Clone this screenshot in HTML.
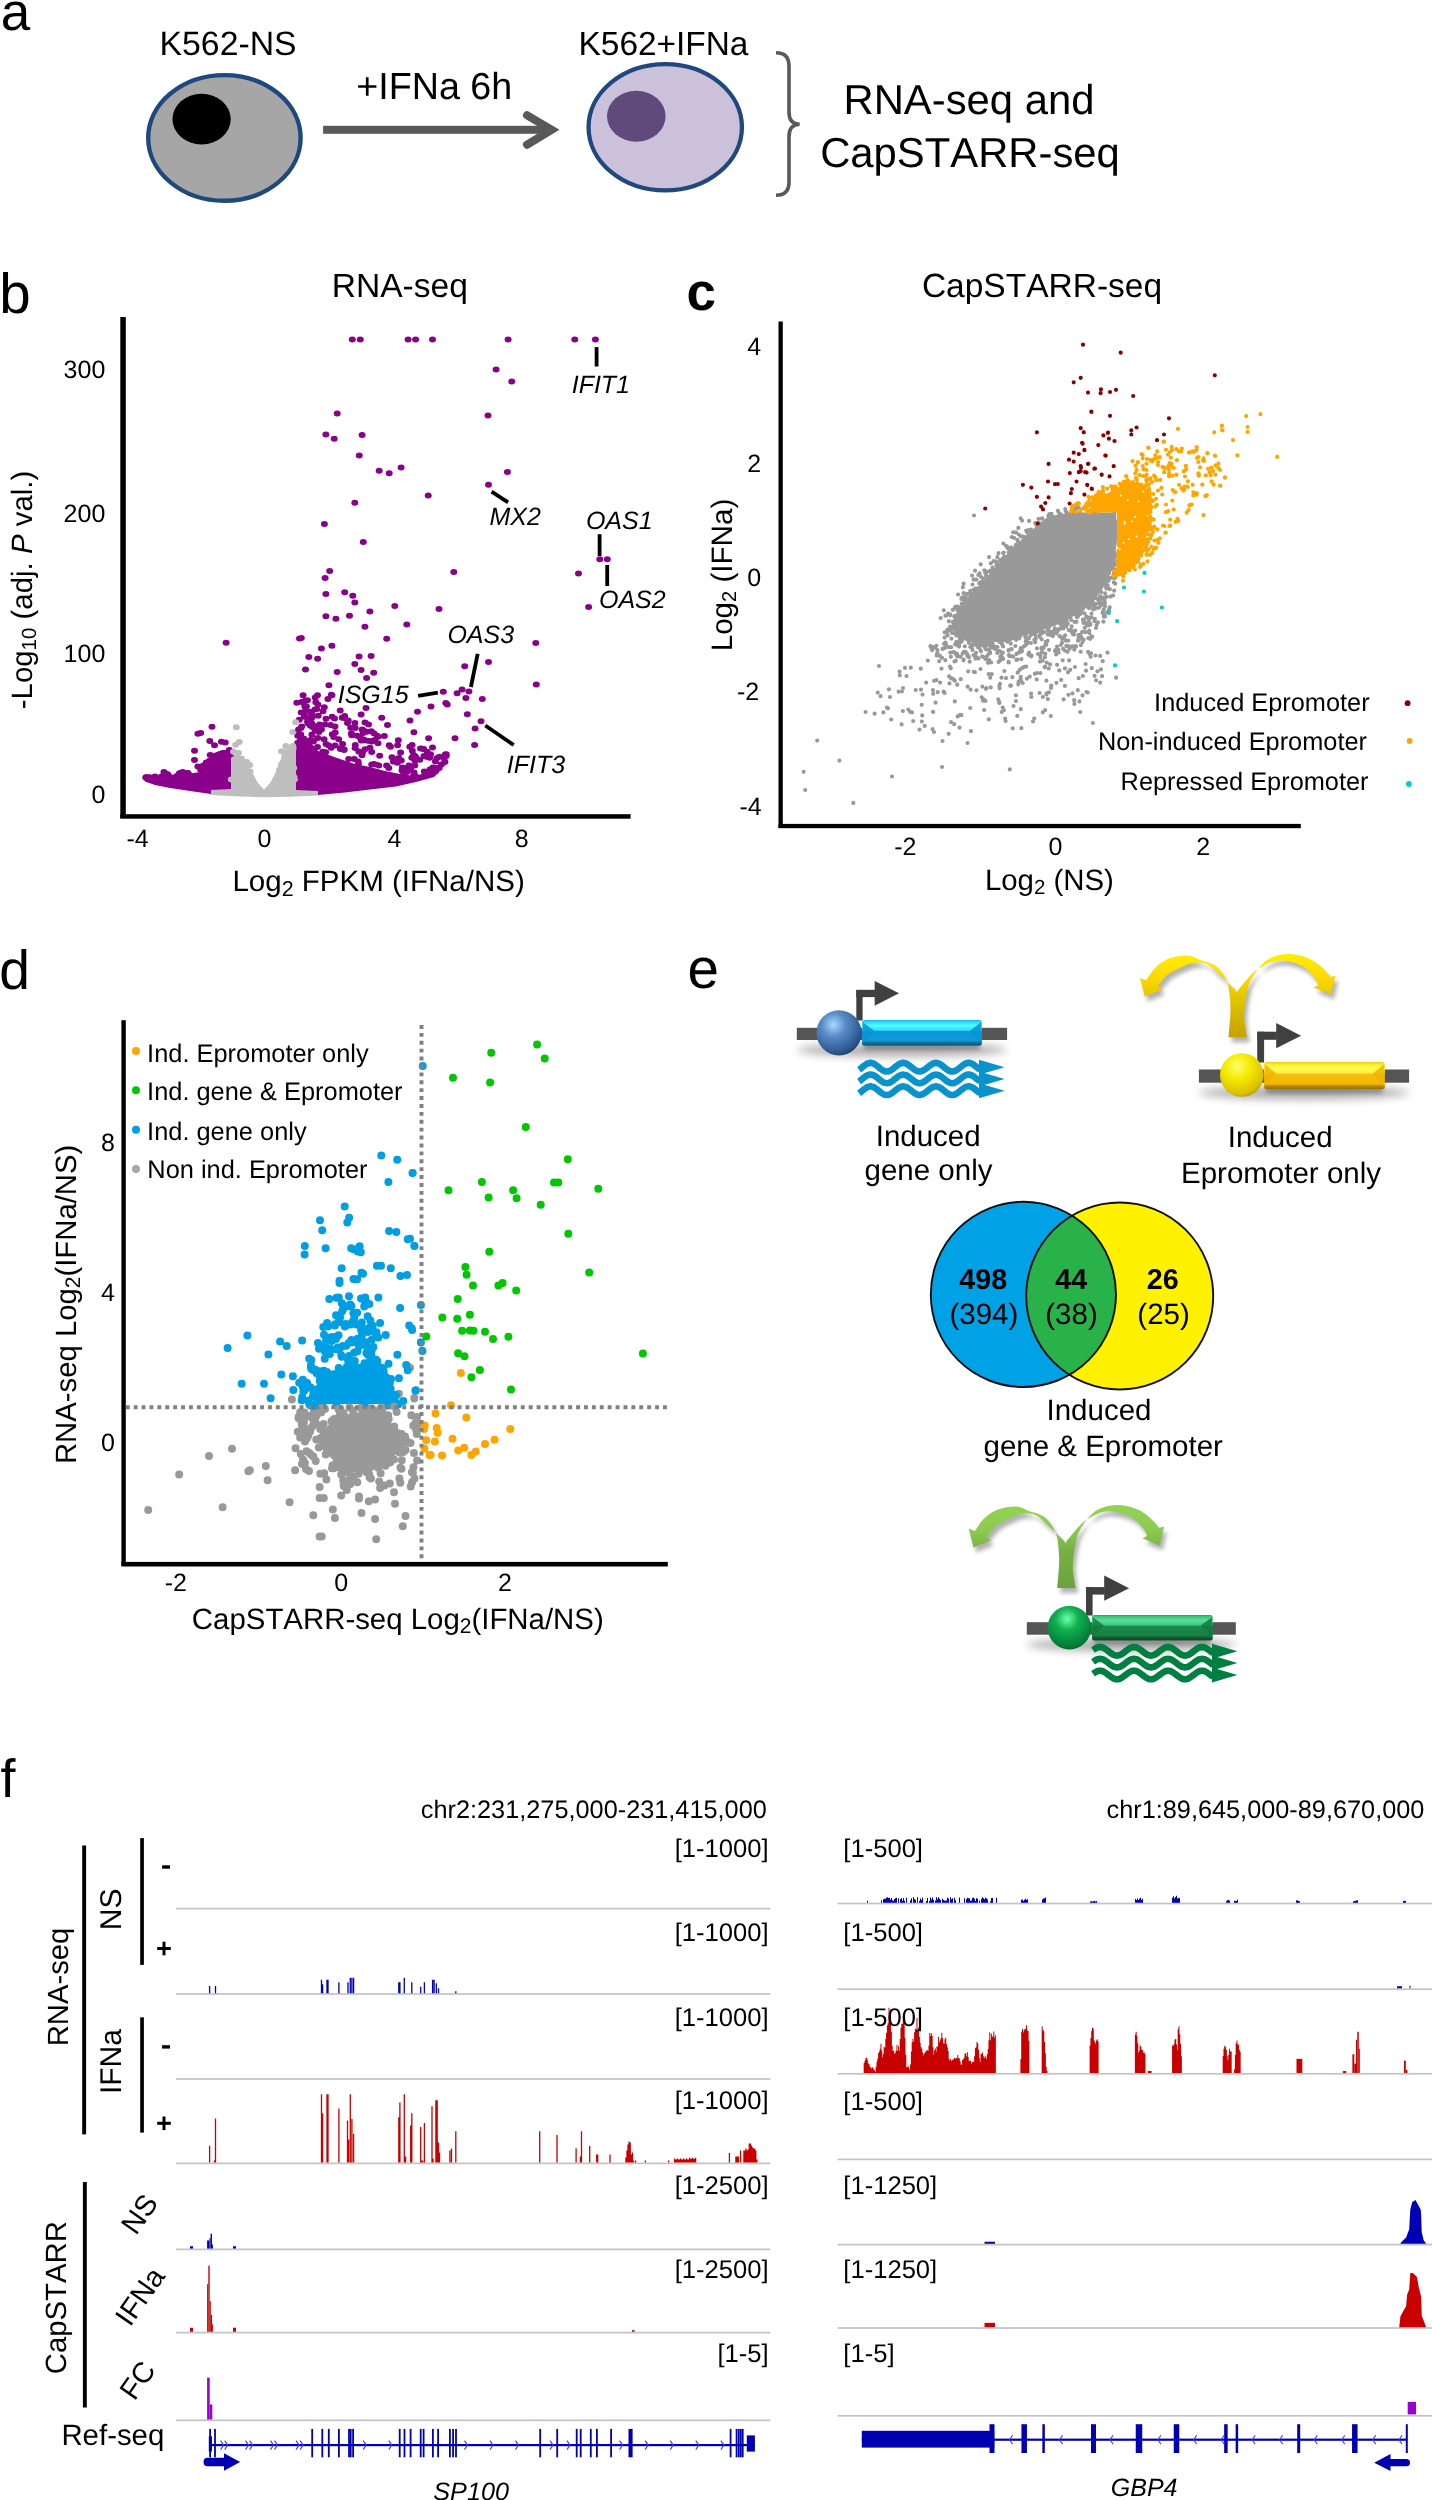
<!DOCTYPE html>
<html><head><meta charset="utf-8"><title>Figure</title>
<style>
html,body{margin:0;padding:0;background:#fff;}
svg{will-change:transform;}
body{width:1432px;height:2500px;overflow:hidden;}
svg{display:block;font-family:"Liberation Sans", sans-serif;}
text{font-kerning:none;text-rendering:geometricPrecision;}
</style></head><body>
<svg width="1432" height="2500" viewBox="0 0 1432 2500">
<rect width="1432" height="2500" fill="#fff"/>
<text x="0.7" y="30.0" font-size="53">a</text>
<text x="159.5" y="54.9" font-size="33.8">K562-NS</text>
<text x="356.2" y="98.6" font-size="37.7">+IFNa 6h</text>
<text x="578.6" y="54.5" font-size="33.4">K562+IFNa</text>
<text x="843.5" y="114.1" font-size="41.8">RNA-seq and</text>
<text x="820.2" y="166.6" font-size="41.8">CapSTARR-seq</text>
<ellipse cx="224.4" cy="137.95" rx="76.2" ry="62.85" fill="#A6A6A6" stroke="#1F497D" stroke-width="4.4"/>
<ellipse cx="201.6" cy="119.1" rx="29.15" ry="25.4" fill="#000"/>
<ellipse cx="665.25" cy="127.25" rx="76.7" ry="63.2" fill="#CCC1DA" stroke="#1F497D" stroke-width="4.3"/>
<ellipse cx="636.3" cy="116.25" rx="29.3" ry="25.45" fill="#604A7B"/>
<rect x="323.10" y="125.80" width="226.00" height="8.00" fill="#595959"/>
<polyline points="527,115.3 551.7,129.8 527,144.7" fill="none" stroke="#595959" stroke-width="8" stroke-linecap="round" stroke-linejoin="miter" stroke-miterlimit="10"/>
<path d="M776 52.8 Q789 52.8 789 66 L789 112 Q789 124.3 799.7 124.3 Q789 124.3 789 137 L789 182 Q789 195.3 776 195.3" fill="none" stroke="#595959" stroke-width="3.6"/>
<text x="-0.7" y="312.8" font-size="56.5">b</text>
<text x="331.7" y="296.5" font-size="33.6">RNA-seq</text>
<rect x="120.30" y="317.00" width="5.50" height="501.00" fill="#000"/>
<rect x="120.30" y="814.20" width="510.30" height="4.50" fill="#000"/>
<text x="105.3" y="377.5" font-size="25" text-anchor="end">300</text>
<text x="105.3" y="521.6" font-size="25" text-anchor="end">200</text>
<text x="105.3" y="662.2" font-size="25" text-anchor="end">100</text>
<text x="105.3" y="802.8" font-size="25" text-anchor="end">0</text>
<text x="137.6" y="847.0" font-size="25" text-anchor="middle">-4</text>
<text x="264.4" y="847.0" font-size="25" text-anchor="middle">0</text>
<text x="394.5" y="847.0" font-size="25" text-anchor="middle">4</text>
<text x="521.8" y="847.0" font-size="25" text-anchor="middle">8</text>
<text x="378.6" y="891.4" font-size="29.5" text-anchor="middle" id="bxl">Log<tspan font-size="21.5" dy="4.1">2</tspan><tspan dy="-4.1"> FPKM (IFNa/NS)</tspan></text>
<text x="32.2" y="590.0" font-size="29.4" text-anchor="middle" transform="rotate(-90 32.2 590.0)" id="byl">-Log<tspan font-size="20.5" dy="4.2">10</tspan><tspan dy="-4.2"> (adj. </tspan><tspan font-style="italic">P</tspan> val.)</text>
<polygon points="143.0,778.0 150.0,777.5 160.0,777.0 175.0,775.5 190.0,773.5 200.0,772.0 208.0,769.5 213.0,766.0 214.0,753.0 222.0,750.0 232.0,750.0 232.0,793.0 211.0,794.0 190.0,791.0 170.0,788.0 155.0,785.0 145.0,781.5" fill="#8B008B"/>
<polygon points="296.0,795.0 296.0,742.0 299.0,735.0 306.0,736.0 312.0,744.0 318.0,751.0 326.0,754.0 340.0,759.0 355.0,764.0 370.0,767.0 385.0,771.0 400.0,774.0 415.0,776.0 425.0,773.0 433.0,768.0 440.0,771.0 434.0,777.0 416.0,782.0 396.0,786.5 370.0,789.5 345.0,792.5 318.0,795.0" fill="#8B008B"/>
<polygon points="211.0,790.0 231.0,789.0 231.0,757.0 236.0,754.0 242.0,757.0 247.0,764.0 252.0,772.0 258.0,783.0 264.0,789.5 270.0,783.0 276.0,772.0 279.0,764.0 282.0,756.0 287.0,748.0 293.0,745.0 296.0,748.0 296.0,790.0 318.0,791.0 318.0,795.5 290.0,796.8 264.0,797.2 240.0,796.5 211.0,795.0" fill="#BEBEBE"/>
<path fill="#8B008B" d="M151.5 776.5a3.5 3.0 0 1 0 7.0 0a3.5 3.0 0 1 0 -7.0 0zM207.5 755.2a3.5 3.0 0 1 0 7.0 0a3.5 3.0 0 1 0 -7.0 0zM213.9 761.6a3.5 3.0 0 1 0 7.0 0a3.5 3.0 0 1 0 -7.0 0zM179.1 772.0a3.5 3.0 0 1 0 7.0 0a3.5 3.0 0 1 0 -7.0 0zM223.1 759.7a3.5 3.0 0 1 0 7.0 0a3.5 3.0 0 1 0 -7.0 0zM214.0 766.0a3.5 3.0 0 1 0 7.0 0a3.5 3.0 0 1 0 -7.0 0zM203.7 771.6a3.5 3.0 0 1 0 7.0 0a3.5 3.0 0 1 0 -7.0 0zM222.8 761.2a3.5 3.0 0 1 0 7.0 0a3.5 3.0 0 1 0 -7.0 0zM210.5 760.9a3.5 3.0 0 1 0 7.0 0a3.5 3.0 0 1 0 -7.0 0zM202.1 770.3a3.5 3.0 0 1 0 7.0 0a3.5 3.0 0 1 0 -7.0 0zM184.7 774.0a3.5 3.0 0 1 0 7.0 0a3.5 3.0 0 1 0 -7.0 0zM208.1 765.4a3.5 3.0 0 1 0 7.0 0a3.5 3.0 0 1 0 -7.0 0zM216.1 754.4a3.5 3.0 0 1 0 7.0 0a3.5 3.0 0 1 0 -7.0 0zM211.5 764.7a3.5 3.0 0 1 0 7.0 0a3.5 3.0 0 1 0 -7.0 0zM144.5 777.3a3.5 3.0 0 1 0 7.0 0a3.5 3.0 0 1 0 -7.0 0zM162.2 776.3a3.5 3.0 0 1 0 7.0 0a3.5 3.0 0 1 0 -7.0 0zM206.7 755.0a3.5 3.0 0 1 0 7.0 0a3.5 3.0 0 1 0 -7.0 0zM202.8 762.4a3.5 3.0 0 1 0 7.0 0a3.5 3.0 0 1 0 -7.0 0zM149.2 778.4a3.5 3.0 0 1 0 7.0 0a3.5 3.0 0 1 0 -7.0 0zM199.9 765.6a3.5 3.0 0 1 0 7.0 0a3.5 3.0 0 1 0 -7.0 0zM210.5 764.6a3.5 3.0 0 1 0 7.0 0a3.5 3.0 0 1 0 -7.0 0zM166.8 776.9a3.5 3.0 0 1 0 7.0 0a3.5 3.0 0 1 0 -7.0 0zM205.7 761.0a3.5 3.0 0 1 0 7.0 0a3.5 3.0 0 1 0 -7.0 0zM202.2 764.3a3.5 3.0 0 1 0 7.0 0a3.5 3.0 0 1 0 -7.0 0zM168.5 777.4a3.5 3.0 0 1 0 7.0 0a3.5 3.0 0 1 0 -7.0 0zM222.5 758.4a3.5 3.0 0 1 0 7.0 0a3.5 3.0 0 1 0 -7.0 0zM160.4 772.1a3.5 3.0 0 1 0 7.0 0a3.5 3.0 0 1 0 -7.0 0zM220.6 753.7a3.5 3.0 0 1 0 7.0 0a3.5 3.0 0 1 0 -7.0 0zM207.1 767.6a3.5 3.0 0 1 0 7.0 0a3.5 3.0 0 1 0 -7.0 0zM214.4 759.3a3.5 3.0 0 1 0 7.0 0a3.5 3.0 0 1 0 -7.0 0zM146.0 777.2a3.5 3.0 0 1 0 7.0 0a3.5 3.0 0 1 0 -7.0 0zM209.1 759.6a3.5 3.0 0 1 0 7.0 0a3.5 3.0 0 1 0 -7.0 0zM221.8 762.5a3.5 3.0 0 1 0 7.0 0a3.5 3.0 0 1 0 -7.0 0zM164.2 774.3a3.5 3.0 0 1 0 7.0 0a3.5 3.0 0 1 0 -7.0 0zM149.7 777.9a3.5 3.0 0 1 0 7.0 0a3.5 3.0 0 1 0 -7.0 0zM161.0 772.8a3.5 3.0 0 1 0 7.0 0a3.5 3.0 0 1 0 -7.0 0zM148.7 778.8a3.5 3.0 0 1 0 7.0 0a3.5 3.0 0 1 0 -7.0 0zM220.4 756.6a3.5 3.0 0 1 0 7.0 0a3.5 3.0 0 1 0 -7.0 0zM226.9 756.6a3.5 3.0 0 1 0 7.0 0a3.5 3.0 0 1 0 -7.0 0zM225.8 750.0a3.5 3.0 0 1 0 7.0 0a3.5 3.0 0 1 0 -7.0 0z"/>
<path fill="#8B008B" d="M301.3 706.5a3.5 3.0 0 1 0 7.0 0a3.5 3.0 0 1 0 -7.0 0zM422.8 756.7a3.5 3.0 0 1 0 7.0 0a3.5 3.0 0 1 0 -7.0 0zM387.0 746.7a3.5 3.0 0 1 0 7.0 0a3.5 3.0 0 1 0 -7.0 0zM359.7 730.3a3.5 3.0 0 1 0 7.0 0a3.5 3.0 0 1 0 -7.0 0zM298.1 702.1a3.5 3.0 0 1 0 7.0 0a3.5 3.0 0 1 0 -7.0 0zM365.0 724.5a3.5 3.0 0 1 0 7.0 0a3.5 3.0 0 1 0 -7.0 0zM374.5 743.2a3.5 3.0 0 1 0 7.0 0a3.5 3.0 0 1 0 -7.0 0zM431.9 761.4a3.5 3.0 0 1 0 7.0 0a3.5 3.0 0 1 0 -7.0 0zM407.1 769.8a3.5 3.0 0 1 0 7.0 0a3.5 3.0 0 1 0 -7.0 0zM411.5 760.8a3.5 3.0 0 1 0 7.0 0a3.5 3.0 0 1 0 -7.0 0zM410.1 755.1a3.5 3.0 0 1 0 7.0 0a3.5 3.0 0 1 0 -7.0 0zM364.5 740.8a3.5 3.0 0 1 0 7.0 0a3.5 3.0 0 1 0 -7.0 0zM370.6 764.0a3.5 3.0 0 1 0 7.0 0a3.5 3.0 0 1 0 -7.0 0zM327.1 725.0a3.5 3.0 0 1 0 7.0 0a3.5 3.0 0 1 0 -7.0 0zM441.8 754.4a3.5 3.0 0 1 0 7.0 0a3.5 3.0 0 1 0 -7.0 0zM371.2 739.9a3.5 3.0 0 1 0 7.0 0a3.5 3.0 0 1 0 -7.0 0zM394.1 745.3a3.5 3.0 0 1 0 7.0 0a3.5 3.0 0 1 0 -7.0 0zM341.1 716.0a3.5 3.0 0 1 0 7.0 0a3.5 3.0 0 1 0 -7.0 0zM420.5 755.9a3.5 3.0 0 1 0 7.0 0a3.5 3.0 0 1 0 -7.0 0zM309.1 740.2a3.5 3.0 0 1 0 7.0 0a3.5 3.0 0 1 0 -7.0 0zM358.5 755.2a3.5 3.0 0 1 0 7.0 0a3.5 3.0 0 1 0 -7.0 0zM297.5 727.9a3.5 3.0 0 1 0 7.0 0a3.5 3.0 0 1 0 -7.0 0zM319.3 751.8a3.5 3.0 0 1 0 7.0 0a3.5 3.0 0 1 0 -7.0 0zM295.8 719.7a3.5 3.0 0 1 0 7.0 0a3.5 3.0 0 1 0 -7.0 0zM321.2 753.2a3.5 3.0 0 1 0 7.0 0a3.5 3.0 0 1 0 -7.0 0zM298.2 726.5a3.5 3.0 0 1 0 7.0 0a3.5 3.0 0 1 0 -7.0 0zM388.5 757.2a3.5 3.0 0 1 0 7.0 0a3.5 3.0 0 1 0 -7.0 0zM310.1 726.0a3.5 3.0 0 1 0 7.0 0a3.5 3.0 0 1 0 -7.0 0zM297.3 734.5a3.5 3.0 0 1 0 7.0 0a3.5 3.0 0 1 0 -7.0 0zM412.0 757.0a3.5 3.0 0 1 0 7.0 0a3.5 3.0 0 1 0 -7.0 0zM433.2 758.2a3.5 3.0 0 1 0 7.0 0a3.5 3.0 0 1 0 -7.0 0zM427.0 754.3a3.5 3.0 0 1 0 7.0 0a3.5 3.0 0 1 0 -7.0 0zM308.4 734.5a3.5 3.0 0 1 0 7.0 0a3.5 3.0 0 1 0 -7.0 0zM295.3 743.0a3.5 3.0 0 1 0 7.0 0a3.5 3.0 0 1 0 -7.0 0zM314.4 704.4a3.5 3.0 0 1 0 7.0 0a3.5 3.0 0 1 0 -7.0 0zM297.7 712.4a3.5 3.0 0 1 0 7.0 0a3.5 3.0 0 1 0 -7.0 0zM307.5 748.9a3.5 3.0 0 1 0 7.0 0a3.5 3.0 0 1 0 -7.0 0zM328.8 734.2a3.5 3.0 0 1 0 7.0 0a3.5 3.0 0 1 0 -7.0 0zM331.6 745.5a3.5 3.0 0 1 0 7.0 0a3.5 3.0 0 1 0 -7.0 0zM389.9 761.6a3.5 3.0 0 1 0 7.0 0a3.5 3.0 0 1 0 -7.0 0zM358.5 740.5a3.5 3.0 0 1 0 7.0 0a3.5 3.0 0 1 0 -7.0 0zM293.3 702.7a3.5 3.0 0 1 0 7.0 0a3.5 3.0 0 1 0 -7.0 0zM308.1 714.0a3.5 3.0 0 1 0 7.0 0a3.5 3.0 0 1 0 -7.0 0zM328.6 716.7a3.5 3.0 0 1 0 7.0 0a3.5 3.0 0 1 0 -7.0 0zM373.7 735.8a3.5 3.0 0 1 0 7.0 0a3.5 3.0 0 1 0 -7.0 0zM340.8 749.4a3.5 3.0 0 1 0 7.0 0a3.5 3.0 0 1 0 -7.0 0zM442.7 756.1a3.5 3.0 0 1 0 7.0 0a3.5 3.0 0 1 0 -7.0 0zM360.2 739.4a3.5 3.0 0 1 0 7.0 0a3.5 3.0 0 1 0 -7.0 0zM357.7 740.4a3.5 3.0 0 1 0 7.0 0a3.5 3.0 0 1 0 -7.0 0zM320.8 707.2a3.5 3.0 0 1 0 7.0 0a3.5 3.0 0 1 0 -7.0 0zM308.3 723.6a3.5 3.0 0 1 0 7.0 0a3.5 3.0 0 1 0 -7.0 0zM423.6 751.8a3.5 3.0 0 1 0 7.0 0a3.5 3.0 0 1 0 -7.0 0zM295.0 734.8a3.5 3.0 0 1 0 7.0 0a3.5 3.0 0 1 0 -7.0 0zM356.6 737.4a3.5 3.0 0 1 0 7.0 0a3.5 3.0 0 1 0 -7.0 0zM325.0 745.3a3.5 3.0 0 1 0 7.0 0a3.5 3.0 0 1 0 -7.0 0zM304.0 721.9a3.5 3.0 0 1 0 7.0 0a3.5 3.0 0 1 0 -7.0 0zM322.5 744.0a3.5 3.0 0 1 0 7.0 0a3.5 3.0 0 1 0 -7.0 0zM353.6 735.7a3.5 3.0 0 1 0 7.0 0a3.5 3.0 0 1 0 -7.0 0zM311.5 709.4a3.5 3.0 0 1 0 7.0 0a3.5 3.0 0 1 0 -7.0 0zM395.3 759.8a3.5 3.0 0 1 0 7.0 0a3.5 3.0 0 1 0 -7.0 0zM348.3 735.2a3.5 3.0 0 1 0 7.0 0a3.5 3.0 0 1 0 -7.0 0zM374.6 736.8a3.5 3.0 0 1 0 7.0 0a3.5 3.0 0 1 0 -7.0 0zM441.4 761.9a3.5 3.0 0 1 0 7.0 0a3.5 3.0 0 1 0 -7.0 0zM437.9 764.4a3.5 3.0 0 1 0 7.0 0a3.5 3.0 0 1 0 -7.0 0zM338.8 717.8a3.5 3.0 0 1 0 7.0 0a3.5 3.0 0 1 0 -7.0 0zM359.2 752.3a3.5 3.0 0 1 0 7.0 0a3.5 3.0 0 1 0 -7.0 0zM315.4 732.1a3.5 3.0 0 1 0 7.0 0a3.5 3.0 0 1 0 -7.0 0zM302.9 706.6a3.5 3.0 0 1 0 7.0 0a3.5 3.0 0 1 0 -7.0 0zM338.7 717.8a3.5 3.0 0 1 0 7.0 0a3.5 3.0 0 1 0 -7.0 0zM397.1 752.4a3.5 3.0 0 1 0 7.0 0a3.5 3.0 0 1 0 -7.0 0zM361.0 740.3a3.5 3.0 0 1 0 7.0 0a3.5 3.0 0 1 0 -7.0 0zM310.0 741.6a3.5 3.0 0 1 0 7.0 0a3.5 3.0 0 1 0 -7.0 0zM440.7 758.2a3.5 3.0 0 1 0 7.0 0a3.5 3.0 0 1 0 -7.0 0zM307.5 739.8a3.5 3.0 0 1 0 7.0 0a3.5 3.0 0 1 0 -7.0 0zM385.3 767.9a3.5 3.0 0 1 0 7.0 0a3.5 3.0 0 1 0 -7.0 0zM320.6 739.3a3.5 3.0 0 1 0 7.0 0a3.5 3.0 0 1 0 -7.0 0zM367.8 731.2a3.5 3.0 0 1 0 7.0 0a3.5 3.0 0 1 0 -7.0 0zM403.3 772.1a3.5 3.0 0 1 0 7.0 0a3.5 3.0 0 1 0 -7.0 0zM408.8 750.7a3.5 3.0 0 1 0 7.0 0a3.5 3.0 0 1 0 -7.0 0zM411.3 765.6a3.5 3.0 0 1 0 7.0 0a3.5 3.0 0 1 0 -7.0 0zM327.6 747.8a3.5 3.0 0 1 0 7.0 0a3.5 3.0 0 1 0 -7.0 0zM355.3 751.4a3.5 3.0 0 1 0 7.0 0a3.5 3.0 0 1 0 -7.0 0zM294.3 735.8a3.5 3.0 0 1 0 7.0 0a3.5 3.0 0 1 0 -7.0 0zM403.5 768.0a3.5 3.0 0 1 0 7.0 0a3.5 3.0 0 1 0 -7.0 0zM393.9 762.8a3.5 3.0 0 1 0 7.0 0a3.5 3.0 0 1 0 -7.0 0zM406.3 746.7a3.5 3.0 0 1 0 7.0 0a3.5 3.0 0 1 0 -7.0 0zM433.7 768.1a3.5 3.0 0 1 0 7.0 0a3.5 3.0 0 1 0 -7.0 0zM408.6 745.1a3.5 3.0 0 1 0 7.0 0a3.5 3.0 0 1 0 -7.0 0zM314.0 747.1a3.5 3.0 0 1 0 7.0 0a3.5 3.0 0 1 0 -7.0 0zM380.8 736.0a3.5 3.0 0 1 0 7.0 0a3.5 3.0 0 1 0 -7.0 0zM303.9 700.2a3.5 3.0 0 1 0 7.0 0a3.5 3.0 0 1 0 -7.0 0zM368.2 764.5a3.5 3.0 0 1 0 7.0 0a3.5 3.0 0 1 0 -7.0 0zM395.2 758.1a3.5 3.0 0 1 0 7.0 0a3.5 3.0 0 1 0 -7.0 0zM368.2 752.0a3.5 3.0 0 1 0 7.0 0a3.5 3.0 0 1 0 -7.0 0zM344.7 720.6a3.5 3.0 0 1 0 7.0 0a3.5 3.0 0 1 0 -7.0 0zM397.8 760.6a3.5 3.0 0 1 0 7.0 0a3.5 3.0 0 1 0 -7.0 0zM317.9 729.4a3.5 3.0 0 1 0 7.0 0a3.5 3.0 0 1 0 -7.0 0zM294.1 742.9a3.5 3.0 0 1 0 7.0 0a3.5 3.0 0 1 0 -7.0 0zM340.6 750.0a3.5 3.0 0 1 0 7.0 0a3.5 3.0 0 1 0 -7.0 0zM368.0 741.5a3.5 3.0 0 1 0 7.0 0a3.5 3.0 0 1 0 -7.0 0zM393.3 761.3a3.5 3.0 0 1 0 7.0 0a3.5 3.0 0 1 0 -7.0 0zM375.3 765.5a3.5 3.0 0 1 0 7.0 0a3.5 3.0 0 1 0 -7.0 0zM417.0 748.4a3.5 3.0 0 1 0 7.0 0a3.5 3.0 0 1 0 -7.0 0zM340.6 717.9a3.5 3.0 0 1 0 7.0 0a3.5 3.0 0 1 0 -7.0 0zM351.7 728.1a3.5 3.0 0 1 0 7.0 0a3.5 3.0 0 1 0 -7.0 0zM361.5 722.5a3.5 3.0 0 1 0 7.0 0a3.5 3.0 0 1 0 -7.0 0zM432.1 771.0a3.5 3.0 0 1 0 7.0 0a3.5 3.0 0 1 0 -7.0 0zM361.5 749.3a3.5 3.0 0 1 0 7.0 0a3.5 3.0 0 1 0 -7.0 0zM308.0 718.3a3.5 3.0 0 1 0 7.0 0a3.5 3.0 0 1 0 -7.0 0zM322.1 752.2a3.5 3.0 0 1 0 7.0 0a3.5 3.0 0 1 0 -7.0 0zM350.8 727.4a3.5 3.0 0 1 0 7.0 0a3.5 3.0 0 1 0 -7.0 0zM418.6 748.7a3.5 3.0 0 1 0 7.0 0a3.5 3.0 0 1 0 -7.0 0zM354.9 763.4a3.5 3.0 0 1 0 7.0 0a3.5 3.0 0 1 0 -7.0 0zM400.1 773.1a3.5 3.0 0 1 0 7.0 0a3.5 3.0 0 1 0 -7.0 0zM408.3 757.8a3.5 3.0 0 1 0 7.0 0a3.5 3.0 0 1 0 -7.0 0zM428.1 772.0a3.5 3.0 0 1 0 7.0 0a3.5 3.0 0 1 0 -7.0 0zM410.1 775.4a3.5 3.0 0 1 0 7.0 0a3.5 3.0 0 1 0 -7.0 0zM338.0 747.9a3.5 3.0 0 1 0 7.0 0a3.5 3.0 0 1 0 -7.0 0zM312.3 702.2a3.5 3.0 0 1 0 7.0 0a3.5 3.0 0 1 0 -7.0 0zM347.2 727.7a3.5 3.0 0 1 0 7.0 0a3.5 3.0 0 1 0 -7.0 0zM435.7 768.0a3.5 3.0 0 1 0 7.0 0a3.5 3.0 0 1 0 -7.0 0zM336.9 749.1a3.5 3.0 0 1 0 7.0 0a3.5 3.0 0 1 0 -7.0 0zM316.0 724.4a3.5 3.0 0 1 0 7.0 0a3.5 3.0 0 1 0 -7.0 0zM314.7 715.7a3.5 3.0 0 1 0 7.0 0a3.5 3.0 0 1 0 -7.0 0zM331.7 732.4a3.5 3.0 0 1 0 7.0 0a3.5 3.0 0 1 0 -7.0 0zM331.5 726.4a3.5 3.0 0 1 0 7.0 0a3.5 3.0 0 1 0 -7.0 0zM331.0 718.5a3.5 3.0 0 1 0 7.0 0a3.5 3.0 0 1 0 -7.0 0zM350.7 759.1a3.5 3.0 0 1 0 7.0 0a3.5 3.0 0 1 0 -7.0 0zM302.1 711.1a3.5 3.0 0 1 0 7.0 0a3.5 3.0 0 1 0 -7.0 0zM374.1 765.1a3.5 3.0 0 1 0 7.0 0a3.5 3.0 0 1 0 -7.0 0zM345.2 759.1a3.5 3.0 0 1 0 7.0 0a3.5 3.0 0 1 0 -7.0 0zM366.4 747.7a3.5 3.0 0 1 0 7.0 0a3.5 3.0 0 1 0 -7.0 0zM385.7 745.3a3.5 3.0 0 1 0 7.0 0a3.5 3.0 0 1 0 -7.0 0zM363.4 731.7a3.5 3.0 0 1 0 7.0 0a3.5 3.0 0 1 0 -7.0 0zM398.5 770.5a3.5 3.0 0 1 0 7.0 0a3.5 3.0 0 1 0 -7.0 0zM304.6 723.5a3.5 3.0 0 1 0 7.0 0a3.5 3.0 0 1 0 -7.0 0zM309.0 727.0a3.5 3.0 0 1 0 7.0 0a3.5 3.0 0 1 0 -7.0 0zM319.5 711.3a3.5 3.0 0 1 0 7.0 0a3.5 3.0 0 1 0 -7.0 0zM330.2 737.1a3.5 3.0 0 1 0 7.0 0a3.5 3.0 0 1 0 -7.0 0zM398.9 767.4a3.5 3.0 0 1 0 7.0 0a3.5 3.0 0 1 0 -7.0 0zM314.3 737.9a3.5 3.0 0 1 0 7.0 0a3.5 3.0 0 1 0 -7.0 0zM313.1 709.0a3.5 3.0 0 1 0 7.0 0a3.5 3.0 0 1 0 -7.0 0zM309.4 716.3a3.5 3.0 0 1 0 7.0 0a3.5 3.0 0 1 0 -7.0 0zM300.8 716.6a3.5 3.0 0 1 0 7.0 0a3.5 3.0 0 1 0 -7.0 0zM351.6 747.9a3.5 3.0 0 1 0 7.0 0a3.5 3.0 0 1 0 -7.0 0zM426.4 769.6a3.5 3.0 0 1 0 7.0 0a3.5 3.0 0 1 0 -7.0 0zM351.4 722.9a3.5 3.0 0 1 0 7.0 0a3.5 3.0 0 1 0 -7.0 0zM359.7 732.9a3.5 3.0 0 1 0 7.0 0a3.5 3.0 0 1 0 -7.0 0zM354.6 761.4a3.5 3.0 0 1 0 7.0 0a3.5 3.0 0 1 0 -7.0 0zM411.9 776.0a3.5 3.0 0 1 0 7.0 0a3.5 3.0 0 1 0 -7.0 0z"/>
<path fill="#BEBEBE" d="M233.4 770.0a3.5 3.0 0 1 0 7.0 0a3.5 3.0 0 1 0 -7.0 0zM236.7 771.9a3.5 3.0 0 1 0 7.0 0a3.5 3.0 0 1 0 -7.0 0zM227.8 779.6a3.5 3.0 0 1 0 7.0 0a3.5 3.0 0 1 0 -7.0 0zM234.0 759.7a3.5 3.0 0 1 0 7.0 0a3.5 3.0 0 1 0 -7.0 0zM243.4 780.6a3.5 3.0 0 1 0 7.0 0a3.5 3.0 0 1 0 -7.0 0zM240.6 776.5a3.5 3.0 0 1 0 7.0 0a3.5 3.0 0 1 0 -7.0 0zM246.5 771.5a3.5 3.0 0 1 0 7.0 0a3.5 3.0 0 1 0 -7.0 0zM235.0 753.0a3.5 3.0 0 1 0 7.0 0a3.5 3.0 0 1 0 -7.0 0zM245.5 781.0a3.5 3.0 0 1 0 7.0 0a3.5 3.0 0 1 0 -7.0 0zM237.4 778.4a3.5 3.0 0 1 0 7.0 0a3.5 3.0 0 1 0 -7.0 0zM230.9 759.2a3.5 3.0 0 1 0 7.0 0a3.5 3.0 0 1 0 -7.0 0zM243.2 761.9a3.5 3.0 0 1 0 7.0 0a3.5 3.0 0 1 0 -7.0 0z"/>
<path fill="#BEBEBE" d="M278.0 751.2a3.5 3.0 0 1 0 7.0 0a3.5 3.0 0 1 0 -7.0 0zM290.5 777.0a3.5 3.0 0 1 0 7.0 0a3.5 3.0 0 1 0 -7.0 0zM286.9 753.9a3.5 3.0 0 1 0 7.0 0a3.5 3.0 0 1 0 -7.0 0zM281.4 756.1a3.5 3.0 0 1 0 7.0 0a3.5 3.0 0 1 0 -7.0 0zM273.6 782.1a3.5 3.0 0 1 0 7.0 0a3.5 3.0 0 1 0 -7.0 0zM288.4 777.3a3.5 3.0 0 1 0 7.0 0a3.5 3.0 0 1 0 -7.0 0zM287.7 752.7a3.5 3.0 0 1 0 7.0 0a3.5 3.0 0 1 0 -7.0 0zM275.9 770.1a3.5 3.0 0 1 0 7.0 0a3.5 3.0 0 1 0 -7.0 0zM286.1 779.2a3.5 3.0 0 1 0 7.0 0a3.5 3.0 0 1 0 -7.0 0zM289.6 748.5a3.5 3.0 0 1 0 7.0 0a3.5 3.0 0 1 0 -7.0 0zM283.0 771.9a3.5 3.0 0 1 0 7.0 0a3.5 3.0 0 1 0 -7.0 0zM280.6 752.1a3.5 3.0 0 1 0 7.0 0a3.5 3.0 0 1 0 -7.0 0zM290.9 779.6a3.5 3.0 0 1 0 7.0 0a3.5 3.0 0 1 0 -7.0 0zM281.6 757.0a3.5 3.0 0 1 0 7.0 0a3.5 3.0 0 1 0 -7.0 0zM290.3 767.9a3.5 3.0 0 1 0 7.0 0a3.5 3.0 0 1 0 -7.0 0z"/>
<path fill="#BEBEBE" d="M232.8 727.2a3.5 3.0 0 1 0 7.0 0a3.5 3.0 0 1 0 -7.0 0zM235.7 741.9a3.5 3.0 0 1 0 7.0 0a3.5 3.0 0 1 0 -7.0 0zM232.2 744.7a3.5 3.0 0 1 0 7.0 0a3.5 3.0 0 1 0 -7.0 0zM230.1 751.7a3.5 3.0 0 1 0 7.0 0a3.5 3.0 0 1 0 -7.0 0zM235.1 758.7a3.5 3.0 0 1 0 7.0 0a3.5 3.0 0 1 0 -7.0 0zM238.0 758.7a3.5 3.0 0 1 0 7.0 0a3.5 3.0 0 1 0 -7.0 0zM246.2 765.0a3.5 3.0 0 1 0 7.0 0a3.5 3.0 0 1 0 -7.0 0zM292.1 722.3a3.5 3.0 0 1 0 7.0 0a3.5 3.0 0 1 0 -7.0 0zM289.3 732.1a3.5 3.0 0 1 0 7.0 0a3.5 3.0 0 1 0 -7.0 0zM282.3 746.1a3.5 3.0 0 1 0 7.0 0a3.5 3.0 0 1 0 -7.0 0zM289.3 746.1a3.5 3.0 0 1 0 7.0 0a3.5 3.0 0 1 0 -7.0 0zM285.1 753.1a3.5 3.0 0 1 0 7.0 0a3.5 3.0 0 1 0 -7.0 0zM278.1 764.3a3.5 3.0 0 1 0 7.0 0a3.5 3.0 0 1 0 -7.0 0zM276.7 772.7a3.5 3.0 0 1 0 7.0 0a3.5 3.0 0 1 0 -7.0 0z"/>
<path fill="#8B008B" d="M142.4 777.5a3.5 3.0 0 1 0 7.0 0a3.5 3.0 0 1 0 -7.0 0zM153.5 778.5a3.5 3.0 0 1 0 7.0 0a3.5 3.0 0 1 0 -7.0 0zM158.0 776.5a3.5 3.0 0 1 0 7.0 0a3.5 3.0 0 1 0 -7.0 0zM165.0 780.5a3.5 3.0 0 1 0 7.0 0a3.5 3.0 0 1 0 -7.0 0zM173.4 776.1a3.5 3.0 0 1 0 7.0 0a3.5 3.0 0 1 0 -7.0 0zM176.2 773.3a3.5 3.0 0 1 0 7.0 0a3.5 3.0 0 1 0 -7.0 0zM184.6 773.3a3.5 3.0 0 1 0 7.0 0a3.5 3.0 0 1 0 -7.0 0zM191.5 776.0a3.5 3.0 0 1 0 7.0 0a3.5 3.0 0 1 0 -7.0 0zM197.1 769.8a3.5 3.0 0 1 0 7.0 0a3.5 3.0 0 1 0 -7.0 0zM204.1 768.4a3.5 3.0 0 1 0 7.0 0a3.5 3.0 0 1 0 -7.0 0z"/>
<path fill="#8B008B" d="M348.8 339.6a3.5 3.0 0 1 0 7.0 0a3.5 3.0 0 1 0 -7.0 0zM356.8 339.6a3.5 3.0 0 1 0 7.0 0a3.5 3.0 0 1 0 -7.0 0zM404.6 339.6a3.5 3.0 0 1 0 7.0 0a3.5 3.0 0 1 0 -7.0 0zM412.1 339.6a3.5 3.0 0 1 0 7.0 0a3.5 3.0 0 1 0 -7.0 0zM429.0 339.6a3.5 3.0 0 1 0 7.0 0a3.5 3.0 0 1 0 -7.0 0zM504.6 339.6a3.5 3.0 0 1 0 7.0 0a3.5 3.0 0 1 0 -7.0 0zM571.3 339.6a3.5 3.0 0 1 0 7.0 0a3.5 3.0 0 1 0 -7.0 0zM591.9 339.6a3.5 3.0 0 1 0 7.0 0a3.5 3.0 0 1 0 -7.0 0zM492.6 369.5a3.5 3.0 0 1 0 7.0 0a3.5 3.0 0 1 0 -7.0 0zM508.2 381.6a3.5 3.0 0 1 0 7.0 0a3.5 3.0 0 1 0 -7.0 0zM333.7 413.5a3.5 3.0 0 1 0 7.0 0a3.5 3.0 0 1 0 -7.0 0zM484.5 415.5a3.5 3.0 0 1 0 7.0 0a3.5 3.0 0 1 0 -7.0 0zM322.4 434.4a3.5 3.0 0 1 0 7.0 0a3.5 3.0 0 1 0 -7.0 0zM330.7 438.7a3.5 3.0 0 1 0 7.0 0a3.5 3.0 0 1 0 -7.0 0zM358.6 434.9a3.5 3.0 0 1 0 7.0 0a3.5 3.0 0 1 0 -7.0 0zM355.8 455.5a3.5 3.0 0 1 0 7.0 0a3.5 3.0 0 1 0 -7.0 0zM375.7 470.8a3.5 3.0 0 1 0 7.0 0a3.5 3.0 0 1 0 -7.0 0zM385.7 473.3a3.5 3.0 0 1 0 7.0 0a3.5 3.0 0 1 0 -7.0 0zM397.6 467.6a3.5 3.0 0 1 0 7.0 0a3.5 3.0 0 1 0 -7.0 0zM503.9 472.1a3.5 3.0 0 1 0 7.0 0a3.5 3.0 0 1 0 -7.0 0zM485.0 484.7a3.5 3.0 0 1 0 7.0 0a3.5 3.0 0 1 0 -7.0 0zM424.7 495.5a3.5 3.0 0 1 0 7.0 0a3.5 3.0 0 1 0 -7.0 0zM351.3 502.8a3.5 3.0 0 1 0 7.0 0a3.5 3.0 0 1 0 -7.0 0zM320.9 524.1a3.5 3.0 0 1 0 7.0 0a3.5 3.0 0 1 0 -7.0 0zM359.8 542.0a3.5 3.0 0 1 0 7.0 0a3.5 3.0 0 1 0 -7.0 0zM596.3 559.2a3.5 3.0 0 1 0 7.0 0a3.5 3.0 0 1 0 -7.0 0zM603.8 559.2a3.5 3.0 0 1 0 7.0 0a3.5 3.0 0 1 0 -7.0 0zM326.2 570.9a3.5 3.0 0 1 0 7.0 0a3.5 3.0 0 1 0 -7.0 0zM321.6 578.0a3.5 3.0 0 1 0 7.0 0a3.5 3.0 0 1 0 -7.0 0zM450.3 571.9a3.5 3.0 0 1 0 7.0 0a3.5 3.0 0 1 0 -7.0 0zM575.0 573.4a3.5 3.0 0 1 0 7.0 0a3.5 3.0 0 1 0 -7.0 0zM585.1 607.1a3.5 3.0 0 1 0 7.0 0a3.5 3.0 0 1 0 -7.0 0zM322.4 594.0a3.5 3.0 0 1 0 7.0 0a3.5 3.0 0 1 0 -7.0 0zM341.2 592.3a3.5 3.0 0 1 0 7.0 0a3.5 3.0 0 1 0 -7.0 0zM349.3 595.8a3.5 3.0 0 1 0 7.0 0a3.5 3.0 0 1 0 -7.0 0zM351.3 602.6a3.5 3.0 0 1 0 7.0 0a3.5 3.0 0 1 0 -7.0 0zM391.3 605.9a3.5 3.0 0 1 0 7.0 0a3.5 3.0 0 1 0 -7.0 0zM435.5 609.1a3.5 3.0 0 1 0 7.0 0a3.5 3.0 0 1 0 -7.0 0zM322.4 616.2a3.5 3.0 0 1 0 7.0 0a3.5 3.0 0 1 0 -7.0 0zM332.4 618.7a3.5 3.0 0 1 0 7.0 0a3.5 3.0 0 1 0 -7.0 0zM346.0 615.7a3.5 3.0 0 1 0 7.0 0a3.5 3.0 0 1 0 -7.0 0zM366.4 611.6a3.5 3.0 0 1 0 7.0 0a3.5 3.0 0 1 0 -7.0 0zM361.4 626.7a3.5 3.0 0 1 0 7.0 0a3.5 3.0 0 1 0 -7.0 0zM403.3 624.5a3.5 3.0 0 1 0 7.0 0a3.5 3.0 0 1 0 -7.0 0zM383.2 638.8a3.5 3.0 0 1 0 7.0 0a3.5 3.0 0 1 0 -7.0 0zM297.8 638.0a3.5 3.0 0 1 0 7.0 0a3.5 3.0 0 1 0 -7.0 0zM317.9 648.6a3.5 3.0 0 1 0 7.0 0a3.5 3.0 0 1 0 -7.0 0zM328.4 645.8a3.5 3.0 0 1 0 7.0 0a3.5 3.0 0 1 0 -7.0 0zM532.3 643.1a3.5 3.0 0 1 0 7.0 0a3.5 3.0 0 1 0 -7.0 0zM305.3 656.9a3.5 3.0 0 1 0 7.0 0a3.5 3.0 0 1 0 -7.0 0zM314.1 658.7a3.5 3.0 0 1 0 7.0 0a3.5 3.0 0 1 0 -7.0 0zM355.6 656.4a3.5 3.0 0 1 0 7.0 0a3.5 3.0 0 1 0 -7.0 0zM367.6 655.9a3.5 3.0 0 1 0 7.0 0a3.5 3.0 0 1 0 -7.0 0zM351.3 663.9a3.5 3.0 0 1 0 7.0 0a3.5 3.0 0 1 0 -7.0 0zM357.6 670.0a3.5 3.0 0 1 0 7.0 0a3.5 3.0 0 1 0 -7.0 0zM370.2 672.7a3.5 3.0 0 1 0 7.0 0a3.5 3.0 0 1 0 -7.0 0zM363.1 678.0a3.5 3.0 0 1 0 7.0 0a3.5 3.0 0 1 0 -7.0 0zM333.7 672.0a3.5 3.0 0 1 0 7.0 0a3.5 3.0 0 1 0 -7.0 0zM302.0 669.5a3.5 3.0 0 1 0 7.0 0a3.5 3.0 0 1 0 -7.0 0zM461.2 666.2a3.5 3.0 0 1 0 7.0 0a3.5 3.0 0 1 0 -7.0 0zM485.0 661.9a3.5 3.0 0 1 0 7.0 0a3.5 3.0 0 1 0 -7.0 0zM532.8 684.5a3.5 3.0 0 1 0 7.0 0a3.5 3.0 0 1 0 -7.0 0zM439.8 691.8a3.5 3.0 0 1 0 7.0 0a3.5 3.0 0 1 0 -7.0 0zM453.6 693.3a3.5 3.0 0 1 0 7.0 0a3.5 3.0 0 1 0 -7.0 0zM458.6 689.6a3.5 3.0 0 1 0 7.0 0a3.5 3.0 0 1 0 -7.0 0zM465.4 691.6a3.5 3.0 0 1 0 7.0 0a3.5 3.0 0 1 0 -7.0 0zM325.4 685.3a3.5 3.0 0 1 0 7.0 0a3.5 3.0 0 1 0 -7.0 0zM462.4 697.9a3.5 3.0 0 1 0 7.0 0a3.5 3.0 0 1 0 -7.0 0zM478.8 698.9a3.5 3.0 0 1 0 7.0 0a3.5 3.0 0 1 0 -7.0 0zM222.6 642.7a3.5 3.0 0 1 0 7.0 0a3.5 3.0 0 1 0 -7.0 0zM296.0 638.4a3.5 3.0 0 1 0 7.0 0a3.5 3.0 0 1 0 -7.0 0zM299.6 695.2a3.5 3.0 0 1 0 7.0 0a3.5 3.0 0 1 0 -7.0 0zM314.0 695.2a3.5 3.0 0 1 0 7.0 0a3.5 3.0 0 1 0 -7.0 0zM328.5 695.2a3.5 3.0 0 1 0 7.0 0a3.5 3.0 0 1 0 -7.0 0zM442.3 703.0a3.5 3.0 0 1 0 7.0 0a3.5 3.0 0 1 0 -7.0 0zM443.7 704.6a3.5 3.0 0 1 0 7.0 0a3.5 3.0 0 1 0 -7.0 0zM427.5 706.5a3.5 3.0 0 1 0 7.0 0a3.5 3.0 0 1 0 -7.0 0zM414.0 711.8a3.5 3.0 0 1 0 7.0 0a3.5 3.0 0 1 0 -7.0 0zM463.8 714.2a3.5 3.0 0 1 0 7.0 0a3.5 3.0 0 1 0 -7.0 0zM477.5 721.2a3.5 3.0 0 1 0 7.0 0a3.5 3.0 0 1 0 -7.0 0zM471.6 728.4a3.5 3.0 0 1 0 7.0 0a3.5 3.0 0 1 0 -7.0 0zM406.5 720.6a3.5 3.0 0 1 0 7.0 0a3.5 3.0 0 1 0 -7.0 0zM410.4 732.3a3.5 3.0 0 1 0 7.0 0a3.5 3.0 0 1 0 -7.0 0zM451.5 738.2a3.5 3.0 0 1 0 7.0 0a3.5 3.0 0 1 0 -7.0 0zM471.1 745.1a3.5 3.0 0 1 0 7.0 0a3.5 3.0 0 1 0 -7.0 0zM425.1 738.2a3.5 3.0 0 1 0 7.0 0a3.5 3.0 0 1 0 -7.0 0zM429.0 747.6a3.5 3.0 0 1 0 7.0 0a3.5 3.0 0 1 0 -7.0 0zM420.2 749.0a3.5 3.0 0 1 0 7.0 0a3.5 3.0 0 1 0 -7.0 0zM442.7 754.3a3.5 3.0 0 1 0 7.0 0a3.5 3.0 0 1 0 -7.0 0zM435.9 756.8a3.5 3.0 0 1 0 7.0 0a3.5 3.0 0 1 0 -7.0 0zM426.1 757.8a3.5 3.0 0 1 0 7.0 0a3.5 3.0 0 1 0 -7.0 0zM411.4 756.2a3.5 3.0 0 1 0 7.0 0a3.5 3.0 0 1 0 -7.0 0zM416.3 759.7a3.5 3.0 0 1 0 7.0 0a3.5 3.0 0 1 0 -7.0 0zM394.8 740.2a3.5 3.0 0 1 0 7.0 0a3.5 3.0 0 1 0 -7.0 0zM378.2 717.7a3.5 3.0 0 1 0 7.0 0a3.5 3.0 0 1 0 -7.0 0zM384.0 725.1a3.5 3.0 0 1 0 7.0 0a3.5 3.0 0 1 0 -7.0 0zM370.4 733.3a3.5 3.0 0 1 0 7.0 0a3.5 3.0 0 1 0 -7.0 0zM368.4 741.2a3.5 3.0 0 1 0 7.0 0a3.5 3.0 0 1 0 -7.0 0zM358.6 729.4a3.5 3.0 0 1 0 7.0 0a3.5 3.0 0 1 0 -7.0 0zM357.6 714.4a3.5 3.0 0 1 0 7.0 0a3.5 3.0 0 1 0 -7.0 0zM362.5 707.9a3.5 3.0 0 1 0 7.0 0a3.5 3.0 0 1 0 -7.0 0zM347.9 733.3a3.5 3.0 0 1 0 7.0 0a3.5 3.0 0 1 0 -7.0 0zM351.8 745.1a3.5 3.0 0 1 0 7.0 0a3.5 3.0 0 1 0 -7.0 0zM344.0 723.0a3.5 3.0 0 1 0 7.0 0a3.5 3.0 0 1 0 -7.0 0zM336.7 710.4a3.5 3.0 0 1 0 7.0 0a3.5 3.0 0 1 0 -7.0 0zM327.9 694.8a3.5 3.0 0 1 0 7.0 0a3.5 3.0 0 1 0 -7.0 0zM324.4 699.1a3.5 3.0 0 1 0 7.0 0a3.5 3.0 0 1 0 -7.0 0zM311.7 697.5a3.5 3.0 0 1 0 7.0 0a3.5 3.0 0 1 0 -7.0 0zM301.5 701.1a3.5 3.0 0 1 0 7.0 0a3.5 3.0 0 1 0 -7.0 0zM306.8 711.8a3.5 3.0 0 1 0 7.0 0a3.5 3.0 0 1 0 -7.0 0zM301.9 716.7a3.5 3.0 0 1 0 7.0 0a3.5 3.0 0 1 0 -7.0 0zM322.5 718.7a3.5 3.0 0 1 0 7.0 0a3.5 3.0 0 1 0 -7.0 0zM321.5 724.5a3.5 3.0 0 1 0 7.0 0a3.5 3.0 0 1 0 -7.0 0zM306.8 725.5a3.5 3.0 0 1 0 7.0 0a3.5 3.0 0 1 0 -7.0 0zM312.7 727.5a3.5 3.0 0 1 0 7.0 0a3.5 3.0 0 1 0 -7.0 0zM311.7 730.4a3.5 3.0 0 1 0 7.0 0a3.5 3.0 0 1 0 -7.0 0zM295.1 729.4a3.5 3.0 0 1 0 7.0 0a3.5 3.0 0 1 0 -7.0 0zM335.2 739.2a3.5 3.0 0 1 0 7.0 0a3.5 3.0 0 1 0 -7.0 0zM339.1 744.1a3.5 3.0 0 1 0 7.0 0a3.5 3.0 0 1 0 -7.0 0zM376.2 755.8a3.5 3.0 0 1 0 7.0 0a3.5 3.0 0 1 0 -7.0 0zM383.1 765.6a3.5 3.0 0 1 0 7.0 0a3.5 3.0 0 1 0 -7.0 0zM405.5 765.6a3.5 3.0 0 1 0 7.0 0a3.5 3.0 0 1 0 -7.0 0zM410.5 772.4a3.5 3.0 0 1 0 7.0 0a3.5 3.0 0 1 0 -7.0 0zM420.8 771.5a3.5 3.0 0 1 0 7.0 0a3.5 3.0 0 1 0 -7.0 0zM429.4 767.5a3.5 3.0 0 1 0 7.0 0a3.5 3.0 0 1 0 -7.0 0zM208.5 726.8a3.5 3.0 0 1 0 7.0 0a3.5 3.0 0 1 0 -7.0 0zM194.4 733.7a3.5 3.0 0 1 0 7.0 0a3.5 3.0 0 1 0 -7.0 0zM197.2 733.0a3.5 3.0 0 1 0 7.0 0a3.5 3.0 0 1 0 -7.0 0zM191.0 750.7a3.5 3.0 0 1 0 7.0 0a3.5 3.0 0 1 0 -7.0 0zM206.3 740.9a3.5 3.0 0 1 0 7.0 0a3.5 3.0 0 1 0 -7.0 0zM211.0 745.2a3.5 3.0 0 1 0 7.0 0a3.5 3.0 0 1 0 -7.0 0zM217.9 741.8a3.5 3.0 0 1 0 7.0 0a3.5 3.0 0 1 0 -7.0 0zM221.7 742.4a3.5 3.0 0 1 0 7.0 0a3.5 3.0 0 1 0 -7.0 0zM191.0 760.1a3.5 3.0 0 1 0 7.0 0a3.5 3.0 0 1 0 -7.0 0zM194.4 766.4a3.5 3.0 0 1 0 7.0 0a3.5 3.0 0 1 0 -7.0 0zM184.0 773.0a3.5 3.0 0 1 0 7.0 0a3.5 3.0 0 1 0 -7.0 0zM175.9 773.5a3.5 3.0 0 1 0 7.0 0a3.5 3.0 0 1 0 -7.0 0zM142.5 777.3a3.5 3.0 0 1 0 7.0 0a3.5 3.0 0 1 0 -7.0 0z"/>
<text x="571.7" y="392.9" font-size="25" font-style="italic">IFIT1</text>
<text x="489.5" y="524.9" font-size="25" font-style="italic">MX2</text>
<text x="585.9" y="528.6" font-size="25" font-style="italic">OAS1</text>
<text x="599.0" y="608.4" font-size="25" font-style="italic">OAS2</text>
<text x="447.4" y="642.6" font-size="25" font-style="italic">OAS3</text>
<text x="337.7" y="703.4" font-size="25" font-style="italic">ISG15</text>
<text x="506.8" y="773.0" font-size="25" font-style="italic">IFIT3</text>
<line x1="596.6" y1="347.1" x2="596.6" y2="366.5" stroke="#000" stroke-width="3.8"/>
<line x1="491.6" y1="491.7" x2="508.1" y2="502.3" stroke="#000" stroke-width="3.8"/>
<line x1="599.6" y1="534.2" x2="599.6" y2="556.0" stroke="#000" stroke-width="3.8"/>
<line x1="607.2" y1="565.0" x2="607.2" y2="586.0" stroke="#000" stroke-width="3.8"/>
<line x1="477.7" y1="653.9" x2="470.9" y2="687.0" stroke="#000" stroke-width="3.8"/>
<line x1="418.1" y1="695.9" x2="437.8" y2="692.6" stroke="#000" stroke-width="3.8"/>
<line x1="485.3" y1="725.5" x2="513.7" y2="745.0" stroke="#000" stroke-width="3.8"/>
<text x="686.4" y="309.6" font-size="53" font-weight="bold">c</text>
<text x="921.9" y="297.2" font-size="33.5">CapSTARR-seq</text>
<rect x="778.50" y="321.50" width="4.30" height="506.50" fill="#000"/>
<rect x="778.50" y="823.90" width="522.30" height="4.30" fill="#000"/>
<text x="761.2" y="355.0" font-size="25" text-anchor="end">4</text>
<text x="761.2" y="471.6" font-size="25" text-anchor="end">2</text>
<text x="761.2" y="585.6" font-size="25" text-anchor="end">0</text>
<text x="759.2" y="699.9" font-size="25" text-anchor="end">-2</text>
<text x="761.7" y="814.9" font-size="25" text-anchor="end">-4</text>
<text x="905.4" y="855.1" font-size="25" text-anchor="middle">-2</text>
<text x="1055.4" y="855.1" font-size="25" text-anchor="middle">0</text>
<text x="1203.2" y="855.1" font-size="25" text-anchor="middle">2</text>
<text x="1049.4" y="889.9" font-size="29.4" text-anchor="middle" id="cxl">Log<tspan font-size="20.5" dy="3.6">2</tspan><tspan dy="-3.6"> (NS)</tspan></text>
<text x="731.5" y="575.0" font-size="29.6" text-anchor="middle" transform="rotate(-90 731.5 575.0)" id="cyl">Log<tspan font-size="20" dy="4">2</tspan><tspan dy="-4"> (IFNa)</tspan></text>
<text x="1154.1" y="711.0" font-size="25.35">Induced Epromoter</text>
<text x="1097.9" y="749.7" font-size="25.35">Non-induced Epromoter</text>
<text x="1120.6" y="790.3" font-size="25.35">Repressed Epromoter</text>
<path fill="#8B0000" d="M1404.7 703.2a2.9 2.9 0 1 0 5.8 0a2.9 2.9 0 1 0 -5.8 0z"/>
<path fill="#FFA500" d="M1406.7 740.9a2.9 2.9 0 1 0 5.8 0a2.9 2.9 0 1 0 -5.8 0z"/>
<path fill="#00CED1" d="M1406.0 784.0a2.9 2.9 0 1 0 5.8 0a2.9 2.9 0 1 0 -5.8 0z"/>
<polygon points="1048.7,516.3 1070.5,512.8 1095.0,512.6 1116.0,512.6 1117.0,530.0 1115.0,563.5 1105.0,585.0 1092.3,603.4 1075.0,615.0 1056.0,625.2 1036.0,632.0 1016.0,637.9 1000.0,641.0 983.3,643.0 968.0,642.0 958.0,637.0 951.0,627.0 955.0,615.0 961.6,603.4 972.0,592.0 983.3,581.6 994.0,569.0 1005.1,556.2 1016.0,545.0 1026.9,534.4 1038.0,525.0" fill="#999999"/>
<path fill="#999999" d="M990.5 643.3a2.1 2.1 0 1 0 4.2 0a2.1 2.1 0 1 0 -4.2 0zM1116.6 536.1a2.1 2.1 0 1 0 4.2 0a2.1 2.1 0 1 0 -4.2 0zM959.3 641.1a2.1 2.1 0 1 0 4.2 0a2.1 2.1 0 1 0 -4.2 0zM1096.2 603.2a2.1 2.1 0 1 0 4.2 0a2.1 2.1 0 1 0 -4.2 0zM1051.8 519.2a2.1 2.1 0 1 0 4.2 0a2.1 2.1 0 1 0 -4.2 0zM977.6 644.8a2.1 2.1 0 1 0 4.2 0a2.1 2.1 0 1 0 -4.2 0zM945.9 631.2a2.1 2.1 0 1 0 4.2 0a2.1 2.1 0 1 0 -4.2 0zM958.3 639.2a2.1 2.1 0 1 0 4.2 0a2.1 2.1 0 1 0 -4.2 0zM1044.8 520.6a2.1 2.1 0 1 0 4.2 0a2.1 2.1 0 1 0 -4.2 0zM1069.0 513.0a2.1 2.1 0 1 0 4.2 0a2.1 2.1 0 1 0 -4.2 0zM1024.2 537.1a2.1 2.1 0 1 0 4.2 0a2.1 2.1 0 1 0 -4.2 0zM1009.2 552.1a2.1 2.1 0 1 0 4.2 0a2.1 2.1 0 1 0 -4.2 0zM1059.8 626.1a2.1 2.1 0 1 0 4.2 0a2.1 2.1 0 1 0 -4.2 0zM995.1 568.9a2.1 2.1 0 1 0 4.2 0a2.1 2.1 0 1 0 -4.2 0zM1069.1 620.0a2.1 2.1 0 1 0 4.2 0a2.1 2.1 0 1 0 -4.2 0zM983.5 572.7a2.1 2.1 0 1 0 4.2 0a2.1 2.1 0 1 0 -4.2 0zM999.7 566.5a2.1 2.1 0 1 0 4.2 0a2.1 2.1 0 1 0 -4.2 0zM1079.5 608.7a2.1 2.1 0 1 0 4.2 0a2.1 2.1 0 1 0 -4.2 0zM973.4 591.5a2.1 2.1 0 1 0 4.2 0a2.1 2.1 0 1 0 -4.2 0zM986.0 578.8a2.1 2.1 0 1 0 4.2 0a2.1 2.1 0 1 0 -4.2 0zM1064.8 622.1a2.1 2.1 0 1 0 4.2 0a2.1 2.1 0 1 0 -4.2 0zM973.8 644.0a2.1 2.1 0 1 0 4.2 0a2.1 2.1 0 1 0 -4.2 0zM1049.5 631.8a2.1 2.1 0 1 0 4.2 0a2.1 2.1 0 1 0 -4.2 0zM987.4 571.3a2.1 2.1 0 1 0 4.2 0a2.1 2.1 0 1 0 -4.2 0zM1090.6 602.6a2.1 2.1 0 1 0 4.2 0a2.1 2.1 0 1 0 -4.2 0zM952.2 616.2a2.1 2.1 0 1 0 4.2 0a2.1 2.1 0 1 0 -4.2 0zM1079.6 514.1a2.1 2.1 0 1 0 4.2 0a2.1 2.1 0 1 0 -4.2 0zM1077.9 610.3a2.1 2.1 0 1 0 4.2 0a2.1 2.1 0 1 0 -4.2 0zM1105.8 557.3a2.1 2.1 0 1 0 4.2 0a2.1 2.1 0 1 0 -4.2 0zM1017.2 635.9a2.1 2.1 0 1 0 4.2 0a2.1 2.1 0 1 0 -4.2 0zM1028.7 633.4a2.1 2.1 0 1 0 4.2 0a2.1 2.1 0 1 0 -4.2 0zM1058.5 618.6a2.1 2.1 0 1 0 4.2 0a2.1 2.1 0 1 0 -4.2 0zM1033.6 635.8a2.1 2.1 0 1 0 4.2 0a2.1 2.1 0 1 0 -4.2 0zM1034.4 526.1a2.1 2.1 0 1 0 4.2 0a2.1 2.1 0 1 0 -4.2 0zM1046.8 515.8a2.1 2.1 0 1 0 4.2 0a2.1 2.1 0 1 0 -4.2 0zM1092.8 515.0a2.1 2.1 0 1 0 4.2 0a2.1 2.1 0 1 0 -4.2 0zM1040.2 518.8a2.1 2.1 0 1 0 4.2 0a2.1 2.1 0 1 0 -4.2 0zM1051.7 624.3a2.1 2.1 0 1 0 4.2 0a2.1 2.1 0 1 0 -4.2 0zM961.1 604.9a2.1 2.1 0 1 0 4.2 0a2.1 2.1 0 1 0 -4.2 0zM1056.5 615.4a2.1 2.1 0 1 0 4.2 0a2.1 2.1 0 1 0 -4.2 0zM1114.5 522.0a2.1 2.1 0 1 0 4.2 0a2.1 2.1 0 1 0 -4.2 0zM946.8 621.3a2.1 2.1 0 1 0 4.2 0a2.1 2.1 0 1 0 -4.2 0zM983.1 572.9a2.1 2.1 0 1 0 4.2 0a2.1 2.1 0 1 0 -4.2 0zM1026.7 530.2a2.1 2.1 0 1 0 4.2 0a2.1 2.1 0 1 0 -4.2 0zM955.8 610.6a2.1 2.1 0 1 0 4.2 0a2.1 2.1 0 1 0 -4.2 0zM1016.7 534.5a2.1 2.1 0 1 0 4.2 0a2.1 2.1 0 1 0 -4.2 0zM1038.7 526.8a2.1 2.1 0 1 0 4.2 0a2.1 2.1 0 1 0 -4.2 0zM1106.4 508.3a2.1 2.1 0 1 0 4.2 0a2.1 2.1 0 1 0 -4.2 0zM1113.8 536.4a2.1 2.1 0 1 0 4.2 0a2.1 2.1 0 1 0 -4.2 0zM1114.9 538.0a2.1 2.1 0 1 0 4.2 0a2.1 2.1 0 1 0 -4.2 0zM1049.4 513.9a2.1 2.1 0 1 0 4.2 0a2.1 2.1 0 1 0 -4.2 0zM960.1 597.4a2.1 2.1 0 1 0 4.2 0a2.1 2.1 0 1 0 -4.2 0zM1058.6 617.8a2.1 2.1 0 1 0 4.2 0a2.1 2.1 0 1 0 -4.2 0zM1107.0 573.0a2.1 2.1 0 1 0 4.2 0a2.1 2.1 0 1 0 -4.2 0zM969.6 646.7a2.1 2.1 0 1 0 4.2 0a2.1 2.1 0 1 0 -4.2 0zM1006.7 552.4a2.1 2.1 0 1 0 4.2 0a2.1 2.1 0 1 0 -4.2 0zM1078.0 513.4a2.1 2.1 0 1 0 4.2 0a2.1 2.1 0 1 0 -4.2 0zM1072.2 516.5a2.1 2.1 0 1 0 4.2 0a2.1 2.1 0 1 0 -4.2 0zM964.5 593.8a2.1 2.1 0 1 0 4.2 0a2.1 2.1 0 1 0 -4.2 0zM946.8 621.1a2.1 2.1 0 1 0 4.2 0a2.1 2.1 0 1 0 -4.2 0zM1107.7 569.5a2.1 2.1 0 1 0 4.2 0a2.1 2.1 0 1 0 -4.2 0zM953.3 608.3a2.1 2.1 0 1 0 4.2 0a2.1 2.1 0 1 0 -4.2 0zM1032.4 631.4a2.1 2.1 0 1 0 4.2 0a2.1 2.1 0 1 0 -4.2 0zM956.5 607.3a2.1 2.1 0 1 0 4.2 0a2.1 2.1 0 1 0 -4.2 0zM988.3 582.3a2.1 2.1 0 1 0 4.2 0a2.1 2.1 0 1 0 -4.2 0zM961.6 612.9a2.1 2.1 0 1 0 4.2 0a2.1 2.1 0 1 0 -4.2 0zM994.4 569.9a2.1 2.1 0 1 0 4.2 0a2.1 2.1 0 1 0 -4.2 0zM1097.4 587.9a2.1 2.1 0 1 0 4.2 0a2.1 2.1 0 1 0 -4.2 0zM1107.7 578.3a2.1 2.1 0 1 0 4.2 0a2.1 2.1 0 1 0 -4.2 0zM1093.2 504.9a2.1 2.1 0 1 0 4.2 0a2.1 2.1 0 1 0 -4.2 0zM1113.5 540.0a2.1 2.1 0 1 0 4.2 0a2.1 2.1 0 1 0 -4.2 0zM1111.3 533.5a2.1 2.1 0 1 0 4.2 0a2.1 2.1 0 1 0 -4.2 0zM1037.8 523.3a2.1 2.1 0 1 0 4.2 0a2.1 2.1 0 1 0 -4.2 0zM1116.9 536.0a2.1 2.1 0 1 0 4.2 0a2.1 2.1 0 1 0 -4.2 0zM1019.0 631.6a2.1 2.1 0 1 0 4.2 0a2.1 2.1 0 1 0 -4.2 0zM1029.7 530.8a2.1 2.1 0 1 0 4.2 0a2.1 2.1 0 1 0 -4.2 0zM954.6 623.9a2.1 2.1 0 1 0 4.2 0a2.1 2.1 0 1 0 -4.2 0zM994.9 564.1a2.1 2.1 0 1 0 4.2 0a2.1 2.1 0 1 0 -4.2 0zM1117.2 529.5a2.1 2.1 0 1 0 4.2 0a2.1 2.1 0 1 0 -4.2 0zM1000.9 559.6a2.1 2.1 0 1 0 4.2 0a2.1 2.1 0 1 0 -4.2 0zM1015.3 540.3a2.1 2.1 0 1 0 4.2 0a2.1 2.1 0 1 0 -4.2 0zM1068.9 614.2a2.1 2.1 0 1 0 4.2 0a2.1 2.1 0 1 0 -4.2 0zM1117.5 509.5a2.1 2.1 0 1 0 4.2 0a2.1 2.1 0 1 0 -4.2 0zM974.8 632.9a2.1 2.1 0 1 0 4.2 0a2.1 2.1 0 1 0 -4.2 0zM1117.6 521.7a2.1 2.1 0 1 0 4.2 0a2.1 2.1 0 1 0 -4.2 0zM1088.5 599.4a2.1 2.1 0 1 0 4.2 0a2.1 2.1 0 1 0 -4.2 0zM1112.7 537.2a2.1 2.1 0 1 0 4.2 0a2.1 2.1 0 1 0 -4.2 0zM1024.1 541.3a2.1 2.1 0 1 0 4.2 0a2.1 2.1 0 1 0 -4.2 0zM1001.1 640.4a2.1 2.1 0 1 0 4.2 0a2.1 2.1 0 1 0 -4.2 0zM1085.5 606.8a2.1 2.1 0 1 0 4.2 0a2.1 2.1 0 1 0 -4.2 0zM1067.6 520.5a2.1 2.1 0 1 0 4.2 0a2.1 2.1 0 1 0 -4.2 0zM1071.8 517.1a2.1 2.1 0 1 0 4.2 0a2.1 2.1 0 1 0 -4.2 0zM1089.4 613.7a2.1 2.1 0 1 0 4.2 0a2.1 2.1 0 1 0 -4.2 0zM1063.5 511.0a2.1 2.1 0 1 0 4.2 0a2.1 2.1 0 1 0 -4.2 0zM1092.2 603.5a2.1 2.1 0 1 0 4.2 0a2.1 2.1 0 1 0 -4.2 0zM1068.3 613.7a2.1 2.1 0 1 0 4.2 0a2.1 2.1 0 1 0 -4.2 0zM973.8 588.3a2.1 2.1 0 1 0 4.2 0a2.1 2.1 0 1 0 -4.2 0zM1001.7 552.6a2.1 2.1 0 1 0 4.2 0a2.1 2.1 0 1 0 -4.2 0zM1023.8 633.6a2.1 2.1 0 1 0 4.2 0a2.1 2.1 0 1 0 -4.2 0zM1092.3 512.2a2.1 2.1 0 1 0 4.2 0a2.1 2.1 0 1 0 -4.2 0zM1096.0 509.7a2.1 2.1 0 1 0 4.2 0a2.1 2.1 0 1 0 -4.2 0zM1101.2 573.8a2.1 2.1 0 1 0 4.2 0a2.1 2.1 0 1 0 -4.2 0zM1095.4 599.1a2.1 2.1 0 1 0 4.2 0a2.1 2.1 0 1 0 -4.2 0zM977.0 642.6a2.1 2.1 0 1 0 4.2 0a2.1 2.1 0 1 0 -4.2 0zM1112.0 514.6a2.1 2.1 0 1 0 4.2 0a2.1 2.1 0 1 0 -4.2 0zM1089.4 509.7a2.1 2.1 0 1 0 4.2 0a2.1 2.1 0 1 0 -4.2 0zM990.0 643.1a2.1 2.1 0 1 0 4.2 0a2.1 2.1 0 1 0 -4.2 0zM1090.3 604.4a2.1 2.1 0 1 0 4.2 0a2.1 2.1 0 1 0 -4.2 0zM998.0 560.2a2.1 2.1 0 1 0 4.2 0a2.1 2.1 0 1 0 -4.2 0zM990.1 579.4a2.1 2.1 0 1 0 4.2 0a2.1 2.1 0 1 0 -4.2 0zM1098.1 596.2a2.1 2.1 0 1 0 4.2 0a2.1 2.1 0 1 0 -4.2 0zM1079.9 598.5a2.1 2.1 0 1 0 4.2 0a2.1 2.1 0 1 0 -4.2 0zM1115.4 528.2a2.1 2.1 0 1 0 4.2 0a2.1 2.1 0 1 0 -4.2 0zM986.6 577.8a2.1 2.1 0 1 0 4.2 0a2.1 2.1 0 1 0 -4.2 0zM971.2 640.8a2.1 2.1 0 1 0 4.2 0a2.1 2.1 0 1 0 -4.2 0zM1004.3 639.9a2.1 2.1 0 1 0 4.2 0a2.1 2.1 0 1 0 -4.2 0zM1064.9 516.2a2.1 2.1 0 1 0 4.2 0a2.1 2.1 0 1 0 -4.2 0zM1041.4 524.9a2.1 2.1 0 1 0 4.2 0a2.1 2.1 0 1 0 -4.2 0zM1048.8 517.2a2.1 2.1 0 1 0 4.2 0a2.1 2.1 0 1 0 -4.2 0zM973.3 639.8a2.1 2.1 0 1 0 4.2 0a2.1 2.1 0 1 0 -4.2 0zM1068.4 515.4a2.1 2.1 0 1 0 4.2 0a2.1 2.1 0 1 0 -4.2 0zM1098.7 598.9a2.1 2.1 0 1 0 4.2 0a2.1 2.1 0 1 0 -4.2 0zM1031.4 629.4a2.1 2.1 0 1 0 4.2 0a2.1 2.1 0 1 0 -4.2 0zM1079.3 514.8a2.1 2.1 0 1 0 4.2 0a2.1 2.1 0 1 0 -4.2 0zM1045.6 629.4a2.1 2.1 0 1 0 4.2 0a2.1 2.1 0 1 0 -4.2 0zM1017.0 638.5a2.1 2.1 0 1 0 4.2 0a2.1 2.1 0 1 0 -4.2 0zM1101.2 506.7a2.1 2.1 0 1 0 4.2 0a2.1 2.1 0 1 0 -4.2 0zM979.0 577.0a2.1 2.1 0 1 0 4.2 0a2.1 2.1 0 1 0 -4.2 0zM961.0 599.6a2.1 2.1 0 1 0 4.2 0a2.1 2.1 0 1 0 -4.2 0zM950.7 609.9a2.1 2.1 0 1 0 4.2 0a2.1 2.1 0 1 0 -4.2 0zM957.8 638.6a2.1 2.1 0 1 0 4.2 0a2.1 2.1 0 1 0 -4.2 0zM1100.8 583.0a2.1 2.1 0 1 0 4.2 0a2.1 2.1 0 1 0 -4.2 0zM994.6 565.4a2.1 2.1 0 1 0 4.2 0a2.1 2.1 0 1 0 -4.2 0zM1098.6 518.9a2.1 2.1 0 1 0 4.2 0a2.1 2.1 0 1 0 -4.2 0zM1114.2 527.0a2.1 2.1 0 1 0 4.2 0a2.1 2.1 0 1 0 -4.2 0zM969.9 644.9a2.1 2.1 0 1 0 4.2 0a2.1 2.1 0 1 0 -4.2 0zM988.5 570.5a2.1 2.1 0 1 0 4.2 0a2.1 2.1 0 1 0 -4.2 0zM954.7 635.3a2.1 2.1 0 1 0 4.2 0a2.1 2.1 0 1 0 -4.2 0zM1072.2 614.2a2.1 2.1 0 1 0 4.2 0a2.1 2.1 0 1 0 -4.2 0zM1109.1 543.9a2.1 2.1 0 1 0 4.2 0a2.1 2.1 0 1 0 -4.2 0zM1002.7 639.6a2.1 2.1 0 1 0 4.2 0a2.1 2.1 0 1 0 -4.2 0zM1112.2 512.9a2.1 2.1 0 1 0 4.2 0a2.1 2.1 0 1 0 -4.2 0zM1027.0 537.5a2.1 2.1 0 1 0 4.2 0a2.1 2.1 0 1 0 -4.2 0zM955.3 629.5a2.1 2.1 0 1 0 4.2 0a2.1 2.1 0 1 0 -4.2 0zM1079.5 605.4a2.1 2.1 0 1 0 4.2 0a2.1 2.1 0 1 0 -4.2 0zM1015.7 541.2a2.1 2.1 0 1 0 4.2 0a2.1 2.1 0 1 0 -4.2 0zM1046.8 517.3a2.1 2.1 0 1 0 4.2 0a2.1 2.1 0 1 0 -4.2 0zM958.9 629.3a2.1 2.1 0 1 0 4.2 0a2.1 2.1 0 1 0 -4.2 0zM957.2 610.0a2.1 2.1 0 1 0 4.2 0a2.1 2.1 0 1 0 -4.2 0zM1081.1 608.4a2.1 2.1 0 1 0 4.2 0a2.1 2.1 0 1 0 -4.2 0zM963.6 595.8a2.1 2.1 0 1 0 4.2 0a2.1 2.1 0 1 0 -4.2 0zM954.2 627.8a2.1 2.1 0 1 0 4.2 0a2.1 2.1 0 1 0 -4.2 0zM1115.1 561.3a2.1 2.1 0 1 0 4.2 0a2.1 2.1 0 1 0 -4.2 0zM995.3 557.2a2.1 2.1 0 1 0 4.2 0a2.1 2.1 0 1 0 -4.2 0zM979.4 581.8a2.1 2.1 0 1 0 4.2 0a2.1 2.1 0 1 0 -4.2 0zM1036.5 518.8a2.1 2.1 0 1 0 4.2 0a2.1 2.1 0 1 0 -4.2 0zM995.2 562.5a2.1 2.1 0 1 0 4.2 0a2.1 2.1 0 1 0 -4.2 0zM949.3 638.6a2.1 2.1 0 1 0 4.2 0a2.1 2.1 0 1 0 -4.2 0zM1116.2 543.5a2.1 2.1 0 1 0 4.2 0a2.1 2.1 0 1 0 -4.2 0zM1112.9 526.9a2.1 2.1 0 1 0 4.2 0a2.1 2.1 0 1 0 -4.2 0zM1092.8 596.1a2.1 2.1 0 1 0 4.2 0a2.1 2.1 0 1 0 -4.2 0zM1033.9 632.2a2.1 2.1 0 1 0 4.2 0a2.1 2.1 0 1 0 -4.2 0zM945.2 630.0a2.1 2.1 0 1 0 4.2 0a2.1 2.1 0 1 0 -4.2 0zM1009.0 556.9a2.1 2.1 0 1 0 4.2 0a2.1 2.1 0 1 0 -4.2 0zM1046.6 626.9a2.1 2.1 0 1 0 4.2 0a2.1 2.1 0 1 0 -4.2 0zM990.7 569.4a2.1 2.1 0 1 0 4.2 0a2.1 2.1 0 1 0 -4.2 0zM1045.1 627.6a2.1 2.1 0 1 0 4.2 0a2.1 2.1 0 1 0 -4.2 0zM1079.4 611.1a2.1 2.1 0 1 0 4.2 0a2.1 2.1 0 1 0 -4.2 0zM984.2 571.7a2.1 2.1 0 1 0 4.2 0a2.1 2.1 0 1 0 -4.2 0zM1018.3 551.9a2.1 2.1 0 1 0 4.2 0a2.1 2.1 0 1 0 -4.2 0zM968.1 593.0a2.1 2.1 0 1 0 4.2 0a2.1 2.1 0 1 0 -4.2 0zM1084.8 616.6a2.1 2.1 0 1 0 4.2 0a2.1 2.1 0 1 0 -4.2 0zM964.5 636.8a2.1 2.1 0 1 0 4.2 0a2.1 2.1 0 1 0 -4.2 0zM1101.6 580.3a2.1 2.1 0 1 0 4.2 0a2.1 2.1 0 1 0 -4.2 0zM1109.8 551.6a2.1 2.1 0 1 0 4.2 0a2.1 2.1 0 1 0 -4.2 0zM1103.0 577.3a2.1 2.1 0 1 0 4.2 0a2.1 2.1 0 1 0 -4.2 0zM986.3 643.5a2.1 2.1 0 1 0 4.2 0a2.1 2.1 0 1 0 -4.2 0zM967.8 639.4a2.1 2.1 0 1 0 4.2 0a2.1 2.1 0 1 0 -4.2 0zM1112.0 556.6a2.1 2.1 0 1 0 4.2 0a2.1 2.1 0 1 0 -4.2 0zM977.3 589.9a2.1 2.1 0 1 0 4.2 0a2.1 2.1 0 1 0 -4.2 0zM992.4 571.2a2.1 2.1 0 1 0 4.2 0a2.1 2.1 0 1 0 -4.2 0zM1041.6 524.1a2.1 2.1 0 1 0 4.2 0a2.1 2.1 0 1 0 -4.2 0zM1058.8 514.4a2.1 2.1 0 1 0 4.2 0a2.1 2.1 0 1 0 -4.2 0zM1118.2 560.9a2.1 2.1 0 1 0 4.2 0a2.1 2.1 0 1 0 -4.2 0zM1045.6 630.1a2.1 2.1 0 1 0 4.2 0a2.1 2.1 0 1 0 -4.2 0zM949.3 629.8a2.1 2.1 0 1 0 4.2 0a2.1 2.1 0 1 0 -4.2 0zM1063.2 509.0a2.1 2.1 0 1 0 4.2 0a2.1 2.1 0 1 0 -4.2 0zM1104.3 556.6a2.1 2.1 0 1 0 4.2 0a2.1 2.1 0 1 0 -4.2 0zM1039.5 627.1a2.1 2.1 0 1 0 4.2 0a2.1 2.1 0 1 0 -4.2 0zM1004.4 634.7a2.1 2.1 0 1 0 4.2 0a2.1 2.1 0 1 0 -4.2 0zM982.1 644.0a2.1 2.1 0 1 0 4.2 0a2.1 2.1 0 1 0 -4.2 0zM1034.7 628.4a2.1 2.1 0 1 0 4.2 0a2.1 2.1 0 1 0 -4.2 0zM955.7 608.1a2.1 2.1 0 1 0 4.2 0a2.1 2.1 0 1 0 -4.2 0zM987.2 641.0a2.1 2.1 0 1 0 4.2 0a2.1 2.1 0 1 0 -4.2 0zM1118.9 538.2a2.1 2.1 0 1 0 4.2 0a2.1 2.1 0 1 0 -4.2 0zM961.8 610.2a2.1 2.1 0 1 0 4.2 0a2.1 2.1 0 1 0 -4.2 0zM1111.0 521.3a2.1 2.1 0 1 0 4.2 0a2.1 2.1 0 1 0 -4.2 0zM1075.6 611.4a2.1 2.1 0 1 0 4.2 0a2.1 2.1 0 1 0 -4.2 0zM1029.0 529.6a2.1 2.1 0 1 0 4.2 0a2.1 2.1 0 1 0 -4.2 0zM996.4 553.2a2.1 2.1 0 1 0 4.2 0a2.1 2.1 0 1 0 -4.2 0zM1037.9 631.7a2.1 2.1 0 1 0 4.2 0a2.1 2.1 0 1 0 -4.2 0zM960.6 636.1a2.1 2.1 0 1 0 4.2 0a2.1 2.1 0 1 0 -4.2 0zM1111.9 558.5a2.1 2.1 0 1 0 4.2 0a2.1 2.1 0 1 0 -4.2 0zM1068.0 615.2a2.1 2.1 0 1 0 4.2 0a2.1 2.1 0 1 0 -4.2 0zM1061.4 624.9a2.1 2.1 0 1 0 4.2 0a2.1 2.1 0 1 0 -4.2 0zM1111.6 547.5a2.1 2.1 0 1 0 4.2 0a2.1 2.1 0 1 0 -4.2 0zM1034.3 625.9a2.1 2.1 0 1 0 4.2 0a2.1 2.1 0 1 0 -4.2 0zM984.2 575.2a2.1 2.1 0 1 0 4.2 0a2.1 2.1 0 1 0 -4.2 0zM959.3 598.9a2.1 2.1 0 1 0 4.2 0a2.1 2.1 0 1 0 -4.2 0zM980.8 588.9a2.1 2.1 0 1 0 4.2 0a2.1 2.1 0 1 0 -4.2 0zM959.0 639.6a2.1 2.1 0 1 0 4.2 0a2.1 2.1 0 1 0 -4.2 0zM1018.8 536.4a2.1 2.1 0 1 0 4.2 0a2.1 2.1 0 1 0 -4.2 0zM1013.8 545.0a2.1 2.1 0 1 0 4.2 0a2.1 2.1 0 1 0 -4.2 0zM1002.3 558.0a2.1 2.1 0 1 0 4.2 0a2.1 2.1 0 1 0 -4.2 0zM1022.7 544.6a2.1 2.1 0 1 0 4.2 0a2.1 2.1 0 1 0 -4.2 0zM1109.9 561.4a2.1 2.1 0 1 0 4.2 0a2.1 2.1 0 1 0 -4.2 0zM1060.1 620.9a2.1 2.1 0 1 0 4.2 0a2.1 2.1 0 1 0 -4.2 0zM1073.6 510.1a2.1 2.1 0 1 0 4.2 0a2.1 2.1 0 1 0 -4.2 0zM1106.1 568.9a2.1 2.1 0 1 0 4.2 0a2.1 2.1 0 1 0 -4.2 0zM1012.7 635.5a2.1 2.1 0 1 0 4.2 0a2.1 2.1 0 1 0 -4.2 0zM1003.9 545.8a2.1 2.1 0 1 0 4.2 0a2.1 2.1 0 1 0 -4.2 0zM982.2 570.3a2.1 2.1 0 1 0 4.2 0a2.1 2.1 0 1 0 -4.2 0zM963.2 598.1a2.1 2.1 0 1 0 4.2 0a2.1 2.1 0 1 0 -4.2 0zM1068.6 616.5a2.1 2.1 0 1 0 4.2 0a2.1 2.1 0 1 0 -4.2 0zM979.6 644.9a2.1 2.1 0 1 0 4.2 0a2.1 2.1 0 1 0 -4.2 0zM1081.8 515.0a2.1 2.1 0 1 0 4.2 0a2.1 2.1 0 1 0 -4.2 0zM1113.4 576.4a2.1 2.1 0 1 0 4.2 0a2.1 2.1 0 1 0 -4.2 0zM1071.4 506.7a2.1 2.1 0 1 0 4.2 0a2.1 2.1 0 1 0 -4.2 0zM1009.7 547.7a2.1 2.1 0 1 0 4.2 0a2.1 2.1 0 1 0 -4.2 0zM1057.5 622.1a2.1 2.1 0 1 0 4.2 0a2.1 2.1 0 1 0 -4.2 0zM1011.0 634.0a2.1 2.1 0 1 0 4.2 0a2.1 2.1 0 1 0 -4.2 0zM1082.9 604.1a2.1 2.1 0 1 0 4.2 0a2.1 2.1 0 1 0 -4.2 0zM1097.2 597.8a2.1 2.1 0 1 0 4.2 0a2.1 2.1 0 1 0 -4.2 0zM1044.0 520.8a2.1 2.1 0 1 0 4.2 0a2.1 2.1 0 1 0 -4.2 0zM1041.8 523.5a2.1 2.1 0 1 0 4.2 0a2.1 2.1 0 1 0 -4.2 0zM1076.5 611.1a2.1 2.1 0 1 0 4.2 0a2.1 2.1 0 1 0 -4.2 0zM1111.0 576.6a2.1 2.1 0 1 0 4.2 0a2.1 2.1 0 1 0 -4.2 0zM1120.3 524.6a2.1 2.1 0 1 0 4.2 0a2.1 2.1 0 1 0 -4.2 0zM963.3 599.7a2.1 2.1 0 1 0 4.2 0a2.1 2.1 0 1 0 -4.2 0zM1118.5 516.9a2.1 2.1 0 1 0 4.2 0a2.1 2.1 0 1 0 -4.2 0zM957.6 633.4a2.1 2.1 0 1 0 4.2 0a2.1 2.1 0 1 0 -4.2 0zM1110.4 523.6a2.1 2.1 0 1 0 4.2 0a2.1 2.1 0 1 0 -4.2 0zM1072.6 520.1a2.1 2.1 0 1 0 4.2 0a2.1 2.1 0 1 0 -4.2 0zM962.9 604.7a2.1 2.1 0 1 0 4.2 0a2.1 2.1 0 1 0 -4.2 0zM1076.7 507.7a2.1 2.1 0 1 0 4.2 0a2.1 2.1 0 1 0 -4.2 0zM991.5 561.2a2.1 2.1 0 1 0 4.2 0a2.1 2.1 0 1 0 -4.2 0zM1114.1 555.7a2.1 2.1 0 1 0 4.2 0a2.1 2.1 0 1 0 -4.2 0zM992.8 646.6a2.1 2.1 0 1 0 4.2 0a2.1 2.1 0 1 0 -4.2 0zM1064.7 512.7a2.1 2.1 0 1 0 4.2 0a2.1 2.1 0 1 0 -4.2 0zM1092.4 598.2a2.1 2.1 0 1 0 4.2 0a2.1 2.1 0 1 0 -4.2 0zM1088.0 597.7a2.1 2.1 0 1 0 4.2 0a2.1 2.1 0 1 0 -4.2 0zM1013.6 637.1a2.1 2.1 0 1 0 4.2 0a2.1 2.1 0 1 0 -4.2 0zM1005.6 548.2a2.1 2.1 0 1 0 4.2 0a2.1 2.1 0 1 0 -4.2 0zM1117.6 525.5a2.1 2.1 0 1 0 4.2 0a2.1 2.1 0 1 0 -4.2 0zM1074.4 615.6a2.1 2.1 0 1 0 4.2 0a2.1 2.1 0 1 0 -4.2 0zM1098.5 603.2a2.1 2.1 0 1 0 4.2 0a2.1 2.1 0 1 0 -4.2 0zM1057.8 628.9a2.1 2.1 0 1 0 4.2 0a2.1 2.1 0 1 0 -4.2 0zM1115.0 527.3a2.1 2.1 0 1 0 4.2 0a2.1 2.1 0 1 0 -4.2 0zM1001.0 637.6a2.1 2.1 0 1 0 4.2 0a2.1 2.1 0 1 0 -4.2 0zM1118.2 533.1a2.1 2.1 0 1 0 4.2 0a2.1 2.1 0 1 0 -4.2 0zM951.1 621.6a2.1 2.1 0 1 0 4.2 0a2.1 2.1 0 1 0 -4.2 0zM1014.2 546.2a2.1 2.1 0 1 0 4.2 0a2.1 2.1 0 1 0 -4.2 0zM971.7 589.5a2.1 2.1 0 1 0 4.2 0a2.1 2.1 0 1 0 -4.2 0zM993.3 640.0a2.1 2.1 0 1 0 4.2 0a2.1 2.1 0 1 0 -4.2 0zM988.5 646.3a2.1 2.1 0 1 0 4.2 0a2.1 2.1 0 1 0 -4.2 0zM983.2 581.8a2.1 2.1 0 1 0 4.2 0a2.1 2.1 0 1 0 -4.2 0zM999.9 644.2a2.1 2.1 0 1 0 4.2 0a2.1 2.1 0 1 0 -4.2 0zM1109.7 507.1a2.1 2.1 0 1 0 4.2 0a2.1 2.1 0 1 0 -4.2 0zM1039.8 630.7a2.1 2.1 0 1 0 4.2 0a2.1 2.1 0 1 0 -4.2 0zM996.2 640.8a2.1 2.1 0 1 0 4.2 0a2.1 2.1 0 1 0 -4.2 0zM1000.8 558.4a2.1 2.1 0 1 0 4.2 0a2.1 2.1 0 1 0 -4.2 0zM950.8 622.3a2.1 2.1 0 1 0 4.2 0a2.1 2.1 0 1 0 -4.2 0zM1021.5 632.2a2.1 2.1 0 1 0 4.2 0a2.1 2.1 0 1 0 -4.2 0zM1093.3 604.3a2.1 2.1 0 1 0 4.2 0a2.1 2.1 0 1 0 -4.2 0zM993.4 637.3a2.1 2.1 0 1 0 4.2 0a2.1 2.1 0 1 0 -4.2 0zM1051.5 517.1a2.1 2.1 0 1 0 4.2 0a2.1 2.1 0 1 0 -4.2 0zM1108.8 568.0a2.1 2.1 0 1 0 4.2 0a2.1 2.1 0 1 0 -4.2 0zM959.6 603.6a2.1 2.1 0 1 0 4.2 0a2.1 2.1 0 1 0 -4.2 0zM1049.3 520.6a2.1 2.1 0 1 0 4.2 0a2.1 2.1 0 1 0 -4.2 0zM995.4 647.0a2.1 2.1 0 1 0 4.2 0a2.1 2.1 0 1 0 -4.2 0zM1062.4 517.5a2.1 2.1 0 1 0 4.2 0a2.1 2.1 0 1 0 -4.2 0zM981.9 641.2a2.1 2.1 0 1 0 4.2 0a2.1 2.1 0 1 0 -4.2 0zM981.3 578.6a2.1 2.1 0 1 0 4.2 0a2.1 2.1 0 1 0 -4.2 0zM1024.1 530.6a2.1 2.1 0 1 0 4.2 0a2.1 2.1 0 1 0 -4.2 0zM1107.8 578.1a2.1 2.1 0 1 0 4.2 0a2.1 2.1 0 1 0 -4.2 0zM1071.2 514.1a2.1 2.1 0 1 0 4.2 0a2.1 2.1 0 1 0 -4.2 0zM1064.2 626.6a2.1 2.1 0 1 0 4.2 0a2.1 2.1 0 1 0 -4.2 0zM1006.0 638.8a2.1 2.1 0 1 0 4.2 0a2.1 2.1 0 1 0 -4.2 0zM980.3 583.8a2.1 2.1 0 1 0 4.2 0a2.1 2.1 0 1 0 -4.2 0zM1112.6 552.8a2.1 2.1 0 1 0 4.2 0a2.1 2.1 0 1 0 -4.2 0zM1018.8 544.2a2.1 2.1 0 1 0 4.2 0a2.1 2.1 0 1 0 -4.2 0zM1069.7 510.4a2.1 2.1 0 1 0 4.2 0a2.1 2.1 0 1 0 -4.2 0zM1016.9 633.0a2.1 2.1 0 1 0 4.2 0a2.1 2.1 0 1 0 -4.2 0zM1104.1 585.6a2.1 2.1 0 1 0 4.2 0a2.1 2.1 0 1 0 -4.2 0zM1004.0 640.3a2.1 2.1 0 1 0 4.2 0a2.1 2.1 0 1 0 -4.2 0zM1081.9 508.1a2.1 2.1 0 1 0 4.2 0a2.1 2.1 0 1 0 -4.2 0zM989.4 570.6a2.1 2.1 0 1 0 4.2 0a2.1 2.1 0 1 0 -4.2 0zM1099.1 592.0a2.1 2.1 0 1 0 4.2 0a2.1 2.1 0 1 0 -4.2 0zM1101.8 598.8a2.1 2.1 0 1 0 4.2 0a2.1 2.1 0 1 0 -4.2 0zM1088.6 514.9a2.1 2.1 0 1 0 4.2 0a2.1 2.1 0 1 0 -4.2 0zM968.6 638.1a2.1 2.1 0 1 0 4.2 0a2.1 2.1 0 1 0 -4.2 0zM1032.9 532.0a2.1 2.1 0 1 0 4.2 0a2.1 2.1 0 1 0 -4.2 0zM958.0 614.9a2.1 2.1 0 1 0 4.2 0a2.1 2.1 0 1 0 -4.2 0zM1006.4 555.6a2.1 2.1 0 1 0 4.2 0a2.1 2.1 0 1 0 -4.2 0zM1007.8 635.8a2.1 2.1 0 1 0 4.2 0a2.1 2.1 0 1 0 -4.2 0zM1002.3 556.6a2.1 2.1 0 1 0 4.2 0a2.1 2.1 0 1 0 -4.2 0zM1008.3 636.2a2.1 2.1 0 1 0 4.2 0a2.1 2.1 0 1 0 -4.2 0zM1020.9 536.8a2.1 2.1 0 1 0 4.2 0a2.1 2.1 0 1 0 -4.2 0zM1015.3 539.8a2.1 2.1 0 1 0 4.2 0a2.1 2.1 0 1 0 -4.2 0zM1029.9 531.0a2.1 2.1 0 1 0 4.2 0a2.1 2.1 0 1 0 -4.2 0zM957.0 642.1a2.1 2.1 0 1 0 4.2 0a2.1 2.1 0 1 0 -4.2 0zM1068.0 617.9a2.1 2.1 0 1 0 4.2 0a2.1 2.1 0 1 0 -4.2 0zM1108.7 549.8a2.1 2.1 0 1 0 4.2 0a2.1 2.1 0 1 0 -4.2 0zM1100.2 582.2a2.1 2.1 0 1 0 4.2 0a2.1 2.1 0 1 0 -4.2 0zM1059.6 516.0a2.1 2.1 0 1 0 4.2 0a2.1 2.1 0 1 0 -4.2 0zM956.4 626.1a2.1 2.1 0 1 0 4.2 0a2.1 2.1 0 1 0 -4.2 0zM1086.9 608.2a2.1 2.1 0 1 0 4.2 0a2.1 2.1 0 1 0 -4.2 0zM1021.1 536.6a2.1 2.1 0 1 0 4.2 0a2.1 2.1 0 1 0 -4.2 0zM1073.4 512.2a2.1 2.1 0 1 0 4.2 0a2.1 2.1 0 1 0 -4.2 0zM1118.0 557.5a2.1 2.1 0 1 0 4.2 0a2.1 2.1 0 1 0 -4.2 0zM985.3 587.1a2.1 2.1 0 1 0 4.2 0a2.1 2.1 0 1 0 -4.2 0zM1009.3 637.2a2.1 2.1 0 1 0 4.2 0a2.1 2.1 0 1 0 -4.2 0zM977.9 582.7a2.1 2.1 0 1 0 4.2 0a2.1 2.1 0 1 0 -4.2 0zM968.2 590.9a2.1 2.1 0 1 0 4.2 0a2.1 2.1 0 1 0 -4.2 0zM1114.3 571.3a2.1 2.1 0 1 0 4.2 0a2.1 2.1 0 1 0 -4.2 0zM1104.0 587.2a2.1 2.1 0 1 0 4.2 0a2.1 2.1 0 1 0 -4.2 0zM1105.1 510.1a2.1 2.1 0 1 0 4.2 0a2.1 2.1 0 1 0 -4.2 0zM1101.3 582.8a2.1 2.1 0 1 0 4.2 0a2.1 2.1 0 1 0 -4.2 0zM1055.9 629.7a2.1 2.1 0 1 0 4.2 0a2.1 2.1 0 1 0 -4.2 0zM1005.1 546.8a2.1 2.1 0 1 0 4.2 0a2.1 2.1 0 1 0 -4.2 0zM981.9 585.7a2.1 2.1 0 1 0 4.2 0a2.1 2.1 0 1 0 -4.2 0zM992.6 638.0a2.1 2.1 0 1 0 4.2 0a2.1 2.1 0 1 0 -4.2 0zM1001.1 553.0a2.1 2.1 0 1 0 4.2 0a2.1 2.1 0 1 0 -4.2 0zM1113.7 570.1a2.1 2.1 0 1 0 4.2 0a2.1 2.1 0 1 0 -4.2 0zM991.2 578.1a2.1 2.1 0 1 0 4.2 0a2.1 2.1 0 1 0 -4.2 0zM1113.3 576.8a2.1 2.1 0 1 0 4.2 0a2.1 2.1 0 1 0 -4.2 0zM1069.3 515.2a2.1 2.1 0 1 0 4.2 0a2.1 2.1 0 1 0 -4.2 0zM952.1 616.4a2.1 2.1 0 1 0 4.2 0a2.1 2.1 0 1 0 -4.2 0zM1105.7 518.7a2.1 2.1 0 1 0 4.2 0a2.1 2.1 0 1 0 -4.2 0zM1007.5 550.3a2.1 2.1 0 1 0 4.2 0a2.1 2.1 0 1 0 -4.2 0zM973.7 642.8a2.1 2.1 0 1 0 4.2 0a2.1 2.1 0 1 0 -4.2 0zM981.9 640.6a2.1 2.1 0 1 0 4.2 0a2.1 2.1 0 1 0 -4.2 0zM960.7 610.7a2.1 2.1 0 1 0 4.2 0a2.1 2.1 0 1 0 -4.2 0zM1024.8 537.0a2.1 2.1 0 1 0 4.2 0a2.1 2.1 0 1 0 -4.2 0zM1110.4 560.8a2.1 2.1 0 1 0 4.2 0a2.1 2.1 0 1 0 -4.2 0zM993.3 561.4a2.1 2.1 0 1 0 4.2 0a2.1 2.1 0 1 0 -4.2 0zM967.7 597.6a2.1 2.1 0 1 0 4.2 0a2.1 2.1 0 1 0 -4.2 0zM1057.9 623.8a2.1 2.1 0 1 0 4.2 0a2.1 2.1 0 1 0 -4.2 0zM1038.9 526.0a2.1 2.1 0 1 0 4.2 0a2.1 2.1 0 1 0 -4.2 0zM989.2 573.7a2.1 2.1 0 1 0 4.2 0a2.1 2.1 0 1 0 -4.2 0zM1055.8 510.9a2.1 2.1 0 1 0 4.2 0a2.1 2.1 0 1 0 -4.2 0zM1117.6 522.6a2.1 2.1 0 1 0 4.2 0a2.1 2.1 0 1 0 -4.2 0zM1111.1 559.0a2.1 2.1 0 1 0 4.2 0a2.1 2.1 0 1 0 -4.2 0zM1110.2 554.2a2.1 2.1 0 1 0 4.2 0a2.1 2.1 0 1 0 -4.2 0zM1095.3 506.8a2.1 2.1 0 1 0 4.2 0a2.1 2.1 0 1 0 -4.2 0zM1006.6 635.7a2.1 2.1 0 1 0 4.2 0a2.1 2.1 0 1 0 -4.2 0zM970.4 584.5a2.1 2.1 0 1 0 4.2 0a2.1 2.1 0 1 0 -4.2 0zM1017.9 636.5a2.1 2.1 0 1 0 4.2 0a2.1 2.1 0 1 0 -4.2 0zM948.1 626.6a2.1 2.1 0 1 0 4.2 0a2.1 2.1 0 1 0 -4.2 0zM958.6 639.0a2.1 2.1 0 1 0 4.2 0a2.1 2.1 0 1 0 -4.2 0zM957.9 636.8a2.1 2.1 0 1 0 4.2 0a2.1 2.1 0 1 0 -4.2 0zM1111.7 556.1a2.1 2.1 0 1 0 4.2 0a2.1 2.1 0 1 0 -4.2 0zM1049.2 520.4a2.1 2.1 0 1 0 4.2 0a2.1 2.1 0 1 0 -4.2 0zM1006.1 558.3a2.1 2.1 0 1 0 4.2 0a2.1 2.1 0 1 0 -4.2 0zM1062.0 624.1a2.1 2.1 0 1 0 4.2 0a2.1 2.1 0 1 0 -4.2 0zM988.8 635.3a2.1 2.1 0 1 0 4.2 0a2.1 2.1 0 1 0 -4.2 0zM1100.4 515.7a2.1 2.1 0 1 0 4.2 0a2.1 2.1 0 1 0 -4.2 0zM1011.9 537.8a2.1 2.1 0 1 0 4.2 0a2.1 2.1 0 1 0 -4.2 0zM1114.1 524.7a2.1 2.1 0 1 0 4.2 0a2.1 2.1 0 1 0 -4.2 0zM1011.3 638.2a2.1 2.1 0 1 0 4.2 0a2.1 2.1 0 1 0 -4.2 0zM1047.1 626.9a2.1 2.1 0 1 0 4.2 0a2.1 2.1 0 1 0 -4.2 0zM1103.4 583.8a2.1 2.1 0 1 0 4.2 0a2.1 2.1 0 1 0 -4.2 0zM1046.4 515.8a2.1 2.1 0 1 0 4.2 0a2.1 2.1 0 1 0 -4.2 0zM973.5 644.6a2.1 2.1 0 1 0 4.2 0a2.1 2.1 0 1 0 -4.2 0zM1105.9 580.5a2.1 2.1 0 1 0 4.2 0a2.1 2.1 0 1 0 -4.2 0zM1004.5 561.5a2.1 2.1 0 1 0 4.2 0a2.1 2.1 0 1 0 -4.2 0zM1115.7 531.5a2.1 2.1 0 1 0 4.2 0a2.1 2.1 0 1 0 -4.2 0zM990.5 567.6a2.1 2.1 0 1 0 4.2 0a2.1 2.1 0 1 0 -4.2 0zM1075.1 507.5a2.1 2.1 0 1 0 4.2 0a2.1 2.1 0 1 0 -4.2 0zM974.4 579.6a2.1 2.1 0 1 0 4.2 0a2.1 2.1 0 1 0 -4.2 0z"/>
<path fill="#999999" d="M975.5 644.9a2.1 2.1 0 1 0 4.2 0a2.1 2.1 0 1 0 -4.2 0zM954.1 654.6a2.1 2.1 0 1 0 4.2 0a2.1 2.1 0 1 0 -4.2 0zM934.2 645.8a2.1 2.1 0 1 0 4.2 0a2.1 2.1 0 1 0 -4.2 0zM934.6 655.5a2.1 2.1 0 1 0 4.2 0a2.1 2.1 0 1 0 -4.2 0zM955.8 645.5a2.1 2.1 0 1 0 4.2 0a2.1 2.1 0 1 0 -4.2 0zM1055.4 631.2a2.1 2.1 0 1 0 4.2 0a2.1 2.1 0 1 0 -4.2 0zM1078.4 613.8a2.1 2.1 0 1 0 4.2 0a2.1 2.1 0 1 0 -4.2 0zM928.3 646.2a2.1 2.1 0 1 0 4.2 0a2.1 2.1 0 1 0 -4.2 0zM997.4 641.1a2.1 2.1 0 1 0 4.2 0a2.1 2.1 0 1 0 -4.2 0zM1014.3 659.9a2.1 2.1 0 1 0 4.2 0a2.1 2.1 0 1 0 -4.2 0zM1015.3 659.6a2.1 2.1 0 1 0 4.2 0a2.1 2.1 0 1 0 -4.2 0zM955.1 656.4a2.1 2.1 0 1 0 4.2 0a2.1 2.1 0 1 0 -4.2 0zM984.8 642.6a2.1 2.1 0 1 0 4.2 0a2.1 2.1 0 1 0 -4.2 0zM1082.6 627.8a2.1 2.1 0 1 0 4.2 0a2.1 2.1 0 1 0 -4.2 0zM973.3 658.6a2.1 2.1 0 1 0 4.2 0a2.1 2.1 0 1 0 -4.2 0zM978.8 651.3a2.1 2.1 0 1 0 4.2 0a2.1 2.1 0 1 0 -4.2 0zM976.3 658.4a2.1 2.1 0 1 0 4.2 0a2.1 2.1 0 1 0 -4.2 0zM1054.1 633.3a2.1 2.1 0 1 0 4.2 0a2.1 2.1 0 1 0 -4.2 0zM948.2 652.6a2.1 2.1 0 1 0 4.2 0a2.1 2.1 0 1 0 -4.2 0zM1006.5 661.9a2.1 2.1 0 1 0 4.2 0a2.1 2.1 0 1 0 -4.2 0zM1035.9 654.0a2.1 2.1 0 1 0 4.2 0a2.1 2.1 0 1 0 -4.2 0zM1074.4 621.8a2.1 2.1 0 1 0 4.2 0a2.1 2.1 0 1 0 -4.2 0zM1064.2 620.1a2.1 2.1 0 1 0 4.2 0a2.1 2.1 0 1 0 -4.2 0zM1025.6 642.8a2.1 2.1 0 1 0 4.2 0a2.1 2.1 0 1 0 -4.2 0zM1068.7 629.8a2.1 2.1 0 1 0 4.2 0a2.1 2.1 0 1 0 -4.2 0zM1102.4 600.2a2.1 2.1 0 1 0 4.2 0a2.1 2.1 0 1 0 -4.2 0zM965.2 655.8a2.1 2.1 0 1 0 4.2 0a2.1 2.1 0 1 0 -4.2 0zM1039.4 648.2a2.1 2.1 0 1 0 4.2 0a2.1 2.1 0 1 0 -4.2 0zM1052.2 630.2a2.1 2.1 0 1 0 4.2 0a2.1 2.1 0 1 0 -4.2 0zM997.6 651.2a2.1 2.1 0 1 0 4.2 0a2.1 2.1 0 1 0 -4.2 0zM1084.7 624.7a2.1 2.1 0 1 0 4.2 0a2.1 2.1 0 1 0 -4.2 0zM933.1 647.5a2.1 2.1 0 1 0 4.2 0a2.1 2.1 0 1 0 -4.2 0zM963.5 651.9a2.1 2.1 0 1 0 4.2 0a2.1 2.1 0 1 0 -4.2 0zM954.2 635.4a2.1 2.1 0 1 0 4.2 0a2.1 2.1 0 1 0 -4.2 0zM1088.4 624.5a2.1 2.1 0 1 0 4.2 0a2.1 2.1 0 1 0 -4.2 0zM942.5 632.3a2.1 2.1 0 1 0 4.2 0a2.1 2.1 0 1 0 -4.2 0zM1076.6 614.3a2.1 2.1 0 1 0 4.2 0a2.1 2.1 0 1 0 -4.2 0zM1100.5 612.9a2.1 2.1 0 1 0 4.2 0a2.1 2.1 0 1 0 -4.2 0zM1087.2 632.9a2.1 2.1 0 1 0 4.2 0a2.1 2.1 0 1 0 -4.2 0zM1039.6 639.3a2.1 2.1 0 1 0 4.2 0a2.1 2.1 0 1 0 -4.2 0zM944.6 632.4a2.1 2.1 0 1 0 4.2 0a2.1 2.1 0 1 0 -4.2 0zM966.7 656.6a2.1 2.1 0 1 0 4.2 0a2.1 2.1 0 1 0 -4.2 0zM1102.1 599.9a2.1 2.1 0 1 0 4.2 0a2.1 2.1 0 1 0 -4.2 0zM980.1 656.3a2.1 2.1 0 1 0 4.2 0a2.1 2.1 0 1 0 -4.2 0zM1038.1 630.7a2.1 2.1 0 1 0 4.2 0a2.1 2.1 0 1 0 -4.2 0zM1081.5 639.6a2.1 2.1 0 1 0 4.2 0a2.1 2.1 0 1 0 -4.2 0zM942.5 637.6a2.1 2.1 0 1 0 4.2 0a2.1 2.1 0 1 0 -4.2 0zM1103.0 593.3a2.1 2.1 0 1 0 4.2 0a2.1 2.1 0 1 0 -4.2 0zM970.9 644.9a2.1 2.1 0 1 0 4.2 0a2.1 2.1 0 1 0 -4.2 0zM977.2 648.0a2.1 2.1 0 1 0 4.2 0a2.1 2.1 0 1 0 -4.2 0zM1107.0 609.6a2.1 2.1 0 1 0 4.2 0a2.1 2.1 0 1 0 -4.2 0zM1102.8 602.9a2.1 2.1 0 1 0 4.2 0a2.1 2.1 0 1 0 -4.2 0zM1060.2 639.0a2.1 2.1 0 1 0 4.2 0a2.1 2.1 0 1 0 -4.2 0zM997.8 660.7a2.1 2.1 0 1 0 4.2 0a2.1 2.1 0 1 0 -4.2 0zM946.3 647.1a2.1 2.1 0 1 0 4.2 0a2.1 2.1 0 1 0 -4.2 0zM1038.3 657.3a2.1 2.1 0 1 0 4.2 0a2.1 2.1 0 1 0 -4.2 0zM1101.8 616.6a2.1 2.1 0 1 0 4.2 0a2.1 2.1 0 1 0 -4.2 0zM1028.8 643.0a2.1 2.1 0 1 0 4.2 0a2.1 2.1 0 1 0 -4.2 0zM937.8 656.0a2.1 2.1 0 1 0 4.2 0a2.1 2.1 0 1 0 -4.2 0zM1075.8 616.5a2.1 2.1 0 1 0 4.2 0a2.1 2.1 0 1 0 -4.2 0zM1076.4 638.5a2.1 2.1 0 1 0 4.2 0a2.1 2.1 0 1 0 -4.2 0zM1023.6 641.6a2.1 2.1 0 1 0 4.2 0a2.1 2.1 0 1 0 -4.2 0zM1052.9 650.9a2.1 2.1 0 1 0 4.2 0a2.1 2.1 0 1 0 -4.2 0zM1110.2 577.6a2.1 2.1 0 1 0 4.2 0a2.1 2.1 0 1 0 -4.2 0zM956.9 646.6a2.1 2.1 0 1 0 4.2 0a2.1 2.1 0 1 0 -4.2 0zM1032.2 634.0a2.1 2.1 0 1 0 4.2 0a2.1 2.1 0 1 0 -4.2 0zM1067.2 646.3a2.1 2.1 0 1 0 4.2 0a2.1 2.1 0 1 0 -4.2 0zM984.0 657.2a2.1 2.1 0 1 0 4.2 0a2.1 2.1 0 1 0 -4.2 0zM1049.9 634.5a2.1 2.1 0 1 0 4.2 0a2.1 2.1 0 1 0 -4.2 0zM1080.2 631.8a2.1 2.1 0 1 0 4.2 0a2.1 2.1 0 1 0 -4.2 0zM1006.9 655.1a2.1 2.1 0 1 0 4.2 0a2.1 2.1 0 1 0 -4.2 0zM1014.9 653.6a2.1 2.1 0 1 0 4.2 0a2.1 2.1 0 1 0 -4.2 0zM1101.9 615.2a2.1 2.1 0 1 0 4.2 0a2.1 2.1 0 1 0 -4.2 0zM1071.9 634.5a2.1 2.1 0 1 0 4.2 0a2.1 2.1 0 1 0 -4.2 0zM985.9 662.8a2.1 2.1 0 1 0 4.2 0a2.1 2.1 0 1 0 -4.2 0zM961.4 660.3a2.1 2.1 0 1 0 4.2 0a2.1 2.1 0 1 0 -4.2 0zM939.9 657.8a2.1 2.1 0 1 0 4.2 0a2.1 2.1 0 1 0 -4.2 0zM1039.8 633.2a2.1 2.1 0 1 0 4.2 0a2.1 2.1 0 1 0 -4.2 0zM970.4 649.9a2.1 2.1 0 1 0 4.2 0a2.1 2.1 0 1 0 -4.2 0zM930.9 647.1a2.1 2.1 0 1 0 4.2 0a2.1 2.1 0 1 0 -4.2 0zM1006.4 650.2a2.1 2.1 0 1 0 4.2 0a2.1 2.1 0 1 0 -4.2 0zM1007.2 656.1a2.1 2.1 0 1 0 4.2 0a2.1 2.1 0 1 0 -4.2 0zM1084.2 617.4a2.1 2.1 0 1 0 4.2 0a2.1 2.1 0 1 0 -4.2 0zM979.6 643.3a2.1 2.1 0 1 0 4.2 0a2.1 2.1 0 1 0 -4.2 0zM987.1 660.0a2.1 2.1 0 1 0 4.2 0a2.1 2.1 0 1 0 -4.2 0zM973.9 652.9a2.1 2.1 0 1 0 4.2 0a2.1 2.1 0 1 0 -4.2 0zM945.7 629.6a2.1 2.1 0 1 0 4.2 0a2.1 2.1 0 1 0 -4.2 0zM1065.5 651.8a2.1 2.1 0 1 0 4.2 0a2.1 2.1 0 1 0 -4.2 0zM1006.6 662.5a2.1 2.1 0 1 0 4.2 0a2.1 2.1 0 1 0 -4.2 0zM1000.9 658.9a2.1 2.1 0 1 0 4.2 0a2.1 2.1 0 1 0 -4.2 0zM1056.6 652.5a2.1 2.1 0 1 0 4.2 0a2.1 2.1 0 1 0 -4.2 0zM966.8 657.2a2.1 2.1 0 1 0 4.2 0a2.1 2.1 0 1 0 -4.2 0zM1053.3 650.2a2.1 2.1 0 1 0 4.2 0a2.1 2.1 0 1 0 -4.2 0zM1098.8 603.0a2.1 2.1 0 1 0 4.2 0a2.1 2.1 0 1 0 -4.2 0zM1056.6 629.3a2.1 2.1 0 1 0 4.2 0a2.1 2.1 0 1 0 -4.2 0zM1065.9 646.5a2.1 2.1 0 1 0 4.2 0a2.1 2.1 0 1 0 -4.2 0zM1112.8 564.1a2.1 2.1 0 1 0 4.2 0a2.1 2.1 0 1 0 -4.2 0zM948.8 656.8a2.1 2.1 0 1 0 4.2 0a2.1 2.1 0 1 0 -4.2 0zM1079.2 637.7a2.1 2.1 0 1 0 4.2 0a2.1 2.1 0 1 0 -4.2 0zM1074.9 617.3a2.1 2.1 0 1 0 4.2 0a2.1 2.1 0 1 0 -4.2 0zM1063.9 640.7a2.1 2.1 0 1 0 4.2 0a2.1 2.1 0 1 0 -4.2 0zM1112.0 569.5a2.1 2.1 0 1 0 4.2 0a2.1 2.1 0 1 0 -4.2 0zM1072.3 621.8a2.1 2.1 0 1 0 4.2 0a2.1 2.1 0 1 0 -4.2 0zM1086.7 621.6a2.1 2.1 0 1 0 4.2 0a2.1 2.1 0 1 0 -4.2 0zM1023.9 636.6a2.1 2.1 0 1 0 4.2 0a2.1 2.1 0 1 0 -4.2 0zM1092.2 606.5a2.1 2.1 0 1 0 4.2 0a2.1 2.1 0 1 0 -4.2 0zM989.1 662.5a2.1 2.1 0 1 0 4.2 0a2.1 2.1 0 1 0 -4.2 0zM1045.6 634.3a2.1 2.1 0 1 0 4.2 0a2.1 2.1 0 1 0 -4.2 0zM1089.3 617.4a2.1 2.1 0 1 0 4.2 0a2.1 2.1 0 1 0 -4.2 0zM960.5 653.5a2.1 2.1 0 1 0 4.2 0a2.1 2.1 0 1 0 -4.2 0zM934.8 654.0a2.1 2.1 0 1 0 4.2 0a2.1 2.1 0 1 0 -4.2 0zM1008.7 643.7a2.1 2.1 0 1 0 4.2 0a2.1 2.1 0 1 0 -4.2 0zM1072.2 649.6a2.1 2.1 0 1 0 4.2 0a2.1 2.1 0 1 0 -4.2 0zM1069.5 626.4a2.1 2.1 0 1 0 4.2 0a2.1 2.1 0 1 0 -4.2 0zM1082.5 613.4a2.1 2.1 0 1 0 4.2 0a2.1 2.1 0 1 0 -4.2 0zM1104.4 596.8a2.1 2.1 0 1 0 4.2 0a2.1 2.1 0 1 0 -4.2 0zM1093.8 608.3a2.1 2.1 0 1 0 4.2 0a2.1 2.1 0 1 0 -4.2 0zM1085.7 625.3a2.1 2.1 0 1 0 4.2 0a2.1 2.1 0 1 0 -4.2 0zM957.1 645.4a2.1 2.1 0 1 0 4.2 0a2.1 2.1 0 1 0 -4.2 0zM983.3 648.6a2.1 2.1 0 1 0 4.2 0a2.1 2.1 0 1 0 -4.2 0zM999.3 655.0a2.1 2.1 0 1 0 4.2 0a2.1 2.1 0 1 0 -4.2 0zM1069.4 631.8a2.1 2.1 0 1 0 4.2 0a2.1 2.1 0 1 0 -4.2 0zM949.0 647.2a2.1 2.1 0 1 0 4.2 0a2.1 2.1 0 1 0 -4.2 0zM950.0 633.0a2.1 2.1 0 1 0 4.2 0a2.1 2.1 0 1 0 -4.2 0zM966.8 643.0a2.1 2.1 0 1 0 4.2 0a2.1 2.1 0 1 0 -4.2 0zM1066.1 640.7a2.1 2.1 0 1 0 4.2 0a2.1 2.1 0 1 0 -4.2 0zM1052.7 628.4a2.1 2.1 0 1 0 4.2 0a2.1 2.1 0 1 0 -4.2 0zM1086.5 624.0a2.1 2.1 0 1 0 4.2 0a2.1 2.1 0 1 0 -4.2 0zM978.5 650.5a2.1 2.1 0 1 0 4.2 0a2.1 2.1 0 1 0 -4.2 0zM951.4 652.2a2.1 2.1 0 1 0 4.2 0a2.1 2.1 0 1 0 -4.2 0zM1033.6 638.9a2.1 2.1 0 1 0 4.2 0a2.1 2.1 0 1 0 -4.2 0zM1065.7 623.7a2.1 2.1 0 1 0 4.2 0a2.1 2.1 0 1 0 -4.2 0zM1078.0 637.8a2.1 2.1 0 1 0 4.2 0a2.1 2.1 0 1 0 -4.2 0zM981.5 645.8a2.1 2.1 0 1 0 4.2 0a2.1 2.1 0 1 0 -4.2 0zM1094.6 625.1a2.1 2.1 0 1 0 4.2 0a2.1 2.1 0 1 0 -4.2 0zM948.0 628.7a2.1 2.1 0 1 0 4.2 0a2.1 2.1 0 1 0 -4.2 0zM965.0 653.8a2.1 2.1 0 1 0 4.2 0a2.1 2.1 0 1 0 -4.2 0zM1092.4 606.4a2.1 2.1 0 1 0 4.2 0a2.1 2.1 0 1 0 -4.2 0zM1107.7 589.2a2.1 2.1 0 1 0 4.2 0a2.1 2.1 0 1 0 -4.2 0zM942.7 647.9a2.1 2.1 0 1 0 4.2 0a2.1 2.1 0 1 0 -4.2 0zM1088.2 606.7a2.1 2.1 0 1 0 4.2 0a2.1 2.1 0 1 0 -4.2 0zM1027.0 652.5a2.1 2.1 0 1 0 4.2 0a2.1 2.1 0 1 0 -4.2 0zM980.6 656.7a2.1 2.1 0 1 0 4.2 0a2.1 2.1 0 1 0 -4.2 0zM1090.1 636.6a2.1 2.1 0 1 0 4.2 0a2.1 2.1 0 1 0 -4.2 0zM1001.0 646.4a2.1 2.1 0 1 0 4.2 0a2.1 2.1 0 1 0 -4.2 0zM1033.1 642.2a2.1 2.1 0 1 0 4.2 0a2.1 2.1 0 1 0 -4.2 0zM1054.0 654.5a2.1 2.1 0 1 0 4.2 0a2.1 2.1 0 1 0 -4.2 0zM1083.3 632.2a2.1 2.1 0 1 0 4.2 0a2.1 2.1 0 1 0 -4.2 0zM1011.1 656.7a2.1 2.1 0 1 0 4.2 0a2.1 2.1 0 1 0 -4.2 0zM1023.2 636.9a2.1 2.1 0 1 0 4.2 0a2.1 2.1 0 1 0 -4.2 0zM996.4 662.0a2.1 2.1 0 1 0 4.2 0a2.1 2.1 0 1 0 -4.2 0zM1023.7 645.0a2.1 2.1 0 1 0 4.2 0a2.1 2.1 0 1 0 -4.2 0zM1043.1 645.3a2.1 2.1 0 1 0 4.2 0a2.1 2.1 0 1 0 -4.2 0zM998.2 656.8a2.1 2.1 0 1 0 4.2 0a2.1 2.1 0 1 0 -4.2 0zM1097.2 600.1a2.1 2.1 0 1 0 4.2 0a2.1 2.1 0 1 0 -4.2 0zM987.9 653.2a2.1 2.1 0 1 0 4.2 0a2.1 2.1 0 1 0 -4.2 0zM1081.4 622.9a2.1 2.1 0 1 0 4.2 0a2.1 2.1 0 1 0 -4.2 0zM1112.0 565.7a2.1 2.1 0 1 0 4.2 0a2.1 2.1 0 1 0 -4.2 0zM1043.7 644.0a2.1 2.1 0 1 0 4.2 0a2.1 2.1 0 1 0 -4.2 0zM1098.2 602.7a2.1 2.1 0 1 0 4.2 0a2.1 2.1 0 1 0 -4.2 0zM1018.7 648.0a2.1 2.1 0 1 0 4.2 0a2.1 2.1 0 1 0 -4.2 0zM1005.4 641.7a2.1 2.1 0 1 0 4.2 0a2.1 2.1 0 1 0 -4.2 0zM991.8 646.9a2.1 2.1 0 1 0 4.2 0a2.1 2.1 0 1 0 -4.2 0zM988.8 647.5a2.1 2.1 0 1 0 4.2 0a2.1 2.1 0 1 0 -4.2 0zM1111.0 595.5a2.1 2.1 0 1 0 4.2 0a2.1 2.1 0 1 0 -4.2 0zM935.3 653.7a2.1 2.1 0 1 0 4.2 0a2.1 2.1 0 1 0 -4.2 0zM1009.6 649.2a2.1 2.1 0 1 0 4.2 0a2.1 2.1 0 1 0 -4.2 0zM1014.4 654.0a2.1 2.1 0 1 0 4.2 0a2.1 2.1 0 1 0 -4.2 0zM1051.6 632.5a2.1 2.1 0 1 0 4.2 0a2.1 2.1 0 1 0 -4.2 0zM1059.9 642.7a2.1 2.1 0 1 0 4.2 0a2.1 2.1 0 1 0 -4.2 0zM930.1 650.1a2.1 2.1 0 1 0 4.2 0a2.1 2.1 0 1 0 -4.2 0zM967.6 661.7a2.1 2.1 0 1 0 4.2 0a2.1 2.1 0 1 0 -4.2 0zM1018.2 650.2a2.1 2.1 0 1 0 4.2 0a2.1 2.1 0 1 0 -4.2 0zM1078.2 634.6a2.1 2.1 0 1 0 4.2 0a2.1 2.1 0 1 0 -4.2 0zM990.2 647.6a2.1 2.1 0 1 0 4.2 0a2.1 2.1 0 1 0 -4.2 0zM1021.8 646.4a2.1 2.1 0 1 0 4.2 0a2.1 2.1 0 1 0 -4.2 0zM1041.2 648.2a2.1 2.1 0 1 0 4.2 0a2.1 2.1 0 1 0 -4.2 0zM1106.4 580.8a2.1 2.1 0 1 0 4.2 0a2.1 2.1 0 1 0 -4.2 0zM1086.2 638.1a2.1 2.1 0 1 0 4.2 0a2.1 2.1 0 1 0 -4.2 0zM1068.9 630.0a2.1 2.1 0 1 0 4.2 0a2.1 2.1 0 1 0 -4.2 0zM1073.9 646.6a2.1 2.1 0 1 0 4.2 0a2.1 2.1 0 1 0 -4.2 0zM968.2 647.0a2.1 2.1 0 1 0 4.2 0a2.1 2.1 0 1 0 -4.2 0zM1047.0 633.9a2.1 2.1 0 1 0 4.2 0a2.1 2.1 0 1 0 -4.2 0zM1102.9 616.4a2.1 2.1 0 1 0 4.2 0a2.1 2.1 0 1 0 -4.2 0zM958.5 656.8a2.1 2.1 0 1 0 4.2 0a2.1 2.1 0 1 0 -4.2 0zM1008.0 639.5a2.1 2.1 0 1 0 4.2 0a2.1 2.1 0 1 0 -4.2 0zM990.2 645.0a2.1 2.1 0 1 0 4.2 0a2.1 2.1 0 1 0 -4.2 0zM1029.0 656.4a2.1 2.1 0 1 0 4.2 0a2.1 2.1 0 1 0 -4.2 0zM1061.7 637.7a2.1 2.1 0 1 0 4.2 0a2.1 2.1 0 1 0 -4.2 0zM975.5 647.0a2.1 2.1 0 1 0 4.2 0a2.1 2.1 0 1 0 -4.2 0zM1023.6 637.8a2.1 2.1 0 1 0 4.2 0a2.1 2.1 0 1 0 -4.2 0zM929.2 648.1a2.1 2.1 0 1 0 4.2 0a2.1 2.1 0 1 0 -4.2 0zM995.2 652.9a2.1 2.1 0 1 0 4.2 0a2.1 2.1 0 1 0 -4.2 0zM1101.3 621.6a2.1 2.1 0 1 0 4.2 0a2.1 2.1 0 1 0 -4.2 0zM1080.4 642.0a2.1 2.1 0 1 0 4.2 0a2.1 2.1 0 1 0 -4.2 0zM1057.4 636.1a2.1 2.1 0 1 0 4.2 0a2.1 2.1 0 1 0 -4.2 0zM1078.8 645.2a2.1 2.1 0 1 0 4.2 0a2.1 2.1 0 1 0 -4.2 0zM1102.9 606.3a2.1 2.1 0 1 0 4.2 0a2.1 2.1 0 1 0 -4.2 0zM1050.8 636.1a2.1 2.1 0 1 0 4.2 0a2.1 2.1 0 1 0 -4.2 0zM1062.8 650.6a2.1 2.1 0 1 0 4.2 0a2.1 2.1 0 1 0 -4.2 0zM1076.0 640.7a2.1 2.1 0 1 0 4.2 0a2.1 2.1 0 1 0 -4.2 0zM1111.8 582.4a2.1 2.1 0 1 0 4.2 0a2.1 2.1 0 1 0 -4.2 0zM1102.1 603.3a2.1 2.1 0 1 0 4.2 0a2.1 2.1 0 1 0 -4.2 0zM962.7 646.3a2.1 2.1 0 1 0 4.2 0a2.1 2.1 0 1 0 -4.2 0zM1000.7 652.7a2.1 2.1 0 1 0 4.2 0a2.1 2.1 0 1 0 -4.2 0zM1067.5 648.7a2.1 2.1 0 1 0 4.2 0a2.1 2.1 0 1 0 -4.2 0zM992.9 648.8a2.1 2.1 0 1 0 4.2 0a2.1 2.1 0 1 0 -4.2 0zM1026.6 638.4a2.1 2.1 0 1 0 4.2 0a2.1 2.1 0 1 0 -4.2 0zM1024.4 639.6a2.1 2.1 0 1 0 4.2 0a2.1 2.1 0 1 0 -4.2 0zM1047.8 635.0a2.1 2.1 0 1 0 4.2 0a2.1 2.1 0 1 0 -4.2 0zM1044.2 644.5a2.1 2.1 0 1 0 4.2 0a2.1 2.1 0 1 0 -4.2 0zM1080.9 619.7a2.1 2.1 0 1 0 4.2 0a2.1 2.1 0 1 0 -4.2 0zM1006.5 650.7a2.1 2.1 0 1 0 4.2 0a2.1 2.1 0 1 0 -4.2 0zM942.0 643.8a2.1 2.1 0 1 0 4.2 0a2.1 2.1 0 1 0 -4.2 0zM1107.6 607.3a2.1 2.1 0 1 0 4.2 0a2.1 2.1 0 1 0 -4.2 0zM1039.7 651.9a2.1 2.1 0 1 0 4.2 0a2.1 2.1 0 1 0 -4.2 0zM1106.7 613.2a2.1 2.1 0 1 0 4.2 0a2.1 2.1 0 1 0 -4.2 0zM995.8 651.1a2.1 2.1 0 1 0 4.2 0a2.1 2.1 0 1 0 -4.2 0zM986.7 649.5a2.1 2.1 0 1 0 4.2 0a2.1 2.1 0 1 0 -4.2 0zM943.8 643.9a2.1 2.1 0 1 0 4.2 0a2.1 2.1 0 1 0 -4.2 0zM1019.3 659.1a2.1 2.1 0 1 0 4.2 0a2.1 2.1 0 1 0 -4.2 0zM957.9 639.1a2.1 2.1 0 1 0 4.2 0a2.1 2.1 0 1 0 -4.2 0zM1019.6 648.3a2.1 2.1 0 1 0 4.2 0a2.1 2.1 0 1 0 -4.2 0zM1105.0 612.5a2.1 2.1 0 1 0 4.2 0a2.1 2.1 0 1 0 -4.2 0zM940.4 648.9a2.1 2.1 0 1 0 4.2 0a2.1 2.1 0 1 0 -4.2 0zM1092.3 621.2a2.1 2.1 0 1 0 4.2 0a2.1 2.1 0 1 0 -4.2 0zM1025.0 642.1a2.1 2.1 0 1 0 4.2 0a2.1 2.1 0 1 0 -4.2 0zM1106.6 610.5a2.1 2.1 0 1 0 4.2 0a2.1 2.1 0 1 0 -4.2 0zM987.9 652.2a2.1 2.1 0 1 0 4.2 0a2.1 2.1 0 1 0 -4.2 0zM1096.8 607.7a2.1 2.1 0 1 0 4.2 0a2.1 2.1 0 1 0 -4.2 0zM937.6 655.6a2.1 2.1 0 1 0 4.2 0a2.1 2.1 0 1 0 -4.2 0zM1085.4 623.3a2.1 2.1 0 1 0 4.2 0a2.1 2.1 0 1 0 -4.2 0zM1108.3 596.6a2.1 2.1 0 1 0 4.2 0a2.1 2.1 0 1 0 -4.2 0zM1058.8 645.0a2.1 2.1 0 1 0 4.2 0a2.1 2.1 0 1 0 -4.2 0zM954.2 641.9a2.1 2.1 0 1 0 4.2 0a2.1 2.1 0 1 0 -4.2 0zM1038.5 654.2a2.1 2.1 0 1 0 4.2 0a2.1 2.1 0 1 0 -4.2 0zM1055.3 649.4a2.1 2.1 0 1 0 4.2 0a2.1 2.1 0 1 0 -4.2 0zM1087.1 630.7a2.1 2.1 0 1 0 4.2 0a2.1 2.1 0 1 0 -4.2 0zM1093.9 628.0a2.1 2.1 0 1 0 4.2 0a2.1 2.1 0 1 0 -4.2 0zM1111.8 573.8a2.1 2.1 0 1 0 4.2 0a2.1 2.1 0 1 0 -4.2 0zM1000.1 657.5a2.1 2.1 0 1 0 4.2 0a2.1 2.1 0 1 0 -4.2 0zM1087.3 618.1a2.1 2.1 0 1 0 4.2 0a2.1 2.1 0 1 0 -4.2 0zM1028.6 635.3a2.1 2.1 0 1 0 4.2 0a2.1 2.1 0 1 0 -4.2 0zM952.7 633.2a2.1 2.1 0 1 0 4.2 0a2.1 2.1 0 1 0 -4.2 0zM935.3 650.2a2.1 2.1 0 1 0 4.2 0a2.1 2.1 0 1 0 -4.2 0zM1101.6 597.7a2.1 2.1 0 1 0 4.2 0a2.1 2.1 0 1 0 -4.2 0zM943.1 643.5a2.1 2.1 0 1 0 4.2 0a2.1 2.1 0 1 0 -4.2 0zM1113.1 583.7a2.1 2.1 0 1 0 4.2 0a2.1 2.1 0 1 0 -4.2 0zM1061.2 628.5a2.1 2.1 0 1 0 4.2 0a2.1 2.1 0 1 0 -4.2 0zM954.9 653.8a2.1 2.1 0 1 0 4.2 0a2.1 2.1 0 1 0 -4.2 0zM1014.0 639.8a2.1 2.1 0 1 0 4.2 0a2.1 2.1 0 1 0 -4.2 0zM1019.5 648.9a2.1 2.1 0 1 0 4.2 0a2.1 2.1 0 1 0 -4.2 0zM955.8 655.9a2.1 2.1 0 1 0 4.2 0a2.1 2.1 0 1 0 -4.2 0zM1092.8 618.9a2.1 2.1 0 1 0 4.2 0a2.1 2.1 0 1 0 -4.2 0zM997.6 642.1a2.1 2.1 0 1 0 4.2 0a2.1 2.1 0 1 0 -4.2 0zM1037.7 635.4a2.1 2.1 0 1 0 4.2 0a2.1 2.1 0 1 0 -4.2 0zM1070.6 646.4a2.1 2.1 0 1 0 4.2 0a2.1 2.1 0 1 0 -4.2 0zM1073.1 630.7a2.1 2.1 0 1 0 4.2 0a2.1 2.1 0 1 0 -4.2 0zM969.8 645.1a2.1 2.1 0 1 0 4.2 0a2.1 2.1 0 1 0 -4.2 0zM999.2 641.1a2.1 2.1 0 1 0 4.2 0a2.1 2.1 0 1 0 -4.2 0zM1019.9 651.0a2.1 2.1 0 1 0 4.2 0a2.1 2.1 0 1 0 -4.2 0zM1019.6 651.3a2.1 2.1 0 1 0 4.2 0a2.1 2.1 0 1 0 -4.2 0zM1058.7 636.9a2.1 2.1 0 1 0 4.2 0a2.1 2.1 0 1 0 -4.2 0zM1039.8 647.5a2.1 2.1 0 1 0 4.2 0a2.1 2.1 0 1 0 -4.2 0zM1043.2 653.7a2.1 2.1 0 1 0 4.2 0a2.1 2.1 0 1 0 -4.2 0zM1063.0 635.4a2.1 2.1 0 1 0 4.2 0a2.1 2.1 0 1 0 -4.2 0zM1095.8 622.4a2.1 2.1 0 1 0 4.2 0a2.1 2.1 0 1 0 -4.2 0zM1029.4 655.7a2.1 2.1 0 1 0 4.2 0a2.1 2.1 0 1 0 -4.2 0zM983.3 658.9a2.1 2.1 0 1 0 4.2 0a2.1 2.1 0 1 0 -4.2 0zM1047.0 649.8a2.1 2.1 0 1 0 4.2 0a2.1 2.1 0 1 0 -4.2 0zM1038.8 633.4a2.1 2.1 0 1 0 4.2 0a2.1 2.1 0 1 0 -4.2 0zM1008.8 656.0a2.1 2.1 0 1 0 4.2 0a2.1 2.1 0 1 0 -4.2 0zM1037.5 636.7a2.1 2.1 0 1 0 4.2 0a2.1 2.1 0 1 0 -4.2 0zM1054.3 633.0a2.1 2.1 0 1 0 4.2 0a2.1 2.1 0 1 0 -4.2 0zM961.8 651.8a2.1 2.1 0 1 0 4.2 0a2.1 2.1 0 1 0 -4.2 0zM1087.5 622.8a2.1 2.1 0 1 0 4.2 0a2.1 2.1 0 1 0 -4.2 0zM1087.2 625.2a2.1 2.1 0 1 0 4.2 0a2.1 2.1 0 1 0 -4.2 0zM959.8 640.8a2.1 2.1 0 1 0 4.2 0a2.1 2.1 0 1 0 -4.2 0zM1073.7 646.2a2.1 2.1 0 1 0 4.2 0a2.1 2.1 0 1 0 -4.2 0zM971.4 655.1a2.1 2.1 0 1 0 4.2 0a2.1 2.1 0 1 0 -4.2 0zM1013.3 646.0a2.1 2.1 0 1 0 4.2 0a2.1 2.1 0 1 0 -4.2 0zM959.0 641.8a2.1 2.1 0 1 0 4.2 0a2.1 2.1 0 1 0 -4.2 0zM943.4 642.5a2.1 2.1 0 1 0 4.2 0a2.1 2.1 0 1 0 -4.2 0zM1032.3 639.8a2.1 2.1 0 1 0 4.2 0a2.1 2.1 0 1 0 -4.2 0zM983.9 649.5a2.1 2.1 0 1 0 4.2 0a2.1 2.1 0 1 0 -4.2 0zM952.5 652.5a2.1 2.1 0 1 0 4.2 0a2.1 2.1 0 1 0 -4.2 0zM1017.3 652.4a2.1 2.1 0 1 0 4.2 0a2.1 2.1 0 1 0 -4.2 0zM1077.3 638.9a2.1 2.1 0 1 0 4.2 0a2.1 2.1 0 1 0 -4.2 0zM1046.8 631.2a2.1 2.1 0 1 0 4.2 0a2.1 2.1 0 1 0 -4.2 0zM984.7 645.4a2.1 2.1 0 1 0 4.2 0a2.1 2.1 0 1 0 -4.2 0zM1009.1 649.0a2.1 2.1 0 1 0 4.2 0a2.1 2.1 0 1 0 -4.2 0zM1045.4 640.9a2.1 2.1 0 1 0 4.2 0a2.1 2.1 0 1 0 -4.2 0zM987.3 652.7a2.1 2.1 0 1 0 4.2 0a2.1 2.1 0 1 0 -4.2 0zM953.1 644.3a2.1 2.1 0 1 0 4.2 0a2.1 2.1 0 1 0 -4.2 0zM1082.1 621.3a2.1 2.1 0 1 0 4.2 0a2.1 2.1 0 1 0 -4.2 0zM974.3 657.2a2.1 2.1 0 1 0 4.2 0a2.1 2.1 0 1 0 -4.2 0zM985.6 655.3a2.1 2.1 0 1 0 4.2 0a2.1 2.1 0 1 0 -4.2 0zM985.8 644.4a2.1 2.1 0 1 0 4.2 0a2.1 2.1 0 1 0 -4.2 0zM1101.2 611.0a2.1 2.1 0 1 0 4.2 0a2.1 2.1 0 1 0 -4.2 0zM1054.9 646.6a2.1 2.1 0 1 0 4.2 0a2.1 2.1 0 1 0 -4.2 0zM1070.5 633.2a2.1 2.1 0 1 0 4.2 0a2.1 2.1 0 1 0 -4.2 0zM961.6 659.7a2.1 2.1 0 1 0 4.2 0a2.1 2.1 0 1 0 -4.2 0zM1056.2 649.6a2.1 2.1 0 1 0 4.2 0a2.1 2.1 0 1 0 -4.2 0zM1088.2 638.8a2.1 2.1 0 1 0 4.2 0a2.1 2.1 0 1 0 -4.2 0zM1112.1 590.7a2.1 2.1 0 1 0 4.2 0a2.1 2.1 0 1 0 -4.2 0zM1063.0 620.4a2.1 2.1 0 1 0 4.2 0a2.1 2.1 0 1 0 -4.2 0zM1091.1 609.5a2.1 2.1 0 1 0 4.2 0a2.1 2.1 0 1 0 -4.2 0zM1026.3 654.6a2.1 2.1 0 1 0 4.2 0a2.1 2.1 0 1 0 -4.2 0zM1024.7 643.7a2.1 2.1 0 1 0 4.2 0a2.1 2.1 0 1 0 -4.2 0zM1061.1 648.9a2.1 2.1 0 1 0 4.2 0a2.1 2.1 0 1 0 -4.2 0zM1034.9 648.3a2.1 2.1 0 1 0 4.2 0a2.1 2.1 0 1 0 -4.2 0zM1076.3 635.2a2.1 2.1 0 1 0 4.2 0a2.1 2.1 0 1 0 -4.2 0zM985.9 662.4a2.1 2.1 0 1 0 4.2 0a2.1 2.1 0 1 0 -4.2 0zM1086.6 619.6a2.1 2.1 0 1 0 4.2 0a2.1 2.1 0 1 0 -4.2 0zM1053.5 631.9a2.1 2.1 0 1 0 4.2 0a2.1 2.1 0 1 0 -4.2 0zM1078.8 636.3a2.1 2.1 0 1 0 4.2 0a2.1 2.1 0 1 0 -4.2 0zM1071.0 634.5a2.1 2.1 0 1 0 4.2 0a2.1 2.1 0 1 0 -4.2 0zM1098.8 605.4a2.1 2.1 0 1 0 4.2 0a2.1 2.1 0 1 0 -4.2 0zM1105.6 585.4a2.1 2.1 0 1 0 4.2 0a2.1 2.1 0 1 0 -4.2 0zM1042.2 632.0a2.1 2.1 0 1 0 4.2 0a2.1 2.1 0 1 0 -4.2 0zM1089.5 636.3a2.1 2.1 0 1 0 4.2 0a2.1 2.1 0 1 0 -4.2 0zM1042.8 657.2a2.1 2.1 0 1 0 4.2 0a2.1 2.1 0 1 0 -4.2 0zM1112.8 577.8a2.1 2.1 0 1 0 4.2 0a2.1 2.1 0 1 0 -4.2 0zM1066.6 630.1a2.1 2.1 0 1 0 4.2 0a2.1 2.1 0 1 0 -4.2 0zM1104.4 588.6a2.1 2.1 0 1 0 4.2 0a2.1 2.1 0 1 0 -4.2 0zM956.8 644.6a2.1 2.1 0 1 0 4.2 0a2.1 2.1 0 1 0 -4.2 0zM1043.7 641.9a2.1 2.1 0 1 0 4.2 0a2.1 2.1 0 1 0 -4.2 0zM1064.2 645.8a2.1 2.1 0 1 0 4.2 0a2.1 2.1 0 1 0 -4.2 0zM1101.7 609.3a2.1 2.1 0 1 0 4.2 0a2.1 2.1 0 1 0 -4.2 0zM945.6 635.3a2.1 2.1 0 1 0 4.2 0a2.1 2.1 0 1 0 -4.2 0z"/>
<path fill="#999999" d="M967.7 593.5a2.1 2.1 0 1 0 4.2 0a2.1 2.1 0 1 0 -4.2 0zM1027.0 520.9a2.1 2.1 0 1 0 4.2 0a2.1 2.1 0 1 0 -4.2 0zM994.4 565.5a2.1 2.1 0 1 0 4.2 0a2.1 2.1 0 1 0 -4.2 0zM988.7 563.3a2.1 2.1 0 1 0 4.2 0a2.1 2.1 0 1 0 -4.2 0zM972.9 579.5a2.1 2.1 0 1 0 4.2 0a2.1 2.1 0 1 0 -4.2 0zM961.5 583.7a2.1 2.1 0 1 0 4.2 0a2.1 2.1 0 1 0 -4.2 0zM956.0 594.5a2.1 2.1 0 1 0 4.2 0a2.1 2.1 0 1 0 -4.2 0zM984.3 576.5a2.1 2.1 0 1 0 4.2 0a2.1 2.1 0 1 0 -4.2 0zM1016.3 527.9a2.1 2.1 0 1 0 4.2 0a2.1 2.1 0 1 0 -4.2 0zM1009.7 537.1a2.1 2.1 0 1 0 4.2 0a2.1 2.1 0 1 0 -4.2 0zM944.0 615.7a2.1 2.1 0 1 0 4.2 0a2.1 2.1 0 1 0 -4.2 0zM1040.0 518.3a2.1 2.1 0 1 0 4.2 0a2.1 2.1 0 1 0 -4.2 0zM961.4 593.1a2.1 2.1 0 1 0 4.2 0a2.1 2.1 0 1 0 -4.2 0zM978.6 564.3a2.1 2.1 0 1 0 4.2 0a2.1 2.1 0 1 0 -4.2 0zM977.5 573.4a2.1 2.1 0 1 0 4.2 0a2.1 2.1 0 1 0 -4.2 0zM943.3 615.7a2.1 2.1 0 1 0 4.2 0a2.1 2.1 0 1 0 -4.2 0zM1013.8 532.4a2.1 2.1 0 1 0 4.2 0a2.1 2.1 0 1 0 -4.2 0zM977.1 583.5a2.1 2.1 0 1 0 4.2 0a2.1 2.1 0 1 0 -4.2 0zM973.0 570.7a2.1 2.1 0 1 0 4.2 0a2.1 2.1 0 1 0 -4.2 0zM948.2 614.6a2.1 2.1 0 1 0 4.2 0a2.1 2.1 0 1 0 -4.2 0zM953.0 607.3a2.1 2.1 0 1 0 4.2 0a2.1 2.1 0 1 0 -4.2 0zM955.8 606.7a2.1 2.1 0 1 0 4.2 0a2.1 2.1 0 1 0 -4.2 0zM946.0 613.6a2.1 2.1 0 1 0 4.2 0a2.1 2.1 0 1 0 -4.2 0zM941.7 610.3a2.1 2.1 0 1 0 4.2 0a2.1 2.1 0 1 0 -4.2 0zM976.2 575.0a2.1 2.1 0 1 0 4.2 0a2.1 2.1 0 1 0 -4.2 0zM948.0 615.3a2.1 2.1 0 1 0 4.2 0a2.1 2.1 0 1 0 -4.2 0zM987.0 557.1a2.1 2.1 0 1 0 4.2 0a2.1 2.1 0 1 0 -4.2 0zM960.8 587.3a2.1 2.1 0 1 0 4.2 0a2.1 2.1 0 1 0 -4.2 0zM1008.7 547.8a2.1 2.1 0 1 0 4.2 0a2.1 2.1 0 1 0 -4.2 0zM938.6 618.0a2.1 2.1 0 1 0 4.2 0a2.1 2.1 0 1 0 -4.2 0zM970.0 575.6a2.1 2.1 0 1 0 4.2 0a2.1 2.1 0 1 0 -4.2 0zM1013.9 545.0a2.1 2.1 0 1 0 4.2 0a2.1 2.1 0 1 0 -4.2 0zM1033.1 523.0a2.1 2.1 0 1 0 4.2 0a2.1 2.1 0 1 0 -4.2 0zM971.5 579.6a2.1 2.1 0 1 0 4.2 0a2.1 2.1 0 1 0 -4.2 0zM953.7 606.7a2.1 2.1 0 1 0 4.2 0a2.1 2.1 0 1 0 -4.2 0z"/>
<path fill="#999999" d="M1084.4 692.0a2.1 2.1 0 1 0 4.2 0a2.1 2.1 0 1 0 -4.2 0zM948.7 668.3a2.1 2.1 0 1 0 4.2 0a2.1 2.1 0 1 0 -4.2 0zM1048.0 664.4a2.1 2.1 0 1 0 4.2 0a2.1 2.1 0 1 0 -4.2 0zM953.7 660.8a2.1 2.1 0 1 0 4.2 0a2.1 2.1 0 1 0 -4.2 0zM1067.0 660.4a2.1 2.1 0 1 0 4.2 0a2.1 2.1 0 1 0 -4.2 0zM1094.0 680.3a2.1 2.1 0 1 0 4.2 0a2.1 2.1 0 1 0 -4.2 0zM947.0 676.4a2.1 2.1 0 1 0 4.2 0a2.1 2.1 0 1 0 -4.2 0zM1017.6 669.8a2.1 2.1 0 1 0 4.2 0a2.1 2.1 0 1 0 -4.2 0zM1018.7 709.2a2.1 2.1 0 1 0 4.2 0a2.1 2.1 0 1 0 -4.2 0zM1034.8 673.0a2.1 2.1 0 1 0 4.2 0a2.1 2.1 0 1 0 -4.2 0zM1001.8 710.2a2.1 2.1 0 1 0 4.2 0a2.1 2.1 0 1 0 -4.2 0zM1044.3 694.6a2.1 2.1 0 1 0 4.2 0a2.1 2.1 0 1 0 -4.2 0zM958.7 679.2a2.1 2.1 0 1 0 4.2 0a2.1 2.1 0 1 0 -4.2 0zM1086.0 651.9a2.1 2.1 0 1 0 4.2 0a2.1 2.1 0 1 0 -4.2 0zM997.3 703.0a2.1 2.1 0 1 0 4.2 0a2.1 2.1 0 1 0 -4.2 0zM1015.6 672.7a2.1 2.1 0 1 0 4.2 0a2.1 2.1 0 1 0 -4.2 0zM1098.9 669.4a2.1 2.1 0 1 0 4.2 0a2.1 2.1 0 1 0 -4.2 0zM947.8 666.5a2.1 2.1 0 1 0 4.2 0a2.1 2.1 0 1 0 -4.2 0zM1072.8 667.0a2.1 2.1 0 1 0 4.2 0a2.1 2.1 0 1 0 -4.2 0zM1089.7 668.2a2.1 2.1 0 1 0 4.2 0a2.1 2.1 0 1 0 -4.2 0zM1002.3 671.0a2.1 2.1 0 1 0 4.2 0a2.1 2.1 0 1 0 -4.2 0zM1055.0 664.8a2.1 2.1 0 1 0 4.2 0a2.1 2.1 0 1 0 -4.2 0zM1098.1 655.9a2.1 2.1 0 1 0 4.2 0a2.1 2.1 0 1 0 -4.2 0zM1003.9 678.2a2.1 2.1 0 1 0 4.2 0a2.1 2.1 0 1 0 -4.2 0zM1018.7 676.9a2.1 2.1 0 1 0 4.2 0a2.1 2.1 0 1 0 -4.2 0zM1062.8 685.9a2.1 2.1 0 1 0 4.2 0a2.1 2.1 0 1 0 -4.2 0zM1044.7 662.6a2.1 2.1 0 1 0 4.2 0a2.1 2.1 0 1 0 -4.2 0zM968.5 689.7a2.1 2.1 0 1 0 4.2 0a2.1 2.1 0 1 0 -4.2 0zM978.4 669.0a2.1 2.1 0 1 0 4.2 0a2.1 2.1 0 1 0 -4.2 0zM1029.0 693.7a2.1 2.1 0 1 0 4.2 0a2.1 2.1 0 1 0 -4.2 0zM1024.1 666.5a2.1 2.1 0 1 0 4.2 0a2.1 2.1 0 1 0 -4.2 0zM1072.1 700.2a2.1 2.1 0 1 0 4.2 0a2.1 2.1 0 1 0 -4.2 0zM971.7 671.8a2.1 2.1 0 1 0 4.2 0a2.1 2.1 0 1 0 -4.2 0zM968.1 708.0a2.1 2.1 0 1 0 4.2 0a2.1 2.1 0 1 0 -4.2 0zM1043.0 666.7a2.1 2.1 0 1 0 4.2 0a2.1 2.1 0 1 0 -4.2 0zM965.5 686.7a2.1 2.1 0 1 0 4.2 0a2.1 2.1 0 1 0 -4.2 0zM1046.7 668.5a2.1 2.1 0 1 0 4.2 0a2.1 2.1 0 1 0 -4.2 0zM1080.4 695.3a2.1 2.1 0 1 0 4.2 0a2.1 2.1 0 1 0 -4.2 0zM1020.0 668.1a2.1 2.1 0 1 0 4.2 0a2.1 2.1 0 1 0 -4.2 0zM1087.4 653.9a2.1 2.1 0 1 0 4.2 0a2.1 2.1 0 1 0 -4.2 0zM918.7 668.7a2.1 2.1 0 1 0 4.2 0a2.1 2.1 0 1 0 -4.2 0zM1054.3 682.8a2.1 2.1 0 1 0 4.2 0a2.1 2.1 0 1 0 -4.2 0zM1000.6 707.6a2.1 2.1 0 1 0 4.2 0a2.1 2.1 0 1 0 -4.2 0zM981.4 699.4a2.1 2.1 0 1 0 4.2 0a2.1 2.1 0 1 0 -4.2 0zM930.9 690.2a2.1 2.1 0 1 0 4.2 0a2.1 2.1 0 1 0 -4.2 0zM1075.7 690.2a2.1 2.1 0 1 0 4.2 0a2.1 2.1 0 1 0 -4.2 0zM1020.6 683.0a2.1 2.1 0 1 0 4.2 0a2.1 2.1 0 1 0 -4.2 0zM1057.2 670.4a2.1 2.1 0 1 0 4.2 0a2.1 2.1 0 1 0 -4.2 0zM947.4 683.4a2.1 2.1 0 1 0 4.2 0a2.1 2.1 0 1 0 -4.2 0zM1010.3 677.2a2.1 2.1 0 1 0 4.2 0a2.1 2.1 0 1 0 -4.2 0zM931.1 693.8a2.1 2.1 0 1 0 4.2 0a2.1 2.1 0 1 0 -4.2 0zM1062.9 668.4a2.1 2.1 0 1 0 4.2 0a2.1 2.1 0 1 0 -4.2 0zM1038.3 673.1a2.1 2.1 0 1 0 4.2 0a2.1 2.1 0 1 0 -4.2 0zM1045.7 699.1a2.1 2.1 0 1 0 4.2 0a2.1 2.1 0 1 0 -4.2 0zM918.9 689.6a2.1 2.1 0 1 0 4.2 0a2.1 2.1 0 1 0 -4.2 0zM941.4 691.7a2.1 2.1 0 1 0 4.2 0a2.1 2.1 0 1 0 -4.2 0zM1066.3 694.8a2.1 2.1 0 1 0 4.2 0a2.1 2.1 0 1 0 -4.2 0zM1011.4 706.0a2.1 2.1 0 1 0 4.2 0a2.1 2.1 0 1 0 -4.2 0zM986.5 674.0a2.1 2.1 0 1 0 4.2 0a2.1 2.1 0 1 0 -4.2 0zM1083.9 670.7a2.1 2.1 0 1 0 4.2 0a2.1 2.1 0 1 0 -4.2 0zM1018.6 679.6a2.1 2.1 0 1 0 4.2 0a2.1 2.1 0 1 0 -4.2 0zM999.4 677.7a2.1 2.1 0 1 0 4.2 0a2.1 2.1 0 1 0 -4.2 0zM997.2 686.1a2.1 2.1 0 1 0 4.2 0a2.1 2.1 0 1 0 -4.2 0zM989.6 674.2a2.1 2.1 0 1 0 4.2 0a2.1 2.1 0 1 0 -4.2 0zM902.9 667.9a2.1 2.1 0 1 0 4.2 0a2.1 2.1 0 1 0 -4.2 0zM1088.5 656.7a2.1 2.1 0 1 0 4.2 0a2.1 2.1 0 1 0 -4.2 0zM1027.6 676.7a2.1 2.1 0 1 0 4.2 0a2.1 2.1 0 1 0 -4.2 0zM904.4 676.1a2.1 2.1 0 1 0 4.2 0a2.1 2.1 0 1 0 -4.2 0zM996.2 699.4a2.1 2.1 0 1 0 4.2 0a2.1 2.1 0 1 0 -4.2 0zM980.7 700.6a2.1 2.1 0 1 0 4.2 0a2.1 2.1 0 1 0 -4.2 0zM983.8 688.8a2.1 2.1 0 1 0 4.2 0a2.1 2.1 0 1 0 -4.2 0zM1100.0 676.1a2.1 2.1 0 1 0 4.2 0a2.1 2.1 0 1 0 -4.2 0zM999.6 712.1a2.1 2.1 0 1 0 4.2 0a2.1 2.1 0 1 0 -4.2 0zM1019.0 680.9a2.1 2.1 0 1 0 4.2 0a2.1 2.1 0 1 0 -4.2 0zM943.2 660.2a2.1 2.1 0 1 0 4.2 0a2.1 2.1 0 1 0 -4.2 0zM1059.1 679.9a2.1 2.1 0 1 0 4.2 0a2.1 2.1 0 1 0 -4.2 0zM1037.5 693.0a2.1 2.1 0 1 0 4.2 0a2.1 2.1 0 1 0 -4.2 0zM1042.6 667.3a2.1 2.1 0 1 0 4.2 0a2.1 2.1 0 1 0 -4.2 0zM1080.8 676.0a2.1 2.1 0 1 0 4.2 0a2.1 2.1 0 1 0 -4.2 0zM1089.0 653.3a2.1 2.1 0 1 0 4.2 0a2.1 2.1 0 1 0 -4.2 0zM1085.6 692.5a2.1 2.1 0 1 0 4.2 0a2.1 2.1 0 1 0 -4.2 0zM955.1 684.7a2.1 2.1 0 1 0 4.2 0a2.1 2.1 0 1 0 -4.2 0zM1093.4 655.5a2.1 2.1 0 1 0 4.2 0a2.1 2.1 0 1 0 -4.2 0zM1037.8 661.6a2.1 2.1 0 1 0 4.2 0a2.1 2.1 0 1 0 -4.2 0zM1065.9 672.3a2.1 2.1 0 1 0 4.2 0a2.1 2.1 0 1 0 -4.2 0zM988.7 687.4a2.1 2.1 0 1 0 4.2 0a2.1 2.1 0 1 0 -4.2 0zM1070.4 693.4a2.1 2.1 0 1 0 4.2 0a2.1 2.1 0 1 0 -4.2 0zM997.5 688.3a2.1 2.1 0 1 0 4.2 0a2.1 2.1 0 1 0 -4.2 0zM983.3 700.9a2.1 2.1 0 1 0 4.2 0a2.1 2.1 0 1 0 -4.2 0zM966.1 671.3a2.1 2.1 0 1 0 4.2 0a2.1 2.1 0 1 0 -4.2 0zM925.8 660.6a2.1 2.1 0 1 0 4.2 0a2.1 2.1 0 1 0 -4.2 0zM1040.6 660.7a2.1 2.1 0 1 0 4.2 0a2.1 2.1 0 1 0 -4.2 0zM1044.5 693.4a2.1 2.1 0 1 0 4.2 0a2.1 2.1 0 1 0 -4.2 0zM952.3 661.5a2.1 2.1 0 1 0 4.2 0a2.1 2.1 0 1 0 -4.2 0zM951.1 679.1a2.1 2.1 0 1 0 4.2 0a2.1 2.1 0 1 0 -4.2 0zM937.1 661.2a2.1 2.1 0 1 0 4.2 0a2.1 2.1 0 1 0 -4.2 0zM932.0 680.8a2.1 2.1 0 1 0 4.2 0a2.1 2.1 0 1 0 -4.2 0zM1016.5 681.7a2.1 2.1 0 1 0 4.2 0a2.1 2.1 0 1 0 -4.2 0zM1061.5 699.4a2.1 2.1 0 1 0 4.2 0a2.1 2.1 0 1 0 -4.2 0zM1048.9 688.0a2.1 2.1 0 1 0 4.2 0a2.1 2.1 0 1 0 -4.2 0zM1060.6 660.3a2.1 2.1 0 1 0 4.2 0a2.1 2.1 0 1 0 -4.2 0zM972.8 672.2a2.1 2.1 0 1 0 4.2 0a2.1 2.1 0 1 0 -4.2 0zM1008.1 685.7a2.1 2.1 0 1 0 4.2 0a2.1 2.1 0 1 0 -4.2 0zM1022.3 666.8a2.1 2.1 0 1 0 4.2 0a2.1 2.1 0 1 0 -4.2 0zM974.4 690.3a2.1 2.1 0 1 0 4.2 0a2.1 2.1 0 1 0 -4.2 0zM1095.3 671.3a2.1 2.1 0 1 0 4.2 0a2.1 2.1 0 1 0 -4.2 0zM1032.7 673.8a2.1 2.1 0 1 0 4.2 0a2.1 2.1 0 1 0 -4.2 0zM980.3 686.6a2.1 2.1 0 1 0 4.2 0a2.1 2.1 0 1 0 -4.2 0zM1068.1 669.8a2.1 2.1 0 1 0 4.2 0a2.1 2.1 0 1 0 -4.2 0zM939.4 668.7a2.1 2.1 0 1 0 4.2 0a2.1 2.1 0 1 0 -4.2 0z"/>
<path fill="#999999" d="M931.1 712.0a2.1 2.1 0 1 0 4.2 0a2.1 2.1 0 1 0 -4.2 0zM1072.3 703.9a2.1 2.1 0 1 0 4.2 0a2.1 2.1 0 1 0 -4.2 0zM930.5 729.2a2.1 2.1 0 1 0 4.2 0a2.1 2.1 0 1 0 -4.2 0zM986.7 719.3a2.1 2.1 0 1 0 4.2 0a2.1 2.1 0 1 0 -4.2 0zM1003.1 718.6a2.1 2.1 0 1 0 4.2 0a2.1 2.1 0 1 0 -4.2 0zM900.8 711.1a2.1 2.1 0 1 0 4.2 0a2.1 2.1 0 1 0 -4.2 0zM899.8 691.5a2.1 2.1 0 1 0 4.2 0a2.1 2.1 0 1 0 -4.2 0zM885.8 708.4a2.1 2.1 0 1 0 4.2 0a2.1 2.1 0 1 0 -4.2 0zM968.8 731.2a2.1 2.1 0 1 0 4.2 0a2.1 2.1 0 1 0 -4.2 0zM917.4 729.6a2.1 2.1 0 1 0 4.2 0a2.1 2.1 0 1 0 -4.2 0zM959.3 715.2a2.1 2.1 0 1 0 4.2 0a2.1 2.1 0 1 0 -4.2 0zM1015.2 715.9a2.1 2.1 0 1 0 4.2 0a2.1 2.1 0 1 0 -4.2 0zM919.6 704.8a2.1 2.1 0 1 0 4.2 0a2.1 2.1 0 1 0 -4.2 0zM955.6 716.4a2.1 2.1 0 1 0 4.2 0a2.1 2.1 0 1 0 -4.2 0zM908.0 711.8a2.1 2.1 0 1 0 4.2 0a2.1 2.1 0 1 0 -4.2 0zM884.8 707.6a2.1 2.1 0 1 0 4.2 0a2.1 2.1 0 1 0 -4.2 0zM897.5 671.7a2.1 2.1 0 1 0 4.2 0a2.1 2.1 0 1 0 -4.2 0zM933.5 702.7a2.1 2.1 0 1 0 4.2 0a2.1 2.1 0 1 0 -4.2 0zM886.8 689.3a2.1 2.1 0 1 0 4.2 0a2.1 2.1 0 1 0 -4.2 0zM957.4 727.6a2.1 2.1 0 1 0 4.2 0a2.1 2.1 0 1 0 -4.2 0zM875.6 692.6a2.1 2.1 0 1 0 4.2 0a2.1 2.1 0 1 0 -4.2 0zM930.9 711.8a2.1 2.1 0 1 0 4.2 0a2.1 2.1 0 1 0 -4.2 0zM889.1 719.6a2.1 2.1 0 1 0 4.2 0a2.1 2.1 0 1 0 -4.2 0zM1078.6 651.8a2.1 2.1 0 1 0 4.2 0a2.1 2.1 0 1 0 -4.2 0zM878.5 696.2a2.1 2.1 0 1 0 4.2 0a2.1 2.1 0 1 0 -4.2 0zM899.5 724.4a2.1 2.1 0 1 0 4.2 0a2.1 2.1 0 1 0 -4.2 0zM946.6 733.8a2.1 2.1 0 1 0 4.2 0a2.1 2.1 0 1 0 -4.2 0zM952.1 724.2a2.1 2.1 0 1 0 4.2 0a2.1 2.1 0 1 0 -4.2 0zM920.1 715.4a2.1 2.1 0 1 0 4.2 0a2.1 2.1 0 1 0 -4.2 0zM1019.3 728.2a2.1 2.1 0 1 0 4.2 0a2.1 2.1 0 1 0 -4.2 0z"/>
<path fill="#999999" d="M971.9 515.5a2.1 2.1 0 1 0 4.2 0a2.1 2.1 0 1 0 -4.2 0zM1018.6 518.3a2.1 2.1 0 1 0 4.2 0a2.1 2.1 0 1 0 -4.2 0zM1019.9 520.6a2.1 2.1 0 1 0 4.2 0a2.1 2.1 0 1 0 -4.2 0zM1001.3 543.5a2.1 2.1 0 1 0 4.2 0a2.1 2.1 0 1 0 -4.2 0zM1011.0 532.3a2.1 2.1 0 1 0 4.2 0a2.1 2.1 0 1 0 -4.2 0zM1024.9 532.3a2.1 2.1 0 1 0 4.2 0a2.1 2.1 0 1 0 -4.2 0zM1047.3 514.1a2.1 2.1 0 1 0 4.2 0a2.1 2.1 0 1 0 -4.2 0zM1057.1 513.3a2.1 2.1 0 1 0 4.2 0a2.1 2.1 0 1 0 -4.2 0zM1069.7 512.7a2.1 2.1 0 1 0 4.2 0a2.1 2.1 0 1 0 -4.2 0zM876.9 666.0a2.1 2.1 0 1 0 4.2 0a2.1 2.1 0 1 0 -4.2 0zM897.7 675.3a2.1 2.1 0 1 0 4.2 0a2.1 2.1 0 1 0 -4.2 0zM908.7 667.7a2.1 2.1 0 1 0 4.2 0a2.1 2.1 0 1 0 -4.2 0zM887.9 697.0a2.1 2.1 0 1 0 4.2 0a2.1 2.1 0 1 0 -4.2 0zM896.5 691.7a2.1 2.1 0 1 0 4.2 0a2.1 2.1 0 1 0 -4.2 0zM900.9 688.0a2.1 2.1 0 1 0 4.2 0a2.1 2.1 0 1 0 -4.2 0zM913.6 690.0a2.1 2.1 0 1 0 4.2 0a2.1 2.1 0 1 0 -4.2 0zM920.4 694.6a2.1 2.1 0 1 0 4.2 0a2.1 2.1 0 1 0 -4.2 0zM863.5 712.0a2.1 2.1 0 1 0 4.2 0a2.1 2.1 0 1 0 -4.2 0zM872.5 713.7a2.1 2.1 0 1 0 4.2 0a2.1 2.1 0 1 0 -4.2 0zM881.3 712.4a2.1 2.1 0 1 0 4.2 0a2.1 2.1 0 1 0 -4.2 0zM906.2 709.5a2.1 2.1 0 1 0 4.2 0a2.1 2.1 0 1 0 -4.2 0zM909.9 712.4a2.1 2.1 0 1 0 4.2 0a2.1 2.1 0 1 0 -4.2 0zM911.1 721.0a2.1 2.1 0 1 0 4.2 0a2.1 2.1 0 1 0 -4.2 0zM919.7 721.5a2.1 2.1 0 1 0 4.2 0a2.1 2.1 0 1 0 -4.2 0zM922.6 725.9a2.1 2.1 0 1 0 4.2 0a2.1 2.1 0 1 0 -4.2 0zM931.9 732.0a2.1 2.1 0 1 0 4.2 0a2.1 2.1 0 1 0 -4.2 0zM940.4 741.0a2.1 2.1 0 1 0 4.2 0a2.1 2.1 0 1 0 -4.2 0zM965.4 743.0a2.1 2.1 0 1 0 4.2 0a2.1 2.1 0 1 0 -4.2 0zM949.0 722.2a2.1 2.1 0 1 0 4.2 0a2.1 2.1 0 1 0 -4.2 0zM958.1 714.9a2.1 2.1 0 1 0 4.2 0a2.1 2.1 0 1 0 -4.2 0zM952.7 701.4a2.1 2.1 0 1 0 4.2 0a2.1 2.1 0 1 0 -4.2 0zM815.1 740.6a2.1 2.1 0 1 0 4.2 0a2.1 2.1 0 1 0 -4.2 0zM837.3 760.6a2.1 2.1 0 1 0 4.2 0a2.1 2.1 0 1 0 -4.2 0zM801.6 771.8a2.1 2.1 0 1 0 4.2 0a2.1 2.1 0 1 0 -4.2 0zM803.1 790.0a2.1 2.1 0 1 0 4.2 0a2.1 2.1 0 1 0 -4.2 0zM851.2 802.9a2.1 2.1 0 1 0 4.2 0a2.1 2.1 0 1 0 -4.2 0zM889.9 776.5a2.1 2.1 0 1 0 4.2 0a2.1 2.1 0 1 0 -4.2 0zM940.0 767.0a2.1 2.1 0 1 0 4.2 0a2.1 2.1 0 1 0 -4.2 0zM1007.7 769.4a2.1 2.1 0 1 0 4.2 0a2.1 2.1 0 1 0 -4.2 0zM1003.5 721.0a2.1 2.1 0 1 0 4.2 0a2.1 2.1 0 1 0 -4.2 0zM1010.6 728.3a2.1 2.1 0 1 0 4.2 0a2.1 2.1 0 1 0 -4.2 0zM1030.9 721.5a2.1 2.1 0 1 0 4.2 0a2.1 2.1 0 1 0 -4.2 0zM1032.1 718.6a2.1 2.1 0 1 0 4.2 0a2.1 2.1 0 1 0 -4.2 0zM1040.7 712.4a2.1 2.1 0 1 0 4.2 0a2.1 2.1 0 1 0 -4.2 0zM1043.1 710.0a2.1 2.1 0 1 0 4.2 0a2.1 2.1 0 1 0 -4.2 0zM1048.7 716.1a2.1 2.1 0 1 0 4.2 0a2.1 2.1 0 1 0 -4.2 0zM1077.3 701.4a2.1 2.1 0 1 0 4.2 0a2.1 2.1 0 1 0 -4.2 0zM1078.1 712.0a2.1 2.1 0 1 0 4.2 0a2.1 2.1 0 1 0 -4.2 0zM1090.8 723.0a2.1 2.1 0 1 0 4.2 0a2.1 2.1 0 1 0 -4.2 0zM1076.6 678.2a2.1 2.1 0 1 0 4.2 0a2.1 2.1 0 1 0 -4.2 0zM1092.5 675.8a2.1 2.1 0 1 0 4.2 0a2.1 2.1 0 1 0 -4.2 0zM1098.1 682.6a2.1 2.1 0 1 0 4.2 0a2.1 2.1 0 1 0 -4.2 0zM1114.0 677.7a2.1 2.1 0 1 0 4.2 0a2.1 2.1 0 1 0 -4.2 0zM1083.5 664.0a2.1 2.1 0 1 0 4.2 0a2.1 2.1 0 1 0 -4.2 0zM1100.6 661.1a2.1 2.1 0 1 0 4.2 0a2.1 2.1 0 1 0 -4.2 0zM1105.4 652.6a2.1 2.1 0 1 0 4.2 0a2.1 2.1 0 1 0 -4.2 0zM979.6 697.3a2.1 2.1 0 1 0 4.2 0a2.1 2.1 0 1 0 -4.2 0zM997.2 702.2a2.1 2.1 0 1 0 4.2 0a2.1 2.1 0 1 0 -4.2 0zM1013.8 695.3a2.1 2.1 0 1 0 4.2 0a2.1 2.1 0 1 0 -4.2 0zM1013.8 701.0a2.1 2.1 0 1 0 4.2 0a2.1 2.1 0 1 0 -4.2 0zM1029.2 697.0a2.1 2.1 0 1 0 4.2 0a2.1 2.1 0 1 0 -4.2 0zM1040.7 697.0a2.1 2.1 0 1 0 4.2 0a2.1 2.1 0 1 0 -4.2 0zM982.0 710.0a2.1 2.1 0 1 0 4.2 0a2.1 2.1 0 1 0 -4.2 0zM997.9 683.8a2.1 2.1 0 1 0 4.2 0a2.1 2.1 0 1 0 -4.2 0zM1008.9 685.6a2.1 2.1 0 1 0 4.2 0a2.1 2.1 0 1 0 -4.2 0zM1016.2 684.3a2.1 2.1 0 1 0 4.2 0a2.1 2.1 0 1 0 -4.2 0zM988.1 677.7a2.1 2.1 0 1 0 4.2 0a2.1 2.1 0 1 0 -4.2 0zM1024.8 678.7a2.1 2.1 0 1 0 4.2 0a2.1 2.1 0 1 0 -4.2 0zM1034.6 679.4a2.1 2.1 0 1 0 4.2 0a2.1 2.1 0 1 0 -4.2 0zM1044.3 680.7a2.1 2.1 0 1 0 4.2 0a2.1 2.1 0 1 0 -4.2 0zM1049.2 685.6a2.1 2.1 0 1 0 4.2 0a2.1 2.1 0 1 0 -4.2 0zM1046.8 692.4a2.1 2.1 0 1 0 4.2 0a2.1 2.1 0 1 0 -4.2 0zM952.7 680.7a2.1 2.1 0 1 0 4.2 0a2.1 2.1 0 1 0 -4.2 0zM949.0 678.2a2.1 2.1 0 1 0 4.2 0a2.1 2.1 0 1 0 -4.2 0zM935.6 692.2a2.1 2.1 0 1 0 4.2 0a2.1 2.1 0 1 0 -4.2 0zM942.4 692.9a2.1 2.1 0 1 0 4.2 0a2.1 2.1 0 1 0 -4.2 0zM924.1 682.6a2.1 2.1 0 1 0 4.2 0a2.1 2.1 0 1 0 -4.2 0zM934.3 680.2a2.1 2.1 0 1 0 4.2 0a2.1 2.1 0 1 0 -4.2 0zM938.0 682.6a2.1 2.1 0 1 0 4.2 0a2.1 2.1 0 1 0 -4.2 0zM984.4 688.0a2.1 2.1 0 1 0 4.2 0a2.1 2.1 0 1 0 -4.2 0z"/>
<polygon points="1088.0,509.0 1096.0,504.0 1104.0,495.0 1118.0,488.0 1132.0,484.0 1143.0,486.0 1149.0,497.0 1150.0,515.0 1148.0,531.0 1140.0,555.0 1128.0,568.0 1116.0,573.0 1117.0,540.0 1117.0,512.6 1090.0,512.6 1088.0,512.6" fill="#FFA500"/>
<path fill="#FFA500" d="M1125.7 561.4a2.1 2.1 0 1 0 4.2 0a2.1 2.1 0 1 0 -4.2 0zM1127.5 570.2a2.1 2.1 0 1 0 4.2 0a2.1 2.1 0 1 0 -4.2 0zM1130.5 563.2a2.1 2.1 0 1 0 4.2 0a2.1 2.1 0 1 0 -4.2 0zM1099.6 497.1a2.1 2.1 0 1 0 4.2 0a2.1 2.1 0 1 0 -4.2 0zM1095.9 504.9a2.1 2.1 0 1 0 4.2 0a2.1 2.1 0 1 0 -4.2 0zM1147.1 498.6a2.1 2.1 0 1 0 4.2 0a2.1 2.1 0 1 0 -4.2 0zM1125.7 569.2a2.1 2.1 0 1 0 4.2 0a2.1 2.1 0 1 0 -4.2 0zM1147.8 522.1a2.1 2.1 0 1 0 4.2 0a2.1 2.1 0 1 0 -4.2 0zM1095.9 500.6a2.1 2.1 0 1 0 4.2 0a2.1 2.1 0 1 0 -4.2 0zM1099.7 503.6a2.1 2.1 0 1 0 4.2 0a2.1 2.1 0 1 0 -4.2 0zM1124.7 483.6a2.1 2.1 0 1 0 4.2 0a2.1 2.1 0 1 0 -4.2 0zM1105.2 497.2a2.1 2.1 0 1 0 4.2 0a2.1 2.1 0 1 0 -4.2 0zM1133.3 562.6a2.1 2.1 0 1 0 4.2 0a2.1 2.1 0 1 0 -4.2 0zM1086.2 505.9a2.1 2.1 0 1 0 4.2 0a2.1 2.1 0 1 0 -4.2 0zM1100.5 491.2a2.1 2.1 0 1 0 4.2 0a2.1 2.1 0 1 0 -4.2 0zM1148.7 499.3a2.1 2.1 0 1 0 4.2 0a2.1 2.1 0 1 0 -4.2 0zM1146.2 514.3a2.1 2.1 0 1 0 4.2 0a2.1 2.1 0 1 0 -4.2 0zM1127.8 565.0a2.1 2.1 0 1 0 4.2 0a2.1 2.1 0 1 0 -4.2 0zM1112.1 571.4a2.1 2.1 0 1 0 4.2 0a2.1 2.1 0 1 0 -4.2 0zM1097.6 494.4a2.1 2.1 0 1 0 4.2 0a2.1 2.1 0 1 0 -4.2 0zM1151.1 494.0a2.1 2.1 0 1 0 4.2 0a2.1 2.1 0 1 0 -4.2 0zM1100.4 496.7a2.1 2.1 0 1 0 4.2 0a2.1 2.1 0 1 0 -4.2 0zM1144.2 533.8a2.1 2.1 0 1 0 4.2 0a2.1 2.1 0 1 0 -4.2 0zM1116.2 569.0a2.1 2.1 0 1 0 4.2 0a2.1 2.1 0 1 0 -4.2 0zM1092.8 502.9a2.1 2.1 0 1 0 4.2 0a2.1 2.1 0 1 0 -4.2 0zM1146.3 498.0a2.1 2.1 0 1 0 4.2 0a2.1 2.1 0 1 0 -4.2 0zM1143.4 545.7a2.1 2.1 0 1 0 4.2 0a2.1 2.1 0 1 0 -4.2 0zM1095.8 498.3a2.1 2.1 0 1 0 4.2 0a2.1 2.1 0 1 0 -4.2 0zM1094.2 505.5a2.1 2.1 0 1 0 4.2 0a2.1 2.1 0 1 0 -4.2 0zM1148.0 505.5a2.1 2.1 0 1 0 4.2 0a2.1 2.1 0 1 0 -4.2 0zM1144.1 531.5a2.1 2.1 0 1 0 4.2 0a2.1 2.1 0 1 0 -4.2 0zM1131.6 485.7a2.1 2.1 0 1 0 4.2 0a2.1 2.1 0 1 0 -4.2 0zM1142.0 489.2a2.1 2.1 0 1 0 4.2 0a2.1 2.1 0 1 0 -4.2 0zM1115.0 491.5a2.1 2.1 0 1 0 4.2 0a2.1 2.1 0 1 0 -4.2 0zM1127.9 561.1a2.1 2.1 0 1 0 4.2 0a2.1 2.1 0 1 0 -4.2 0zM1088.0 512.7a2.1 2.1 0 1 0 4.2 0a2.1 2.1 0 1 0 -4.2 0zM1146.7 484.3a2.1 2.1 0 1 0 4.2 0a2.1 2.1 0 1 0 -4.2 0zM1125.7 486.6a2.1 2.1 0 1 0 4.2 0a2.1 2.1 0 1 0 -4.2 0zM1147.1 534.7a2.1 2.1 0 1 0 4.2 0a2.1 2.1 0 1 0 -4.2 0zM1125.2 568.5a2.1 2.1 0 1 0 4.2 0a2.1 2.1 0 1 0 -4.2 0zM1143.9 485.5a2.1 2.1 0 1 0 4.2 0a2.1 2.1 0 1 0 -4.2 0zM1096.7 497.8a2.1 2.1 0 1 0 4.2 0a2.1 2.1 0 1 0 -4.2 0zM1125.2 564.1a2.1 2.1 0 1 0 4.2 0a2.1 2.1 0 1 0 -4.2 0zM1118.2 565.8a2.1 2.1 0 1 0 4.2 0a2.1 2.1 0 1 0 -4.2 0zM1144.2 541.6a2.1 2.1 0 1 0 4.2 0a2.1 2.1 0 1 0 -4.2 0zM1141.2 563.8a2.1 2.1 0 1 0 4.2 0a2.1 2.1 0 1 0 -4.2 0zM1091.7 501.2a2.1 2.1 0 1 0 4.2 0a2.1 2.1 0 1 0 -4.2 0zM1139.8 487.5a2.1 2.1 0 1 0 4.2 0a2.1 2.1 0 1 0 -4.2 0zM1137.4 486.3a2.1 2.1 0 1 0 4.2 0a2.1 2.1 0 1 0 -4.2 0zM1148.2 527.9a2.1 2.1 0 1 0 4.2 0a2.1 2.1 0 1 0 -4.2 0zM1131.2 561.7a2.1 2.1 0 1 0 4.2 0a2.1 2.1 0 1 0 -4.2 0zM1139.8 552.2a2.1 2.1 0 1 0 4.2 0a2.1 2.1 0 1 0 -4.2 0zM1129.4 566.6a2.1 2.1 0 1 0 4.2 0a2.1 2.1 0 1 0 -4.2 0zM1129.5 484.7a2.1 2.1 0 1 0 4.2 0a2.1 2.1 0 1 0 -4.2 0zM1114.8 489.8a2.1 2.1 0 1 0 4.2 0a2.1 2.1 0 1 0 -4.2 0zM1097.9 499.2a2.1 2.1 0 1 0 4.2 0a2.1 2.1 0 1 0 -4.2 0zM1100.7 498.1a2.1 2.1 0 1 0 4.2 0a2.1 2.1 0 1 0 -4.2 0zM1144.5 549.1a2.1 2.1 0 1 0 4.2 0a2.1 2.1 0 1 0 -4.2 0zM1137.3 486.8a2.1 2.1 0 1 0 4.2 0a2.1 2.1 0 1 0 -4.2 0zM1147.6 511.7a2.1 2.1 0 1 0 4.2 0a2.1 2.1 0 1 0 -4.2 0zM1137.0 486.2a2.1 2.1 0 1 0 4.2 0a2.1 2.1 0 1 0 -4.2 0zM1122.8 482.0a2.1 2.1 0 1 0 4.2 0a2.1 2.1 0 1 0 -4.2 0zM1127.5 483.5a2.1 2.1 0 1 0 4.2 0a2.1 2.1 0 1 0 -4.2 0zM1146.3 504.5a2.1 2.1 0 1 0 4.2 0a2.1 2.1 0 1 0 -4.2 0zM1148.0 527.8a2.1 2.1 0 1 0 4.2 0a2.1 2.1 0 1 0 -4.2 0zM1144.2 480.1a2.1 2.1 0 1 0 4.2 0a2.1 2.1 0 1 0 -4.2 0zM1142.6 523.9a2.1 2.1 0 1 0 4.2 0a2.1 2.1 0 1 0 -4.2 0zM1142.2 534.1a2.1 2.1 0 1 0 4.2 0a2.1 2.1 0 1 0 -4.2 0zM1141.1 540.9a2.1 2.1 0 1 0 4.2 0a2.1 2.1 0 1 0 -4.2 0zM1146.1 510.7a2.1 2.1 0 1 0 4.2 0a2.1 2.1 0 1 0 -4.2 0zM1146.2 508.8a2.1 2.1 0 1 0 4.2 0a2.1 2.1 0 1 0 -4.2 0zM1110.6 490.4a2.1 2.1 0 1 0 4.2 0a2.1 2.1 0 1 0 -4.2 0zM1124.6 560.2a2.1 2.1 0 1 0 4.2 0a2.1 2.1 0 1 0 -4.2 0zM1131.5 565.3a2.1 2.1 0 1 0 4.2 0a2.1 2.1 0 1 0 -4.2 0zM1113.7 571.7a2.1 2.1 0 1 0 4.2 0a2.1 2.1 0 1 0 -4.2 0zM1124.3 487.6a2.1 2.1 0 1 0 4.2 0a2.1 2.1 0 1 0 -4.2 0zM1096.8 501.9a2.1 2.1 0 1 0 4.2 0a2.1 2.1 0 1 0 -4.2 0zM1146.2 496.3a2.1 2.1 0 1 0 4.2 0a2.1 2.1 0 1 0 -4.2 0zM1144.5 531.1a2.1 2.1 0 1 0 4.2 0a2.1 2.1 0 1 0 -4.2 0zM1140.5 537.7a2.1 2.1 0 1 0 4.2 0a2.1 2.1 0 1 0 -4.2 0zM1115.4 571.8a2.1 2.1 0 1 0 4.2 0a2.1 2.1 0 1 0 -4.2 0zM1138.1 549.3a2.1 2.1 0 1 0 4.2 0a2.1 2.1 0 1 0 -4.2 0zM1110.3 492.4a2.1 2.1 0 1 0 4.2 0a2.1 2.1 0 1 0 -4.2 0zM1147.3 491.2a2.1 2.1 0 1 0 4.2 0a2.1 2.1 0 1 0 -4.2 0zM1139.3 546.7a2.1 2.1 0 1 0 4.2 0a2.1 2.1 0 1 0 -4.2 0zM1119.8 484.9a2.1 2.1 0 1 0 4.2 0a2.1 2.1 0 1 0 -4.2 0zM1143.8 539.8a2.1 2.1 0 1 0 4.2 0a2.1 2.1 0 1 0 -4.2 0zM1123.1 486.4a2.1 2.1 0 1 0 4.2 0a2.1 2.1 0 1 0 -4.2 0zM1138.5 491.0a2.1 2.1 0 1 0 4.2 0a2.1 2.1 0 1 0 -4.2 0zM1105.0 488.6a2.1 2.1 0 1 0 4.2 0a2.1 2.1 0 1 0 -4.2 0zM1103.5 496.0a2.1 2.1 0 1 0 4.2 0a2.1 2.1 0 1 0 -4.2 0zM1130.9 482.1a2.1 2.1 0 1 0 4.2 0a2.1 2.1 0 1 0 -4.2 0zM1105.5 496.8a2.1 2.1 0 1 0 4.2 0a2.1 2.1 0 1 0 -4.2 0zM1153.2 506.4a2.1 2.1 0 1 0 4.2 0a2.1 2.1 0 1 0 -4.2 0zM1129.8 562.0a2.1 2.1 0 1 0 4.2 0a2.1 2.1 0 1 0 -4.2 0zM1113.5 486.5a2.1 2.1 0 1 0 4.2 0a2.1 2.1 0 1 0 -4.2 0zM1146.8 495.0a2.1 2.1 0 1 0 4.2 0a2.1 2.1 0 1 0 -4.2 0zM1147.5 529.6a2.1 2.1 0 1 0 4.2 0a2.1 2.1 0 1 0 -4.2 0zM1097.0 495.5a2.1 2.1 0 1 0 4.2 0a2.1 2.1 0 1 0 -4.2 0zM1150.8 531.9a2.1 2.1 0 1 0 4.2 0a2.1 2.1 0 1 0 -4.2 0zM1121.6 573.5a2.1 2.1 0 1 0 4.2 0a2.1 2.1 0 1 0 -4.2 0zM1145.1 511.2a2.1 2.1 0 1 0 4.2 0a2.1 2.1 0 1 0 -4.2 0zM1117.6 483.8a2.1 2.1 0 1 0 4.2 0a2.1 2.1 0 1 0 -4.2 0zM1144.1 496.3a2.1 2.1 0 1 0 4.2 0a2.1 2.1 0 1 0 -4.2 0zM1128.8 562.9a2.1 2.1 0 1 0 4.2 0a2.1 2.1 0 1 0 -4.2 0zM1125.0 483.3a2.1 2.1 0 1 0 4.2 0a2.1 2.1 0 1 0 -4.2 0zM1129.2 565.0a2.1 2.1 0 1 0 4.2 0a2.1 2.1 0 1 0 -4.2 0zM1136.1 561.6a2.1 2.1 0 1 0 4.2 0a2.1 2.1 0 1 0 -4.2 0zM1141.1 550.2a2.1 2.1 0 1 0 4.2 0a2.1 2.1 0 1 0 -4.2 0zM1090.2 504.3a2.1 2.1 0 1 0 4.2 0a2.1 2.1 0 1 0 -4.2 0zM1086.1 505.9a2.1 2.1 0 1 0 4.2 0a2.1 2.1 0 1 0 -4.2 0zM1120.6 567.7a2.1 2.1 0 1 0 4.2 0a2.1 2.1 0 1 0 -4.2 0zM1127.7 482.4a2.1 2.1 0 1 0 4.2 0a2.1 2.1 0 1 0 -4.2 0zM1141.1 531.9a2.1 2.1 0 1 0 4.2 0a2.1 2.1 0 1 0 -4.2 0zM1128.9 485.9a2.1 2.1 0 1 0 4.2 0a2.1 2.1 0 1 0 -4.2 0zM1147.3 525.0a2.1 2.1 0 1 0 4.2 0a2.1 2.1 0 1 0 -4.2 0zM1135.4 483.6a2.1 2.1 0 1 0 4.2 0a2.1 2.1 0 1 0 -4.2 0zM1132.8 490.8a2.1 2.1 0 1 0 4.2 0a2.1 2.1 0 1 0 -4.2 0zM1131.5 566.2a2.1 2.1 0 1 0 4.2 0a2.1 2.1 0 1 0 -4.2 0zM1140.2 488.7a2.1 2.1 0 1 0 4.2 0a2.1 2.1 0 1 0 -4.2 0zM1138.1 549.2a2.1 2.1 0 1 0 4.2 0a2.1 2.1 0 1 0 -4.2 0zM1130.4 563.0a2.1 2.1 0 1 0 4.2 0a2.1 2.1 0 1 0 -4.2 0zM1094.4 499.5a2.1 2.1 0 1 0 4.2 0a2.1 2.1 0 1 0 -4.2 0zM1138.7 564.8a2.1 2.1 0 1 0 4.2 0a2.1 2.1 0 1 0 -4.2 0zM1140.9 491.8a2.1 2.1 0 1 0 4.2 0a2.1 2.1 0 1 0 -4.2 0zM1141.1 545.1a2.1 2.1 0 1 0 4.2 0a2.1 2.1 0 1 0 -4.2 0zM1118.2 573.9a2.1 2.1 0 1 0 4.2 0a2.1 2.1 0 1 0 -4.2 0zM1132.0 562.4a2.1 2.1 0 1 0 4.2 0a2.1 2.1 0 1 0 -4.2 0zM1139.5 523.3a2.1 2.1 0 1 0 4.2 0a2.1 2.1 0 1 0 -4.2 0zM1114.9 574.9a2.1 2.1 0 1 0 4.2 0a2.1 2.1 0 1 0 -4.2 0zM1088.5 503.8a2.1 2.1 0 1 0 4.2 0a2.1 2.1 0 1 0 -4.2 0zM1130.2 487.5a2.1 2.1 0 1 0 4.2 0a2.1 2.1 0 1 0 -4.2 0zM1146.5 497.4a2.1 2.1 0 1 0 4.2 0a2.1 2.1 0 1 0 -4.2 0zM1096.4 506.8a2.1 2.1 0 1 0 4.2 0a2.1 2.1 0 1 0 -4.2 0zM1137.7 493.7a2.1 2.1 0 1 0 4.2 0a2.1 2.1 0 1 0 -4.2 0zM1099.6 494.8a2.1 2.1 0 1 0 4.2 0a2.1 2.1 0 1 0 -4.2 0zM1144.7 492.6a2.1 2.1 0 1 0 4.2 0a2.1 2.1 0 1 0 -4.2 0zM1146.9 488.5a2.1 2.1 0 1 0 4.2 0a2.1 2.1 0 1 0 -4.2 0zM1121.7 569.5a2.1 2.1 0 1 0 4.2 0a2.1 2.1 0 1 0 -4.2 0zM1137.6 554.9a2.1 2.1 0 1 0 4.2 0a2.1 2.1 0 1 0 -4.2 0zM1132.9 486.0a2.1 2.1 0 1 0 4.2 0a2.1 2.1 0 1 0 -4.2 0zM1133.9 484.7a2.1 2.1 0 1 0 4.2 0a2.1 2.1 0 1 0 -4.2 0zM1095.3 494.3a2.1 2.1 0 1 0 4.2 0a2.1 2.1 0 1 0 -4.2 0zM1147.9 525.7a2.1 2.1 0 1 0 4.2 0a2.1 2.1 0 1 0 -4.2 0zM1119.0 487.7a2.1 2.1 0 1 0 4.2 0a2.1 2.1 0 1 0 -4.2 0zM1148.3 508.8a2.1 2.1 0 1 0 4.2 0a2.1 2.1 0 1 0 -4.2 0zM1135.0 561.4a2.1 2.1 0 1 0 4.2 0a2.1 2.1 0 1 0 -4.2 0zM1147.8 498.4a2.1 2.1 0 1 0 4.2 0a2.1 2.1 0 1 0 -4.2 0zM1136.5 558.5a2.1 2.1 0 1 0 4.2 0a2.1 2.1 0 1 0 -4.2 0zM1147.7 499.6a2.1 2.1 0 1 0 4.2 0a2.1 2.1 0 1 0 -4.2 0zM1148.4 512.1a2.1 2.1 0 1 0 4.2 0a2.1 2.1 0 1 0 -4.2 0zM1117.4 571.6a2.1 2.1 0 1 0 4.2 0a2.1 2.1 0 1 0 -4.2 0zM1124.8 489.1a2.1 2.1 0 1 0 4.2 0a2.1 2.1 0 1 0 -4.2 0zM1121.3 566.7a2.1 2.1 0 1 0 4.2 0a2.1 2.1 0 1 0 -4.2 0zM1149.5 518.9a2.1 2.1 0 1 0 4.2 0a2.1 2.1 0 1 0 -4.2 0zM1150.8 501.1a2.1 2.1 0 1 0 4.2 0a2.1 2.1 0 1 0 -4.2 0zM1138.5 487.7a2.1 2.1 0 1 0 4.2 0a2.1 2.1 0 1 0 -4.2 0zM1128.7 558.0a2.1 2.1 0 1 0 4.2 0a2.1 2.1 0 1 0 -4.2 0zM1134.2 554.9a2.1 2.1 0 1 0 4.2 0a2.1 2.1 0 1 0 -4.2 0zM1094.6 501.6a2.1 2.1 0 1 0 4.2 0a2.1 2.1 0 1 0 -4.2 0zM1112.8 492.1a2.1 2.1 0 1 0 4.2 0a2.1 2.1 0 1 0 -4.2 0zM1147.7 526.6a2.1 2.1 0 1 0 4.2 0a2.1 2.1 0 1 0 -4.2 0zM1144.8 497.2a2.1 2.1 0 1 0 4.2 0a2.1 2.1 0 1 0 -4.2 0zM1125.5 567.0a2.1 2.1 0 1 0 4.2 0a2.1 2.1 0 1 0 -4.2 0zM1139.1 550.3a2.1 2.1 0 1 0 4.2 0a2.1 2.1 0 1 0 -4.2 0zM1134.8 485.6a2.1 2.1 0 1 0 4.2 0a2.1 2.1 0 1 0 -4.2 0zM1128.8 567.5a2.1 2.1 0 1 0 4.2 0a2.1 2.1 0 1 0 -4.2 0zM1138.5 541.3a2.1 2.1 0 1 0 4.2 0a2.1 2.1 0 1 0 -4.2 0zM1100.8 487.1a2.1 2.1 0 1 0 4.2 0a2.1 2.1 0 1 0 -4.2 0zM1120.0 571.4a2.1 2.1 0 1 0 4.2 0a2.1 2.1 0 1 0 -4.2 0zM1111.8 486.7a2.1 2.1 0 1 0 4.2 0a2.1 2.1 0 1 0 -4.2 0zM1147.1 503.0a2.1 2.1 0 1 0 4.2 0a2.1 2.1 0 1 0 -4.2 0zM1147.6 502.5a2.1 2.1 0 1 0 4.2 0a2.1 2.1 0 1 0 -4.2 0zM1121.2 576.5a2.1 2.1 0 1 0 4.2 0a2.1 2.1 0 1 0 -4.2 0zM1123.9 569.1a2.1 2.1 0 1 0 4.2 0a2.1 2.1 0 1 0 -4.2 0zM1134.7 489.7a2.1 2.1 0 1 0 4.2 0a2.1 2.1 0 1 0 -4.2 0zM1119.5 571.0a2.1 2.1 0 1 0 4.2 0a2.1 2.1 0 1 0 -4.2 0zM1114.5 489.0a2.1 2.1 0 1 0 4.2 0a2.1 2.1 0 1 0 -4.2 0zM1145.8 529.2a2.1 2.1 0 1 0 4.2 0a2.1 2.1 0 1 0 -4.2 0zM1115.0 488.6a2.1 2.1 0 1 0 4.2 0a2.1 2.1 0 1 0 -4.2 0zM1142.8 544.3a2.1 2.1 0 1 0 4.2 0a2.1 2.1 0 1 0 -4.2 0zM1142.8 489.8a2.1 2.1 0 1 0 4.2 0a2.1 2.1 0 1 0 -4.2 0zM1117.9 570.4a2.1 2.1 0 1 0 4.2 0a2.1 2.1 0 1 0 -4.2 0zM1146.6 549.4a2.1 2.1 0 1 0 4.2 0a2.1 2.1 0 1 0 -4.2 0zM1113.5 489.8a2.1 2.1 0 1 0 4.2 0a2.1 2.1 0 1 0 -4.2 0zM1119.8 491.4a2.1 2.1 0 1 0 4.2 0a2.1 2.1 0 1 0 -4.2 0zM1123.4 571.2a2.1 2.1 0 1 0 4.2 0a2.1 2.1 0 1 0 -4.2 0zM1130.5 555.1a2.1 2.1 0 1 0 4.2 0a2.1 2.1 0 1 0 -4.2 0zM1133.9 485.6a2.1 2.1 0 1 0 4.2 0a2.1 2.1 0 1 0 -4.2 0zM1146.8 494.3a2.1 2.1 0 1 0 4.2 0a2.1 2.1 0 1 0 -4.2 0zM1137.8 540.7a2.1 2.1 0 1 0 4.2 0a2.1 2.1 0 1 0 -4.2 0zM1145.2 539.4a2.1 2.1 0 1 0 4.2 0a2.1 2.1 0 1 0 -4.2 0zM1134.7 479.8a2.1 2.1 0 1 0 4.2 0a2.1 2.1 0 1 0 -4.2 0zM1134.2 559.2a2.1 2.1 0 1 0 4.2 0a2.1 2.1 0 1 0 -4.2 0zM1133.6 559.1a2.1 2.1 0 1 0 4.2 0a2.1 2.1 0 1 0 -4.2 0zM1108.9 486.3a2.1 2.1 0 1 0 4.2 0a2.1 2.1 0 1 0 -4.2 0zM1145.7 492.3a2.1 2.1 0 1 0 4.2 0a2.1 2.1 0 1 0 -4.2 0zM1125.4 480.0a2.1 2.1 0 1 0 4.2 0a2.1 2.1 0 1 0 -4.2 0zM1102.7 500.3a2.1 2.1 0 1 0 4.2 0a2.1 2.1 0 1 0 -4.2 0zM1140.0 496.4a2.1 2.1 0 1 0 4.2 0a2.1 2.1 0 1 0 -4.2 0zM1086.2 505.3a2.1 2.1 0 1 0 4.2 0a2.1 2.1 0 1 0 -4.2 0zM1149.3 518.9a2.1 2.1 0 1 0 4.2 0a2.1 2.1 0 1 0 -4.2 0zM1138.6 489.8a2.1 2.1 0 1 0 4.2 0a2.1 2.1 0 1 0 -4.2 0zM1146.2 494.0a2.1 2.1 0 1 0 4.2 0a2.1 2.1 0 1 0 -4.2 0zM1098.4 495.0a2.1 2.1 0 1 0 4.2 0a2.1 2.1 0 1 0 -4.2 0zM1126.7 562.8a2.1 2.1 0 1 0 4.2 0a2.1 2.1 0 1 0 -4.2 0zM1145.6 510.8a2.1 2.1 0 1 0 4.2 0a2.1 2.1 0 1 0 -4.2 0zM1142.4 487.2a2.1 2.1 0 1 0 4.2 0a2.1 2.1 0 1 0 -4.2 0zM1140.0 551.0a2.1 2.1 0 1 0 4.2 0a2.1 2.1 0 1 0 -4.2 0zM1118.9 572.4a2.1 2.1 0 1 0 4.2 0a2.1 2.1 0 1 0 -4.2 0zM1097.8 495.9a2.1 2.1 0 1 0 4.2 0a2.1 2.1 0 1 0 -4.2 0zM1121.8 481.5a2.1 2.1 0 1 0 4.2 0a2.1 2.1 0 1 0 -4.2 0zM1147.6 500.3a2.1 2.1 0 1 0 4.2 0a2.1 2.1 0 1 0 -4.2 0zM1132.8 569.3a2.1 2.1 0 1 0 4.2 0a2.1 2.1 0 1 0 -4.2 0zM1139.4 484.7a2.1 2.1 0 1 0 4.2 0a2.1 2.1 0 1 0 -4.2 0zM1145.3 541.4a2.1 2.1 0 1 0 4.2 0a2.1 2.1 0 1 0 -4.2 0zM1145.9 542.0a2.1 2.1 0 1 0 4.2 0a2.1 2.1 0 1 0 -4.2 0zM1129.7 566.9a2.1 2.1 0 1 0 4.2 0a2.1 2.1 0 1 0 -4.2 0zM1147.6 498.8a2.1 2.1 0 1 0 4.2 0a2.1 2.1 0 1 0 -4.2 0zM1138.1 548.1a2.1 2.1 0 1 0 4.2 0a2.1 2.1 0 1 0 -4.2 0zM1144.8 520.8a2.1 2.1 0 1 0 4.2 0a2.1 2.1 0 1 0 -4.2 0zM1110.5 488.9a2.1 2.1 0 1 0 4.2 0a2.1 2.1 0 1 0 -4.2 0zM1090.6 501.5a2.1 2.1 0 1 0 4.2 0a2.1 2.1 0 1 0 -4.2 0zM1116.7 574.1a2.1 2.1 0 1 0 4.2 0a2.1 2.1 0 1 0 -4.2 0zM1129.6 555.1a2.1 2.1 0 1 0 4.2 0a2.1 2.1 0 1 0 -4.2 0zM1136.5 553.2a2.1 2.1 0 1 0 4.2 0a2.1 2.1 0 1 0 -4.2 0zM1147.7 504.1a2.1 2.1 0 1 0 4.2 0a2.1 2.1 0 1 0 -4.2 0zM1149.8 528.1a2.1 2.1 0 1 0 4.2 0a2.1 2.1 0 1 0 -4.2 0zM1144.8 497.8a2.1 2.1 0 1 0 4.2 0a2.1 2.1 0 1 0 -4.2 0zM1144.4 484.2a2.1 2.1 0 1 0 4.2 0a2.1 2.1 0 1 0 -4.2 0zM1121.8 490.2a2.1 2.1 0 1 0 4.2 0a2.1 2.1 0 1 0 -4.2 0zM1145.2 498.5a2.1 2.1 0 1 0 4.2 0a2.1 2.1 0 1 0 -4.2 0zM1121.8 569.1a2.1 2.1 0 1 0 4.2 0a2.1 2.1 0 1 0 -4.2 0zM1123.1 572.7a2.1 2.1 0 1 0 4.2 0a2.1 2.1 0 1 0 -4.2 0zM1101.8 494.8a2.1 2.1 0 1 0 4.2 0a2.1 2.1 0 1 0 -4.2 0zM1139.6 546.0a2.1 2.1 0 1 0 4.2 0a2.1 2.1 0 1 0 -4.2 0zM1123.8 482.5a2.1 2.1 0 1 0 4.2 0a2.1 2.1 0 1 0 -4.2 0zM1125.4 563.9a2.1 2.1 0 1 0 4.2 0a2.1 2.1 0 1 0 -4.2 0zM1130.6 563.0a2.1 2.1 0 1 0 4.2 0a2.1 2.1 0 1 0 -4.2 0zM1104.9 495.6a2.1 2.1 0 1 0 4.2 0a2.1 2.1 0 1 0 -4.2 0z"/>
<path fill="#FFFFFF" d="M1142.3 491.4a1.0 1.0 0 1 0 2.0 0a1.0 1.0 0 1 0 -2.0 0zM1123.7 521.7a1.0 1.0 0 1 0 2.0 0a1.0 1.0 0 1 0 -2.0 0zM1119.9 495.6a1.0 1.0 0 1 0 2.0 0a1.0 1.0 0 1 0 -2.0 0zM1131.0 521.5a1.0 1.0 0 1 0 2.0 0a1.0 1.0 0 1 0 -2.0 0zM1118.8 549.3a1.0 1.0 0 1 0 2.0 0a1.0 1.0 0 1 0 -2.0 0zM1135.6 536.4a1.0 1.0 0 1 0 2.0 0a1.0 1.0 0 1 0 -2.0 0zM1127.8 539.3a1.0 1.0 0 1 0 2.0 0a1.0 1.0 0 1 0 -2.0 0zM1147.2 516.3a1.0 1.0 0 1 0 2.0 0a1.0 1.0 0 1 0 -2.0 0zM1134.1 516.8a1.0 1.0 0 1 0 2.0 0a1.0 1.0 0 1 0 -2.0 0zM1122.5 542.8a1.0 1.0 0 1 0 2.0 0a1.0 1.0 0 1 0 -2.0 0zM1116.4 547.9a1.0 1.0 0 1 0 2.0 0a1.0 1.0 0 1 0 -2.0 0zM1123.6 523.8a1.0 1.0 0 1 0 2.0 0a1.0 1.0 0 1 0 -2.0 0zM1126.8 500.2a1.0 1.0 0 1 0 2.0 0a1.0 1.0 0 1 0 -2.0 0zM1137.6 501.4a1.0 1.0 0 1 0 2.0 0a1.0 1.0 0 1 0 -2.0 0z"/>
<path fill="#FFA500" d="M1092.1 508.2a2.1 2.1 0 1 0 4.2 0a2.1 2.1 0 1 0 -4.2 0zM1074.1 512.0a2.1 2.1 0 1 0 4.2 0a2.1 2.1 0 1 0 -4.2 0zM1074.5 504.1a2.1 2.1 0 1 0 4.2 0a2.1 2.1 0 1 0 -4.2 0zM1071.0 506.2a2.1 2.1 0 1 0 4.2 0a2.1 2.1 0 1 0 -4.2 0zM1073.0 505.0a2.1 2.1 0 1 0 4.2 0a2.1 2.1 0 1 0 -4.2 0zM1092.5 506.4a2.1 2.1 0 1 0 4.2 0a2.1 2.1 0 1 0 -4.2 0zM1082.9 508.8a2.1 2.1 0 1 0 4.2 0a2.1 2.1 0 1 0 -4.2 0zM1085.5 511.0a2.1 2.1 0 1 0 4.2 0a2.1 2.1 0 1 0 -4.2 0zM1093.0 498.7a2.1 2.1 0 1 0 4.2 0a2.1 2.1 0 1 0 -4.2 0zM1078.3 510.9a2.1 2.1 0 1 0 4.2 0a2.1 2.1 0 1 0 -4.2 0zM1070.8 506.3a2.1 2.1 0 1 0 4.2 0a2.1 2.1 0 1 0 -4.2 0zM1096.6 491.8a2.1 2.1 0 1 0 4.2 0a2.1 2.1 0 1 0 -4.2 0zM1086.3 496.8a2.1 2.1 0 1 0 4.2 0a2.1 2.1 0 1 0 -4.2 0zM1078.6 509.5a2.1 2.1 0 1 0 4.2 0a2.1 2.1 0 1 0 -4.2 0zM1090.5 507.2a2.1 2.1 0 1 0 4.2 0a2.1 2.1 0 1 0 -4.2 0zM1095.8 511.8a2.1 2.1 0 1 0 4.2 0a2.1 2.1 0 1 0 -4.2 0zM1097.1 494.4a2.1 2.1 0 1 0 4.2 0a2.1 2.1 0 1 0 -4.2 0zM1093.2 510.2a2.1 2.1 0 1 0 4.2 0a2.1 2.1 0 1 0 -4.2 0zM1084.2 504.1a2.1 2.1 0 1 0 4.2 0a2.1 2.1 0 1 0 -4.2 0zM1101.0 491.2a2.1 2.1 0 1 0 4.2 0a2.1 2.1 0 1 0 -4.2 0zM1085.1 511.9a2.1 2.1 0 1 0 4.2 0a2.1 2.1 0 1 0 -4.2 0zM1093.9 500.8a2.1 2.1 0 1 0 4.2 0a2.1 2.1 0 1 0 -4.2 0zM1076.1 503.1a2.1 2.1 0 1 0 4.2 0a2.1 2.1 0 1 0 -4.2 0zM1076.8 503.5a2.1 2.1 0 1 0 4.2 0a2.1 2.1 0 1 0 -4.2 0zM1090.0 497.4a2.1 2.1 0 1 0 4.2 0a2.1 2.1 0 1 0 -4.2 0zM1094.9 497.7a2.1 2.1 0 1 0 4.2 0a2.1 2.1 0 1 0 -4.2 0zM1083.8 508.0a2.1 2.1 0 1 0 4.2 0a2.1 2.1 0 1 0 -4.2 0zM1087.4 498.4a2.1 2.1 0 1 0 4.2 0a2.1 2.1 0 1 0 -4.2 0zM1097.6 494.0a2.1 2.1 0 1 0 4.2 0a2.1 2.1 0 1 0 -4.2 0zM1083.2 506.3a2.1 2.1 0 1 0 4.2 0a2.1 2.1 0 1 0 -4.2 0zM1069.2 511.7a2.1 2.1 0 1 0 4.2 0a2.1 2.1 0 1 0 -4.2 0zM1092.1 507.5a2.1 2.1 0 1 0 4.2 0a2.1 2.1 0 1 0 -4.2 0zM1086.2 501.8a2.1 2.1 0 1 0 4.2 0a2.1 2.1 0 1 0 -4.2 0zM1091.4 498.1a2.1 2.1 0 1 0 4.2 0a2.1 2.1 0 1 0 -4.2 0zM1089.4 509.7a2.1 2.1 0 1 0 4.2 0a2.1 2.1 0 1 0 -4.2 0zM1093.7 495.6a2.1 2.1 0 1 0 4.2 0a2.1 2.1 0 1 0 -4.2 0zM1092.4 497.5a2.1 2.1 0 1 0 4.2 0a2.1 2.1 0 1 0 -4.2 0zM1070.2 506.8a2.1 2.1 0 1 0 4.2 0a2.1 2.1 0 1 0 -4.2 0zM1096.6 500.7a2.1 2.1 0 1 0 4.2 0a2.1 2.1 0 1 0 -4.2 0zM1098.5 493.1a2.1 2.1 0 1 0 4.2 0a2.1 2.1 0 1 0 -4.2 0zM1069.6 507.8a2.1 2.1 0 1 0 4.2 0a2.1 2.1 0 1 0 -4.2 0zM1069.7 510.4a2.1 2.1 0 1 0 4.2 0a2.1 2.1 0 1 0 -4.2 0zM1086.8 504.8a2.1 2.1 0 1 0 4.2 0a2.1 2.1 0 1 0 -4.2 0zM1069.6 509.8a2.1 2.1 0 1 0 4.2 0a2.1 2.1 0 1 0 -4.2 0zM1095.0 499.9a2.1 2.1 0 1 0 4.2 0a2.1 2.1 0 1 0 -4.2 0z"/>
<path fill="#FFA500" d="M1216.3 463.7a2.1 2.1 0 1 0 4.2 0a2.1 2.1 0 1 0 -4.2 0zM1130.4 461.2a2.1 2.1 0 1 0 4.2 0a2.1 2.1 0 1 0 -4.2 0zM1182.2 489.6a2.1 2.1 0 1 0 4.2 0a2.1 2.1 0 1 0 -4.2 0zM1208.6 475.2a2.1 2.1 0 1 0 4.2 0a2.1 2.1 0 1 0 -4.2 0zM1188.5 452.1a2.1 2.1 0 1 0 4.2 0a2.1 2.1 0 1 0 -4.2 0zM1144.4 470.0a2.1 2.1 0 1 0 4.2 0a2.1 2.1 0 1 0 -4.2 0zM1138.6 566.5a2.1 2.1 0 1 0 4.2 0a2.1 2.1 0 1 0 -4.2 0zM1144.6 544.4a2.1 2.1 0 1 0 4.2 0a2.1 2.1 0 1 0 -4.2 0zM1184.0 469.3a2.1 2.1 0 1 0 4.2 0a2.1 2.1 0 1 0 -4.2 0zM1166.1 511.2a2.1 2.1 0 1 0 4.2 0a2.1 2.1 0 1 0 -4.2 0zM1155.3 529.3a2.1 2.1 0 1 0 4.2 0a2.1 2.1 0 1 0 -4.2 0zM1211.6 484.7a2.1 2.1 0 1 0 4.2 0a2.1 2.1 0 1 0 -4.2 0zM1151.4 519.4a2.1 2.1 0 1 0 4.2 0a2.1 2.1 0 1 0 -4.2 0zM1170.2 500.6a2.1 2.1 0 1 0 4.2 0a2.1 2.1 0 1 0 -4.2 0zM1184.6 512.6a2.1 2.1 0 1 0 4.2 0a2.1 2.1 0 1 0 -4.2 0zM1149.4 500.4a2.1 2.1 0 1 0 4.2 0a2.1 2.1 0 1 0 -4.2 0zM1154.4 458.2a2.1 2.1 0 1 0 4.2 0a2.1 2.1 0 1 0 -4.2 0zM1209.3 467.6a2.1 2.1 0 1 0 4.2 0a2.1 2.1 0 1 0 -4.2 0zM1170.6 490.0a2.1 2.1 0 1 0 4.2 0a2.1 2.1 0 1 0 -4.2 0zM1146.3 491.0a2.1 2.1 0 1 0 4.2 0a2.1 2.1 0 1 0 -4.2 0zM1181.7 471.4a2.1 2.1 0 1 0 4.2 0a2.1 2.1 0 1 0 -4.2 0zM1186.9 452.6a2.1 2.1 0 1 0 4.2 0a2.1 2.1 0 1 0 -4.2 0zM1168.1 519.7a2.1 2.1 0 1 0 4.2 0a2.1 2.1 0 1 0 -4.2 0zM1181.3 490.6a2.1 2.1 0 1 0 4.2 0a2.1 2.1 0 1 0 -4.2 0zM1180.3 488.9a2.1 2.1 0 1 0 4.2 0a2.1 2.1 0 1 0 -4.2 0zM1158.1 479.9a2.1 2.1 0 1 0 4.2 0a2.1 2.1 0 1 0 -4.2 0zM1149.0 460.9a2.1 2.1 0 1 0 4.2 0a2.1 2.1 0 1 0 -4.2 0zM1133.9 478.1a2.1 2.1 0 1 0 4.2 0a2.1 2.1 0 1 0 -4.2 0zM1206.0 468.8a2.1 2.1 0 1 0 4.2 0a2.1 2.1 0 1 0 -4.2 0zM1140.6 458.3a2.1 2.1 0 1 0 4.2 0a2.1 2.1 0 1 0 -4.2 0zM1162.1 472.2a2.1 2.1 0 1 0 4.2 0a2.1 2.1 0 1 0 -4.2 0zM1148.1 538.6a2.1 2.1 0 1 0 4.2 0a2.1 2.1 0 1 0 -4.2 0zM1152.3 540.5a2.1 2.1 0 1 0 4.2 0a2.1 2.1 0 1 0 -4.2 0zM1189.6 504.5a2.1 2.1 0 1 0 4.2 0a2.1 2.1 0 1 0 -4.2 0zM1137.5 475.1a2.1 2.1 0 1 0 4.2 0a2.1 2.1 0 1 0 -4.2 0zM1139.5 454.2a2.1 2.1 0 1 0 4.2 0a2.1 2.1 0 1 0 -4.2 0zM1183.8 465.9a2.1 2.1 0 1 0 4.2 0a2.1 2.1 0 1 0 -4.2 0zM1176.9 451.3a2.1 2.1 0 1 0 4.2 0a2.1 2.1 0 1 0 -4.2 0zM1163.9 449.8a2.1 2.1 0 1 0 4.2 0a2.1 2.1 0 1 0 -4.2 0zM1203.8 475.4a2.1 2.1 0 1 0 4.2 0a2.1 2.1 0 1 0 -4.2 0zM1169.2 463.6a2.1 2.1 0 1 0 4.2 0a2.1 2.1 0 1 0 -4.2 0zM1147.9 554.8a2.1 2.1 0 1 0 4.2 0a2.1 2.1 0 1 0 -4.2 0zM1152.1 526.7a2.1 2.1 0 1 0 4.2 0a2.1 2.1 0 1 0 -4.2 0zM1150.1 552.9a2.1 2.1 0 1 0 4.2 0a2.1 2.1 0 1 0 -4.2 0zM1166.8 469.7a2.1 2.1 0 1 0 4.2 0a2.1 2.1 0 1 0 -4.2 0zM1140.7 466.1a2.1 2.1 0 1 0 4.2 0a2.1 2.1 0 1 0 -4.2 0zM1218.0 470.0a2.1 2.1 0 1 0 4.2 0a2.1 2.1 0 1 0 -4.2 0zM1194.4 494.7a2.1 2.1 0 1 0 4.2 0a2.1 2.1 0 1 0 -4.2 0zM1182.7 470.6a2.1 2.1 0 1 0 4.2 0a2.1 2.1 0 1 0 -4.2 0zM1152.0 475.7a2.1 2.1 0 1 0 4.2 0a2.1 2.1 0 1 0 -4.2 0zM1201.5 458.4a2.1 2.1 0 1 0 4.2 0a2.1 2.1 0 1 0 -4.2 0zM1182.3 486.5a2.1 2.1 0 1 0 4.2 0a2.1 2.1 0 1 0 -4.2 0zM1141.1 476.0a2.1 2.1 0 1 0 4.2 0a2.1 2.1 0 1 0 -4.2 0zM1145.0 459.0a2.1 2.1 0 1 0 4.2 0a2.1 2.1 0 1 0 -4.2 0zM1159.3 487.9a2.1 2.1 0 1 0 4.2 0a2.1 2.1 0 1 0 -4.2 0zM1155.9 490.6a2.1 2.1 0 1 0 4.2 0a2.1 2.1 0 1 0 -4.2 0zM1200.2 484.7a2.1 2.1 0 1 0 4.2 0a2.1 2.1 0 1 0 -4.2 0zM1167.0 473.4a2.1 2.1 0 1 0 4.2 0a2.1 2.1 0 1 0 -4.2 0zM1124.1 476.1a2.1 2.1 0 1 0 4.2 0a2.1 2.1 0 1 0 -4.2 0zM1144.4 463.5a2.1 2.1 0 1 0 4.2 0a2.1 2.1 0 1 0 -4.2 0zM1200.9 460.3a2.1 2.1 0 1 0 4.2 0a2.1 2.1 0 1 0 -4.2 0zM1165.9 454.7a2.1 2.1 0 1 0 4.2 0a2.1 2.1 0 1 0 -4.2 0zM1147.6 494.0a2.1 2.1 0 1 0 4.2 0a2.1 2.1 0 1 0 -4.2 0zM1160.8 525.5a2.1 2.1 0 1 0 4.2 0a2.1 2.1 0 1 0 -4.2 0zM1150.0 482.0a2.1 2.1 0 1 0 4.2 0a2.1 2.1 0 1 0 -4.2 0zM1196.3 473.4a2.1 2.1 0 1 0 4.2 0a2.1 2.1 0 1 0 -4.2 0zM1162.3 526.1a2.1 2.1 0 1 0 4.2 0a2.1 2.1 0 1 0 -4.2 0zM1179.8 448.6a2.1 2.1 0 1 0 4.2 0a2.1 2.1 0 1 0 -4.2 0zM1143.6 476.2a2.1 2.1 0 1 0 4.2 0a2.1 2.1 0 1 0 -4.2 0zM1147.3 496.2a2.1 2.1 0 1 0 4.2 0a2.1 2.1 0 1 0 -4.2 0zM1171.7 468.0a2.1 2.1 0 1 0 4.2 0a2.1 2.1 0 1 0 -4.2 0zM1139.0 555.5a2.1 2.1 0 1 0 4.2 0a2.1 2.1 0 1 0 -4.2 0zM1196.8 474.4a2.1 2.1 0 1 0 4.2 0a2.1 2.1 0 1 0 -4.2 0zM1173.5 521.8a2.1 2.1 0 1 0 4.2 0a2.1 2.1 0 1 0 -4.2 0zM1149.3 546.5a2.1 2.1 0 1 0 4.2 0a2.1 2.1 0 1 0 -4.2 0zM1174.3 474.7a2.1 2.1 0 1 0 4.2 0a2.1 2.1 0 1 0 -4.2 0zM1156.0 462.1a2.1 2.1 0 1 0 4.2 0a2.1 2.1 0 1 0 -4.2 0zM1191.6 451.8a2.1 2.1 0 1 0 4.2 0a2.1 2.1 0 1 0 -4.2 0zM1177.0 484.8a2.1 2.1 0 1 0 4.2 0a2.1 2.1 0 1 0 -4.2 0zM1196.2 462.0a2.1 2.1 0 1 0 4.2 0a2.1 2.1 0 1 0 -4.2 0zM1135.8 462.4a2.1 2.1 0 1 0 4.2 0a2.1 2.1 0 1 0 -4.2 0zM1151.3 527.8a2.1 2.1 0 1 0 4.2 0a2.1 2.1 0 1 0 -4.2 0zM1166.3 466.2a2.1 2.1 0 1 0 4.2 0a2.1 2.1 0 1 0 -4.2 0zM1162.8 468.1a2.1 2.1 0 1 0 4.2 0a2.1 2.1 0 1 0 -4.2 0zM1174.0 474.8a2.1 2.1 0 1 0 4.2 0a2.1 2.1 0 1 0 -4.2 0zM1179.4 488.3a2.1 2.1 0 1 0 4.2 0a2.1 2.1 0 1 0 -4.2 0zM1157.7 538.3a2.1 2.1 0 1 0 4.2 0a2.1 2.1 0 1 0 -4.2 0zM1155.1 451.3a2.1 2.1 0 1 0 4.2 0a2.1 2.1 0 1 0 -4.2 0zM1148.0 516.6a2.1 2.1 0 1 0 4.2 0a2.1 2.1 0 1 0 -4.2 0zM1169.6 465.9a2.1 2.1 0 1 0 4.2 0a2.1 2.1 0 1 0 -4.2 0zM1160.1 494.5a2.1 2.1 0 1 0 4.2 0a2.1 2.1 0 1 0 -4.2 0zM1204.8 495.0a2.1 2.1 0 1 0 4.2 0a2.1 2.1 0 1 0 -4.2 0zM1198.0 467.4a2.1 2.1 0 1 0 4.2 0a2.1 2.1 0 1 0 -4.2 0zM1144.9 550.8a2.1 2.1 0 1 0 4.2 0a2.1 2.1 0 1 0 -4.2 0zM1160.4 466.9a2.1 2.1 0 1 0 4.2 0a2.1 2.1 0 1 0 -4.2 0zM1191.2 492.3a2.1 2.1 0 1 0 4.2 0a2.1 2.1 0 1 0 -4.2 0zM1134.5 469.8a2.1 2.1 0 1 0 4.2 0a2.1 2.1 0 1 0 -4.2 0zM1153.3 455.4a2.1 2.1 0 1 0 4.2 0a2.1 2.1 0 1 0 -4.2 0zM1209.6 481.4a2.1 2.1 0 1 0 4.2 0a2.1 2.1 0 1 0 -4.2 0zM1144.4 554.1a2.1 2.1 0 1 0 4.2 0a2.1 2.1 0 1 0 -4.2 0zM1202.0 460.9a2.1 2.1 0 1 0 4.2 0a2.1 2.1 0 1 0 -4.2 0zM1148.7 460.1a2.1 2.1 0 1 0 4.2 0a2.1 2.1 0 1 0 -4.2 0zM1155.9 464.9a2.1 2.1 0 1 0 4.2 0a2.1 2.1 0 1 0 -4.2 0zM1182.9 476.5a2.1 2.1 0 1 0 4.2 0a2.1 2.1 0 1 0 -4.2 0zM1148.2 478.4a2.1 2.1 0 1 0 4.2 0a2.1 2.1 0 1 0 -4.2 0zM1123.5 483.1a2.1 2.1 0 1 0 4.2 0a2.1 2.1 0 1 0 -4.2 0zM1149.3 535.1a2.1 2.1 0 1 0 4.2 0a2.1 2.1 0 1 0 -4.2 0zM1140.5 454.8a2.1 2.1 0 1 0 4.2 0a2.1 2.1 0 1 0 -4.2 0zM1210.9 471.1a2.1 2.1 0 1 0 4.2 0a2.1 2.1 0 1 0 -4.2 0zM1133.4 465.7a2.1 2.1 0 1 0 4.2 0a2.1 2.1 0 1 0 -4.2 0zM1138.0 567.0a2.1 2.1 0 1 0 4.2 0a2.1 2.1 0 1 0 -4.2 0zM1213.3 474.7a2.1 2.1 0 1 0 4.2 0a2.1 2.1 0 1 0 -4.2 0zM1174.8 460.1a2.1 2.1 0 1 0 4.2 0a2.1 2.1 0 1 0 -4.2 0zM1156.3 542.8a2.1 2.1 0 1 0 4.2 0a2.1 2.1 0 1 0 -4.2 0zM1163.9 504.5a2.1 2.1 0 1 0 4.2 0a2.1 2.1 0 1 0 -4.2 0zM1167.5 463.2a2.1 2.1 0 1 0 4.2 0a2.1 2.1 0 1 0 -4.2 0zM1166.9 476.2a2.1 2.1 0 1 0 4.2 0a2.1 2.1 0 1 0 -4.2 0zM1170.0 475.8a2.1 2.1 0 1 0 4.2 0a2.1 2.1 0 1 0 -4.2 0zM1171.6 509.5a2.1 2.1 0 1 0 4.2 0a2.1 2.1 0 1 0 -4.2 0zM1135.8 462.0a2.1 2.1 0 1 0 4.2 0a2.1 2.1 0 1 0 -4.2 0zM1186.5 510.0a2.1 2.1 0 1 0 4.2 0a2.1 2.1 0 1 0 -4.2 0zM1174.3 449.1a2.1 2.1 0 1 0 4.2 0a2.1 2.1 0 1 0 -4.2 0zM1143.9 546.9a2.1 2.1 0 1 0 4.2 0a2.1 2.1 0 1 0 -4.2 0zM1151.8 459.1a2.1 2.1 0 1 0 4.2 0a2.1 2.1 0 1 0 -4.2 0zM1153.2 477.3a2.1 2.1 0 1 0 4.2 0a2.1 2.1 0 1 0 -4.2 0zM1195.1 457.9a2.1 2.1 0 1 0 4.2 0a2.1 2.1 0 1 0 -4.2 0zM1146.1 479.5a2.1 2.1 0 1 0 4.2 0a2.1 2.1 0 1 0 -4.2 0zM1150.2 461.3a2.1 2.1 0 1 0 4.2 0a2.1 2.1 0 1 0 -4.2 0zM1155.7 539.8a2.1 2.1 0 1 0 4.2 0a2.1 2.1 0 1 0 -4.2 0zM1196.6 475.6a2.1 2.1 0 1 0 4.2 0a2.1 2.1 0 1 0 -4.2 0zM1157.7 457.2a2.1 2.1 0 1 0 4.2 0a2.1 2.1 0 1 0 -4.2 0zM1151.5 549.0a2.1 2.1 0 1 0 4.2 0a2.1 2.1 0 1 0 -4.2 0zM1163.9 512.1a2.1 2.1 0 1 0 4.2 0a2.1 2.1 0 1 0 -4.2 0zM1196.4 457.0a2.1 2.1 0 1 0 4.2 0a2.1 2.1 0 1 0 -4.2 0zM1149.2 506.9a2.1 2.1 0 1 0 4.2 0a2.1 2.1 0 1 0 -4.2 0zM1176.1 520.9a2.1 2.1 0 1 0 4.2 0a2.1 2.1 0 1 0 -4.2 0zM1153.8 498.8a2.1 2.1 0 1 0 4.2 0a2.1 2.1 0 1 0 -4.2 0zM1194.7 493.0a2.1 2.1 0 1 0 4.2 0a2.1 2.1 0 1 0 -4.2 0zM1173.2 492.2a2.1 2.1 0 1 0 4.2 0a2.1 2.1 0 1 0 -4.2 0zM1194.2 450.5a2.1 2.1 0 1 0 4.2 0a2.1 2.1 0 1 0 -4.2 0zM1185.8 481.3a2.1 2.1 0 1 0 4.2 0a2.1 2.1 0 1 0 -4.2 0zM1154.8 504.8a2.1 2.1 0 1 0 4.2 0a2.1 2.1 0 1 0 -4.2 0zM1133.2 473.1a2.1 2.1 0 1 0 4.2 0a2.1 2.1 0 1 0 -4.2 0zM1167.9 452.0a2.1 2.1 0 1 0 4.2 0a2.1 2.1 0 1 0 -4.2 0zM1144.4 554.8a2.1 2.1 0 1 0 4.2 0a2.1 2.1 0 1 0 -4.2 0zM1141.4 469.2a2.1 2.1 0 1 0 4.2 0a2.1 2.1 0 1 0 -4.2 0zM1171.4 490.7a2.1 2.1 0 1 0 4.2 0a2.1 2.1 0 1 0 -4.2 0zM1154.2 480.2a2.1 2.1 0 1 0 4.2 0a2.1 2.1 0 1 0 -4.2 0zM1144.4 474.6a2.1 2.1 0 1 0 4.2 0a2.1 2.1 0 1 0 -4.2 0zM1168.8 457.7a2.1 2.1 0 1 0 4.2 0a2.1 2.1 0 1 0 -4.2 0z"/>
<path fill="#FFA500" d="M1258.3 414.2a2.1 2.1 0 1 0 4.2 0a2.1 2.1 0 1 0 -4.2 0zM1244.1 416.1a2.1 2.1 0 1 0 4.2 0a2.1 2.1 0 1 0 -4.2 0zM1275.1 456.9a2.1 2.1 0 1 0 4.2 0a2.1 2.1 0 1 0 -4.2 0zM1219.9 425.7a2.1 2.1 0 1 0 4.2 0a2.1 2.1 0 1 0 -4.2 0zM1219.9 430.1a2.1 2.1 0 1 0 4.2 0a2.1 2.1 0 1 0 -4.2 0zM1212.1 432.3a2.1 2.1 0 1 0 4.2 0a2.1 2.1 0 1 0 -4.2 0zM1245.5 427.1a2.1 2.1 0 1 0 4.2 0a2.1 2.1 0 1 0 -4.2 0zM1245.5 432.0a2.1 2.1 0 1 0 4.2 0a2.1 2.1 0 1 0 -4.2 0zM1175.9 428.9a2.1 2.1 0 1 0 4.2 0a2.1 2.1 0 1 0 -4.2 0zM1230.9 440.0a2.1 2.1 0 1 0 4.2 0a2.1 2.1 0 1 0 -4.2 0zM1235.3 455.4a2.1 2.1 0 1 0 4.2 0a2.1 2.1 0 1 0 -4.2 0zM1161.5 441.8a2.1 2.1 0 1 0 4.2 0a2.1 2.1 0 1 0 -4.2 0zM1169.6 446.9a2.1 2.1 0 1 0 4.2 0a2.1 2.1 0 1 0 -4.2 0zM1170.0 449.9a2.1 2.1 0 1 0 4.2 0a2.1 2.1 0 1 0 -4.2 0zM1146.1 447.7a2.1 2.1 0 1 0 4.2 0a2.1 2.1 0 1 0 -4.2 0zM1194.5 447.2a2.1 2.1 0 1 0 4.2 0a2.1 2.1 0 1 0 -4.2 0zM1205.5 453.1a2.1 2.1 0 1 0 4.2 0a2.1 2.1 0 1 0 -4.2 0zM1212.8 455.7a2.1 2.1 0 1 0 4.2 0a2.1 2.1 0 1 0 -4.2 0zM1179.1 451.3a2.1 2.1 0 1 0 4.2 0a2.1 2.1 0 1 0 -4.2 0zM1191.6 451.3a2.1 2.1 0 1 0 4.2 0a2.1 2.1 0 1 0 -4.2 0zM1222.8 477.7a2.1 2.1 0 1 0 4.2 0a2.1 2.1 0 1 0 -4.2 0zM1217.9 485.8a2.1 2.1 0 1 0 4.2 0a2.1 2.1 0 1 0 -4.2 0zM1201.4 515.1a2.1 2.1 0 1 0 4.2 0a2.1 2.1 0 1 0 -4.2 0zM1203.7 496.1a2.1 2.1 0 1 0 4.2 0a2.1 2.1 0 1 0 -4.2 0zM1191.6 495.3a2.1 2.1 0 1 0 4.2 0a2.1 2.1 0 1 0 -4.2 0zM1187.2 505.3a2.1 2.1 0 1 0 4.2 0a2.1 2.1 0 1 0 -4.2 0zM1185.0 486.5a2.1 2.1 0 1 0 4.2 0a2.1 2.1 0 1 0 -4.2 0zM1175.4 519.1a2.1 2.1 0 1 0 4.2 0a2.1 2.1 0 1 0 -4.2 0zM1168.1 525.7a2.1 2.1 0 1 0 4.2 0a2.1 2.1 0 1 0 -4.2 0zM1163.7 532.7a2.1 2.1 0 1 0 4.2 0a2.1 2.1 0 1 0 -4.2 0zM1154.2 547.8a2.1 2.1 0 1 0 4.2 0a2.1 2.1 0 1 0 -4.2 0zM1145.4 561.3a2.1 2.1 0 1 0 4.2 0a2.1 2.1 0 1 0 -4.2 0zM1111.6 576.0a2.1 2.1 0 1 0 4.2 0a2.1 2.1 0 1 0 -4.2 0zM1120.9 580.7a2.1 2.1 0 1 0 4.2 0a2.1 2.1 0 1 0 -4.2 0zM1163.3 532.8a2.1 2.1 0 1 0 4.2 0a2.1 2.1 0 1 0 -4.2 0zM1153.5 547.7a2.1 2.1 0 1 0 4.2 0a2.1 2.1 0 1 0 -4.2 0zM1167.5 525.9a2.1 2.1 0 1 0 4.2 0a2.1 2.1 0 1 0 -4.2 0zM1175.3 518.9a2.1 2.1 0 1 0 4.2 0a2.1 2.1 0 1 0 -4.2 0zM1187.6 505.2a2.1 2.1 0 1 0 4.2 0a2.1 2.1 0 1 0 -4.2 0zM1191.2 495.4a2.1 2.1 0 1 0 4.2 0a2.1 2.1 0 1 0 -4.2 0zM1203.2 496.0a2.1 2.1 0 1 0 4.2 0a2.1 2.1 0 1 0 -4.2 0zM1207.4 472.2a2.1 2.1 0 1 0 4.2 0a2.1 2.1 0 1 0 -4.2 0zM1213.5 465.3a2.1 2.1 0 1 0 4.2 0a2.1 2.1 0 1 0 -4.2 0zM1216.3 468.0a2.1 2.1 0 1 0 4.2 0a2.1 2.1 0 1 0 -4.2 0zM1222.8 477.3a2.1 2.1 0 1 0 4.2 0a2.1 2.1 0 1 0 -4.2 0zM1218.3 485.6a2.1 2.1 0 1 0 4.2 0a2.1 2.1 0 1 0 -4.2 0zM1190.6 484.8a2.1 2.1 0 1 0 4.2 0a2.1 2.1 0 1 0 -4.2 0zM1185.6 487.0a2.1 2.1 0 1 0 4.2 0a2.1 2.1 0 1 0 -4.2 0zM1161.9 441.5a2.1 2.1 0 1 0 4.2 0a2.1 2.1 0 1 0 -4.2 0zM1146.5 447.9a2.1 2.1 0 1 0 4.2 0a2.1 2.1 0 1 0 -4.2 0zM1194.8 447.7a2.1 2.1 0 1 0 4.2 0a2.1 2.1 0 1 0 -4.2 0zM1191.2 451.3a2.1 2.1 0 1 0 4.2 0a2.1 2.1 0 1 0 -4.2 0zM1205.2 453.2a2.1 2.1 0 1 0 4.2 0a2.1 2.1 0 1 0 -4.2 0zM1213.0 456.0a2.1 2.1 0 1 0 4.2 0a2.1 2.1 0 1 0 -4.2 0zM1230.9 440.1a2.1 2.1 0 1 0 4.2 0a2.1 2.1 0 1 0 -4.2 0zM1235.3 455.5a2.1 2.1 0 1 0 4.2 0a2.1 2.1 0 1 0 -4.2 0zM1212.1 432.3a2.1 2.1 0 1 0 4.2 0a2.1 2.1 0 1 0 -4.2 0zM1219.7 426.1a2.1 2.1 0 1 0 4.2 0a2.1 2.1 0 1 0 -4.2 0zM1220.5 430.3a2.1 2.1 0 1 0 4.2 0a2.1 2.1 0 1 0 -4.2 0zM1175.9 428.9a2.1 2.1 0 1 0 4.2 0a2.1 2.1 0 1 0 -4.2 0z"/>
<path fill="#8B0000" d="M1080.9 344.6a2.1 2.1 0 1 0 4.2 0a2.1 2.1 0 1 0 -4.2 0zM1118.6 352.7a2.1 2.1 0 1 0 4.2 0a2.1 2.1 0 1 0 -4.2 0zM1212.7 375.3a2.1 2.1 0 1 0 4.2 0a2.1 2.1 0 1 0 -4.2 0zM1078.6 377.8a2.1 2.1 0 1 0 4.2 0a2.1 2.1 0 1 0 -4.2 0zM1071.6 382.3a2.1 2.1 0 1 0 4.2 0a2.1 2.1 0 1 0 -4.2 0zM1085.9 392.6a2.1 2.1 0 1 0 4.2 0a2.1 2.1 0 1 0 -4.2 0zM1098.9 389.3a2.1 2.1 0 1 0 4.2 0a2.1 2.1 0 1 0 -4.2 0zM1098.5 393.2a2.1 2.1 0 1 0 4.2 0a2.1 2.1 0 1 0 -4.2 0zM1107.9 392.0a2.1 2.1 0 1 0 4.2 0a2.1 2.1 0 1 0 -4.2 0zM1113.9 389.8a2.1 2.1 0 1 0 4.2 0a2.1 2.1 0 1 0 -4.2 0zM1131.1 396.0a2.1 2.1 0 1 0 4.2 0a2.1 2.1 0 1 0 -4.2 0zM1089.2 411.6a2.1 2.1 0 1 0 4.2 0a2.1 2.1 0 1 0 -4.2 0zM1107.9 415.8a2.1 2.1 0 1 0 4.2 0a2.1 2.1 0 1 0 -4.2 0zM1166.9 418.3a2.1 2.1 0 1 0 4.2 0a2.1 2.1 0 1 0 -4.2 0zM1034.8 432.3a2.1 2.1 0 1 0 4.2 0a2.1 2.1 0 1 0 -4.2 0zM1078.6 428.1a2.1 2.1 0 1 0 4.2 0a2.1 2.1 0 1 0 -4.2 0zM1081.7 432.3a2.1 2.1 0 1 0 4.2 0a2.1 2.1 0 1 0 -4.2 0zM1129.2 430.3a2.1 2.1 0 1 0 4.2 0a2.1 2.1 0 1 0 -4.2 0zM1129.2 434.5a2.1 2.1 0 1 0 4.2 0a2.1 2.1 0 1 0 -4.2 0zM1134.5 427.5a2.1 2.1 0 1 0 4.2 0a2.1 2.1 0 1 0 -4.2 0zM1106.0 432.6a2.1 2.1 0 1 0 4.2 0a2.1 2.1 0 1 0 -4.2 0zM1101.3 435.4a2.1 2.1 0 1 0 4.2 0a2.1 2.1 0 1 0 -4.2 0zM1106.8 438.7a2.1 2.1 0 1 0 4.2 0a2.1 2.1 0 1 0 -4.2 0zM1112.4 441.0a2.1 2.1 0 1 0 4.2 0a2.1 2.1 0 1 0 -4.2 0zM1161.9 434.5a2.1 2.1 0 1 0 4.2 0a2.1 2.1 0 1 0 -4.2 0zM1154.9 440.1a2.1 2.1 0 1 0 4.2 0a2.1 2.1 0 1 0 -4.2 0zM1080.0 442.9a2.1 2.1 0 1 0 4.2 0a2.1 2.1 0 1 0 -4.2 0zM1096.2 445.1a2.1 2.1 0 1 0 4.2 0a2.1 2.1 0 1 0 -4.2 0zM1082.3 449.9a2.1 2.1 0 1 0 4.2 0a2.1 2.1 0 1 0 -4.2 0zM1071.6 452.7a2.1 2.1 0 1 0 4.2 0a2.1 2.1 0 1 0 -4.2 0zM1076.7 454.1a2.1 2.1 0 1 0 4.2 0a2.1 2.1 0 1 0 -4.2 0zM1103.2 455.5a2.1 2.1 0 1 0 4.2 0a2.1 2.1 0 1 0 -4.2 0zM1066.9 459.7a2.1 2.1 0 1 0 4.2 0a2.1 2.1 0 1 0 -4.2 0zM1071.6 461.6a2.1 2.1 0 1 0 4.2 0a2.1 2.1 0 1 0 -4.2 0zM1046.5 463.9a2.1 2.1 0 1 0 4.2 0a2.1 2.1 0 1 0 -4.2 0zM1085.9 463.9a2.1 2.1 0 1 0 4.2 0a2.1 2.1 0 1 0 -4.2 0zM1111.6 466.1a2.1 2.1 0 1 0 4.2 0a2.1 2.1 0 1 0 -4.2 0zM1092.9 468.6a2.1 2.1 0 1 0 4.2 0a2.1 2.1 0 1 0 -4.2 0zM1078.9 467.5a2.1 2.1 0 1 0 4.2 0a2.1 2.1 0 1 0 -4.2 0zM1076.7 472.2a2.1 2.1 0 1 0 4.2 0a2.1 2.1 0 1 0 -4.2 0zM1083.1 472.2a2.1 2.1 0 1 0 4.2 0a2.1 2.1 0 1 0 -4.2 0zM1067.7 473.1a2.1 2.1 0 1 0 4.2 0a2.1 2.1 0 1 0 -4.2 0zM1099.6 474.5a2.1 2.1 0 1 0 4.2 0a2.1 2.1 0 1 0 -4.2 0zM1107.4 476.4a2.1 2.1 0 1 0 4.2 0a2.1 2.1 0 1 0 -4.2 0zM1045.9 481.5a2.1 2.1 0 1 0 4.2 0a2.1 2.1 0 1 0 -4.2 0zM1052.9 484.2a2.1 2.1 0 1 0 4.2 0a2.1 2.1 0 1 0 -4.2 0zM1055.7 484.0a2.1 2.1 0 1 0 4.2 0a2.1 2.1 0 1 0 -4.2 0zM1074.4 481.5a2.1 2.1 0 1 0 4.2 0a2.1 2.1 0 1 0 -4.2 0zM1020.8 484.8a2.1 2.1 0 1 0 4.2 0a2.1 2.1 0 1 0 -4.2 0zM1029.2 487.6a2.1 2.1 0 1 0 4.2 0a2.1 2.1 0 1 0 -4.2 0zM1069.7 489.0a2.1 2.1 0 1 0 4.2 0a2.1 2.1 0 1 0 -4.2 0zM1085.1 484.8a2.1 2.1 0 1 0 4.2 0a2.1 2.1 0 1 0 -4.2 0zM1089.8 489.0a2.1 2.1 0 1 0 4.2 0a2.1 2.1 0 1 0 -4.2 0zM1068.8 493.2a2.1 2.1 0 1 0 4.2 0a2.1 2.1 0 1 0 -4.2 0zM1034.8 496.8a2.1 2.1 0 1 0 4.2 0a2.1 2.1 0 1 0 -4.2 0zM1046.5 497.4a2.1 2.1 0 1 0 4.2 0a2.1 2.1 0 1 0 -4.2 0zM1082.3 494.6a2.1 2.1 0 1 0 4.2 0a2.1 2.1 0 1 0 -4.2 0zM1043.2 503.0a2.1 2.1 0 1 0 4.2 0a2.1 2.1 0 1 0 -4.2 0zM1039.0 506.6a2.1 2.1 0 1 0 4.2 0a2.1 2.1 0 1 0 -4.2 0zM1040.9 509.4a2.1 2.1 0 1 0 4.2 0a2.1 2.1 0 1 0 -4.2 0zM1067.5 503.5a2.1 2.1 0 1 0 4.2 0a2.1 2.1 0 1 0 -4.2 0zM983.1 508.5a2.1 2.1 0 1 0 4.2 0a2.1 2.1 0 1 0 -4.2 0zM1035.6 523.4a2.1 2.1 0 1 0 4.2 0a2.1 2.1 0 1 0 -4.2 0zM1089.3 412.0a2.1 2.1 0 1 0 4.2 0a2.1 2.1 0 1 0 -4.2 0zM1105.8 433.0a2.1 2.1 0 1 0 4.2 0a2.1 2.1 0 1 0 -4.2 0zM1081.6 432.3a2.1 2.1 0 1 0 4.2 0a2.1 2.1 0 1 0 -4.2 0zM1080.5 443.6a2.1 2.1 0 1 0 4.2 0a2.1 2.1 0 1 0 -4.2 0zM1082.3 450.2a2.1 2.1 0 1 0 4.2 0a2.1 2.1 0 1 0 -4.2 0zM1103.6 455.7a2.1 2.1 0 1 0 4.2 0a2.1 2.1 0 1 0 -4.2 0zM1086.3 463.8a2.1 2.1 0 1 0 4.2 0a2.1 2.1 0 1 0 -4.2 0zM1092.3 468.6a2.1 2.1 0 1 0 4.2 0a2.1 2.1 0 1 0 -4.2 0zM1099.6 474.8a2.1 2.1 0 1 0 4.2 0a2.1 2.1 0 1 0 -4.2 0zM1084.5 472.6a2.1 2.1 0 1 0 4.2 0a2.1 2.1 0 1 0 -4.2 0zM1085.2 485.1a2.1 2.1 0 1 0 4.2 0a2.1 2.1 0 1 0 -4.2 0zM1089.6 488.7a2.1 2.1 0 1 0 4.2 0a2.1 2.1 0 1 0 -4.2 0zM1082.3 494.6a2.1 2.1 0 1 0 4.2 0a2.1 2.1 0 1 0 -4.2 0zM1078.6 466.0a2.1 2.1 0 1 0 4.2 0a2.1 2.1 0 1 0 -4.2 0zM1078.6 471.1a2.1 2.1 0 1 0 4.2 0a2.1 2.1 0 1 0 -4.2 0z"/>
<path fill="#00CED1" d="M1142.4 572.9a2.1 2.1 0 1 0 4.2 0a2.1 2.1 0 1 0 -4.2 0zM1121.9 587.5a2.1 2.1 0 1 0 4.2 0a2.1 2.1 0 1 0 -4.2 0zM1141.8 591.5a2.1 2.1 0 1 0 4.2 0a2.1 2.1 0 1 0 -4.2 0zM1159.8 607.5a2.1 2.1 0 1 0 4.2 0a2.1 2.1 0 1 0 -4.2 0zM1106.6 611.6a2.1 2.1 0 1 0 4.2 0a2.1 2.1 0 1 0 -4.2 0zM1115.0 621.2a2.1 2.1 0 1 0 4.2 0a2.1 2.1 0 1 0 -4.2 0zM1112.9 665.4a2.1 2.1 0 1 0 4.2 0a2.1 2.1 0 1 0 -4.2 0z"/>
<text x="-0.8" y="988.7" font-size="55.2">d</text>
<rect x="121.40" y="1020.20" width="4.40" height="545.50" fill="#000"/>
<rect x="121.40" y="1561.90" width="546.40" height="4.60" fill="#000"/>
<text x="115.0" y="1151.3" font-size="25" text-anchor="end">8</text>
<text x="115.0" y="1300.8" font-size="25" text-anchor="end">4</text>
<text x="115.0" y="1451.2" font-size="25" text-anchor="end">0</text>
<text x="175.9" y="1591.2" font-size="25" text-anchor="middle">-2</text>
<text x="341.2" y="1591.2" font-size="25" text-anchor="middle">0</text>
<text x="505.0" y="1591.2" font-size="25" text-anchor="middle">2</text>
<text x="397.8" y="1628.9" font-size="29.4" text-anchor="middle" id="dxl">CapSTARR-seq Log<tspan font-size="21" dy="4">2</tspan><tspan dy="-4">(IFNa/NS)</tspan></text>
<text x="76.0" y="1304.4" font-size="29.3" text-anchor="middle" transform="rotate(-90 76.0 1304.4)" id="dyl">RNA-seq Log<tspan font-size="21" dy="4">2</tspan><tspan dy="-4">(IFNa/NS)</tspan></text>
<path fill="#FFA500" d="M132.0 1051.1a4.0 4.0 0 1 0 8.0 0a4.0 4.0 0 1 0 -8.0 0z"/>
<path fill="#00C800" d="M132.0 1090.3a4.0 4.0 0 1 0 8.0 0a4.0 4.0 0 1 0 -8.0 0z"/>
<path fill="#009EE2" d="M132.0 1129.8a4.0 4.0 0 1 0 8.0 0a4.0 4.0 0 1 0 -8.0 0z"/>
<path fill="#A6A6A6" d="M132.0 1169.0a4.0 4.0 0 1 0 8.0 0a4.0 4.0 0 1 0 -8.0 0z"/>
<text x="147.1" y="1061.7" font-size="25.4">Ind. Epromoter only</text>
<text x="147.1" y="1100.3" font-size="25.4">Ind. gene &amp; Epromoter</text>
<text x="147.1" y="1139.5" font-size="25.4">Ind. gene only</text>
<text x="147.3" y="1178.2" font-size="25.4">Non ind. Epromoter</text>
<polygon points="334.0,1418.0 353.3,1412.5 374.3,1411.5 384.7,1417.0 395.2,1427.0 405.0,1433.0 410.0,1438.0 403.0,1447.6 393.0,1457.0 383.0,1466.0 364.0,1474.0 345.0,1470.0 331.0,1458.0 320.0,1447.6 316.0,1437.1 327.1,1426.6" fill="#999999"/>
<path fill="#999999" d="M335.4 1419.5a4.0 4.0 0 1 0 8.0 0a4.0 4.0 0 1 0 -8.0 0zM345.6 1472.0a4.0 4.0 0 1 0 8.0 0a4.0 4.0 0 1 0 -8.0 0zM382.2 1416.3a4.0 4.0 0 1 0 8.0 0a4.0 4.0 0 1 0 -8.0 0zM332.5 1462.0a4.0 4.0 0 1 0 8.0 0a4.0 4.0 0 1 0 -8.0 0zM374.2 1467.7a4.0 4.0 0 1 0 8.0 0a4.0 4.0 0 1 0 -8.0 0zM330.1 1419.1a4.0 4.0 0 1 0 8.0 0a4.0 4.0 0 1 0 -8.0 0zM318.9 1430.1a4.0 4.0 0 1 0 8.0 0a4.0 4.0 0 1 0 -8.0 0zM394.5 1439.1a4.0 4.0 0 1 0 8.0 0a4.0 4.0 0 1 0 -8.0 0zM378.8 1420.0a4.0 4.0 0 1 0 8.0 0a4.0 4.0 0 1 0 -8.0 0zM381.5 1465.7a4.0 4.0 0 1 0 8.0 0a4.0 4.0 0 1 0 -8.0 0zM406.5 1443.0a4.0 4.0 0 1 0 8.0 0a4.0 4.0 0 1 0 -8.0 0zM334.0 1421.1a4.0 4.0 0 1 0 8.0 0a4.0 4.0 0 1 0 -8.0 0zM312.3 1439.6a4.0 4.0 0 1 0 8.0 0a4.0 4.0 0 1 0 -8.0 0zM323.3 1452.5a4.0 4.0 0 1 0 8.0 0a4.0 4.0 0 1 0 -8.0 0zM354.6 1473.8a4.0 4.0 0 1 0 8.0 0a4.0 4.0 0 1 0 -8.0 0zM399.6 1436.4a4.0 4.0 0 1 0 8.0 0a4.0 4.0 0 1 0 -8.0 0zM357.6 1464.9a4.0 4.0 0 1 0 8.0 0a4.0 4.0 0 1 0 -8.0 0zM332.7 1422.1a4.0 4.0 0 1 0 8.0 0a4.0 4.0 0 1 0 -8.0 0zM397.6 1434.0a4.0 4.0 0 1 0 8.0 0a4.0 4.0 0 1 0 -8.0 0zM374.7 1466.1a4.0 4.0 0 1 0 8.0 0a4.0 4.0 0 1 0 -8.0 0zM378.4 1411.3a4.0 4.0 0 1 0 8.0 0a4.0 4.0 0 1 0 -8.0 0zM344.7 1472.2a4.0 4.0 0 1 0 8.0 0a4.0 4.0 0 1 0 -8.0 0zM309.3 1424.9a4.0 4.0 0 1 0 8.0 0a4.0 4.0 0 1 0 -8.0 0zM369.0 1415.8a4.0 4.0 0 1 0 8.0 0a4.0 4.0 0 1 0 -8.0 0zM394.8 1448.2a4.0 4.0 0 1 0 8.0 0a4.0 4.0 0 1 0 -8.0 0zM365.2 1417.9a4.0 4.0 0 1 0 8.0 0a4.0 4.0 0 1 0 -8.0 0zM358.5 1415.1a4.0 4.0 0 1 0 8.0 0a4.0 4.0 0 1 0 -8.0 0zM340.8 1464.6a4.0 4.0 0 1 0 8.0 0a4.0 4.0 0 1 0 -8.0 0zM385.1 1458.3a4.0 4.0 0 1 0 8.0 0a4.0 4.0 0 1 0 -8.0 0zM401.0 1436.4a4.0 4.0 0 1 0 8.0 0a4.0 4.0 0 1 0 -8.0 0zM340.1 1416.8a4.0 4.0 0 1 0 8.0 0a4.0 4.0 0 1 0 -8.0 0zM333.0 1457.1a4.0 4.0 0 1 0 8.0 0a4.0 4.0 0 1 0 -8.0 0zM328.5 1465.4a4.0 4.0 0 1 0 8.0 0a4.0 4.0 0 1 0 -8.0 0zM327.5 1421.2a4.0 4.0 0 1 0 8.0 0a4.0 4.0 0 1 0 -8.0 0zM404.0 1442.3a4.0 4.0 0 1 0 8.0 0a4.0 4.0 0 1 0 -8.0 0zM345.2 1420.0a4.0 4.0 0 1 0 8.0 0a4.0 4.0 0 1 0 -8.0 0zM339.6 1413.2a4.0 4.0 0 1 0 8.0 0a4.0 4.0 0 1 0 -8.0 0zM375.6 1411.0a4.0 4.0 0 1 0 8.0 0a4.0 4.0 0 1 0 -8.0 0zM367.2 1414.1a4.0 4.0 0 1 0 8.0 0a4.0 4.0 0 1 0 -8.0 0zM382.1 1462.5a4.0 4.0 0 1 0 8.0 0a4.0 4.0 0 1 0 -8.0 0zM379.1 1461.4a4.0 4.0 0 1 0 8.0 0a4.0 4.0 0 1 0 -8.0 0zM335.9 1467.6a4.0 4.0 0 1 0 8.0 0a4.0 4.0 0 1 0 -8.0 0zM359.6 1406.4a4.0 4.0 0 1 0 8.0 0a4.0 4.0 0 1 0 -8.0 0zM319.6 1424.0a4.0 4.0 0 1 0 8.0 0a4.0 4.0 0 1 0 -8.0 0zM369.5 1410.2a4.0 4.0 0 1 0 8.0 0a4.0 4.0 0 1 0 -8.0 0zM399.3 1452.0a4.0 4.0 0 1 0 8.0 0a4.0 4.0 0 1 0 -8.0 0zM390.7 1432.2a4.0 4.0 0 1 0 8.0 0a4.0 4.0 0 1 0 -8.0 0zM376.6 1473.2a4.0 4.0 0 1 0 8.0 0a4.0 4.0 0 1 0 -8.0 0zM334.9 1463.6a4.0 4.0 0 1 0 8.0 0a4.0 4.0 0 1 0 -8.0 0zM362.6 1472.2a4.0 4.0 0 1 0 8.0 0a4.0 4.0 0 1 0 -8.0 0zM377.5 1411.5a4.0 4.0 0 1 0 8.0 0a4.0 4.0 0 1 0 -8.0 0zM402.2 1442.0a4.0 4.0 0 1 0 8.0 0a4.0 4.0 0 1 0 -8.0 0zM376.1 1417.3a4.0 4.0 0 1 0 8.0 0a4.0 4.0 0 1 0 -8.0 0zM337.2 1474.5a4.0 4.0 0 1 0 8.0 0a4.0 4.0 0 1 0 -8.0 0zM345.0 1418.6a4.0 4.0 0 1 0 8.0 0a4.0 4.0 0 1 0 -8.0 0zM379.5 1458.1a4.0 4.0 0 1 0 8.0 0a4.0 4.0 0 1 0 -8.0 0zM390.2 1426.5a4.0 4.0 0 1 0 8.0 0a4.0 4.0 0 1 0 -8.0 0zM386.1 1462.4a4.0 4.0 0 1 0 8.0 0a4.0 4.0 0 1 0 -8.0 0zM334.7 1417.6a4.0 4.0 0 1 0 8.0 0a4.0 4.0 0 1 0 -8.0 0zM328.0 1468.3a4.0 4.0 0 1 0 8.0 0a4.0 4.0 0 1 0 -8.0 0z"/>
<path fill="#999999" d="M299.7 1426.7a4.0 4.0 0 1 0 8.0 0a4.0 4.0 0 1 0 -8.0 0zM302.5 1451.2a4.0 4.0 0 1 0 8.0 0a4.0 4.0 0 1 0 -8.0 0zM395.4 1452.4a4.0 4.0 0 1 0 8.0 0a4.0 4.0 0 1 0 -8.0 0zM408.1 1482.2a4.0 4.0 0 1 0 8.0 0a4.0 4.0 0 1 0 -8.0 0zM336.4 1409.1a4.0 4.0 0 1 0 8.0 0a4.0 4.0 0 1 0 -8.0 0zM384.4 1419.5a4.0 4.0 0 1 0 8.0 0a4.0 4.0 0 1 0 -8.0 0zM395.4 1478.4a4.0 4.0 0 1 0 8.0 0a4.0 4.0 0 1 0 -8.0 0zM409.2 1425.7a4.0 4.0 0 1 0 8.0 0a4.0 4.0 0 1 0 -8.0 0zM300.2 1419.0a4.0 4.0 0 1 0 8.0 0a4.0 4.0 0 1 0 -8.0 0zM412.2 1418.3a4.0 4.0 0 1 0 8.0 0a4.0 4.0 0 1 0 -8.0 0zM309.9 1410.7a4.0 4.0 0 1 0 8.0 0a4.0 4.0 0 1 0 -8.0 0zM296.2 1412.2a4.0 4.0 0 1 0 8.0 0a4.0 4.0 0 1 0 -8.0 0zM349.6 1476.5a4.0 4.0 0 1 0 8.0 0a4.0 4.0 0 1 0 -8.0 0zM301.4 1414.2a4.0 4.0 0 1 0 8.0 0a4.0 4.0 0 1 0 -8.0 0zM314.2 1412.0a4.0 4.0 0 1 0 8.0 0a4.0 4.0 0 1 0 -8.0 0zM376.1 1488.0a4.0 4.0 0 1 0 8.0 0a4.0 4.0 0 1 0 -8.0 0zM397.8 1460.3a4.0 4.0 0 1 0 8.0 0a4.0 4.0 0 1 0 -8.0 0zM396.2 1451.3a4.0 4.0 0 1 0 8.0 0a4.0 4.0 0 1 0 -8.0 0zM365.5 1477.2a4.0 4.0 0 1 0 8.0 0a4.0 4.0 0 1 0 -8.0 0zM321.0 1409.1a4.0 4.0 0 1 0 8.0 0a4.0 4.0 0 1 0 -8.0 0zM335.7 1415.8a4.0 4.0 0 1 0 8.0 0a4.0 4.0 0 1 0 -8.0 0zM316.3 1473.7a4.0 4.0 0 1 0 8.0 0a4.0 4.0 0 1 0 -8.0 0zM392.6 1411.9a4.0 4.0 0 1 0 8.0 0a4.0 4.0 0 1 0 -8.0 0zM410.7 1424.2a4.0 4.0 0 1 0 8.0 0a4.0 4.0 0 1 0 -8.0 0zM380.2 1465.0a4.0 4.0 0 1 0 8.0 0a4.0 4.0 0 1 0 -8.0 0zM304.3 1435.4a4.0 4.0 0 1 0 8.0 0a4.0 4.0 0 1 0 -8.0 0zM346.3 1484.1a4.0 4.0 0 1 0 8.0 0a4.0 4.0 0 1 0 -8.0 0zM321.7 1454.6a4.0 4.0 0 1 0 8.0 0a4.0 4.0 0 1 0 -8.0 0zM306.1 1416.0a4.0 4.0 0 1 0 8.0 0a4.0 4.0 0 1 0 -8.0 0zM400.4 1450.7a4.0 4.0 0 1 0 8.0 0a4.0 4.0 0 1 0 -8.0 0zM384.1 1415.2a4.0 4.0 0 1 0 8.0 0a4.0 4.0 0 1 0 -8.0 0zM412.1 1429.5a4.0 4.0 0 1 0 8.0 0a4.0 4.0 0 1 0 -8.0 0zM329.8 1468.3a4.0 4.0 0 1 0 8.0 0a4.0 4.0 0 1 0 -8.0 0zM413.1 1460.5a4.0 4.0 0 1 0 8.0 0a4.0 4.0 0 1 0 -8.0 0zM335.6 1410.8a4.0 4.0 0 1 0 8.0 0a4.0 4.0 0 1 0 -8.0 0zM312.2 1416.2a4.0 4.0 0 1 0 8.0 0a4.0 4.0 0 1 0 -8.0 0zM380.5 1485.4a4.0 4.0 0 1 0 8.0 0a4.0 4.0 0 1 0 -8.0 0zM306.0 1431.8a4.0 4.0 0 1 0 8.0 0a4.0 4.0 0 1 0 -8.0 0zM315.8 1425.4a4.0 4.0 0 1 0 8.0 0a4.0 4.0 0 1 0 -8.0 0zM301.0 1441.5a4.0 4.0 0 1 0 8.0 0a4.0 4.0 0 1 0 -8.0 0zM309.3 1456.5a4.0 4.0 0 1 0 8.0 0a4.0 4.0 0 1 0 -8.0 0zM305.4 1453.1a4.0 4.0 0 1 0 8.0 0a4.0 4.0 0 1 0 -8.0 0zM376.1 1409.2a4.0 4.0 0 1 0 8.0 0a4.0 4.0 0 1 0 -8.0 0zM389.9 1459.4a4.0 4.0 0 1 0 8.0 0a4.0 4.0 0 1 0 -8.0 0zM412.8 1434.0a4.0 4.0 0 1 0 8.0 0a4.0 4.0 0 1 0 -8.0 0zM349.0 1410.5a4.0 4.0 0 1 0 8.0 0a4.0 4.0 0 1 0 -8.0 0zM401.6 1449.9a4.0 4.0 0 1 0 8.0 0a4.0 4.0 0 1 0 -8.0 0zM339.2 1480.4a4.0 4.0 0 1 0 8.0 0a4.0 4.0 0 1 0 -8.0 0zM397.5 1468.7a4.0 4.0 0 1 0 8.0 0a4.0 4.0 0 1 0 -8.0 0zM303.1 1437.9a4.0 4.0 0 1 0 8.0 0a4.0 4.0 0 1 0 -8.0 0zM365.2 1474.3a4.0 4.0 0 1 0 8.0 0a4.0 4.0 0 1 0 -8.0 0zM361.9 1410.3a4.0 4.0 0 1 0 8.0 0a4.0 4.0 0 1 0 -8.0 0zM299.0 1459.8a4.0 4.0 0 1 0 8.0 0a4.0 4.0 0 1 0 -8.0 0zM375.2 1481.4a4.0 4.0 0 1 0 8.0 0a4.0 4.0 0 1 0 -8.0 0zM311.7 1461.0a4.0 4.0 0 1 0 8.0 0a4.0 4.0 0 1 0 -8.0 0zM407.3 1415.3a4.0 4.0 0 1 0 8.0 0a4.0 4.0 0 1 0 -8.0 0zM396.4 1467.8a4.0 4.0 0 1 0 8.0 0a4.0 4.0 0 1 0 -8.0 0zM340.5 1472.6a4.0 4.0 0 1 0 8.0 0a4.0 4.0 0 1 0 -8.0 0zM299.9 1422.4a4.0 4.0 0 1 0 8.0 0a4.0 4.0 0 1 0 -8.0 0zM311.0 1419.7a4.0 4.0 0 1 0 8.0 0a4.0 4.0 0 1 0 -8.0 0zM413.7 1424.4a4.0 4.0 0 1 0 8.0 0a4.0 4.0 0 1 0 -8.0 0zM305.0 1471.0a4.0 4.0 0 1 0 8.0 0a4.0 4.0 0 1 0 -8.0 0zM307.3 1455.1a4.0 4.0 0 1 0 8.0 0a4.0 4.0 0 1 0 -8.0 0zM307.6 1427.5a4.0 4.0 0 1 0 8.0 0a4.0 4.0 0 1 0 -8.0 0zM384.7 1419.1a4.0 4.0 0 1 0 8.0 0a4.0 4.0 0 1 0 -8.0 0zM314.8 1447.5a4.0 4.0 0 1 0 8.0 0a4.0 4.0 0 1 0 -8.0 0zM316.3 1428.9a4.0 4.0 0 1 0 8.0 0a4.0 4.0 0 1 0 -8.0 0zM293.8 1431.8a4.0 4.0 0 1 0 8.0 0a4.0 4.0 0 1 0 -8.0 0zM298.0 1464.1a4.0 4.0 0 1 0 8.0 0a4.0 4.0 0 1 0 -8.0 0zM409.5 1467.3a4.0 4.0 0 1 0 8.0 0a4.0 4.0 0 1 0 -8.0 0zM346.2 1478.1a4.0 4.0 0 1 0 8.0 0a4.0 4.0 0 1 0 -8.0 0zM408.9 1472.6a4.0 4.0 0 1 0 8.0 0a4.0 4.0 0 1 0 -8.0 0zM407.9 1472.2a4.0 4.0 0 1 0 8.0 0a4.0 4.0 0 1 0 -8.0 0zM300.3 1412.4a4.0 4.0 0 1 0 8.0 0a4.0 4.0 0 1 0 -8.0 0zM322.4 1479.4a4.0 4.0 0 1 0 8.0 0a4.0 4.0 0 1 0 -8.0 0zM297.5 1421.4a4.0 4.0 0 1 0 8.0 0a4.0 4.0 0 1 0 -8.0 0zM317.2 1412.6a4.0 4.0 0 1 0 8.0 0a4.0 4.0 0 1 0 -8.0 0zM296.1 1437.6a4.0 4.0 0 1 0 8.0 0a4.0 4.0 0 1 0 -8.0 0zM297.8 1424.8a4.0 4.0 0 1 0 8.0 0a4.0 4.0 0 1 0 -8.0 0zM299.6 1431.4a4.0 4.0 0 1 0 8.0 0a4.0 4.0 0 1 0 -8.0 0z"/>
<path fill="#999999" d="M144.2 1510.0a4.0 4.0 0 1 0 8.0 0a4.0 4.0 0 1 0 -8.0 0zM175.2 1474.4a4.0 4.0 0 1 0 8.0 0a4.0 4.0 0 1 0 -8.0 0zM205.0 1456.1a4.0 4.0 0 1 0 8.0 0a4.0 4.0 0 1 0 -8.0 0zM228.0 1448.8a4.0 4.0 0 1 0 8.0 0a4.0 4.0 0 1 0 -8.0 0zM218.6 1507.3a4.0 4.0 0 1 0 8.0 0a4.0 4.0 0 1 0 -8.0 0zM244.4 1471.2a4.0 4.0 0 1 0 8.0 0a4.0 4.0 0 1 0 -8.0 0zM245.8 1470.2a4.0 4.0 0 1 0 8.0 0a4.0 4.0 0 1 0 -8.0 0zM261.8 1466.0a4.0 4.0 0 1 0 8.0 0a4.0 4.0 0 1 0 -8.0 0zM263.6 1480.2a4.0 4.0 0 1 0 8.0 0a4.0 4.0 0 1 0 -8.0 0zM285.6 1502.2a4.0 4.0 0 1 0 8.0 0a4.0 4.0 0 1 0 -8.0 0zM291.5 1448.2a4.0 4.0 0 1 0 8.0 0a4.0 4.0 0 1 0 -8.0 0zM296.8 1454.0a4.0 4.0 0 1 0 8.0 0a4.0 4.0 0 1 0 -8.0 0zM291.1 1470.2a4.0 4.0 0 1 0 8.0 0a4.0 4.0 0 1 0 -8.0 0zM300.9 1462.9a4.0 4.0 0 1 0 8.0 0a4.0 4.0 0 1 0 -8.0 0zM302.0 1469.1a4.0 4.0 0 1 0 8.0 0a4.0 4.0 0 1 0 -8.0 0zM294.7 1416.8a4.0 4.0 0 1 0 8.0 0a4.0 4.0 0 1 0 -8.0 0zM309.3 1416.8a4.0 4.0 0 1 0 8.0 0a4.0 4.0 0 1 0 -8.0 0zM315.6 1487.0a4.0 4.0 0 1 0 8.0 0a4.0 4.0 0 1 0 -8.0 0zM315.6 1498.0a4.0 4.0 0 1 0 8.0 0a4.0 4.0 0 1 0 -8.0 0zM319.8 1498.0a4.0 4.0 0 1 0 8.0 0a4.0 4.0 0 1 0 -8.0 0zM309.3 1515.2a4.0 4.0 0 1 0 8.0 0a4.0 4.0 0 1 0 -8.0 0zM328.8 1509.6a4.0 4.0 0 1 0 8.0 0a4.0 4.0 0 1 0 -8.0 0zM330.9 1518.0a4.0 4.0 0 1 0 8.0 0a4.0 4.0 0 1 0 -8.0 0zM315.6 1536.6a4.0 4.0 0 1 0 8.0 0a4.0 4.0 0 1 0 -8.0 0zM317.7 1536.6a4.0 4.0 0 1 0 8.0 0a4.0 4.0 0 1 0 -8.0 0zM337.2 1495.5a4.0 4.0 0 1 0 8.0 0a4.0 4.0 0 1 0 -8.0 0zM355.0 1496.4a4.0 4.0 0 1 0 8.0 0a4.0 4.0 0 1 0 -8.0 0zM355.0 1498.5a4.0 4.0 0 1 0 8.0 0a4.0 4.0 0 1 0 -8.0 0zM364.8 1501.2a4.0 4.0 0 1 0 8.0 0a4.0 4.0 0 1 0 -8.0 0zM371.1 1499.5a4.0 4.0 0 1 0 8.0 0a4.0 4.0 0 1 0 -8.0 0zM357.5 1513.1a4.0 4.0 0 1 0 8.0 0a4.0 4.0 0 1 0 -8.0 0zM371.1 1519.0a4.0 4.0 0 1 0 8.0 0a4.0 4.0 0 1 0 -8.0 0zM372.2 1539.3a4.0 4.0 0 1 0 8.0 0a4.0 4.0 0 1 0 -8.0 0zM391.0 1503.7a4.0 4.0 0 1 0 8.0 0a4.0 4.0 0 1 0 -8.0 0zM401.5 1515.9a4.0 4.0 0 1 0 8.0 0a4.0 4.0 0 1 0 -8.0 0zM398.8 1526.3a4.0 4.0 0 1 0 8.0 0a4.0 4.0 0 1 0 -8.0 0zM406.7 1486.5a4.0 4.0 0 1 0 8.0 0a4.0 4.0 0 1 0 -8.0 0zM409.9 1453.0a4.0 4.0 0 1 0 8.0 0a4.0 4.0 0 1 0 -8.0 0zM410.5 1478.6a4.0 4.0 0 1 0 8.0 0a4.0 4.0 0 1 0 -8.0 0zM390.0 1492.2a4.0 4.0 0 1 0 8.0 0a4.0 4.0 0 1 0 -8.0 0zM396.3 1482.8a4.0 4.0 0 1 0 8.0 0a4.0 4.0 0 1 0 -8.0 0zM385.8 1483.4a4.0 4.0 0 1 0 8.0 0a4.0 4.0 0 1 0 -8.0 0zM353.3 1482.3a4.0 4.0 0 1 0 8.0 0a4.0 4.0 0 1 0 -8.0 0zM366.9 1478.6a4.0 4.0 0 1 0 8.0 0a4.0 4.0 0 1 0 -8.0 0zM337.6 1469.1a4.0 4.0 0 1 0 8.0 0a4.0 4.0 0 1 0 -8.0 0zM320.2 1473.3a4.0 4.0 0 1 0 8.0 0a4.0 4.0 0 1 0 -8.0 0zM339.7 1485.9a4.0 4.0 0 1 0 8.0 0a4.0 4.0 0 1 0 -8.0 0zM342.8 1490.1a4.0 4.0 0 1 0 8.0 0a4.0 4.0 0 1 0 -8.0 0zM410.2 1398.5a4.0 4.0 0 1 0 8.0 0a4.0 4.0 0 1 0 -8.0 0zM406.0 1367.7a4.0 4.0 0 1 0 8.0 0a4.0 4.0 0 1 0 -8.0 0zM294.5 1418.0a4.0 4.0 0 1 0 8.0 0a4.0 4.0 0 1 0 -8.0 0zM308.5 1418.5a4.0 4.0 0 1 0 8.0 0a4.0 4.0 0 1 0 -8.0 0zM287.9 1399.5a4.0 4.0 0 1 0 8.0 0a4.0 4.0 0 1 0 -8.0 0zM405.2 1367.3a4.0 4.0 0 1 0 8.0 0a4.0 4.0 0 1 0 -8.0 0zM410.3 1398.0a4.0 4.0 0 1 0 8.0 0a4.0 4.0 0 1 0 -8.0 0zM394.9 1393.7a4.0 4.0 0 1 0 8.0 0a4.0 4.0 0 1 0 -8.0 0zM410.2 1398.6a4.0 4.0 0 1 0 8.0 0a4.0 4.0 0 1 0 -8.0 0zM413.1 1417.1a4.0 4.0 0 1 0 8.0 0a4.0 4.0 0 1 0 -8.0 0z"/>
<polygon points="313.0,1404.0 315.0,1388.0 321.0,1378.0 330.0,1371.0 345.0,1368.0 360.0,1368.0 372.0,1370.0 384.0,1380.0 394.0,1393.0 401.0,1404.0" fill="#009EE2"/>
<path fill="#009EE2" d="M361.7 1368.9a4.0 4.0 0 1 0 8.0 0a4.0 4.0 0 1 0 -8.0 0zM315.3 1375.3a4.0 4.0 0 1 0 8.0 0a4.0 4.0 0 1 0 -8.0 0zM385.4 1385.0a4.0 4.0 0 1 0 8.0 0a4.0 4.0 0 1 0 -8.0 0zM310.2 1404.4a4.0 4.0 0 1 0 8.0 0a4.0 4.0 0 1 0 -8.0 0zM310.8 1405.4a4.0 4.0 0 1 0 8.0 0a4.0 4.0 0 1 0 -8.0 0zM349.2 1372.2a4.0 4.0 0 1 0 8.0 0a4.0 4.0 0 1 0 -8.0 0zM381.7 1376.9a4.0 4.0 0 1 0 8.0 0a4.0 4.0 0 1 0 -8.0 0zM364.7 1371.2a4.0 4.0 0 1 0 8.0 0a4.0 4.0 0 1 0 -8.0 0zM386.3 1390.4a4.0 4.0 0 1 0 8.0 0a4.0 4.0 0 1 0 -8.0 0zM312.9 1389.5a4.0 4.0 0 1 0 8.0 0a4.0 4.0 0 1 0 -8.0 0zM375.3 1372.5a4.0 4.0 0 1 0 8.0 0a4.0 4.0 0 1 0 -8.0 0zM385.2 1393.4a4.0 4.0 0 1 0 8.0 0a4.0 4.0 0 1 0 -8.0 0zM373.0 1373.8a4.0 4.0 0 1 0 8.0 0a4.0 4.0 0 1 0 -8.0 0zM351.9 1367.1a4.0 4.0 0 1 0 8.0 0a4.0 4.0 0 1 0 -8.0 0zM315.7 1380.9a4.0 4.0 0 1 0 8.0 0a4.0 4.0 0 1 0 -8.0 0zM318.4 1380.7a4.0 4.0 0 1 0 8.0 0a4.0 4.0 0 1 0 -8.0 0zM356.7 1370.8a4.0 4.0 0 1 0 8.0 0a4.0 4.0 0 1 0 -8.0 0zM314.2 1388.9a4.0 4.0 0 1 0 8.0 0a4.0 4.0 0 1 0 -8.0 0zM358.6 1367.4a4.0 4.0 0 1 0 8.0 0a4.0 4.0 0 1 0 -8.0 0zM370.6 1373.5a4.0 4.0 0 1 0 8.0 0a4.0 4.0 0 1 0 -8.0 0zM386.7 1388.9a4.0 4.0 0 1 0 8.0 0a4.0 4.0 0 1 0 -8.0 0zM367.3 1364.8a4.0 4.0 0 1 0 8.0 0a4.0 4.0 0 1 0 -8.0 0zM318.8 1380.1a4.0 4.0 0 1 0 8.0 0a4.0 4.0 0 1 0 -8.0 0zM320.9 1383.8a4.0 4.0 0 1 0 8.0 0a4.0 4.0 0 1 0 -8.0 0zM379.6 1386.2a4.0 4.0 0 1 0 8.0 0a4.0 4.0 0 1 0 -8.0 0zM334.7 1368.1a4.0 4.0 0 1 0 8.0 0a4.0 4.0 0 1 0 -8.0 0zM318.9 1380.7a4.0 4.0 0 1 0 8.0 0a4.0 4.0 0 1 0 -8.0 0zM312.7 1373.3a4.0 4.0 0 1 0 8.0 0a4.0 4.0 0 1 0 -8.0 0zM334.2 1380.7a4.0 4.0 0 1 0 8.0 0a4.0 4.0 0 1 0 -8.0 0zM345.3 1368.5a4.0 4.0 0 1 0 8.0 0a4.0 4.0 0 1 0 -8.0 0zM306.6 1387.6a4.0 4.0 0 1 0 8.0 0a4.0 4.0 0 1 0 -8.0 0zM337.5 1370.5a4.0 4.0 0 1 0 8.0 0a4.0 4.0 0 1 0 -8.0 0zM381.4 1391.1a4.0 4.0 0 1 0 8.0 0a4.0 4.0 0 1 0 -8.0 0zM385.4 1380.8a4.0 4.0 0 1 0 8.0 0a4.0 4.0 0 1 0 -8.0 0zM361.4 1368.7a4.0 4.0 0 1 0 8.0 0a4.0 4.0 0 1 0 -8.0 0zM361.9 1370.8a4.0 4.0 0 1 0 8.0 0a4.0 4.0 0 1 0 -8.0 0zM344.4 1366.7a4.0 4.0 0 1 0 8.0 0a4.0 4.0 0 1 0 -8.0 0zM316.7 1376.7a4.0 4.0 0 1 0 8.0 0a4.0 4.0 0 1 0 -8.0 0zM385.8 1383.2a4.0 4.0 0 1 0 8.0 0a4.0 4.0 0 1 0 -8.0 0zM357.7 1367.4a4.0 4.0 0 1 0 8.0 0a4.0 4.0 0 1 0 -8.0 0zM366.5 1371.9a4.0 4.0 0 1 0 8.0 0a4.0 4.0 0 1 0 -8.0 0zM349.6 1368.0a4.0 4.0 0 1 0 8.0 0a4.0 4.0 0 1 0 -8.0 0zM315.2 1399.0a4.0 4.0 0 1 0 8.0 0a4.0 4.0 0 1 0 -8.0 0zM377.5 1379.3a4.0 4.0 0 1 0 8.0 0a4.0 4.0 0 1 0 -8.0 0zM382.8 1381.6a4.0 4.0 0 1 0 8.0 0a4.0 4.0 0 1 0 -8.0 0zM346.7 1370.3a4.0 4.0 0 1 0 8.0 0a4.0 4.0 0 1 0 -8.0 0zM374.7 1376.1a4.0 4.0 0 1 0 8.0 0a4.0 4.0 0 1 0 -8.0 0zM348.4 1374.5a4.0 4.0 0 1 0 8.0 0a4.0 4.0 0 1 0 -8.0 0zM335.7 1373.1a4.0 4.0 0 1 0 8.0 0a4.0 4.0 0 1 0 -8.0 0zM369.9 1373.5a4.0 4.0 0 1 0 8.0 0a4.0 4.0 0 1 0 -8.0 0z"/>
<path fill="#009EE2" d="M335.6 1322.1a4.0 4.0 0 1 0 8.0 0a4.0 4.0 0 1 0 -8.0 0zM353.5 1338.8a4.0 4.0 0 1 0 8.0 0a4.0 4.0 0 1 0 -8.0 0zM372.1 1359.8a4.0 4.0 0 1 0 8.0 0a4.0 4.0 0 1 0 -8.0 0zM377.2 1369.1a4.0 4.0 0 1 0 8.0 0a4.0 4.0 0 1 0 -8.0 0zM364.1 1364.7a4.0 4.0 0 1 0 8.0 0a4.0 4.0 0 1 0 -8.0 0zM302.2 1382.5a4.0 4.0 0 1 0 8.0 0a4.0 4.0 0 1 0 -8.0 0zM299.4 1391.5a4.0 4.0 0 1 0 8.0 0a4.0 4.0 0 1 0 -8.0 0zM309.0 1370.0a4.0 4.0 0 1 0 8.0 0a4.0 4.0 0 1 0 -8.0 0zM308.9 1396.5a4.0 4.0 0 1 0 8.0 0a4.0 4.0 0 1 0 -8.0 0zM360.5 1363.3a4.0 4.0 0 1 0 8.0 0a4.0 4.0 0 1 0 -8.0 0zM311.2 1369.8a4.0 4.0 0 1 0 8.0 0a4.0 4.0 0 1 0 -8.0 0zM347.3 1340.0a4.0 4.0 0 1 0 8.0 0a4.0 4.0 0 1 0 -8.0 0zM364.1 1332.1a4.0 4.0 0 1 0 8.0 0a4.0 4.0 0 1 0 -8.0 0zM300.1 1391.0a4.0 4.0 0 1 0 8.0 0a4.0 4.0 0 1 0 -8.0 0zM387.0 1378.9a4.0 4.0 0 1 0 8.0 0a4.0 4.0 0 1 0 -8.0 0zM307.4 1369.0a4.0 4.0 0 1 0 8.0 0a4.0 4.0 0 1 0 -8.0 0zM309.3 1393.9a4.0 4.0 0 1 0 8.0 0a4.0 4.0 0 1 0 -8.0 0zM359.3 1342.6a4.0 4.0 0 1 0 8.0 0a4.0 4.0 0 1 0 -8.0 0zM321.1 1344.7a4.0 4.0 0 1 0 8.0 0a4.0 4.0 0 1 0 -8.0 0zM372.3 1371.1a4.0 4.0 0 1 0 8.0 0a4.0 4.0 0 1 0 -8.0 0zM338.7 1346.1a4.0 4.0 0 1 0 8.0 0a4.0 4.0 0 1 0 -8.0 0zM318.0 1371.8a4.0 4.0 0 1 0 8.0 0a4.0 4.0 0 1 0 -8.0 0zM365.3 1304.0a4.0 4.0 0 1 0 8.0 0a4.0 4.0 0 1 0 -8.0 0zM320.7 1358.8a4.0 4.0 0 1 0 8.0 0a4.0 4.0 0 1 0 -8.0 0zM319.8 1370.7a4.0 4.0 0 1 0 8.0 0a4.0 4.0 0 1 0 -8.0 0zM308.3 1405.7a4.0 4.0 0 1 0 8.0 0a4.0 4.0 0 1 0 -8.0 0zM353.5 1351.3a4.0 4.0 0 1 0 8.0 0a4.0 4.0 0 1 0 -8.0 0zM362.4 1352.9a4.0 4.0 0 1 0 8.0 0a4.0 4.0 0 1 0 -8.0 0zM363.6 1316.3a4.0 4.0 0 1 0 8.0 0a4.0 4.0 0 1 0 -8.0 0zM357.9 1335.4a4.0 4.0 0 1 0 8.0 0a4.0 4.0 0 1 0 -8.0 0zM357.1 1330.1a4.0 4.0 0 1 0 8.0 0a4.0 4.0 0 1 0 -8.0 0zM378.9 1372.4a4.0 4.0 0 1 0 8.0 0a4.0 4.0 0 1 0 -8.0 0zM320.9 1351.5a4.0 4.0 0 1 0 8.0 0a4.0 4.0 0 1 0 -8.0 0zM357.8 1322.4a4.0 4.0 0 1 0 8.0 0a4.0 4.0 0 1 0 -8.0 0zM315.0 1348.7a4.0 4.0 0 1 0 8.0 0a4.0 4.0 0 1 0 -8.0 0zM301.6 1387.0a4.0 4.0 0 1 0 8.0 0a4.0 4.0 0 1 0 -8.0 0zM298.8 1379.8a4.0 4.0 0 1 0 8.0 0a4.0 4.0 0 1 0 -8.0 0zM329.5 1337.0a4.0 4.0 0 1 0 8.0 0a4.0 4.0 0 1 0 -8.0 0zM349.4 1313.2a4.0 4.0 0 1 0 8.0 0a4.0 4.0 0 1 0 -8.0 0zM364.1 1354.9a4.0 4.0 0 1 0 8.0 0a4.0 4.0 0 1 0 -8.0 0zM298.8 1386.8a4.0 4.0 0 1 0 8.0 0a4.0 4.0 0 1 0 -8.0 0zM375.7 1376.2a4.0 4.0 0 1 0 8.0 0a4.0 4.0 0 1 0 -8.0 0zM336.1 1317.3a4.0 4.0 0 1 0 8.0 0a4.0 4.0 0 1 0 -8.0 0zM350.8 1360.9a4.0 4.0 0 1 0 8.0 0a4.0 4.0 0 1 0 -8.0 0zM367.7 1350.4a4.0 4.0 0 1 0 8.0 0a4.0 4.0 0 1 0 -8.0 0zM302.9 1388.0a4.0 4.0 0 1 0 8.0 0a4.0 4.0 0 1 0 -8.0 0zM374.3 1337.6a4.0 4.0 0 1 0 8.0 0a4.0 4.0 0 1 0 -8.0 0zM334.5 1335.2a4.0 4.0 0 1 0 8.0 0a4.0 4.0 0 1 0 -8.0 0zM384.4 1382.0a4.0 4.0 0 1 0 8.0 0a4.0 4.0 0 1 0 -8.0 0zM332.0 1315.3a4.0 4.0 0 1 0 8.0 0a4.0 4.0 0 1 0 -8.0 0zM346.3 1324.5a4.0 4.0 0 1 0 8.0 0a4.0 4.0 0 1 0 -8.0 0zM367.3 1355.0a4.0 4.0 0 1 0 8.0 0a4.0 4.0 0 1 0 -8.0 0zM380.5 1379.1a4.0 4.0 0 1 0 8.0 0a4.0 4.0 0 1 0 -8.0 0zM350.3 1318.1a4.0 4.0 0 1 0 8.0 0a4.0 4.0 0 1 0 -8.0 0zM365.2 1327.7a4.0 4.0 0 1 0 8.0 0a4.0 4.0 0 1 0 -8.0 0zM383.9 1405.4a4.0 4.0 0 1 0 8.0 0a4.0 4.0 0 1 0 -8.0 0zM327.8 1341.1a4.0 4.0 0 1 0 8.0 0a4.0 4.0 0 1 0 -8.0 0zM326.8 1337.3a4.0 4.0 0 1 0 8.0 0a4.0 4.0 0 1 0 -8.0 0zM314.0 1342.9a4.0 4.0 0 1 0 8.0 0a4.0 4.0 0 1 0 -8.0 0zM305.2 1358.7a4.0 4.0 0 1 0 8.0 0a4.0 4.0 0 1 0 -8.0 0zM360.7 1404.0a4.0 4.0 0 1 0 8.0 0a4.0 4.0 0 1 0 -8.0 0zM371.8 1366.1a4.0 4.0 0 1 0 8.0 0a4.0 4.0 0 1 0 -8.0 0zM343.6 1306.0a4.0 4.0 0 1 0 8.0 0a4.0 4.0 0 1 0 -8.0 0zM379.7 1372.1a4.0 4.0 0 1 0 8.0 0a4.0 4.0 0 1 0 -8.0 0zM297.7 1400.3a4.0 4.0 0 1 0 8.0 0a4.0 4.0 0 1 0 -8.0 0zM355.0 1346.3a4.0 4.0 0 1 0 8.0 0a4.0 4.0 0 1 0 -8.0 0zM340.8 1326.5a4.0 4.0 0 1 0 8.0 0a4.0 4.0 0 1 0 -8.0 0zM360.2 1306.4a4.0 4.0 0 1 0 8.0 0a4.0 4.0 0 1 0 -8.0 0zM392.0 1395.5a4.0 4.0 0 1 0 8.0 0a4.0 4.0 0 1 0 -8.0 0zM336.0 1348.3a4.0 4.0 0 1 0 8.0 0a4.0 4.0 0 1 0 -8.0 0zM391.6 1394.9a4.0 4.0 0 1 0 8.0 0a4.0 4.0 0 1 0 -8.0 0zM350.1 1352.7a4.0 4.0 0 1 0 8.0 0a4.0 4.0 0 1 0 -8.0 0zM367.5 1328.5a4.0 4.0 0 1 0 8.0 0a4.0 4.0 0 1 0 -8.0 0zM315.1 1404.4a4.0 4.0 0 1 0 8.0 0a4.0 4.0 0 1 0 -8.0 0zM324.0 1326.4a4.0 4.0 0 1 0 8.0 0a4.0 4.0 0 1 0 -8.0 0zM347.2 1306.6a4.0 4.0 0 1 0 8.0 0a4.0 4.0 0 1 0 -8.0 0zM350.5 1314.5a4.0 4.0 0 1 0 8.0 0a4.0 4.0 0 1 0 -8.0 0zM332.5 1297.8a4.0 4.0 0 1 0 8.0 0a4.0 4.0 0 1 0 -8.0 0zM347.4 1305.9a4.0 4.0 0 1 0 8.0 0a4.0 4.0 0 1 0 -8.0 0zM377.3 1367.6a4.0 4.0 0 1 0 8.0 0a4.0 4.0 0 1 0 -8.0 0zM305.4 1404.5a4.0 4.0 0 1 0 8.0 0a4.0 4.0 0 1 0 -8.0 0zM315.4 1346.9a4.0 4.0 0 1 0 8.0 0a4.0 4.0 0 1 0 -8.0 0zM352.4 1324.5a4.0 4.0 0 1 0 8.0 0a4.0 4.0 0 1 0 -8.0 0zM349.0 1342.3a4.0 4.0 0 1 0 8.0 0a4.0 4.0 0 1 0 -8.0 0zM332.4 1349.3a4.0 4.0 0 1 0 8.0 0a4.0 4.0 0 1 0 -8.0 0zM332.0 1339.1a4.0 4.0 0 1 0 8.0 0a4.0 4.0 0 1 0 -8.0 0zM326.1 1348.8a4.0 4.0 0 1 0 8.0 0a4.0 4.0 0 1 0 -8.0 0zM320.0 1334.7a4.0 4.0 0 1 0 8.0 0a4.0 4.0 0 1 0 -8.0 0zM323.1 1323.1a4.0 4.0 0 1 0 8.0 0a4.0 4.0 0 1 0 -8.0 0zM365.7 1361.6a4.0 4.0 0 1 0 8.0 0a4.0 4.0 0 1 0 -8.0 0zM348.4 1322.0a4.0 4.0 0 1 0 8.0 0a4.0 4.0 0 1 0 -8.0 0zM338.2 1311.2a4.0 4.0 0 1 0 8.0 0a4.0 4.0 0 1 0 -8.0 0zM341.9 1323.9a4.0 4.0 0 1 0 8.0 0a4.0 4.0 0 1 0 -8.0 0zM326.2 1340.2a4.0 4.0 0 1 0 8.0 0a4.0 4.0 0 1 0 -8.0 0zM315.3 1371.2a4.0 4.0 0 1 0 8.0 0a4.0 4.0 0 1 0 -8.0 0zM361.6 1300.7a4.0 4.0 0 1 0 8.0 0a4.0 4.0 0 1 0 -8.0 0zM337.8 1303.2a4.0 4.0 0 1 0 8.0 0a4.0 4.0 0 1 0 -8.0 0zM344.9 1356.0a4.0 4.0 0 1 0 8.0 0a4.0 4.0 0 1 0 -8.0 0zM344.8 1342.9a4.0 4.0 0 1 0 8.0 0a4.0 4.0 0 1 0 -8.0 0zM342.2 1345.7a4.0 4.0 0 1 0 8.0 0a4.0 4.0 0 1 0 -8.0 0zM376.1 1323.0a4.0 4.0 0 1 0 8.0 0a4.0 4.0 0 1 0 -8.0 0zM379.2 1369.1a4.0 4.0 0 1 0 8.0 0a4.0 4.0 0 1 0 -8.0 0zM360.5 1300.5a4.0 4.0 0 1 0 8.0 0a4.0 4.0 0 1 0 -8.0 0zM333.8 1347.4a4.0 4.0 0 1 0 8.0 0a4.0 4.0 0 1 0 -8.0 0zM331.0 1324.3a4.0 4.0 0 1 0 8.0 0a4.0 4.0 0 1 0 -8.0 0zM334.6 1321.8a4.0 4.0 0 1 0 8.0 0a4.0 4.0 0 1 0 -8.0 0zM369.4 1347.0a4.0 4.0 0 1 0 8.0 0a4.0 4.0 0 1 0 -8.0 0zM371.3 1366.5a4.0 4.0 0 1 0 8.0 0a4.0 4.0 0 1 0 -8.0 0zM337.2 1355.2a4.0 4.0 0 1 0 8.0 0a4.0 4.0 0 1 0 -8.0 0zM306.9 1365.3a4.0 4.0 0 1 0 8.0 0a4.0 4.0 0 1 0 -8.0 0zM309.7 1370.0a4.0 4.0 0 1 0 8.0 0a4.0 4.0 0 1 0 -8.0 0zM315.2 1374.6a4.0 4.0 0 1 0 8.0 0a4.0 4.0 0 1 0 -8.0 0zM394.1 1404.4a4.0 4.0 0 1 0 8.0 0a4.0 4.0 0 1 0 -8.0 0zM304.1 1400.8a4.0 4.0 0 1 0 8.0 0a4.0 4.0 0 1 0 -8.0 0zM320.5 1345.5a4.0 4.0 0 1 0 8.0 0a4.0 4.0 0 1 0 -8.0 0zM345.4 1362.0a4.0 4.0 0 1 0 8.0 0a4.0 4.0 0 1 0 -8.0 0zM330.9 1325.5a4.0 4.0 0 1 0 8.0 0a4.0 4.0 0 1 0 -8.0 0zM298.2 1396.9a4.0 4.0 0 1 0 8.0 0a4.0 4.0 0 1 0 -8.0 0zM368.7 1325.8a4.0 4.0 0 1 0 8.0 0a4.0 4.0 0 1 0 -8.0 0zM374.7 1372.2a4.0 4.0 0 1 0 8.0 0a4.0 4.0 0 1 0 -8.0 0zM362.5 1346.3a4.0 4.0 0 1 0 8.0 0a4.0 4.0 0 1 0 -8.0 0zM342.5 1367.2a4.0 4.0 0 1 0 8.0 0a4.0 4.0 0 1 0 -8.0 0zM346.1 1304.4a4.0 4.0 0 1 0 8.0 0a4.0 4.0 0 1 0 -8.0 0zM366.3 1320.4a4.0 4.0 0 1 0 8.0 0a4.0 4.0 0 1 0 -8.0 0zM374.5 1367.1a4.0 4.0 0 1 0 8.0 0a4.0 4.0 0 1 0 -8.0 0zM325.8 1353.9a4.0 4.0 0 1 0 8.0 0a4.0 4.0 0 1 0 -8.0 0zM339.1 1308.9a4.0 4.0 0 1 0 8.0 0a4.0 4.0 0 1 0 -8.0 0zM384.5 1363.7a4.0 4.0 0 1 0 8.0 0a4.0 4.0 0 1 0 -8.0 0zM357.0 1298.5a4.0 4.0 0 1 0 8.0 0a4.0 4.0 0 1 0 -8.0 0zM332.5 1404.9a4.0 4.0 0 1 0 8.0 0a4.0 4.0 0 1 0 -8.0 0zM322.9 1372.1a4.0 4.0 0 1 0 8.0 0a4.0 4.0 0 1 0 -8.0 0zM372.4 1332.3a4.0 4.0 0 1 0 8.0 0a4.0 4.0 0 1 0 -8.0 0zM371.4 1333.5a4.0 4.0 0 1 0 8.0 0a4.0 4.0 0 1 0 -8.0 0zM383.0 1383.8a4.0 4.0 0 1 0 8.0 0a4.0 4.0 0 1 0 -8.0 0zM318.4 1404.5a4.0 4.0 0 1 0 8.0 0a4.0 4.0 0 1 0 -8.0 0zM358.8 1328.7a4.0 4.0 0 1 0 8.0 0a4.0 4.0 0 1 0 -8.0 0zM362.1 1342.3a4.0 4.0 0 1 0 8.0 0a4.0 4.0 0 1 0 -8.0 0zM367.8 1357.5a4.0 4.0 0 1 0 8.0 0a4.0 4.0 0 1 0 -8.0 0zM337.7 1356.7a4.0 4.0 0 1 0 8.0 0a4.0 4.0 0 1 0 -8.0 0zM306.9 1367.2a4.0 4.0 0 1 0 8.0 0a4.0 4.0 0 1 0 -8.0 0zM304.3 1400.8a4.0 4.0 0 1 0 8.0 0a4.0 4.0 0 1 0 -8.0 0zM364.9 1348.6a4.0 4.0 0 1 0 8.0 0a4.0 4.0 0 1 0 -8.0 0zM307.2 1359.9a4.0 4.0 0 1 0 8.0 0a4.0 4.0 0 1 0 -8.0 0zM353.1 1312.7a4.0 4.0 0 1 0 8.0 0a4.0 4.0 0 1 0 -8.0 0zM368.9 1360.1a4.0 4.0 0 1 0 8.0 0a4.0 4.0 0 1 0 -8.0 0zM373.2 1360.9a4.0 4.0 0 1 0 8.0 0a4.0 4.0 0 1 0 -8.0 0zM322.1 1340.4a4.0 4.0 0 1 0 8.0 0a4.0 4.0 0 1 0 -8.0 0zM344.1 1360.7a4.0 4.0 0 1 0 8.0 0a4.0 4.0 0 1 0 -8.0 0zM319.3 1327.1a4.0 4.0 0 1 0 8.0 0a4.0 4.0 0 1 0 -8.0 0zM367.7 1339.8a4.0 4.0 0 1 0 8.0 0a4.0 4.0 0 1 0 -8.0 0z"/>
<path fill="#009EE2" d="M418.7 1065.9a4.0 4.0 0 1 0 8.0 0a4.0 4.0 0 1 0 -8.0 0zM408.7 1172.9a4.0 4.0 0 1 0 8.0 0a4.0 4.0 0 1 0 -8.0 0zM410.5 1246.0a4.0 4.0 0 1 0 8.0 0a4.0 4.0 0 1 0 -8.0 0zM406.0 1238.8a4.0 4.0 0 1 0 8.0 0a4.0 4.0 0 1 0 -8.0 0zM416.9 1305.0a4.0 4.0 0 1 0 8.0 0a4.0 4.0 0 1 0 -8.0 0zM407.8 1328.6a4.0 4.0 0 1 0 8.0 0a4.0 4.0 0 1 0 -8.0 0zM416.9 1342.6a4.0 4.0 0 1 0 8.0 0a4.0 4.0 0 1 0 -8.0 0zM418.3 1350.8a4.0 4.0 0 1 0 8.0 0a4.0 4.0 0 1 0 -8.0 0zM411.4 1390.4a4.0 4.0 0 1 0 8.0 0a4.0 4.0 0 1 0 -8.0 0zM377.3 1155.4a4.0 4.0 0 1 0 8.0 0a4.0 4.0 0 1 0 -8.0 0zM393.2 1159.8a4.0 4.0 0 1 0 8.0 0a4.0 4.0 0 1 0 -8.0 0zM408.5 1173.0a4.0 4.0 0 1 0 8.0 0a4.0 4.0 0 1 0 -8.0 0zM384.4 1182.1a4.0 4.0 0 1 0 8.0 0a4.0 4.0 0 1 0 -8.0 0zM340.7 1206.4a4.0 4.0 0 1 0 8.0 0a4.0 4.0 0 1 0 -8.0 0zM345.1 1217.7a4.0 4.0 0 1 0 8.0 0a4.0 4.0 0 1 0 -8.0 0zM343.3 1222.6a4.0 4.0 0 1 0 8.0 0a4.0 4.0 0 1 0 -8.0 0zM316.0 1220.2a4.0 4.0 0 1 0 8.0 0a4.0 4.0 0 1 0 -8.0 0zM318.2 1230.2a4.0 4.0 0 1 0 8.0 0a4.0 4.0 0 1 0 -8.0 0zM300.8 1245.9a4.0 4.0 0 1 0 8.0 0a4.0 4.0 0 1 0 -8.0 0zM300.6 1254.4a4.0 4.0 0 1 0 8.0 0a4.0 4.0 0 1 0 -8.0 0zM321.6 1248.2a4.0 4.0 0 1 0 8.0 0a4.0 4.0 0 1 0 -8.0 0zM347.2 1248.2a4.0 4.0 0 1 0 8.0 0a4.0 4.0 0 1 0 -8.0 0zM349.5 1249.3a4.0 4.0 0 1 0 8.0 0a4.0 4.0 0 1 0 -8.0 0zM355.6 1246.3a4.0 4.0 0 1 0 8.0 0a4.0 4.0 0 1 0 -8.0 0zM356.8 1252.2a4.0 4.0 0 1 0 8.0 0a4.0 4.0 0 1 0 -8.0 0zM353.8 1251.5a4.0 4.0 0 1 0 8.0 0a4.0 4.0 0 1 0 -8.0 0zM385.1 1230.9a4.0 4.0 0 1 0 8.0 0a4.0 4.0 0 1 0 -8.0 0zM392.4 1232.0a4.0 4.0 0 1 0 8.0 0a4.0 4.0 0 1 0 -8.0 0zM403.7 1239.3a4.0 4.0 0 1 0 8.0 0a4.0 4.0 0 1 0 -8.0 0zM410.3 1246.0a4.0 4.0 0 1 0 8.0 0a4.0 4.0 0 1 0 -8.0 0zM337.7 1268.3a4.0 4.0 0 1 0 8.0 0a4.0 4.0 0 1 0 -8.0 0zM372.9 1265.7a4.0 4.0 0 1 0 8.0 0a4.0 4.0 0 1 0 -8.0 0zM377.0 1265.7a4.0 4.0 0 1 0 8.0 0a4.0 4.0 0 1 0 -8.0 0zM386.8 1268.3a4.0 4.0 0 1 0 8.0 0a4.0 4.0 0 1 0 -8.0 0zM359.0 1273.7a4.0 4.0 0 1 0 8.0 0a4.0 4.0 0 1 0 -8.0 0zM357.5 1272.7a4.0 4.0 0 1 0 8.0 0a4.0 4.0 0 1 0 -8.0 0zM349.5 1279.0a4.0 4.0 0 1 0 8.0 0a4.0 4.0 0 1 0 -8.0 0zM353.1 1279.3a4.0 4.0 0 1 0 8.0 0a4.0 4.0 0 1 0 -8.0 0zM335.5 1280.8a4.0 4.0 0 1 0 8.0 0a4.0 4.0 0 1 0 -8.0 0zM335.5 1283.0a4.0 4.0 0 1 0 8.0 0a4.0 4.0 0 1 0 -8.0 0zM396.4 1276.1a4.0 4.0 0 1 0 8.0 0a4.0 4.0 0 1 0 -8.0 0zM403.0 1274.9a4.0 4.0 0 1 0 8.0 0a4.0 4.0 0 1 0 -8.0 0zM325.3 1299.1a4.0 4.0 0 1 0 8.0 0a4.0 4.0 0 1 0 -8.0 0zM334.8 1297.6a4.0 4.0 0 1 0 8.0 0a4.0 4.0 0 1 0 -8.0 0zM345.0 1296.2a4.0 4.0 0 1 0 8.0 0a4.0 4.0 0 1 0 -8.0 0zM361.2 1297.6a4.0 4.0 0 1 0 8.0 0a4.0 4.0 0 1 0 -8.0 0zM374.4 1297.6a4.0 4.0 0 1 0 8.0 0a4.0 4.0 0 1 0 -8.0 0zM223.6 1347.9a4.0 4.0 0 1 0 8.0 0a4.0 4.0 0 1 0 -8.0 0zM243.4 1335.4a4.0 4.0 0 1 0 8.0 0a4.0 4.0 0 1 0 -8.0 0zM264.4 1354.4a4.0 4.0 0 1 0 8.0 0a4.0 4.0 0 1 0 -8.0 0zM276.1 1341.6a4.0 4.0 0 1 0 8.0 0a4.0 4.0 0 1 0 -8.0 0zM282.7 1346.0a4.0 4.0 0 1 0 8.0 0a4.0 4.0 0 1 0 -8.0 0zM298.1 1340.6a4.0 4.0 0 1 0 8.0 0a4.0 4.0 0 1 0 -8.0 0zM237.7 1383.7a4.0 4.0 0 1 0 8.0 0a4.0 4.0 0 1 0 -8.0 0zM260.0 1383.7a4.0 4.0 0 1 0 8.0 0a4.0 4.0 0 1 0 -8.0 0zM266.6 1398.3a4.0 4.0 0 1 0 8.0 0a4.0 4.0 0 1 0 -8.0 0zM277.3 1374.6a4.0 4.0 0 1 0 8.0 0a4.0 4.0 0 1 0 -8.0 0zM288.9 1376.3a4.0 4.0 0 1 0 8.0 0a4.0 4.0 0 1 0 -8.0 0zM289.3 1390.0a4.0 4.0 0 1 0 8.0 0a4.0 4.0 0 1 0 -8.0 0zM295.2 1382.7a4.0 4.0 0 1 0 8.0 0a4.0 4.0 0 1 0 -8.0 0zM303.3 1383.4a4.0 4.0 0 1 0 8.0 0a4.0 4.0 0 1 0 -8.0 0zM396.1 1307.9a4.0 4.0 0 1 0 8.0 0a4.0 4.0 0 1 0 -8.0 0zM416.9 1304.9a4.0 4.0 0 1 0 8.0 0a4.0 4.0 0 1 0 -8.0 0zM405.2 1325.5a4.0 4.0 0 1 0 8.0 0a4.0 4.0 0 1 0 -8.0 0zM408.1 1329.9a4.0 4.0 0 1 0 8.0 0a4.0 4.0 0 1 0 -8.0 0zM381.7 1335.0a4.0 4.0 0 1 0 8.0 0a4.0 4.0 0 1 0 -8.0 0zM416.9 1342.3a4.0 4.0 0 1 0 8.0 0a4.0 4.0 0 1 0 -8.0 0zM418.4 1351.1a4.0 4.0 0 1 0 8.0 0a4.0 4.0 0 1 0 -8.0 0zM411.8 1390.3a4.0 4.0 0 1 0 8.0 0a4.0 4.0 0 1 0 -8.0 0zM399.3 1401.0a4.0 4.0 0 1 0 8.0 0a4.0 4.0 0 1 0 -8.0 0zM393.4 1354.8a4.0 4.0 0 1 0 8.0 0a4.0 4.0 0 1 0 -8.0 0zM402.2 1365.1a4.0 4.0 0 1 0 8.0 0a4.0 4.0 0 1 0 -8.0 0zM403.7 1370.2a4.0 4.0 0 1 0 8.0 0a4.0 4.0 0 1 0 -8.0 0zM394.9 1378.3a4.0 4.0 0 1 0 8.0 0a4.0 4.0 0 1 0 -8.0 0zM411.6 1390.8a4.0 4.0 0 1 0 8.0 0a4.0 4.0 0 1 0 -8.0 0zM398.9 1401.3a4.0 4.0 0 1 0 8.0 0a4.0 4.0 0 1 0 -8.0 0z"/>
<path fill="#00C800" d="M533.1 1044.5a4.0 4.0 0 1 0 8.0 0a4.0 4.0 0 1 0 -8.0 0zM487.2 1052.7a4.0 4.0 0 1 0 8.0 0a4.0 4.0 0 1 0 -8.0 0zM540.7 1058.5a4.0 4.0 0 1 0 8.0 0a4.0 4.0 0 1 0 -8.0 0zM449.0 1077.7a4.0 4.0 0 1 0 8.0 0a4.0 4.0 0 1 0 -8.0 0zM486.1 1082.6a4.0 4.0 0 1 0 8.0 0a4.0 4.0 0 1 0 -8.0 0zM521.8 1127.1a4.0 4.0 0 1 0 8.0 0a4.0 4.0 0 1 0 -8.0 0zM563.8 1159.3a4.0 4.0 0 1 0 8.0 0a4.0 4.0 0 1 0 -8.0 0zM477.9 1182.1a4.0 4.0 0 1 0 8.0 0a4.0 4.0 0 1 0 -8.0 0zM444.5 1190.3a4.0 4.0 0 1 0 8.0 0a4.0 4.0 0 1 0 -8.0 0zM550.0 1182.5a4.0 4.0 0 1 0 8.0 0a4.0 4.0 0 1 0 -8.0 0zM554.3 1182.5a4.0 4.0 0 1 0 8.0 0a4.0 4.0 0 1 0 -8.0 0zM509.1 1190.3a4.0 4.0 0 1 0 8.0 0a4.0 4.0 0 1 0 -8.0 0zM512.6 1198.3a4.0 4.0 0 1 0 8.0 0a4.0 4.0 0 1 0 -8.0 0zM484.6 1197.4a4.0 4.0 0 1 0 8.0 0a4.0 4.0 0 1 0 -8.0 0zM536.7 1204.8a4.0 4.0 0 1 0 8.0 0a4.0 4.0 0 1 0 -8.0 0zM594.3 1188.8a4.0 4.0 0 1 0 8.0 0a4.0 4.0 0 1 0 -8.0 0zM564.3 1233.7a4.0 4.0 0 1 0 8.0 0a4.0 4.0 0 1 0 -8.0 0zM485.3 1251.8a4.0 4.0 0 1 0 8.0 0a4.0 4.0 0 1 0 -8.0 0zM461.4 1266.9a4.0 4.0 0 1 0 8.0 0a4.0 4.0 0 1 0 -8.0 0zM462.6 1274.7a4.0 4.0 0 1 0 8.0 0a4.0 4.0 0 1 0 -8.0 0zM585.2 1272.4a4.0 4.0 0 1 0 8.0 0a4.0 4.0 0 1 0 -8.0 0zM469.0 1285.6a4.0 4.0 0 1 0 8.0 0a4.0 4.0 0 1 0 -8.0 0zM494.4 1285.6a4.0 4.0 0 1 0 8.0 0a4.0 4.0 0 1 0 -8.0 0zM498.6 1282.9a4.0 4.0 0 1 0 8.0 0a4.0 4.0 0 1 0 -8.0 0zM512.2 1290.5a4.0 4.0 0 1 0 8.0 0a4.0 4.0 0 1 0 -8.0 0zM453.7 1299.0a4.0 4.0 0 1 0 8.0 0a4.0 4.0 0 1 0 -8.0 0zM438.3 1317.4a4.0 4.0 0 1 0 8.0 0a4.0 4.0 0 1 0 -8.0 0zM453.2 1318.8a4.0 4.0 0 1 0 8.0 0a4.0 4.0 0 1 0 -8.0 0zM465.9 1314.7a4.0 4.0 0 1 0 8.0 0a4.0 4.0 0 1 0 -8.0 0zM458.1 1330.8a4.0 4.0 0 1 0 8.0 0a4.0 4.0 0 1 0 -8.0 0zM465.9 1330.5a4.0 4.0 0 1 0 8.0 0a4.0 4.0 0 1 0 -8.0 0zM469.5 1330.8a4.0 4.0 0 1 0 8.0 0a4.0 4.0 0 1 0 -8.0 0zM481.0 1331.7a4.0 4.0 0 1 0 8.0 0a4.0 4.0 0 1 0 -8.0 0zM489.0 1339.0a4.0 4.0 0 1 0 8.0 0a4.0 4.0 0 1 0 -8.0 0zM504.4 1336.8a4.0 4.0 0 1 0 8.0 0a4.0 4.0 0 1 0 -8.0 0zM422.3 1336.4a4.0 4.0 0 1 0 8.0 0a4.0 4.0 0 1 0 -8.0 0zM454.1 1353.2a4.0 4.0 0 1 0 8.0 0a4.0 4.0 0 1 0 -8.0 0zM460.5 1356.2a4.0 4.0 0 1 0 8.0 0a4.0 4.0 0 1 0 -8.0 0zM638.9 1353.5a4.0 4.0 0 1 0 8.0 0a4.0 4.0 0 1 0 -8.0 0zM475.9 1369.9a4.0 4.0 0 1 0 8.0 0a4.0 4.0 0 1 0 -8.0 0zM467.4 1377.3a4.0 4.0 0 1 0 8.0 0a4.0 4.0 0 1 0 -8.0 0zM507.0 1389.5a4.0 4.0 0 1 0 8.0 0a4.0 4.0 0 1 0 -8.0 0z"/>
<path fill="#FFA500" d="M456.8 1373.1a4.0 4.0 0 1 0 8.0 0a4.0 4.0 0 1 0 -8.0 0zM447.0 1405.2a4.0 4.0 0 1 0 8.0 0a4.0 4.0 0 1 0 -8.0 0zM431.5 1413.5a4.0 4.0 0 1 0 8.0 0a4.0 4.0 0 1 0 -8.0 0zM462.3 1417.4a4.0 4.0 0 1 0 8.0 0a4.0 4.0 0 1 0 -8.0 0zM420.7 1425.5a4.0 4.0 0 1 0 8.0 0a4.0 4.0 0 1 0 -8.0 0zM420.0 1428.9a4.0 4.0 0 1 0 8.0 0a4.0 4.0 0 1 0 -8.0 0zM432.7 1427.9a4.0 4.0 0 1 0 8.0 0a4.0 4.0 0 1 0 -8.0 0zM433.6 1432.8a4.0 4.0 0 1 0 8.0 0a4.0 4.0 0 1 0 -8.0 0zM506.3 1428.9a4.0 4.0 0 1 0 8.0 0a4.0 4.0 0 1 0 -8.0 0zM448.5 1438.7a4.0 4.0 0 1 0 8.0 0a4.0 4.0 0 1 0 -8.0 0zM422.2 1440.3a4.0 4.0 0 1 0 8.0 0a4.0 4.0 0 1 0 -8.0 0zM430.9 1441.6a4.0 4.0 0 1 0 8.0 0a4.0 4.0 0 1 0 -8.0 0zM420.4 1448.4a4.0 4.0 0 1 0 8.0 0a4.0 4.0 0 1 0 -8.0 0zM426.6 1455.1a4.0 4.0 0 1 0 8.0 0a4.0 4.0 0 1 0 -8.0 0zM438.0 1455.6a4.0 4.0 0 1 0 8.0 0a4.0 4.0 0 1 0 -8.0 0zM454.2 1450.4a4.0 4.0 0 1 0 8.0 0a4.0 4.0 0 1 0 -8.0 0zM460.2 1447.7a4.0 4.0 0 1 0 8.0 0a4.0 4.0 0 1 0 -8.0 0zM467.4 1455.1a4.0 4.0 0 1 0 8.0 0a4.0 4.0 0 1 0 -8.0 0zM471.8 1451.4a4.0 4.0 0 1 0 8.0 0a4.0 4.0 0 1 0 -8.0 0zM481.0 1444.0a4.0 4.0 0 1 0 8.0 0a4.0 4.0 0 1 0 -8.0 0zM490.6 1439.8a4.0 4.0 0 1 0 8.0 0a4.0 4.0 0 1 0 -8.0 0zM425.6 1454.9a4.0 4.0 0 1 0 8.0 0a4.0 4.0 0 1 0 -8.0 0z"/>
<path fill="#999999" d="M317.0 1408.0a4.0 4.0 0 1 0 8.0 0a4.0 4.0 0 1 0 -8.0 0zM334.5 1409.0a4.0 4.0 0 1 0 8.0 0a4.0 4.0 0 1 0 -8.0 0zM345.5 1407.5a4.0 4.0 0 1 0 8.0 0a4.0 4.0 0 1 0 -8.0 0zM356.5 1408.0a4.0 4.0 0 1 0 8.0 0a4.0 4.0 0 1 0 -8.0 0zM367.3 1408.3a4.0 4.0 0 1 0 8.0 0a4.0 4.0 0 1 0 -8.0 0zM377.3 1407.5a4.0 4.0 0 1 0 8.0 0a4.0 4.0 0 1 0 -8.0 0zM390.0 1406.5a4.0 4.0 0 1 0 8.0 0a4.0 4.0 0 1 0 -8.0 0z"/>
<line x1="421.5" y1="1025" x2="421.5" y2="1561" stroke="#808080" stroke-width="3.9" stroke-dasharray="3.9 4"/>
<line x1="125.8" y1="1407.2" x2="668" y2="1407.2" stroke="#808080" stroke-width="3.9" stroke-dasharray="3.9 4"/>
<text x="687.6" y="988.2" font-size="56.5">e</text>
<defs>
<radialGradient id="sphB" cx="0.38" cy="0.32" r="0.75"><stop offset="0" stop-color="#A8D8FF"/><stop offset="0.35" stop-color="#5A8CC8"/><stop offset="0.8" stop-color="#2F5A90"/><stop offset="1" stop-color="#1E3A60"/></radialGradient>
<radialGradient id="sphY" cx="0.4" cy="0.3" r="0.75"><stop offset="0" stop-color="#FFFF70"/><stop offset="0.4" stop-color="#F5EA00"/><stop offset="0.85" stop-color="#D8C000"/><stop offset="1" stop-color="#B09A00"/></radialGradient>
<radialGradient id="sphG" cx="0.45" cy="0.3" r="0.75"><stop offset="0" stop-color="#70FFB0"/><stop offset="0.35" stop-color="#10B050"/><stop offset="0.85" stop-color="#007A35"/><stop offset="1" stop-color="#005A25"/></radialGradient>
<linearGradient id="boxB" x1="0" y1="0" x2="0" y2="1"><stop offset="0" stop-color="#10B0EE"/><stop offset="0.08" stop-color="#30D8FF"/><stop offset="0.22" stop-color="#50FCFF"/><stop offset="0.4" stop-color="#30DFFF"/><stop offset="0.45" stop-color="#0A98DC"/><stop offset="0.8" stop-color="#1398D6"/><stop offset="0.9" stop-color="#12688F"/><stop offset="1" stop-color="#0E5A80"/></linearGradient>
<linearGradient id="boxY" x1="0" y1="0" x2="0" y2="1"><stop offset="0" stop-color="#F0C800"/><stop offset="0.08" stop-color="#FFE830"/><stop offset="0.22" stop-color="#FFFF50"/><stop offset="0.4" stop-color="#FFF040"/><stop offset="0.45" stop-color="#F5BE10"/><stop offset="0.8" stop-color="#F2B800"/><stop offset="0.9" stop-color="#B08400"/><stop offset="1" stop-color="#947000"/></linearGradient>
<linearGradient id="boxG" x1="0" y1="0" x2="0" y2="1"><stop offset="0" stop-color="#20A060"/><stop offset="0.08" stop-color="#40C880"/><stop offset="0.22" stop-color="#58E098"/><stop offset="0.4" stop-color="#40C880"/><stop offset="0.45" stop-color="#1A8A4A"/><stop offset="0.8" stop-color="#178244"/><stop offset="0.9" stop-color="#0E5A30"/><stop offset="1" stop-color="#0A4A26"/></linearGradient>
<linearGradient id="fY" gradientUnits="userSpaceOnUse" x1="0" y1="953" x2="0" y2="1038"><stop offset="0" stop-color="#FFF000"/><stop offset="0.3" stop-color="#FDD800"/><stop offset="0.55" stop-color="#E0C400"/><stop offset="1" stop-color="#C9A000"/></linearGradient>
<linearGradient id="fG" gradientUnits="userSpaceOnUse" x1="0" y1="1504" x2="0" y2="1589"><stop offset="0" stop-color="#94D452"/><stop offset="0.3" stop-color="#8CCB50"/><stop offset="0.55" stop-color="#78B044"/><stop offset="1" stop-color="#6BA23C"/></linearGradient>
<filter id="blur4" x="-20%" y="-100%" width="140%" height="300%"><feGaussianBlur stdDeviation="4"/></filter>
<filter id="blur2" x="-20%" y="-50%" width="140%" height="200%"><feGaussianBlur stdDeviation="2"/></filter>
</defs>
<ellipse cx="902.0" cy="1050.0" rx="105.2" ry="7" fill="#000" opacity="0.3" filter="url(#blur4)"/>
<rect x="864.1" y="1043.7" width="115.8" height="6" fill="#000" opacity="0.3" filter="url(#blur2)"/>
<rect x="796.80" y="1027.80" width="210.30" height="12.20" fill="#555555"/>
<rect x="856.30" y="990.00" width="6.30" height="30.50" fill="#404040"/>
<rect x="856.30" y="989.80" width="18.90" height="7.30" fill="#404040"/>
<polygon points="874.7,980.9 874.7,1005.7 899.0,993.3" fill="#404040"/>
<rect x="862.1" y="1019.9" width="119.8" height="25.8" rx="2.5" fill="url(#boxB)"/>
<path d="M981.4 1021.9 L969.9 1030.7 L981.4 1043.2Z" fill="#0B90D6" opacity="0.85"/>
<path d="M862.6 1021.9 L874.1 1030.7 L862.6 1043.2Z" fill="#0B90D6" opacity="0.85"/>
<circle cx="839.0" cy="1032.8" r="22.6" fill="url(#sphB)"/>
<path d="M859.0 1069.8L860.0 1069.1L861.0 1068.3L862.0 1067.5L863.0 1066.6L864.0 1065.8L865.0 1065.1L866.0 1064.4L867.0 1063.8L868.0 1063.4L869.0 1063.1L870.0 1062.9L871.0 1062.9L872.0 1063.1L873.0 1063.4L874.0 1063.8L875.0 1064.4L876.0 1065.1L877.0 1065.8L878.0 1066.6L879.0 1067.5L880.0 1068.3L881.0 1069.1L882.0 1069.8L883.0 1070.4L884.0 1070.9L885.0 1071.2L886.0 1071.4L887.0 1071.5L888.0 1071.4L889.0 1071.1L890.0 1070.7L891.0 1070.2L892.0 1069.6L893.0 1068.8L894.0 1068.0L895.0 1067.2L896.0 1066.4L897.0 1065.6L898.0 1064.9L899.0 1064.2L900.0 1063.7L901.0 1063.3L902.0 1063.0L903.0 1062.9L904.0 1063.0L905.0 1063.2L906.0 1063.5L907.0 1064.0L908.0 1064.6L909.0 1065.3L910.0 1066.1L911.0 1066.9L912.0 1067.7L913.0 1068.5L914.0 1069.3L915.0 1070.0L916.0 1070.5L917.0 1071.0L918.0 1071.3L919.0 1071.5L920.0 1071.5L921.0 1071.3L922.0 1071.0L923.0 1070.6L924.0 1070.0L925.0 1069.4L926.0 1068.6L927.0 1067.8L928.0 1067.0L929.0 1066.2L930.0 1065.4L931.0 1064.7L932.0 1064.1L933.0 1063.6L934.0 1063.2L935.0 1063.0L936.0 1062.9L937.0 1063.0L938.0 1063.2L939.0 1063.6L940.0 1064.2L941.0 1064.8L942.0 1065.5L943.0 1066.3L944.0 1067.1L945.0 1068.0L946.0 1068.8L947.0 1069.5L948.0 1070.1L949.0 1070.7L950.0 1071.1L951.0 1071.4L952.0 1071.5L953.0 1071.5L954.0 1071.3L955.0 1070.9L956.0 1070.4L957.0 1069.8L958.0 1069.1L959.0 1068.4L960.0 1067.6L961.0 1066.7L962.0 1065.9L963.0 1065.2L964.0 1064.5L965.0 1063.9L966.0 1063.4L967.0 1063.1L968.0 1062.9L969.0 1062.9L970.0 1063.1L971.0 1063.3L972.0 1063.8L973.0 1064.3L974.0 1065.0L975.0 1065.8L976.0 1066.6L977.0 1067.4L978.0 1068.2L979.0 1069.0L980.0 1069.7" fill="none" stroke="#0893CC" stroke-width="6.6"/>
<polygon points="979.0,1059.7 1004.6,1067.2 979.0,1074.7" fill="#0893CC"/>
<path d="M859.0 1081.5L860.0 1080.8L861.0 1080.0L862.0 1079.2L863.0 1078.3L864.0 1077.5L865.0 1076.8L866.0 1076.1L867.0 1075.5L868.0 1075.1L869.0 1074.8L870.0 1074.6L871.0 1074.6L872.0 1074.8L873.0 1075.1L874.0 1075.5L875.0 1076.1L876.0 1076.8L877.0 1077.5L878.0 1078.3L879.0 1079.2L880.0 1080.0L881.0 1080.8L882.0 1081.5L883.0 1082.1L884.0 1082.6L885.0 1082.9L886.0 1083.1L887.0 1083.2L888.0 1083.1L889.0 1082.8L890.0 1082.4L891.0 1081.9L892.0 1081.3L893.0 1080.5L894.0 1079.7L895.0 1078.9L896.0 1078.1L897.0 1077.3L898.0 1076.6L899.0 1075.9L900.0 1075.4L901.0 1075.0L902.0 1074.7L903.0 1074.6L904.0 1074.7L905.0 1074.9L906.0 1075.2L907.0 1075.7L908.0 1076.3L909.0 1077.0L910.0 1077.8L911.0 1078.6L912.0 1079.4L913.0 1080.2L914.0 1081.0L915.0 1081.7L916.0 1082.2L917.0 1082.7L918.0 1083.0L919.0 1083.2L920.0 1083.2L921.0 1083.0L922.0 1082.7L923.0 1082.3L924.0 1081.7L925.0 1081.1L926.0 1080.3L927.0 1079.5L928.0 1078.7L929.0 1077.9L930.0 1077.1L931.0 1076.4L932.0 1075.8L933.0 1075.3L934.0 1074.9L935.0 1074.7L936.0 1074.6L937.0 1074.7L938.0 1074.9L939.0 1075.3L940.0 1075.9L941.0 1076.5L942.0 1077.2L943.0 1078.0L944.0 1078.8L945.0 1079.7L946.0 1080.5L947.0 1081.2L948.0 1081.8L949.0 1082.4L950.0 1082.8L951.0 1083.1L952.0 1083.2L953.0 1083.2L954.0 1083.0L955.0 1082.6L956.0 1082.1L957.0 1081.5L958.0 1080.8L959.0 1080.1L960.0 1079.3L961.0 1078.4L962.0 1077.6L963.0 1076.9L964.0 1076.2L965.0 1075.6L966.0 1075.1L967.0 1074.8L968.0 1074.6L969.0 1074.6L970.0 1074.8L971.0 1075.0L972.0 1075.5L973.0 1076.0L974.0 1076.7L975.0 1077.5L976.0 1078.3L977.0 1079.1L978.0 1079.9L979.0 1080.7L980.0 1081.4" fill="none" stroke="#0893CC" stroke-width="6.6"/>
<polygon points="979.0,1071.4 1004.6,1078.9 979.0,1086.4" fill="#0893CC"/>
<path d="M859.0 1093.3L860.0 1092.6L861.0 1091.8L862.0 1091.0L863.0 1090.1L864.0 1089.3L865.0 1088.6L866.0 1087.9L867.0 1087.3L868.0 1086.9L869.0 1086.6L870.0 1086.4L871.0 1086.4L872.0 1086.6L873.0 1086.9L874.0 1087.3L875.0 1087.9L876.0 1088.6L877.0 1089.3L878.0 1090.1L879.0 1091.0L880.0 1091.8L881.0 1092.6L882.0 1093.3L883.0 1093.9L884.0 1094.4L885.0 1094.7L886.0 1094.9L887.0 1095.0L888.0 1094.9L889.0 1094.6L890.0 1094.2L891.0 1093.7L892.0 1093.1L893.0 1092.3L894.0 1091.5L895.0 1090.7L896.0 1089.9L897.0 1089.1L898.0 1088.4L899.0 1087.7L900.0 1087.2L901.0 1086.8L902.0 1086.5L903.0 1086.4L904.0 1086.5L905.0 1086.7L906.0 1087.0L907.0 1087.5L908.0 1088.1L909.0 1088.8L910.0 1089.6L911.0 1090.4L912.0 1091.2L913.0 1092.0L914.0 1092.8L915.0 1093.5L916.0 1094.0L917.0 1094.5L918.0 1094.8L919.0 1095.0L920.0 1095.0L921.0 1094.8L922.0 1094.5L923.0 1094.1L924.0 1093.5L925.0 1092.9L926.0 1092.1L927.0 1091.3L928.0 1090.5L929.0 1089.7L930.0 1088.9L931.0 1088.2L932.0 1087.6L933.0 1087.1L934.0 1086.7L935.0 1086.5L936.0 1086.4L937.0 1086.5L938.0 1086.7L939.0 1087.1L940.0 1087.7L941.0 1088.3L942.0 1089.0L943.0 1089.8L944.0 1090.6L945.0 1091.5L946.0 1092.3L947.0 1093.0L948.0 1093.6L949.0 1094.2L950.0 1094.6L951.0 1094.9L952.0 1095.0L953.0 1095.0L954.0 1094.8L955.0 1094.4L956.0 1093.9L957.0 1093.3L958.0 1092.6L959.0 1091.9L960.0 1091.1L961.0 1090.2L962.0 1089.4L963.0 1088.7L964.0 1088.0L965.0 1087.4L966.0 1086.9L967.0 1086.6L968.0 1086.4L969.0 1086.4L970.0 1086.6L971.0 1086.8L972.0 1087.3L973.0 1087.8L974.0 1088.5L975.0 1089.3L976.0 1090.1L977.0 1090.9L978.0 1091.7L979.0 1092.5L980.0 1093.2" fill="none" stroke="#0893CC" stroke-width="6.6"/>
<polygon points="979.0,1083.2 1004.6,1090.7 979.0,1098.2" fill="#0893CC"/>
<g opacity="0.3" filter="url(#blur2)" transform="translate(3 5)"><path d="M1228.50 1037.20C1228.58 1036.17 1228.72 1034.37 1229.00 1031.00C1229.28 1027.63 1229.97 1021.18 1230.20 1017.00C1230.43 1012.82 1230.50 1009.62 1230.40 1005.90C1230.30 1002.18 1230.02 998.25 1229.60 994.70C1229.18 991.15 1228.92 987.87 1227.90 984.60C1226.88 981.33 1225.35 978.07 1223.50 975.10C1221.65 972.13 1219.32 968.88 1216.80 966.80C1214.28 964.72 1211.20 963.72 1208.40 962.60C1205.60 961.48 1202.92 961.18 1200.00 960.10C1197.08 959.02 1194.28 956.77 1190.90 956.10C1187.52 955.43 1183.90 955.43 1179.70 956.10C1175.50 956.77 1169.88 958.05 1165.70 960.10C1161.52 962.15 1157.85 965.05 1154.60 968.40C1151.35 971.75 1147.60 978.23 1146.20 980.20L1140.00 977.70L1144.80 996.60L1162.10 989.40L1157.90 985.80L1157.90 985.80C1158.55 985.05 1160.03 983.27 1161.80 981.30C1163.57 979.33 1165.52 976.23 1168.50 974.00C1171.48 971.77 1175.97 969.67 1179.70 967.90C1183.43 966.13 1187.52 964.30 1190.90 963.40C1194.28 962.50 1197.08 962.27 1200.00 962.50C1202.92 962.73 1205.60 963.17 1208.40 964.80C1211.20 966.43 1214.02 969.73 1216.80 972.30C1219.58 974.87 1222.68 977.95 1225.10 980.20C1227.52 982.45 1229.33 983.75 1231.30 985.80C1233.27 987.85 1235.63 989.68 1236.90 992.50C1238.17 995.32 1238.53 995.25 1238.90 1002.70C1239.27 1010.15 1239.07 1031.45 1239.10 1037.20Z" fill="#000"/><path d="M1246.90 1037.20C1246.72 1036.17 1246.27 1034.37 1245.80 1031.00C1245.33 1027.63 1244.28 1021.18 1244.10 1017.00C1243.92 1012.82 1244.32 1009.62 1244.70 1005.90C1245.08 1002.18 1245.65 998.43 1246.40 994.70C1247.15 990.97 1247.82 987.03 1249.20 983.50C1250.58 979.97 1252.90 976.35 1254.70 973.50C1256.50 970.65 1257.72 968.78 1260.00 966.40C1262.28 964.02 1265.60 960.97 1268.40 959.20C1271.20 957.43 1273.55 956.65 1276.80 955.80C1280.05 954.95 1284.18 954.18 1287.90 954.10C1291.62 954.02 1295.37 954.45 1299.10 955.30C1302.83 956.15 1307.03 957.62 1310.30 959.20C1313.57 960.78 1316.10 962.75 1318.70 964.80C1321.30 966.85 1324.70 970.38 1325.90 971.50L1330.40 977.00L1335.40 975.70L1331.00 994.60L1313.60 987.40L1313.60 987.40C1314.35 986.88 1318.18 986.22 1318.10 984.30C1318.02 982.38 1315.33 978.68 1313.10 975.90C1310.87 973.12 1307.97 969.83 1304.70 967.60C1301.43 965.37 1297.23 963.68 1293.50 962.50C1289.77 961.32 1285.78 960.68 1282.30 960.50C1278.82 960.32 1275.62 960.62 1272.60 961.40C1269.58 962.18 1266.98 963.73 1264.20 965.20C1261.42 966.67 1258.40 968.28 1255.90 970.20C1253.40 972.12 1251.43 974.28 1249.20 976.70C1246.97 979.12 1244.55 982.07 1242.50 984.70C1240.45 987.33 1237.72 989.50 1236.90 992.50C1236.08 995.50 1237.45 995.25 1237.60 1002.70C1237.75 1010.15 1237.77 1031.45 1237.80 1037.20Z" fill="#000"/></g>
<path d="M1246.90 1037.20C1246.72 1036.17 1246.27 1034.37 1245.80 1031.00C1245.33 1027.63 1244.28 1021.18 1244.10 1017.00C1243.92 1012.82 1244.32 1009.62 1244.70 1005.90C1245.08 1002.18 1245.65 998.43 1246.40 994.70C1247.15 990.97 1247.82 987.03 1249.20 983.50C1250.58 979.97 1252.90 976.35 1254.70 973.50C1256.50 970.65 1257.72 968.78 1260.00 966.40C1262.28 964.02 1265.60 960.97 1268.40 959.20C1271.20 957.43 1273.55 956.65 1276.80 955.80C1280.05 954.95 1284.18 954.18 1287.90 954.10C1291.62 954.02 1295.37 954.45 1299.10 955.30C1302.83 956.15 1307.03 957.62 1310.30 959.20C1313.57 960.78 1316.10 962.75 1318.70 964.80C1321.30 966.85 1324.70 970.38 1325.90 971.50L1330.40 977.00L1335.40 975.70L1331.00 994.60L1313.60 987.40L1313.60 987.40C1314.35 986.88 1318.18 986.22 1318.10 984.30C1318.02 982.38 1315.33 978.68 1313.10 975.90C1310.87 973.12 1307.97 969.83 1304.70 967.60C1301.43 965.37 1297.23 963.68 1293.50 962.50C1289.77 961.32 1285.78 960.68 1282.30 960.50C1278.82 960.32 1275.62 960.62 1272.60 961.40C1269.58 962.18 1266.98 963.73 1264.20 965.20C1261.42 966.67 1258.40 968.28 1255.90 970.20C1253.40 972.12 1251.43 974.28 1249.20 976.70C1246.97 979.12 1244.55 982.07 1242.50 984.70C1240.45 987.33 1237.72 989.50 1236.90 992.50C1236.08 995.50 1237.45 995.25 1237.60 1002.70C1237.75 1010.15 1237.77 1031.45 1237.80 1037.20Z" fill="url(#fY)"/>
<path d="M1228.50 1037.20C1228.58 1036.17 1228.72 1034.37 1229.00 1031.00C1229.28 1027.63 1229.97 1021.18 1230.20 1017.00C1230.43 1012.82 1230.50 1009.62 1230.40 1005.90C1230.30 1002.18 1230.02 998.25 1229.60 994.70C1229.18 991.15 1228.92 987.87 1227.90 984.60C1226.88 981.33 1225.35 978.07 1223.50 975.10C1221.65 972.13 1219.32 968.88 1216.80 966.80C1214.28 964.72 1211.20 963.72 1208.40 962.60C1205.60 961.48 1202.92 961.18 1200.00 960.10C1197.08 959.02 1194.28 956.77 1190.90 956.10C1187.52 955.43 1183.90 955.43 1179.70 956.10C1175.50 956.77 1169.88 958.05 1165.70 960.10C1161.52 962.15 1157.85 965.05 1154.60 968.40C1151.35 971.75 1147.60 978.23 1146.20 980.20L1140.00 977.70L1144.80 996.60L1162.10 989.40L1157.90 985.80L1157.90 985.80C1158.55 985.05 1160.03 983.27 1161.80 981.30C1163.57 979.33 1165.52 976.23 1168.50 974.00C1171.48 971.77 1175.97 969.67 1179.70 967.90C1183.43 966.13 1187.52 964.30 1190.90 963.40C1194.28 962.50 1197.08 962.27 1200.00 962.50C1202.92 962.73 1205.60 963.17 1208.40 964.80C1211.20 966.43 1214.02 969.73 1216.80 972.30C1219.58 974.87 1222.68 977.95 1225.10 980.20C1227.52 982.45 1229.33 983.75 1231.30 985.80C1233.27 987.85 1235.63 989.68 1236.90 992.50C1238.17 995.32 1238.53 995.25 1238.90 1002.70C1239.27 1010.15 1239.07 1031.45 1239.10 1037.20Z" fill="url(#fY)"/>
<ellipse cx="1304.0" cy="1092.7" rx="105.1" ry="7" fill="#000" opacity="0.3" filter="url(#blur4)"/>
<rect x="1266.1" y="1087.2" width="116.7" height="6" fill="#000" opacity="0.3" filter="url(#blur2)"/>
<rect x="1198.90" y="1069.50" width="210.20" height="13.20" fill="#555555"/>
<rect x="1257.20" y="1031.70" width="6.90" height="30.80" fill="#404040"/>
<rect x="1257.20" y="1031.70" width="19.50" height="8.10" fill="#404040"/>
<polygon points="1276.2,1023.0 1276.2,1048.3 1301.1,1035.7" fill="#404040"/>
<rect x="1264.1" y="1062.0" width="120.7" height="27.2" rx="2.5" fill="url(#boxY)"/>
<path d="M1384.3 1064.0 L1372.8 1073.4 L1384.3 1086.7Z" fill="#F0B400" opacity="0.85"/>
<path d="M1264.6 1064.0 L1276.1 1073.4 L1264.6 1086.7Z" fill="#F0B400" opacity="0.85"/>
<circle cx="1241.8" cy="1075.0" r="21.8" fill="url(#sphY)"/>
<g opacity="0.3" filter="url(#blur2)" transform="translate(3 5)"><path d="M1057.20 1588.10C1057.28 1587.07 1057.42 1585.27 1057.70 1581.90C1057.98 1578.53 1058.67 1572.08 1058.90 1567.90C1059.13 1563.72 1059.20 1560.52 1059.10 1556.80C1059.00 1553.08 1058.72 1549.15 1058.30 1545.60C1057.88 1542.05 1057.62 1538.77 1056.60 1535.50C1055.58 1532.23 1054.05 1528.97 1052.20 1526.00C1050.35 1523.03 1048.02 1519.78 1045.50 1517.70C1042.98 1515.62 1039.90 1514.62 1037.10 1513.50C1034.30 1512.38 1031.62 1512.08 1028.70 1511.00C1025.78 1509.92 1022.98 1507.67 1019.60 1507.00C1016.22 1506.33 1012.60 1506.33 1008.40 1507.00C1004.20 1507.67 998.58 1508.95 994.40 1511.00C990.22 1513.05 986.55 1515.95 983.30 1519.30C980.05 1522.65 976.30 1529.13 974.90 1531.10L968.70 1528.60L973.50 1547.50L990.80 1540.30L986.60 1536.70L986.60 1536.70C987.25 1535.95 988.73 1534.17 990.50 1532.20C992.27 1530.23 994.22 1527.13 997.20 1524.90C1000.18 1522.67 1004.67 1520.57 1008.40 1518.80C1012.13 1517.03 1016.22 1515.20 1019.60 1514.30C1022.98 1513.40 1025.78 1513.17 1028.70 1513.40C1031.62 1513.63 1034.30 1514.07 1037.10 1515.70C1039.90 1517.33 1042.72 1520.63 1045.50 1523.20C1048.28 1525.77 1051.38 1528.85 1053.80 1531.10C1056.22 1533.35 1058.03 1534.65 1060.00 1536.70C1061.97 1538.75 1064.33 1540.58 1065.60 1543.40C1066.87 1546.22 1067.23 1546.15 1067.60 1553.60C1067.97 1561.05 1067.77 1582.35 1067.80 1588.10Z" fill="#000"/><path d="M1075.60 1588.10C1075.42 1587.07 1074.97 1585.27 1074.50 1581.90C1074.03 1578.53 1072.98 1572.08 1072.80 1567.90C1072.62 1563.72 1073.02 1560.52 1073.40 1556.80C1073.78 1553.08 1074.35 1549.33 1075.10 1545.60C1075.85 1541.87 1076.52 1537.93 1077.90 1534.40C1079.28 1530.87 1081.60 1527.25 1083.40 1524.40C1085.20 1521.55 1086.42 1519.68 1088.70 1517.30C1090.98 1514.92 1094.30 1511.87 1097.10 1510.10C1099.90 1508.33 1102.25 1507.55 1105.50 1506.70C1108.75 1505.85 1112.88 1505.08 1116.60 1505.00C1120.32 1504.92 1124.07 1505.35 1127.80 1506.20C1131.53 1507.05 1135.73 1508.52 1139.00 1510.10C1142.27 1511.68 1144.80 1513.65 1147.40 1515.70C1150.00 1517.75 1153.40 1521.28 1154.60 1522.40L1159.10 1527.90L1164.10 1526.60L1159.70 1545.50L1142.30 1538.30L1142.30 1538.30C1143.05 1537.78 1146.88 1537.12 1146.80 1535.20C1146.72 1533.28 1144.03 1529.58 1141.80 1526.80C1139.57 1524.02 1136.67 1520.73 1133.40 1518.50C1130.13 1516.27 1125.93 1514.58 1122.20 1513.40C1118.47 1512.22 1114.48 1511.58 1111.00 1511.40C1107.52 1511.22 1104.32 1511.52 1101.30 1512.30C1098.28 1513.08 1095.68 1514.63 1092.90 1516.10C1090.12 1517.57 1087.10 1519.18 1084.60 1521.10C1082.10 1523.02 1080.13 1525.18 1077.90 1527.60C1075.67 1530.02 1073.25 1532.97 1071.20 1535.60C1069.15 1538.23 1066.42 1540.40 1065.60 1543.40C1064.78 1546.40 1066.15 1546.15 1066.30 1553.60C1066.45 1561.05 1066.47 1582.35 1066.50 1588.10Z" fill="#000"/></g>
<path d="M1075.60 1588.10C1075.42 1587.07 1074.97 1585.27 1074.50 1581.90C1074.03 1578.53 1072.98 1572.08 1072.80 1567.90C1072.62 1563.72 1073.02 1560.52 1073.40 1556.80C1073.78 1553.08 1074.35 1549.33 1075.10 1545.60C1075.85 1541.87 1076.52 1537.93 1077.90 1534.40C1079.28 1530.87 1081.60 1527.25 1083.40 1524.40C1085.20 1521.55 1086.42 1519.68 1088.70 1517.30C1090.98 1514.92 1094.30 1511.87 1097.10 1510.10C1099.90 1508.33 1102.25 1507.55 1105.50 1506.70C1108.75 1505.85 1112.88 1505.08 1116.60 1505.00C1120.32 1504.92 1124.07 1505.35 1127.80 1506.20C1131.53 1507.05 1135.73 1508.52 1139.00 1510.10C1142.27 1511.68 1144.80 1513.65 1147.40 1515.70C1150.00 1517.75 1153.40 1521.28 1154.60 1522.40L1159.10 1527.90L1164.10 1526.60L1159.70 1545.50L1142.30 1538.30L1142.30 1538.30C1143.05 1537.78 1146.88 1537.12 1146.80 1535.20C1146.72 1533.28 1144.03 1529.58 1141.80 1526.80C1139.57 1524.02 1136.67 1520.73 1133.40 1518.50C1130.13 1516.27 1125.93 1514.58 1122.20 1513.40C1118.47 1512.22 1114.48 1511.58 1111.00 1511.40C1107.52 1511.22 1104.32 1511.52 1101.30 1512.30C1098.28 1513.08 1095.68 1514.63 1092.90 1516.10C1090.12 1517.57 1087.10 1519.18 1084.60 1521.10C1082.10 1523.02 1080.13 1525.18 1077.90 1527.60C1075.67 1530.02 1073.25 1532.97 1071.20 1535.60C1069.15 1538.23 1066.42 1540.40 1065.60 1543.40C1064.78 1546.40 1066.15 1546.15 1066.30 1553.60C1066.45 1561.05 1066.47 1582.35 1066.50 1588.10Z" fill="url(#fG)"/>
<path d="M1057.20 1588.10C1057.28 1587.07 1057.42 1585.27 1057.70 1581.90C1057.98 1578.53 1058.67 1572.08 1058.90 1567.90C1059.13 1563.72 1059.20 1560.52 1059.10 1556.80C1059.00 1553.08 1058.72 1549.15 1058.30 1545.60C1057.88 1542.05 1057.62 1538.77 1056.60 1535.50C1055.58 1532.23 1054.05 1528.97 1052.20 1526.00C1050.35 1523.03 1048.02 1519.78 1045.50 1517.70C1042.98 1515.62 1039.90 1514.62 1037.10 1513.50C1034.30 1512.38 1031.62 1512.08 1028.70 1511.00C1025.78 1509.92 1022.98 1507.67 1019.60 1507.00C1016.22 1506.33 1012.60 1506.33 1008.40 1507.00C1004.20 1507.67 998.58 1508.95 994.40 1511.00C990.22 1513.05 986.55 1515.95 983.30 1519.30C980.05 1522.65 976.30 1529.13 974.90 1531.10L968.70 1528.60L973.50 1547.50L990.80 1540.30L986.60 1536.70L986.60 1536.70C987.25 1535.95 988.73 1534.17 990.50 1532.20C992.27 1530.23 994.22 1527.13 997.20 1524.90C1000.18 1522.67 1004.67 1520.57 1008.40 1518.80C1012.13 1517.03 1016.22 1515.20 1019.60 1514.30C1022.98 1513.40 1025.78 1513.17 1028.70 1513.40C1031.62 1513.63 1034.30 1514.07 1037.10 1515.70C1039.90 1517.33 1042.72 1520.63 1045.50 1523.20C1048.28 1525.77 1051.38 1528.85 1053.80 1531.10C1056.22 1533.35 1058.03 1534.65 1060.00 1536.70C1061.97 1538.75 1064.33 1540.58 1065.60 1543.40C1066.87 1546.22 1067.23 1546.15 1067.60 1553.60C1067.97 1561.05 1067.77 1582.35 1067.80 1588.10Z" fill="url(#fG)"/>
<ellipse cx="1131.3" cy="1644.7" rx="104.5" ry="7" fill="#000" opacity="0.3" filter="url(#blur4)"/>
<rect x="1094.0" y="1638.4" width="116.7" height="6" fill="#000" opacity="0.3" filter="url(#blur2)"/>
<rect x="1026.80" y="1622.20" width="209.00" height="12.50" fill="#555555"/>
<rect x="1086.00" y="1587.10" width="6.60" height="28.40" fill="#404040"/>
<rect x="1086.00" y="1587.10" width="18.70" height="7.50" fill="#404040"/>
<polygon points="1104.2,1575.6 1104.2,1600.7 1129.1,1588.2" fill="#404040"/>
<rect x="1092.0" y="1614.9" width="120.7" height="25.5" rx="2.5" fill="url(#boxG)"/>
<path d="M1212.2 1616.9 L1200.7 1625.6 L1212.2 1637.9Z" fill="#157A40" opacity="0.85"/>
<path d="M1092.5 1616.9 L1104.0 1625.6 L1092.5 1637.9Z" fill="#157A40" opacity="0.85"/>
<circle cx="1069.4" cy="1627.6" r="21.8" fill="url(#sphG)"/>
<path d="M1093.0 1650.1L1094.0 1649.4L1095.0 1648.7L1096.0 1648.1L1097.0 1647.6L1098.0 1647.3L1099.0 1647.1L1100.0 1647.0L1101.0 1647.1L1102.0 1647.3L1103.0 1647.6L1104.0 1648.1L1105.0 1648.7L1106.0 1649.4L1107.0 1650.1L1108.0 1650.9L1109.0 1651.7L1110.0 1652.5L1111.0 1653.2L1112.0 1653.9L1113.0 1654.5L1114.0 1655.0L1115.0 1655.3L1116.0 1655.5L1117.0 1655.6L1118.0 1655.5L1119.0 1655.3L1120.0 1655.0L1121.0 1654.5L1122.0 1653.9L1123.0 1653.2L1124.0 1652.5L1125.0 1651.7L1126.0 1650.9L1127.0 1650.1L1128.0 1649.4L1129.0 1648.7L1130.0 1648.1L1131.0 1647.6L1132.0 1647.3L1133.0 1647.1L1134.0 1647.0L1135.0 1647.1L1136.0 1647.3L1137.0 1647.6L1138.0 1648.1L1139.0 1648.7L1140.0 1649.4L1141.0 1650.1L1142.0 1650.9L1143.0 1651.7L1144.0 1652.5L1145.0 1653.2L1146.0 1653.9L1147.0 1654.5L1148.0 1655.0L1149.0 1655.3L1150.0 1655.5L1151.0 1655.6L1152.0 1655.5L1153.0 1655.3L1154.0 1655.0L1155.0 1654.5L1156.0 1653.9L1157.0 1653.2L1158.0 1652.5L1159.0 1651.7L1160.0 1650.9L1161.0 1650.1L1162.0 1649.4L1163.0 1648.7L1164.0 1648.1L1165.0 1647.6L1166.0 1647.3L1167.0 1647.1L1168.0 1647.0L1169.0 1647.1L1170.0 1647.3L1171.0 1647.6L1172.0 1648.1L1173.0 1648.7L1174.0 1649.4L1175.0 1650.1L1176.0 1650.9L1177.0 1651.7L1178.0 1652.5L1179.0 1653.2L1180.0 1653.9L1181.0 1654.5L1182.0 1655.0L1183.0 1655.3L1184.0 1655.5L1185.0 1655.6L1186.0 1655.5L1187.0 1655.3L1188.0 1655.0L1189.0 1654.5L1190.0 1653.9L1191.0 1653.2L1192.0 1652.5L1193.0 1651.7L1194.0 1650.9L1195.0 1650.1L1196.0 1649.4L1197.0 1648.7L1198.0 1648.1L1199.0 1647.6L1200.0 1647.3L1201.0 1647.1L1202.0 1647.0L1203.0 1647.1L1204.0 1647.3L1205.0 1647.6L1206.0 1648.1L1207.0 1648.7L1208.0 1649.4L1209.0 1650.1L1210.0 1650.9L1211.0 1651.7L1212.0 1652.5L1213.0 1653.2" fill="none" stroke="#008040" stroke-width="6.6"/>
<polygon points="1212.0,1643.8 1237.4,1651.3 1212.0,1658.8" fill="#008040"/>
<path d="M1093.0 1661.9L1094.0 1661.2L1095.0 1660.5L1096.0 1659.9L1097.0 1659.4L1098.0 1659.1L1099.0 1658.9L1100.0 1658.8L1101.0 1658.9L1102.0 1659.1L1103.0 1659.4L1104.0 1659.9L1105.0 1660.5L1106.0 1661.2L1107.0 1661.9L1108.0 1662.7L1109.0 1663.5L1110.0 1664.3L1111.0 1665.0L1112.0 1665.7L1113.0 1666.3L1114.0 1666.8L1115.0 1667.1L1116.0 1667.3L1117.0 1667.4L1118.0 1667.3L1119.0 1667.1L1120.0 1666.8L1121.0 1666.3L1122.0 1665.7L1123.0 1665.0L1124.0 1664.3L1125.0 1663.5L1126.0 1662.7L1127.0 1661.9L1128.0 1661.2L1129.0 1660.5L1130.0 1659.9L1131.0 1659.4L1132.0 1659.1L1133.0 1658.9L1134.0 1658.8L1135.0 1658.9L1136.0 1659.1L1137.0 1659.4L1138.0 1659.9L1139.0 1660.5L1140.0 1661.2L1141.0 1661.9L1142.0 1662.7L1143.0 1663.5L1144.0 1664.3L1145.0 1665.0L1146.0 1665.7L1147.0 1666.3L1148.0 1666.8L1149.0 1667.1L1150.0 1667.3L1151.0 1667.4L1152.0 1667.3L1153.0 1667.1L1154.0 1666.8L1155.0 1666.3L1156.0 1665.7L1157.0 1665.0L1158.0 1664.3L1159.0 1663.5L1160.0 1662.7L1161.0 1661.9L1162.0 1661.2L1163.0 1660.5L1164.0 1659.9L1165.0 1659.4L1166.0 1659.1L1167.0 1658.9L1168.0 1658.8L1169.0 1658.9L1170.0 1659.1L1171.0 1659.4L1172.0 1659.9L1173.0 1660.5L1174.0 1661.2L1175.0 1661.9L1176.0 1662.7L1177.0 1663.5L1178.0 1664.3L1179.0 1665.0L1180.0 1665.7L1181.0 1666.3L1182.0 1666.8L1183.0 1667.1L1184.0 1667.3L1185.0 1667.4L1186.0 1667.3L1187.0 1667.1L1188.0 1666.8L1189.0 1666.3L1190.0 1665.7L1191.0 1665.0L1192.0 1664.3L1193.0 1663.5L1194.0 1662.7L1195.0 1661.9L1196.0 1661.2L1197.0 1660.5L1198.0 1659.9L1199.0 1659.4L1200.0 1659.1L1201.0 1658.9L1202.0 1658.8L1203.0 1658.9L1204.0 1659.1L1205.0 1659.4L1206.0 1659.9L1207.0 1660.5L1208.0 1661.2L1209.0 1661.9L1210.0 1662.7L1211.0 1663.5L1212.0 1664.3L1213.0 1665.0" fill="none" stroke="#008040" stroke-width="6.6"/>
<polygon points="1212.0,1655.6 1237.4,1663.1 1212.0,1670.6" fill="#008040"/>
<path d="M1093.0 1673.8L1094.0 1673.1L1095.0 1672.4L1096.0 1671.8L1097.0 1671.3L1098.0 1671.0L1099.0 1670.8L1100.0 1670.7L1101.0 1670.8L1102.0 1671.0L1103.0 1671.3L1104.0 1671.8L1105.0 1672.4L1106.0 1673.1L1107.0 1673.8L1108.0 1674.6L1109.0 1675.4L1110.0 1676.2L1111.0 1676.9L1112.0 1677.6L1113.0 1678.2L1114.0 1678.7L1115.0 1679.0L1116.0 1679.2L1117.0 1679.3L1118.0 1679.2L1119.0 1679.0L1120.0 1678.7L1121.0 1678.2L1122.0 1677.6L1123.0 1676.9L1124.0 1676.2L1125.0 1675.4L1126.0 1674.6L1127.0 1673.8L1128.0 1673.1L1129.0 1672.4L1130.0 1671.8L1131.0 1671.3L1132.0 1671.0L1133.0 1670.8L1134.0 1670.7L1135.0 1670.8L1136.0 1671.0L1137.0 1671.3L1138.0 1671.8L1139.0 1672.4L1140.0 1673.1L1141.0 1673.8L1142.0 1674.6L1143.0 1675.4L1144.0 1676.2L1145.0 1676.9L1146.0 1677.6L1147.0 1678.2L1148.0 1678.7L1149.0 1679.0L1150.0 1679.2L1151.0 1679.3L1152.0 1679.2L1153.0 1679.0L1154.0 1678.7L1155.0 1678.2L1156.0 1677.6L1157.0 1676.9L1158.0 1676.2L1159.0 1675.4L1160.0 1674.6L1161.0 1673.8L1162.0 1673.1L1163.0 1672.4L1164.0 1671.8L1165.0 1671.3L1166.0 1671.0L1167.0 1670.8L1168.0 1670.7L1169.0 1670.8L1170.0 1671.0L1171.0 1671.3L1172.0 1671.8L1173.0 1672.4L1174.0 1673.1L1175.0 1673.8L1176.0 1674.6L1177.0 1675.4L1178.0 1676.2L1179.0 1676.9L1180.0 1677.6L1181.0 1678.2L1182.0 1678.7L1183.0 1679.0L1184.0 1679.2L1185.0 1679.3L1186.0 1679.2L1187.0 1679.0L1188.0 1678.7L1189.0 1678.2L1190.0 1677.6L1191.0 1676.9L1192.0 1676.2L1193.0 1675.4L1194.0 1674.6L1195.0 1673.8L1196.0 1673.1L1197.0 1672.4L1198.0 1671.8L1199.0 1671.3L1200.0 1671.0L1201.0 1670.8L1202.0 1670.7L1203.0 1670.8L1204.0 1671.0L1205.0 1671.3L1206.0 1671.8L1207.0 1672.4L1208.0 1673.1L1209.0 1673.8L1210.0 1674.6L1211.0 1675.4L1212.0 1676.2L1213.0 1676.9" fill="none" stroke="#008040" stroke-width="6.6"/>
<polygon points="1212.0,1667.5 1237.4,1675.0 1212.0,1682.5" fill="#008040"/>
<text x="928.2" y="1145.7" font-size="29.5" text-anchor="middle">Induced</text>
<text x="928.5" y="1180.3" font-size="29.5" text-anchor="middle">gene only</text>
<text x="1280.2" y="1146.9" font-size="29.5" text-anchor="middle">Induced</text>
<text x="1281.0" y="1183.4" font-size="29.5" text-anchor="middle">Epromoter only</text>
<text x="1099.0" y="1420.2" font-size="29.5" text-anchor="middle">Induced</text>
<text x="1103.2" y="1455.6" font-size="29.5" text-anchor="middle">gene &amp; Epromoter</text>
<circle cx="1023.4" cy="1294.4" r="92.6" fill="#00A2E6"/>
<circle cx="1119.7" cy="1296" r="93.5" fill="#FFF100"/>
<clipPath id="clipB"><circle cx="1023.4" cy="1294.4" r="92.6"/></clipPath>
<circle cx="1119.7" cy="1296" r="93.5" fill="#29B24A" clip-path="url(#clipB)"/>
<circle cx="1023.4" cy="1294.4" r="92.6" fill="none" stroke="#111" stroke-width="1.9"/>
<circle cx="1119.7" cy="1296" r="93.5" fill="none" stroke="#111" stroke-width="1.9"/>
<text x="983.3" y="1288.5" font-size="28.7" text-anchor="middle" font-weight="bold">498</text>
<text x="1071.3" y="1288.5" font-size="28.7" text-anchor="middle" font-weight="bold">44</text>
<text x="1162.7" y="1288.5" font-size="28.7" text-anchor="middle" font-weight="bold">26</text>
<text x="983.9" y="1324.2" font-size="29.5" text-anchor="middle">(394)</text>
<text x="1071.5" y="1324.2" font-size="29.5" text-anchor="middle">(38)</text>
<text x="1163.6" y="1324.2" font-size="29.5" text-anchor="middle">(25)</text>
<text x="0.5" y="1797.2" font-size="54">f</text>
<text x="420.8" y="1817.9" font-size="25.3">chr2:231,275,000-231,415,000</text>
<text x="1106.5" y="1817.9" font-size="25.3">chr1:89,645,000-89,670,000</text>
<rect x="176.00" y="1907.75" width="594.30" height="1.70" fill="#C3C3C3"/>
<rect x="176.00" y="1993.15" width="594.30" height="1.70" fill="#C3C3C3"/>
<rect x="176.00" y="2078.15" width="594.30" height="1.70" fill="#C3C3C3"/>
<rect x="176.00" y="2162.55" width="594.30" height="1.70" fill="#C3C3C3"/>
<rect x="176.00" y="2248.55" width="594.30" height="1.70" fill="#C3C3C3"/>
<rect x="176.00" y="2331.75" width="594.30" height="1.70" fill="#C3C3C3"/>
<rect x="176.00" y="2419.45" width="594.30" height="1.70" fill="#C3C3C3"/>
<rect x="837.70" y="1902.65" width="594.30" height="1.70" fill="#C3C3C3"/>
<rect x="837.70" y="1988.35" width="594.30" height="1.70" fill="#C3C3C3"/>
<rect x="837.70" y="2072.95" width="594.30" height="1.70" fill="#C3C3C3"/>
<rect x="837.70" y="2158.55" width="594.30" height="1.70" fill="#C3C3C3"/>
<rect x="837.70" y="2243.75" width="594.30" height="1.70" fill="#C3C3C3"/>
<rect x="837.70" y="2327.15" width="594.30" height="1.70" fill="#C3C3C3"/>
<rect x="837.70" y="2414.95" width="594.30" height="1.70" fill="#C3C3C3"/>
<path fill="#0000B4" d="M208.95 1986.05h1.3v7.10h-1.3zM214.85 1986.05h1.3v7.10h-1.3zM320.85 1979.75h1.3v13.40h-1.3zM321.95 1984.15h1.3v9.00h-1.3zM326.35 1979.75h1.3v13.40h-1.3zM327.35 1979.75h1.3v13.40h-1.3zM338.25 1982.15h1.3v11.00h-1.3zM347.35 1982.15h1.3v11.00h-1.3zM349.65 1977.75h1.3v15.40h-1.3zM351.25 1977.75h1.3v15.40h-1.3zM352.95 1977.75h1.3v15.40h-1.3zM398.15 1982.15h1.3v11.00h-1.3zM399.25 1982.15h1.3v11.00h-1.3zM403.65 1977.75h1.3v15.40h-1.3zM411.15 1982.15h1.3v11.00h-1.3zM420.05 1986.65h1.3v6.50h-1.3zM423.75 1982.15h1.3v11.00h-1.3zM431.95 1979.75h1.3v13.40h-1.3zM433.45 1979.75h1.3v13.40h-1.3zM435.65 1983.15h1.3v10.00h-1.3zM437.85 1988.15h1.3v5.00h-1.3zM455.15 1991.15h1.3v2.00h-1.3z"/>
<path fill="#C80000" d="M208.95 2145.65h1.3v16.90h-1.3zM213.75 2160.55h1.3v2.00h-1.3zM214.85 2118.55h1.3v44.00h-1.3zM320.85 2094.35h1.3v68.20h-1.3zM321.95 2113.15h1.3v49.40h-1.3zM326.35 2094.35h1.3v68.20h-1.3zM327.35 2094.35h1.3v68.20h-1.3zM338.25 2108.55h1.3v54.00h-1.3zM346.85 2120.75h1.3v41.80h-1.3zM347.95 2139.55h1.3v23.00h-1.3zM349.65 2094.35h1.3v68.20h-1.3zM351.25 2119.05h1.3v43.50h-1.3zM352.95 2133.95h1.3v28.60h-1.3zM398.15 2117.35h1.3v45.20h-1.3zM399.25 2102.55h1.3v60.00h-1.3zM403.65 2094.35h1.3v68.20h-1.3zM404.95 2156.55h1.3v6.00h-1.3zM410.05 2125.55h1.3v37.00h-1.3zM411.15 2113.15h1.3v49.40h-1.3zM420.05 2127.05h1.3v35.50h-1.3zM421.05 2160.55h1.3v2.00h-1.3zM422.05 2160.55h1.3v2.00h-1.3zM423.75 2122.95h1.3v39.60h-1.3zM431.35 2106.25h1.3v56.30h-1.3zM432.35 2158.55h1.3v4.00h-1.3zM435.25 2100.25h1.3v62.30h-1.3zM436.55 2100.25h1.3v62.30h-1.3zM437.85 2142.55h1.3v20.00h-1.3zM438.85 2152.55h1.3v10.00h-1.3zM449.25 2150.55h1.3v12.00h-1.3zM450.85 2148.55h1.3v14.00h-1.3zM455.15 2131.35h1.3v31.20h-1.3zM539.05 2131.15h1.3v31.40h-1.3zM556.35 2135.05h1.3v27.50h-1.3zM575.45 2148.25h1.3v14.30h-1.3zM579.75 2156.55h1.3v6.00h-1.3zM580.85 2131.15h1.3v31.40h-1.3zM589.05 2146.05h1.3v16.50h-1.3zM596.05 2154.55h1.3v8.00h-1.3zM597.05 2154.55h1.3v8.00h-1.3zM609.35 2154.55h1.3v8.00h-1.3zM625.25 2157.55h1.3v5.00h-1.3zM626.35 2150.55h1.3v12.00h-1.3zM627.35 2144.55h1.3v18.00h-1.3zM628.45 2141.55h1.3v21.00h-1.3zM629.55 2142.55h1.3v20.00h-1.3zM630.65 2154.55h1.3v8.00h-1.3zM631.75 2152.55h1.3v10.00h-1.3zM632.85 2160.55h1.3v2.00h-1.3zM634.95 2160.55h1.3v2.00h-1.3zM644.75 2160.55h1.3v2.00h-1.3zM668.05 2160.55h1.3v2.00h-1.3zM673.95 2158.55h1.3v4.00h-1.3zM674.95 2159.55h1.3v3.00h-1.3zM675.95 2159.55h1.3v3.00h-1.3zM676.95 2158.55h1.3v4.00h-1.3zM677.95 2159.55h1.3v3.00h-1.3zM678.95 2159.55h1.3v3.00h-1.3zM679.95 2158.55h1.3v4.00h-1.3zM680.95 2159.55h1.3v3.00h-1.3zM681.95 2159.55h1.3v3.00h-1.3zM682.95 2158.55h1.3v4.00h-1.3zM683.95 2159.55h1.3v3.00h-1.3zM684.95 2159.55h1.3v3.00h-1.3zM685.95 2158.55h1.3v4.00h-1.3zM686.95 2159.55h1.3v3.00h-1.3zM687.95 2159.55h1.3v3.00h-1.3zM688.95 2157.75h1.3v4.80h-1.3zM689.95 2158.75h1.3v3.80h-1.3zM690.95 2158.75h1.3v3.80h-1.3zM691.95 2157.75h1.3v4.80h-1.3zM692.95 2158.75h1.3v3.80h-1.3zM693.95 2158.75h1.3v3.80h-1.3zM694.95 2157.75h1.3v4.80h-1.3zM728.75 2153.05h1.3v9.50h-1.3zM735.25 2156.55h1.3v6.00h-1.3zM736.55 2156.55h1.3v6.00h-1.3zM737.85 2156.55h1.3v6.00h-1.3zM739.95 2150.55h1.3v12.00h-1.3zM743.25 2150.55h1.3v12.00h-1.3zM744.35 2150.55h1.3v12.00h-1.3zM745.35 2148.55h1.3v14.00h-1.3zM746.45 2150.55h1.3v12.00h-1.3zM747.55 2149.55h1.3v13.00h-1.3zM748.65 2143.55h1.3v19.00h-1.3zM749.75 2143.55h1.3v19.00h-1.3zM750.85 2145.55h1.3v17.00h-1.3zM751.95 2147.55h1.3v15.00h-1.3zM752.95 2148.55h1.3v14.00h-1.3zM754.05 2148.55h1.3v14.00h-1.3zM755.15 2150.55h1.3v12.00h-1.3zM756.25 2159.55h1.3v3.00h-1.3z"/>
<rect x="190.00" y="2246.25" width="3.00" height="2.30" fill="#0000B4"/>
<rect x="233.00" y="2246.25" width="3.00" height="2.30" fill="#0000B4"/>
<rect x="207.10" y="2240.45" width="2.40" height="8.10" fill="#0000B4"/>
<rect x="209.50" y="2238.15" width="1.10" height="10.40" fill="#0000B4"/>
<rect x="210.60" y="2233.65" width="1.40" height="14.90" fill="#0000B4"/>
<rect x="212.00" y="2244.55" width="0.90" height="4.00" fill="#0000B4"/>
<rect x="190.00" y="2327.75" width="3.00" height="4.00" fill="#C80000"/>
<rect x="233.00" y="2327.75" width="3.00" height="4.00" fill="#C80000"/>
<rect x="632.00" y="2330.15" width="2.50" height="1.60" fill="#C80000"/>
<rect x="207.10" y="2284.15" width="1.20" height="47.60" fill="#C80000"/>
<rect x="208.30" y="2265.65" width="1.40" height="66.10" fill="#C80000"/>
<rect x="209.70" y="2301.05" width="1.10" height="30.70" fill="#C80000"/>
<rect x="210.80" y="2314.95" width="1.20" height="16.80" fill="#C80000"/>
<rect x="212.00" y="2324.25" width="0.90" height="7.50" fill="#C80000"/>
<rect x="207.10" y="2377.65" width="2.60" height="41.80" fill="#9A00D0"/>
<rect x="209.70" y="2404.45" width="2.60" height="15.00" fill="#9A00D0"/>
<path fill="#0000B4" d="M881.00 1900.19h1.0v2.46h-1.0zM883.00 1899.25h1.0v3.40h-1.0zM884.00 1898.70h1.0v3.95h-1.0zM885.00 1898.63h1.0v4.02h-1.0zM886.00 1897.75h1.0v4.90h-1.0zM887.00 1897.32h1.0v5.33h-1.0zM888.00 1897.90h1.0v4.75h-1.0zM889.00 1897.81h1.0v4.84h-1.0zM890.00 1899.86h1.0v2.79h-1.0zM891.00 1898.04h1.0v4.61h-1.0zM892.00 1900.33h1.0v2.32h-1.0zM893.00 1900.83h1.0v1.82h-1.0zM894.00 1898.91h1.0v3.74h-1.0zM895.00 1898.33h1.0v4.32h-1.0zM896.00 1897.79h1.0v4.86h-1.0zM898.00 1898.18h1.0v4.47h-1.0zM900.00 1899.31h1.0v3.34h-1.0zM901.00 1898.02h1.0v4.63h-1.0zM902.00 1900.72h1.0v1.93h-1.0zM903.00 1898.04h1.0v4.61h-1.0zM904.00 1900.66h1.0v1.99h-1.0zM906.00 1897.78h1.0v4.87h-1.0zM910.00 1900.27h1.0v2.38h-1.0zM911.00 1898.20h1.0v4.45h-1.0zM913.00 1897.36h1.0v5.29h-1.0zM914.00 1899.17h1.0v3.48h-1.0zM915.00 1899.72h1.0v2.93h-1.0zM917.00 1897.21h1.0v5.44h-1.0zM919.00 1900.93h1.0v1.72h-1.0zM920.00 1898.38h1.0v4.27h-1.0zM921.00 1899.96h1.0v2.69h-1.0zM922.00 1897.78h1.0v4.87h-1.0zM926.00 1900.90h1.0v1.75h-1.0zM927.00 1898.11h1.0v4.54h-1.0zM929.00 1901.12h1.0v1.53h-1.0zM930.00 1897.45h1.0v5.20h-1.0zM931.00 1899.59h1.0v3.06h-1.0zM932.00 1897.61h1.0v5.04h-1.0zM933.00 1900.10h1.0v2.55h-1.0zM935.00 1900.49h1.0v2.16h-1.0zM936.00 1897.32h1.0v5.33h-1.0zM937.00 1899.14h1.0v3.51h-1.0zM938.00 1897.22h1.0v5.43h-1.0zM939.00 1898.75h1.0v3.90h-1.0zM940.00 1900.08h1.0v2.57h-1.0zM942.00 1898.66h1.0v3.99h-1.0zM943.00 1900.04h1.0v2.61h-1.0zM944.00 1900.39h1.0v2.26h-1.0zM945.00 1900.87h1.0v1.78h-1.0zM946.00 1900.58h1.0v2.07h-1.0zM947.00 1897.64h1.0v5.01h-1.0zM948.00 1898.44h1.0v4.21h-1.0zM950.00 1897.34h1.0v5.31h-1.0zM951.00 1899.31h1.0v3.34h-1.0zM952.00 1898.37h1.0v4.28h-1.0zM954.00 1897.84h1.0v4.81h-1.0zM955.00 1900.15h1.0v2.50h-1.0zM959.00 1897.49h1.0v5.16h-1.0zM964.00 1898.15h1.0v4.50h-1.0zM966.00 1899.13h1.0v3.52h-1.0zM967.00 1897.68h1.0v4.97h-1.0zM968.00 1898.16h1.0v4.49h-1.0zM969.00 1898.32h1.0v4.33h-1.0zM970.00 1900.83h1.0v1.82h-1.0zM971.00 1900.57h1.0v2.08h-1.0zM972.00 1898.02h1.0v4.63h-1.0zM973.00 1897.51h1.0v5.14h-1.0zM974.00 1898.91h1.0v3.74h-1.0zM975.00 1900.92h1.0v1.73h-1.0zM976.00 1898.27h1.0v4.38h-1.0zM977.00 1898.59h1.0v4.06h-1.0zM979.00 1900.51h1.0v2.14h-1.0zM981.00 1899.09h1.0v3.56h-1.0zM982.00 1897.33h1.0v5.32h-1.0zM983.00 1898.34h1.0v4.31h-1.0zM984.00 1899.33h1.0v3.32h-1.0zM985.00 1897.75h1.0v4.90h-1.0zM986.00 1898.16h1.0v4.49h-1.0zM987.00 1899.53h1.0v3.12h-1.0zM990.00 1901.13h1.0v1.52h-1.0zM991.00 1898.03h1.0v4.62h-1.0zM992.00 1898.01h1.0v4.64h-1.0zM996.00 1897.85h1.0v4.80h-1.0zM1021.00 1899.75h1.0v2.90h-1.0zM1022.00 1899.45h1.0v3.20h-1.0zM1023.00 1900.88h1.0v1.77h-1.0zM1024.00 1899.73h1.0v2.92h-1.0zM1025.00 1898.67h1.0v3.98h-1.0zM1026.00 1900.12h1.0v2.53h-1.0zM1027.00 1899.33h1.0v3.32h-1.0zM1042.00 1899.61h1.0v3.04h-1.0zM1043.00 1898.52h1.0v4.13h-1.0zM1044.00 1898.30h1.0v4.35h-1.0zM1045.00 1897.48h1.0v5.17h-1.0zM1090.00 1901.46h1.0v1.19h-1.0zM1091.00 1901.29h1.0v1.36h-1.0zM1092.00 1901.62h1.0v1.03h-1.0zM1093.00 1901.16h1.0v1.49h-1.0zM1094.00 1900.72h1.0v1.93h-1.0zM1095.00 1901.39h1.0v1.26h-1.0zM1096.00 1901.06h1.0v1.59h-1.0zM1135.00 1898.98h1.0v3.67h-1.0zM1136.00 1900.06h1.0v2.59h-1.0zM1137.00 1898.56h1.0v4.09h-1.0zM1138.00 1900.01h1.0v2.64h-1.0zM1139.00 1898.81h1.0v3.84h-1.0zM1140.00 1897.67h1.0v4.98h-1.0zM1141.00 1899.73h1.0v2.92h-1.0zM1142.00 1898.64h1.0v4.01h-1.0zM1172.00 1897.82h1.0v4.83h-1.0zM1173.00 1896.36h1.0v6.29h-1.0zM1174.00 1898.53h1.0v4.12h-1.0zM1175.00 1897.05h1.0v5.60h-1.0zM1176.00 1895.68h1.0v6.97h-1.0zM1177.00 1898.43h1.0v4.22h-1.0zM1178.00 1897.75h1.0v4.90h-1.0zM1179.00 1898.37h1.0v4.28h-1.0zM1226.00 1901.17h1.0v1.48h-1.0zM1227.00 1900.24h1.0v2.41h-1.0zM1228.00 1899.95h1.0v2.70h-1.0zM1229.00 1900.50h1.0v2.15h-1.0zM1234.00 1900.65h1.0v2.00h-1.0zM1235.00 1900.91h1.0v1.74h-1.0zM1236.00 1901.02h1.0v1.63h-1.0zM1237.00 1899.75h1.0v2.90h-1.0zM1296.00 1900.59h1.0v2.06h-1.0zM1297.00 1900.22h1.0v2.43h-1.0zM1298.00 1900.95h1.0v1.70h-1.0zM1299.00 1901.14h1.0v1.51h-1.0zM1353.00 1901.43h1.0v1.22h-1.0zM1354.00 1900.92h1.0v1.73h-1.0zM1355.00 1900.70h1.0v1.95h-1.0zM1356.00 1900.51h1.0v2.14h-1.0zM1357.00 1900.34h1.0v2.31h-1.0zM1403.00 1901.02h1.0v1.63h-1.0zM1404.00 1900.80h1.0v1.85h-1.0zM1405.00 1900.89h1.0v1.76h-1.0zM867.00 1900.65h1.0v2.00h-1.0z"/>
<path fill="#0000B4" d="M1397.00 1986.35h1.0v2.00h-1.0zM1398.00 1986.35h1.0v2.00h-1.0zM1399.00 1986.35h1.0v2.00h-1.0zM1400.00 1986.35h1.0v2.00h-1.0zM1401.00 1986.35h1.0v2.00h-1.0zM1409.50 1985.85h1.0v2.50h-1.0z"/>
<rect x="1147.80" y="2070.95" width="3.80" height="2.00" fill="#C80000"/>
<rect x="1296.50" y="2058.85" width="5.80" height="14.10" fill="#C80000"/>
<rect x="1342.80" y="2071.05" width="3.50" height="1.90" fill="#C80000"/>
<rect x="1352.40" y="2054.25" width="1.90" height="18.70" fill="#C80000"/>
<rect x="1354.30" y="2063.65" width="1.70" height="9.30" fill="#C80000"/>
<rect x="1356.00" y="2039.75" width="1.30" height="33.20" fill="#C80000"/>
<rect x="1357.30" y="2031.75" width="1.50" height="41.20" fill="#C80000"/>
<rect x="1358.80" y="2048.75" width="1.00" height="24.20" fill="#C80000"/>
<rect x="1404.00" y="2060.65" width="1.80" height="12.30" fill="#C80000"/>
<rect x="1405.80" y="2069.95" width="1.60" height="3.00" fill="#C80000"/>
<path fill="#C80000" d="M863.68 2062.94h1.0v10.01h-1.0zM864.48 2060.87h1.0v12.08h-1.0zM865.28 2058.41h1.0v14.54h-1.0zM866.08 2057.41h1.0v15.54h-1.0zM866.88 2059.68h1.0v13.27h-1.0zM867.68 2063.25h1.0v9.70h-1.0zM868.48 2063.88h1.0v9.07h-1.0zM869.28 2066.36h1.0v6.59h-1.0zM870.08 2067.40h1.0v5.55h-1.0zM870.88 2068.44h1.0v4.51h-1.0zM871.68 2067.34h1.0v5.61h-1.0zM872.48 2067.82h1.0v5.13h-1.0zM873.28 2069.51h1.0v3.44h-1.0zM874.08 2070.28h1.0v2.67h-1.0zM874.88 2071.90h1.0v1.05h-1.0zM875.68 2066.63h1.0v6.32h-1.0zM876.48 2061.84h1.0v11.11h-1.0zM877.28 2058.51h1.0v14.44h-1.0zM878.08 2052.94h1.0v20.01h-1.0zM878.88 2051.59h1.0v21.36h-1.0zM879.68 2048.80h1.0v24.15h-1.0zM880.48 2043.76h1.0v29.19h-1.0zM881.28 2050.84h1.0v22.11h-1.0zM882.08 2057.37h1.0v15.58h-1.0zM882.88 2053.98h1.0v18.97h-1.0zM883.68 2046.83h1.0v26.12h-1.0zM884.48 2047.76h1.0v25.19h-1.0zM885.28 2038.76h1.0v34.19h-1.0zM886.08 2032.73h1.0v40.22h-1.0zM886.88 2025.61h1.0v47.34h-1.0zM887.68 2023.29h1.0v49.66h-1.0zM888.48 2007.70h1.0v65.25h-1.0zM889.28 2018.16h1.0v54.79h-1.0zM890.08 2009.59h1.0v63.36h-1.0zM890.88 2031.67h1.0v41.28h-1.0zM891.68 2045.64h1.0v27.31h-1.0zM892.48 2051.34h1.0v21.61h-1.0zM893.28 2050.60h1.0v22.35h-1.0zM894.08 2054.10h1.0v18.85h-1.0zM894.88 2052.79h1.0v20.16h-1.0zM895.68 2050.79h1.0v22.16h-1.0zM896.48 2044.73h1.0v28.22h-1.0zM897.28 2050.69h1.0v22.26h-1.0zM898.08 2046.30h1.0v26.65h-1.0zM898.88 2050.92h1.0v22.03h-1.0zM899.68 2039.07h1.0v33.88h-1.0zM900.48 2027.71h1.0v45.24h-1.0zM901.28 2023.71h1.0v49.24h-1.0zM902.08 2023.84h1.0v49.11h-1.0zM902.88 2013.41h1.0v59.54h-1.0zM903.68 2017.37h1.0v55.58h-1.0zM904.48 2038.00h1.0v34.95h-1.0zM905.28 2054.86h1.0v18.09h-1.0zM906.08 2067.24h1.0v5.71h-1.0zM906.88 2066.99h1.0v5.96h-1.0zM907.68 2066.21h1.0v6.74h-1.0zM908.48 2067.66h1.0v5.29h-1.0zM909.28 2070.02h1.0v2.93h-1.0zM910.08 2064.39h1.0v8.56h-1.0zM910.88 2051.59h1.0v21.36h-1.0zM911.68 2042.25h1.0v30.70h-1.0zM912.48 2038.86h1.0v34.09h-1.0zM913.28 2041.81h1.0v31.14h-1.0zM914.08 2032.30h1.0v40.65h-1.0zM914.88 2028.43h1.0v44.52h-1.0zM915.68 2030.57h1.0v42.38h-1.0zM916.48 2017.89h1.0v55.06h-1.0zM917.28 2030.34h1.0v42.61h-1.0zM918.08 2027.65h1.0v45.30h-1.0zM918.88 2036.64h1.0v36.31h-1.0zM919.68 2042.70h1.0v30.25h-1.0zM920.48 2047.02h1.0v25.93h-1.0zM921.28 2048.87h1.0v24.08h-1.0zM922.08 2052.39h1.0v20.56h-1.0zM922.88 2055.68h1.0v17.27h-1.0zM923.68 2053.68h1.0v19.27h-1.0zM924.48 2052.70h1.0v20.25h-1.0zM925.28 2051.60h1.0v21.35h-1.0zM926.08 2050.62h1.0v22.33h-1.0zM926.88 2050.29h1.0v22.66h-1.0zM927.68 2050.87h1.0v22.08h-1.0zM928.48 2045.50h1.0v27.45h-1.0zM929.28 2032.99h1.0v39.96h-1.0zM930.08 2036.06h1.0v36.89h-1.0zM930.88 2033.26h1.0v39.69h-1.0zM931.68 2036.06h1.0v36.89h-1.0zM932.48 2047.14h1.0v25.81h-1.0zM933.28 2054.84h1.0v18.11h-1.0zM934.08 2050.33h1.0v22.62h-1.0zM934.88 2048.56h1.0v24.39h-1.0zM935.68 2051.75h1.0v21.20h-1.0zM936.48 2046.27h1.0v26.68h-1.0zM937.28 2046.92h1.0v26.03h-1.0zM938.08 2036.75h1.0v36.20h-1.0zM938.88 2042.42h1.0v30.53h-1.0zM939.68 2040.45h1.0v32.50h-1.0zM940.48 2038.56h1.0v34.39h-1.0zM941.28 2032.75h1.0v40.20h-1.0zM942.08 2038.05h1.0v34.90h-1.0zM942.88 2043.16h1.0v29.79h-1.0zM943.68 2043.74h1.0v29.21h-1.0zM944.48 2039.35h1.0v33.60h-1.0zM945.28 2037.63h1.0v35.32h-1.0zM946.08 2044.35h1.0v28.60h-1.0zM946.88 2047.16h1.0v25.79h-1.0zM947.68 2050.98h1.0v21.97h-1.0zM948.48 2058.83h1.0v14.12h-1.0zM949.28 2060.86h1.0v12.09h-1.0zM950.08 2058.78h1.0v14.17h-1.0zM950.88 2060.96h1.0v11.99h-1.0zM951.68 2060.17h1.0v12.78h-1.0zM952.48 2059.21h1.0v13.74h-1.0zM953.28 2059.57h1.0v13.38h-1.0zM954.08 2057.81h1.0v15.14h-1.0zM954.88 2058.55h1.0v14.40h-1.0zM955.68 2057.89h1.0v15.06h-1.0zM956.48 2058.17h1.0v14.78h-1.0zM957.28 2054.91h1.0v18.04h-1.0zM958.08 2058.01h1.0v14.94h-1.0zM958.88 2058.62h1.0v14.33h-1.0zM959.68 2061.23h1.0v11.72h-1.0zM960.48 2064.48h1.0v8.47h-1.0zM961.28 2064.91h1.0v8.04h-1.0zM962.08 2059.90h1.0v13.05h-1.0zM962.88 2059.24h1.0v13.71h-1.0zM963.68 2057.64h1.0v15.31h-1.0zM964.48 2053.74h1.0v19.21h-1.0zM965.28 2053.18h1.0v19.77h-1.0zM966.08 2056.19h1.0v16.76h-1.0zM966.88 2052.20h1.0v20.75h-1.0zM967.68 2057.11h1.0v15.84h-1.0zM968.48 2060.78h1.0v12.17h-1.0zM969.28 2061.32h1.0v11.63h-1.0zM970.08 2060.63h1.0v12.32h-1.0zM970.88 2063.84h1.0v9.11h-1.0zM971.68 2062.26h1.0v10.69h-1.0zM972.48 2061.78h1.0v11.17h-1.0zM973.28 2061.84h1.0v11.11h-1.0zM974.08 2056.22h1.0v16.73h-1.0zM974.88 2048.21h1.0v24.74h-1.0zM975.68 2047.28h1.0v25.67h-1.0zM976.48 2041.95h1.0v31.00h-1.0zM977.28 2043.43h1.0v29.52h-1.0zM978.08 2049.84h1.0v23.11h-1.0zM978.88 2058.05h1.0v14.90h-1.0zM979.68 2062.07h1.0v10.88h-1.0zM980.48 2053.88h1.0v19.07h-1.0zM981.28 2054.03h1.0v18.92h-1.0zM982.08 2052.38h1.0v20.57h-1.0zM982.88 2056.18h1.0v16.77h-1.0zM983.68 2058.15h1.0v14.80h-1.0zM984.48 2056.46h1.0v16.49h-1.0zM985.28 2056.52h1.0v16.43h-1.0zM986.08 2059.02h1.0v13.93h-1.0zM986.88 2054.26h1.0v18.69h-1.0zM987.68 2049.10h1.0v23.85h-1.0zM988.48 2040.33h1.0v32.62h-1.0zM989.28 2032.17h1.0v40.78h-1.0zM990.08 2040.34h1.0v32.61h-1.0zM990.88 2033.79h1.0v39.16h-1.0zM991.68 2036.82h1.0v36.13h-1.0zM992.48 2036.60h1.0v36.35h-1.0zM993.28 2031.48h1.0v41.47h-1.0zM994.08 2037.83h1.0v35.12h-1.0zM994.88 2035.16h1.0v37.79h-1.0zM1020.39 2058.95h1.0v14.00h-1.0zM1021.19 2031.80h1.0v41.15h-1.0zM1021.99 2029.04h1.0v43.91h-1.0zM1022.79 2032.60h1.0v40.35h-1.0zM1023.59 2030.51h1.0v42.44h-1.0zM1024.39 2029.10h1.0v43.85h-1.0zM1025.19 2028.67h1.0v44.28h-1.0zM1025.99 2025.37h1.0v47.58h-1.0zM1026.79 2030.61h1.0v42.34h-1.0zM1027.59 2030.71h1.0v42.24h-1.0zM1028.39 2040.86h1.0v32.09h-1.0zM1041.68 2026.25h1.0v46.70h-1.0zM1042.48 2030.00h1.0v42.95h-1.0zM1043.28 2031.15h1.0v41.80h-1.0zM1044.08 2041.91h1.0v31.04h-1.0zM1044.88 2053.24h1.0v19.71h-1.0zM1045.68 2066.86h1.0v6.09h-1.0zM1046.48 2070.95h1.0v2.00h-1.0zM1089.61 2045.54h1.0v27.41h-1.0zM1090.41 2038.12h1.0v34.83h-1.0zM1091.21 2030.89h1.0v42.06h-1.0zM1092.01 2027.66h1.0v45.29h-1.0zM1092.81 2028.60h1.0v44.35h-1.0zM1093.61 2040.36h1.0v32.59h-1.0zM1094.41 2041.91h1.0v31.04h-1.0zM1095.21 2044.02h1.0v28.93h-1.0zM1096.01 2040.43h1.0v32.52h-1.0zM1096.81 2039.21h1.0v33.74h-1.0zM1097.61 2041.59h1.0v31.36h-1.0zM1134.86 2034.39h1.0v38.56h-1.0zM1135.66 2031.83h1.0v41.12h-1.0zM1136.46 2035.75h1.0v37.20h-1.0zM1137.26 2043.34h1.0v29.61h-1.0zM1138.06 2052.79h1.0v20.16h-1.0zM1138.86 2050.60h1.0v22.35h-1.0zM1139.66 2045.25h1.0v27.70h-1.0zM1140.46 2046.87h1.0v26.08h-1.0zM1141.26 2049.96h1.0v22.99h-1.0zM1142.06 2050.03h1.0v22.92h-1.0zM1142.86 2052.84h1.0v20.11h-1.0zM1143.66 2052.30h1.0v20.65h-1.0zM1144.46 2054.12h1.0v18.83h-1.0zM1172.06 2045.51h1.0v27.44h-1.0zM1172.86 2045.53h1.0v27.42h-1.0zM1173.66 2044.08h1.0v28.87h-1.0zM1174.46 2039.76h1.0v33.19h-1.0zM1175.26 2039.12h1.0v33.83h-1.0zM1176.06 2044.40h1.0v28.55h-1.0zM1176.86 2050.21h1.0v22.74h-1.0zM1177.66 2029.16h1.0v43.79h-1.0zM1178.46 2026.13h1.0v46.82h-1.0zM1179.26 2034.37h1.0v38.58h-1.0zM1180.06 2043.78h1.0v29.17h-1.0zM1180.86 2056.22h1.0v16.73h-1.0zM1222.67 2056.08h1.0v16.87h-1.0zM1223.47 2048.63h1.0v24.32h-1.0zM1224.27 2045.75h1.0v27.20h-1.0zM1225.07 2047.08h1.0v25.87h-1.0zM1225.87 2049.87h1.0v23.08h-1.0zM1226.67 2056.18h1.0v16.77h-1.0zM1227.47 2060.17h1.0v12.78h-1.0zM1228.27 2054.96h1.0v17.99h-1.0zM1229.07 2048.82h1.0v24.13h-1.0zM1229.87 2051.84h1.0v21.11h-1.0zM1230.67 2051.18h1.0v21.77h-1.0zM1234.07 2069.33h1.0v3.62h-1.0zM1234.87 2054.96h1.0v17.99h-1.0zM1235.67 2043.33h1.0v29.62h-1.0zM1236.47 2040.46h1.0v32.49h-1.0zM1237.27 2044.55h1.0v28.40h-1.0zM1238.07 2044.46h1.0v28.49h-1.0zM1238.87 2050.08h1.0v22.87h-1.0zM1239.67 2051.73h1.0v21.22h-1.0z"/>
<rect x="984.50" y="2241.75" width="10.50" height="2.00" fill="#0000B4"/>
<polygon points="1400.4,2243.8 1400.4,2243.2 1404.0,2239.6 1406.1,2237.5 1409.2,2229.2 1410.3,2209.4 1412.3,2202.1 1415.5,2200.1 1420.7,2209.4 1421.2,2215.7 1421.7,2232.3 1423.8,2240.6 1425.9,2243.2 1425.9,2243.8" fill="#0000B4"/>
<rect x="984.50" y="2322.85" width="10.50" height="4.30" fill="#C80000"/>
<polygon points="1399.3,2327.2 1399.3,2326.5 1400.4,2316.6 1402.5,2312.5 1406.1,2306.2 1407.1,2294.8 1409.2,2289.6 1410.3,2273.0 1412.9,2273.0 1417.0,2277.1 1418.6,2286.5 1421.2,2296.9 1421.7,2315.6 1425.9,2326.5 1425.9,2327.2" fill="#C80000"/>
<rect x="1407.70" y="2401.90" width="8.30" height="12.50" fill="#9A00D0"/>
<text x="68.3" y="1987.0" font-size="29.2" text-anchor="middle" transform="rotate(-90 68.3 1987.0)">RNA-seq</text>
<rect x="82.20" y="1845.50" width="3.90" height="288.90" fill="#000"/>
<text x="121.2" y="1909.4" font-size="30" text-anchor="middle" transform="rotate(-90 121.2 1909.4)">NS</text>
<rect x="140.20" y="1838.10" width="3.70" height="126.80" fill="#000"/>
<text x="121.2" y="2061.6" font-size="30" text-anchor="middle" transform="rotate(-90 121.2 2061.6)">IFNa</text>
<rect x="140.20" y="2017.30" width="3.70" height="115.30" fill="#000"/>
<rect x="162.10" y="1865.30" width="7.90" height="3.40" fill="#000"/>
<rect x="162.10" y="2045.20" width="7.90" height="3.40" fill="#000"/>
<rect x="157.20" y="1947.00" width="13.60" height="3.00" fill="#000"/>
<rect x="162.50" y="1941.70" width="3.00" height="13.60" fill="#000"/>
<rect x="157.20" y="2121.80" width="13.60" height="3.00" fill="#000"/>
<rect x="162.50" y="2116.50" width="3.00" height="13.60" fill="#000"/>
<text x="66.2" y="2297.7" font-size="29.3" text-anchor="middle" transform="rotate(-90 66.2 2297.7)">CapSTARR</text>
<rect x="82.90" y="2182.00" width="3.90" height="225.50" fill="#000"/>
<text x="0" y="0" font-size="29" text-anchor="middle" transform="translate(139.0 2213.8) rotate(-55) translate(0 10.3)">NS</text>
<text x="0" y="0" font-size="29" text-anchor="middle" transform="translate(139.6 2296.0) rotate(-55) translate(0 10.3)">IFNa</text>
<text x="0" y="0" font-size="29" text-anchor="middle" transform="translate(137.2 2380.0) rotate(-55) translate(0 10.3)">FC</text>
<text x="61.4" y="2445.0" font-size="29.4">Ref-seq</text>
<text x="433.3" y="2499.5" font-size="25.2" font-style="italic">SP100</text>
<text x="1110.8" y="2495.6" font-size="25" font-style="italic">GBP4</text>
<rect x="210.00" y="2444.00" width="545.00" height="2.20" fill="#0000B0"/>
<rect x="209.20" y="2428.90" width="1.80" height="28.40" fill="#0000B0"/>
<rect x="214.10" y="2428.90" width="1.80" height="28.40" fill="#0000B0"/>
<rect x="311.30" y="2428.90" width="1.80" height="28.40" fill="#0000B0"/>
<rect x="321.40" y="2428.90" width="1.80" height="28.40" fill="#0000B0"/>
<rect x="327.90" y="2428.90" width="1.80" height="28.40" fill="#0000B0"/>
<rect x="338.00" y="2428.90" width="1.80" height="28.40" fill="#0000B0"/>
<rect x="348.10" y="2428.90" width="1.80" height="28.40" fill="#0000B0"/>
<rect x="349.80" y="2428.90" width="1.80" height="28.40" fill="#0000B0"/>
<rect x="352.20" y="2428.90" width="1.80" height="28.40" fill="#0000B0"/>
<rect x="398.80" y="2428.90" width="1.80" height="28.40" fill="#0000B0"/>
<rect x="403.60" y="2428.90" width="1.80" height="28.40" fill="#0000B0"/>
<rect x="409.70" y="2428.90" width="1.80" height="28.40" fill="#0000B0"/>
<rect x="419.80" y="2428.90" width="1.80" height="28.40" fill="#0000B0"/>
<rect x="422.70" y="2428.90" width="1.80" height="28.40" fill="#0000B0"/>
<rect x="432.00" y="2428.90" width="1.80" height="28.40" fill="#0000B0"/>
<rect x="437.20" y="2428.90" width="1.80" height="28.40" fill="#0000B0"/>
<rect x="449.00" y="2428.90" width="1.80" height="28.40" fill="#0000B0"/>
<rect x="452.20" y="2428.90" width="1.80" height="28.40" fill="#0000B0"/>
<rect x="455.10" y="2428.90" width="1.80" height="28.40" fill="#0000B0"/>
<rect x="539.30" y="2428.90" width="1.80" height="28.40" fill="#0000B0"/>
<rect x="556.30" y="2428.90" width="1.80" height="28.40" fill="#0000B0"/>
<rect x="575.80" y="2428.90" width="1.80" height="28.40" fill="#0000B0"/>
<rect x="579.80" y="2428.90" width="1.80" height="28.40" fill="#0000B0"/>
<rect x="589.90" y="2428.90" width="1.80" height="28.40" fill="#0000B0"/>
<rect x="596.00" y="2428.90" width="1.80" height="28.40" fill="#0000B0"/>
<rect x="610.20" y="2428.90" width="1.80" height="28.40" fill="#0000B0"/>
<rect x="729.70" y="2428.90" width="1.80" height="28.40" fill="#0000B0"/>
<rect x="735.70" y="2428.90" width="1.80" height="28.40" fill="#0000B0"/>
<rect x="737.90" y="2428.90" width="1.80" height="28.40" fill="#0000B0"/>
<rect x="739.90" y="2428.90" width="1.80" height="28.40" fill="#0000B0"/>
<rect x="741.80" y="2428.90" width="1.80" height="28.40" fill="#0000B0"/>
<rect x="208.80" y="2436.40" width="3.20" height="15.10" fill="#0000B0"/>
<rect x="628.50" y="2428.90" width="4.10" height="28.40" fill="#0000B0"/>
<rect x="746.80" y="2435.40" width="8.10" height="16.20" fill="#0000B0"/>
<path d="M220.6 2440.6L223.6 2445.1L220.6 2449.6M224.7 2440.6L227.7 2445.1L224.7 2449.6M245.5 2440.6L248.5 2445.1L245.5 2449.6M249.6 2440.6L252.6 2445.1L249.6 2449.6M270.5 2440.6L273.5 2445.1L270.5 2449.6M274.5 2440.6L277.5 2445.1L274.5 2449.6M296.0 2440.6L299.0 2445.1L296.0 2449.6M300.1 2440.6L303.1 2445.1L300.1 2449.6M363.2 2440.6L366.2 2445.1L363.2 2449.6M388.8 2440.6L391.8 2445.1L388.8 2449.6M464.5 2440.6L467.5 2445.1L464.5 2449.6M490.0 2440.6L493.0 2445.1L490.0 2449.6M515.5 2440.6L518.5 2445.1L515.5 2449.6M550.0 2440.6L553.0 2445.1L550.0 2449.6M567.0 2440.6L570.0 2445.1L567.0 2449.6M619.6 2440.6L622.6 2445.1L619.6 2449.6M645.1 2440.6L648.1 2445.1L645.1 2449.6M670.2 2440.6L673.2 2445.1L670.2 2449.6M695.8 2440.6L698.8 2445.1L695.8 2449.6M720.9 2440.6L723.9 2445.1L720.9 2449.6" fill="none" stroke="#3A3AFF" stroke-width="1.1"/>
<path d="M207.7 2457.8 L224 2457.8 L224 2453.2 L240.2 2462 L224 2470.8 L224 2466.2 L207.7 2466.2 A4.2 4.2 0 0 1 207.7 2457.8Z" fill="#0000B0"/>
<rect x="861.80" y="2438.60" width="545.50" height="2.20" fill="#0000B0"/>
<rect x="861.80" y="2430.80" width="132.40" height="16.80" fill="#0000B0"/>
<rect x="989.50" y="2424.20" width="5.00" height="28.80" fill="#0000B0"/>
<rect x="1021.45" y="2424.20" width="5.50" height="28.80" fill="#0000B0"/>
<rect x="1042.35" y="2424.20" width="2.50" height="28.80" fill="#0000B0"/>
<rect x="1091.00" y="2424.20" width="5.00" height="28.80" fill="#0000B0"/>
<rect x="1135.75" y="2424.20" width="6.50" height="28.80" fill="#0000B0"/>
<rect x="1173.75" y="2424.20" width="5.50" height="28.80" fill="#0000B0"/>
<rect x="1224.15" y="2424.20" width="3.50" height="28.80" fill="#0000B0"/>
<rect x="1235.65" y="2424.20" width="2.50" height="28.80" fill="#0000B0"/>
<rect x="1297.20" y="2424.20" width="3.00" height="28.80" fill="#0000B0"/>
<rect x="1352.05" y="2424.20" width="5.50" height="28.80" fill="#0000B0"/>
<rect x="1405.80" y="2424.20" width="2.00" height="28.80" fill="#0000B0"/>
<path d="M1012.6 2435.2L1009.6 2439.7L1012.6 2444.2M1062.6 2435.2L1059.6 2439.7L1062.6 2444.2M1113.1 2435.2L1110.1 2439.7L1113.1 2444.2M1160.9 2435.2L1157.9 2439.7L1160.9 2444.2M1196.7 2435.2L1193.7 2439.7L1196.7 2444.2M1224.2 2435.2L1221.2 2439.7L1224.2 2444.2M1255.2 2435.2L1252.2 2439.7L1255.2 2444.2M1282.7 2435.2L1279.7 2439.7L1282.7 2444.2M1317.3 2435.2L1314.3 2439.7L1317.3 2444.2M1344.8 2435.2L1341.8 2439.7L1344.8 2444.2M1375.8 2435.2L1372.8 2439.7L1375.8 2444.2M1402.1 2435.2L1399.1 2439.7L1402.1 2444.2" fill="none" stroke="#3A3AFF" stroke-width="1.1"/>
<path d="M1406.4 2459.1 L1390.5 2459.1 L1390.5 2453.9 L1374.2 2462.7 L1390.5 2471 L1390.5 2466.3 L1406.4 2466.3 A3.6 3.6 0 0 0 1406.4 2459.1Z" fill="#0000B0"/>
<text x="768.6" y="1856.8" font-size="25.6" text-anchor="end">[1-1000]</text>
<text x="768.6" y="1941.4" font-size="25.6" text-anchor="end">[1-1000]</text>
<text x="768.6" y="2025.6" font-size="25.6" text-anchor="end">[1-1000]</text>
<text x="768.6" y="2109.1" font-size="25.6" text-anchor="end">[1-1000]</text>
<text x="768.6" y="2193.8" font-size="25.6" text-anchor="end">[1-2500]</text>
<text x="768.6" y="2278.1" font-size="25.6" text-anchor="end">[1-2500]</text>
<text x="768.6" y="2361.9" font-size="25.6" text-anchor="end">[1-5]</text>
<text x="843.3" y="1856.9" font-size="25.6">[1-500]</text>
<text x="843.3" y="1941.4" font-size="25.6">[1-500]</text>
<text x="843.3" y="2025.8" font-size="25.6">[1-500]</text>
<text x="843.3" y="2109.6" font-size="25.6">[1-500]</text>
<text x="843.3" y="2193.6" font-size="25.6">[1-1250]</text>
<text x="843.3" y="2278.0" font-size="25.6">[1-1250]</text>
<text x="843.3" y="2362.4" font-size="25.6">[1-5]</text>
</svg>
</body></html>
